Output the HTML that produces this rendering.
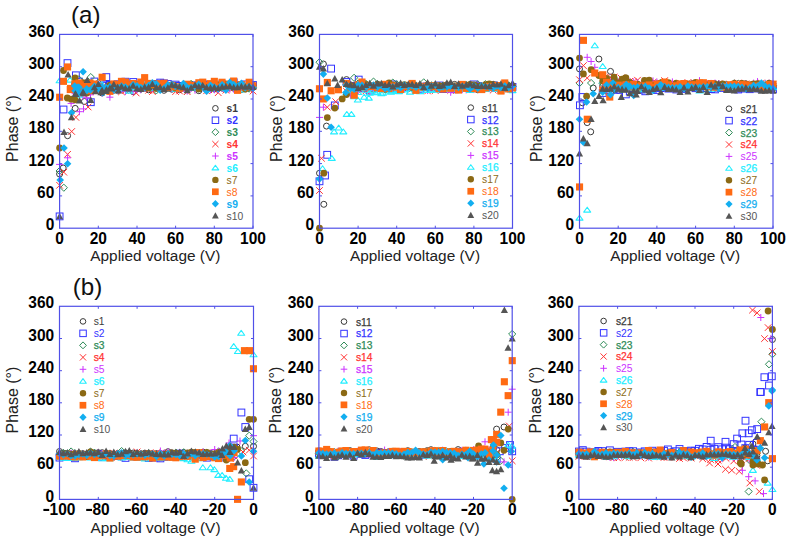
<!DOCTYPE html><html><head><meta charset="utf-8"><style>
html,body{margin:0;padding:0;background:#fff;width:790px;height:544px;overflow:hidden}
svg{display:block}
text{font-family:"Liberation Sans",sans-serif}
.tk{font-size:15.5px;font-weight:bold;fill:#000}
.al{font-size:15.4px;fill:#222}
.lg{font-size:10.3px}
.ph{font-size:16px}
.pl{font-size:22px;fill:#111}
</style></head><body><svg width="790" height="544" viewBox="0 0 790 544">
<text transform="translate(54.3,230.3) scale(1,1.1)" text-anchor="end" class="tk">0</text>
<text transform="translate(54.3,198.0) scale(1,1.1)" text-anchor="end" class="tk">60</text>
<text transform="translate(54.3,165.7) scale(1,1.1)" text-anchor="end" class="tk">120</text>
<text transform="translate(54.3,133.4) scale(1,1.1)" text-anchor="end" class="tk">180</text>
<text transform="translate(54.3,101.1) scale(1,1.1)" text-anchor="end" class="tk">240</text>
<text transform="translate(54.3,68.8) scale(1,1.1)" text-anchor="end" class="tk">300</text>
<text transform="translate(54.3,36.5) scale(1,1.1)" text-anchor="end" class="tk">360</text>
<text transform="translate(59.6,244.0) scale(1,1.1)" text-anchor="middle" class="tk">0</text>
<text transform="translate(98.3,244.0) scale(1,1.1)" text-anchor="middle" class="tk">20</text>
<text transform="translate(137.0,244.0) scale(1,1.1)" text-anchor="middle" class="tk">40</text>
<text transform="translate(175.6,244.0) scale(1,1.1)" text-anchor="middle" class="tk">60</text>
<text transform="translate(214.3,244.0) scale(1,1.1)" text-anchor="middle" class="tk">80</text>
<text transform="translate(253.0,244.0) scale(1,1.1)" text-anchor="middle" class="tk">100</text>
<text x="155.3" y="261.4" text-anchor="middle" class="al">Applied voltage (V)</text>
<text transform="translate(18.3,128.5) rotate(-90)" text-anchor="middle" class="al ph">Phase (°)</text>
<text transform="translate(314.2,230.3) scale(1,1.1)" text-anchor="end" class="tk">0</text>
<text transform="translate(314.2,198.0) scale(1,1.1)" text-anchor="end" class="tk">60</text>
<text transform="translate(314.2,165.7) scale(1,1.1)" text-anchor="end" class="tk">120</text>
<text transform="translate(314.2,133.4) scale(1,1.1)" text-anchor="end" class="tk">180</text>
<text transform="translate(314.2,101.1) scale(1,1.1)" text-anchor="end" class="tk">240</text>
<text transform="translate(314.2,68.8) scale(1,1.1)" text-anchor="end" class="tk">300</text>
<text transform="translate(314.2,36.5) scale(1,1.1)" text-anchor="end" class="tk">360</text>
<text transform="translate(319.5,244.0) scale(1,1.1)" text-anchor="middle" class="tk">0</text>
<text transform="translate(358.1,244.0) scale(1,1.1)" text-anchor="middle" class="tk">20</text>
<text transform="translate(396.7,244.0) scale(1,1.1)" text-anchor="middle" class="tk">40</text>
<text transform="translate(435.3,244.0) scale(1,1.1)" text-anchor="middle" class="tk">60</text>
<text transform="translate(473.9,244.0) scale(1,1.1)" text-anchor="middle" class="tk">80</text>
<text transform="translate(512.5,244.0) scale(1,1.1)" text-anchor="middle" class="tk">100</text>
<text x="415.0" y="261.4" text-anchor="middle" class="al">Applied voltage (V)</text>
<text transform="translate(281.9,128.5) rotate(-90)" text-anchor="middle" class="al ph">Phase (°)</text>
<text transform="translate(574.2,230.3) scale(1,1.1)" text-anchor="end" class="tk">0</text>
<text transform="translate(574.2,198.0) scale(1,1.1)" text-anchor="end" class="tk">60</text>
<text transform="translate(574.2,165.7) scale(1,1.1)" text-anchor="end" class="tk">120</text>
<text transform="translate(574.2,133.4) scale(1,1.1)" text-anchor="end" class="tk">180</text>
<text transform="translate(574.2,101.1) scale(1,1.1)" text-anchor="end" class="tk">240</text>
<text transform="translate(574.2,68.8) scale(1,1.1)" text-anchor="end" class="tk">300</text>
<text transform="translate(574.2,36.5) scale(1,1.1)" text-anchor="end" class="tk">360</text>
<text transform="translate(579.5,244.0) scale(1,1.1)" text-anchor="middle" class="tk">0</text>
<text transform="translate(618.2,244.0) scale(1,1.1)" text-anchor="middle" class="tk">20</text>
<text transform="translate(656.9,244.0) scale(1,1.1)" text-anchor="middle" class="tk">40</text>
<text transform="translate(695.6,244.0) scale(1,1.1)" text-anchor="middle" class="tk">60</text>
<text transform="translate(734.3,244.0) scale(1,1.1)" text-anchor="middle" class="tk">80</text>
<text transform="translate(773.0,244.0) scale(1,1.1)" text-anchor="middle" class="tk">100</text>
<text x="675.2" y="261.4" text-anchor="middle" class="al">Applied voltage (V)</text>
<text transform="translate(541.9,128.5) rotate(-90)" text-anchor="middle" class="al ph">Phase (°)</text>
<text transform="translate(54.2,501.5) scale(1,1.1)" text-anchor="end" class="tk">0</text>
<text transform="translate(54.2,469.3) scale(1,1.1)" text-anchor="end" class="tk">60</text>
<text transform="translate(54.2,437.1) scale(1,1.1)" text-anchor="end" class="tk">120</text>
<text transform="translate(54.2,404.9) scale(1,1.1)" text-anchor="end" class="tk">180</text>
<text transform="translate(54.2,372.8) scale(1,1.1)" text-anchor="end" class="tk">240</text>
<text transform="translate(54.2,340.6) scale(1,1.1)" text-anchor="end" class="tk">300</text>
<text transform="translate(54.2,308.4) scale(1,1.1)" text-anchor="end" class="tk">360</text>
<rect x="43.4" y="508.9" width="5.8" height="2.1" fill="#000"/>
<text transform="translate(49.6,515.2) scale(1,1.1)" class="tk">100</text>
<rect x="86.2" y="508.9" width="5.8" height="2.1" fill="#000"/>
<text transform="translate(92.5,515.2) scale(1,1.1)" class="tk">80</text>
<rect x="125.0" y="508.9" width="5.8" height="2.1" fill="#000"/>
<text transform="translate(131.2,515.2) scale(1,1.1)" class="tk">60</text>
<rect x="163.8" y="508.9" width="5.8" height="2.1" fill="#000"/>
<text transform="translate(170.1,515.2) scale(1,1.1)" class="tk">40</text>
<rect x="202.6" y="508.9" width="5.8" height="2.1" fill="#000"/>
<text transform="translate(208.8,515.2) scale(1,1.1)" class="tk">20</text>
<text transform="translate(253.5,515.2) scale(1,1.1)" text-anchor="middle" class="tk">0</text>
<text x="155.5" y="532.6" text-anchor="middle" class="al">Applied voltage (V)</text>
<text transform="translate(18.3,400.1) rotate(-90)" text-anchor="middle" class="al ph">Phase (°)</text>
<text transform="translate(313.6,501.5) scale(1,1.1)" text-anchor="end" class="tk">0</text>
<text transform="translate(313.6,469.3) scale(1,1.1)" text-anchor="end" class="tk">60</text>
<text transform="translate(313.6,437.1) scale(1,1.1)" text-anchor="end" class="tk">120</text>
<text transform="translate(313.6,404.9) scale(1,1.1)" text-anchor="end" class="tk">180</text>
<text transform="translate(313.6,372.8) scale(1,1.1)" text-anchor="end" class="tk">240</text>
<text transform="translate(313.6,340.6) scale(1,1.1)" text-anchor="end" class="tk">300</text>
<text transform="translate(313.6,308.4) scale(1,1.1)" text-anchor="end" class="tk">360</text>
<rect x="302.8" y="508.9" width="5.8" height="2.1" fill="#000"/>
<text transform="translate(309.0,515.2) scale(1,1.1)" class="tk">100</text>
<rect x="345.5" y="508.9" width="5.8" height="2.1" fill="#000"/>
<text transform="translate(351.7,515.2) scale(1,1.1)" class="tk">80</text>
<rect x="384.2" y="508.9" width="5.8" height="2.1" fill="#000"/>
<text transform="translate(390.4,515.2) scale(1,1.1)" class="tk">60</text>
<rect x="422.8" y="508.9" width="5.8" height="2.1" fill="#000"/>
<text transform="translate(429.0,515.2) scale(1,1.1)" class="tk">40</text>
<rect x="461.5" y="508.9" width="5.8" height="2.1" fill="#000"/>
<text transform="translate(467.7,515.2) scale(1,1.1)" class="tk">20</text>
<text transform="translate(512.2,515.2) scale(1,1.1)" text-anchor="middle" class="tk">0</text>
<text x="414.6" y="532.6" text-anchor="middle" class="al">Applied voltage (V)</text>
<text transform="translate(281.3,400.1) rotate(-90)" text-anchor="middle" class="al ph">Phase (°)</text>
<text transform="translate(573.6,501.5) scale(1,1.1)" text-anchor="end" class="tk">0</text>
<text transform="translate(573.6,469.3) scale(1,1.1)" text-anchor="end" class="tk">60</text>
<text transform="translate(573.6,437.1) scale(1,1.1)" text-anchor="end" class="tk">120</text>
<text transform="translate(573.6,404.9) scale(1,1.1)" text-anchor="end" class="tk">180</text>
<text transform="translate(573.6,372.8) scale(1,1.1)" text-anchor="end" class="tk">240</text>
<text transform="translate(573.6,340.6) scale(1,1.1)" text-anchor="end" class="tk">300</text>
<text transform="translate(573.6,308.4) scale(1,1.1)" text-anchor="end" class="tk">360</text>
<rect x="562.8" y="508.9" width="5.8" height="2.1" fill="#000"/>
<text transform="translate(569.0,515.2) scale(1,1.1)" class="tk">100</text>
<rect x="605.6" y="508.9" width="5.8" height="2.1" fill="#000"/>
<text transform="translate(611.8,515.2) scale(1,1.1)" class="tk">80</text>
<rect x="644.2" y="508.9" width="5.8" height="2.1" fill="#000"/>
<text transform="translate(650.4,515.2) scale(1,1.1)" class="tk">60</text>
<rect x="683.0" y="508.9" width="5.8" height="2.1" fill="#000"/>
<text transform="translate(689.1,515.2) scale(1,1.1)" class="tk">40</text>
<rect x="721.7" y="508.9" width="5.8" height="2.1" fill="#000"/>
<text transform="translate(727.9,515.2) scale(1,1.1)" class="tk">20</text>
<text transform="translate(772.4,515.2) scale(1,1.1)" text-anchor="middle" class="tk">0</text>
<text x="674.6" y="532.6" text-anchor="middle" class="al">Applied voltage (V)</text>
<text transform="translate(541.3,400.1) rotate(-90)" text-anchor="middle" class="al ph">Phase (°)</text>
<circle cx="75.1" cy="89.1" r="3.0" fill="none" stroke="#3a3a3a" stroke-width="1"/>
<circle cx="78.9" cy="90.3" r="3.0" fill="none" stroke="#3a3a3a" stroke-width="1"/>
<circle cx="82.8" cy="90.0" r="3.0" fill="none" stroke="#3a3a3a" stroke-width="1"/>
<circle cx="86.7" cy="82.6" r="3.0" fill="none" stroke="#3a3a3a" stroke-width="1"/>
<circle cx="90.5" cy="85.3" r="3.0" fill="none" stroke="#3a3a3a" stroke-width="1"/>
<circle cx="94.4" cy="88.4" r="3.0" fill="none" stroke="#3a3a3a" stroke-width="1"/>
<circle cx="98.3" cy="87.4" r="3.0" fill="none" stroke="#3a3a3a" stroke-width="1"/>
<circle cx="102.1" cy="93.0" r="3.0" fill="none" stroke="#3a3a3a" stroke-width="1"/>
<circle cx="106.0" cy="88.7" r="3.0" fill="none" stroke="#3a3a3a" stroke-width="1"/>
<circle cx="109.9" cy="90.3" r="3.0" fill="none" stroke="#3a3a3a" stroke-width="1"/>
<circle cx="113.8" cy="87.0" r="3.0" fill="none" stroke="#3a3a3a" stroke-width="1"/>
<circle cx="117.6" cy="88.1" r="3.0" fill="none" stroke="#3a3a3a" stroke-width="1"/>
<circle cx="121.5" cy="88.7" r="3.0" fill="none" stroke="#3a3a3a" stroke-width="1"/>
<circle cx="125.4" cy="87.7" r="3.0" fill="none" stroke="#3a3a3a" stroke-width="1"/>
<circle cx="129.2" cy="86.8" r="3.0" fill="none" stroke="#3a3a3a" stroke-width="1"/>
<circle cx="133.1" cy="91.6" r="3.0" fill="none" stroke="#3a3a3a" stroke-width="1"/>
<circle cx="137.0" cy="88.9" r="3.0" fill="none" stroke="#3a3a3a" stroke-width="1"/>
<circle cx="140.8" cy="87.4" r="3.0" fill="none" stroke="#3a3a3a" stroke-width="1"/>
<circle cx="144.7" cy="88.2" r="3.0" fill="none" stroke="#3a3a3a" stroke-width="1"/>
<circle cx="148.6" cy="89.8" r="3.0" fill="none" stroke="#3a3a3a" stroke-width="1"/>
<circle cx="152.4" cy="87.7" r="3.0" fill="none" stroke="#3a3a3a" stroke-width="1"/>
<circle cx="156.3" cy="88.1" r="3.0" fill="none" stroke="#3a3a3a" stroke-width="1"/>
<circle cx="160.2" cy="88.9" r="3.0" fill="none" stroke="#3a3a3a" stroke-width="1"/>
<circle cx="164.0" cy="90.3" r="3.0" fill="none" stroke="#3a3a3a" stroke-width="1"/>
<circle cx="167.9" cy="88.2" r="3.0" fill="none" stroke="#3a3a3a" stroke-width="1"/>
<circle cx="171.8" cy="89.2" r="3.0" fill="none" stroke="#3a3a3a" stroke-width="1"/>
<circle cx="175.6" cy="88.6" r="3.0" fill="none" stroke="#3a3a3a" stroke-width="1"/>
<circle cx="179.5" cy="89.8" r="3.0" fill="none" stroke="#3a3a3a" stroke-width="1"/>
<circle cx="183.4" cy="87.4" r="3.0" fill="none" stroke="#3a3a3a" stroke-width="1"/>
<circle cx="187.2" cy="87.3" r="3.0" fill="none" stroke="#3a3a3a" stroke-width="1"/>
<circle cx="191.1" cy="86.8" r="3.0" fill="none" stroke="#3a3a3a" stroke-width="1"/>
<circle cx="195.0" cy="86.8" r="3.0" fill="none" stroke="#3a3a3a" stroke-width="1"/>
<circle cx="198.8" cy="90.7" r="3.0" fill="none" stroke="#3a3a3a" stroke-width="1"/>
<circle cx="202.7" cy="87.2" r="3.0" fill="none" stroke="#3a3a3a" stroke-width="1"/>
<circle cx="206.6" cy="86.6" r="3.0" fill="none" stroke="#3a3a3a" stroke-width="1"/>
<circle cx="210.5" cy="88.3" r="3.0" fill="none" stroke="#3a3a3a" stroke-width="1"/>
<circle cx="214.3" cy="89.0" r="3.0" fill="none" stroke="#3a3a3a" stroke-width="1"/>
<circle cx="218.2" cy="86.1" r="3.0" fill="none" stroke="#3a3a3a" stroke-width="1"/>
<circle cx="222.1" cy="88.1" r="3.0" fill="none" stroke="#3a3a3a" stroke-width="1"/>
<circle cx="225.9" cy="87.9" r="3.0" fill="none" stroke="#3a3a3a" stroke-width="1"/>
<circle cx="229.8" cy="86.5" r="3.0" fill="none" stroke="#3a3a3a" stroke-width="1"/>
<circle cx="233.7" cy="88.2" r="3.0" fill="none" stroke="#3a3a3a" stroke-width="1"/>
<circle cx="237.5" cy="89.4" r="3.0" fill="none" stroke="#3a3a3a" stroke-width="1"/>
<circle cx="241.4" cy="89.5" r="3.0" fill="none" stroke="#3a3a3a" stroke-width="1"/>
<circle cx="245.3" cy="87.5" r="3.0" fill="none" stroke="#3a3a3a" stroke-width="1"/>
<circle cx="249.1" cy="87.8" r="3.0" fill="none" stroke="#3a3a3a" stroke-width="1"/>
<circle cx="253.0" cy="85.4" r="3.0" fill="none" stroke="#3a3a3a" stroke-width="1"/>
<circle cx="75.2" cy="108.4" r="3.0" fill="none" stroke="#3a3a3a" stroke-width="1"/>
<circle cx="84.4" cy="101.5" r="3.0" fill="none" stroke="#3a3a3a" stroke-width="1"/>
<circle cx="67.6" cy="135.7" r="3.0" fill="none" stroke="#3a3a3a" stroke-width="1"/>
<circle cx="63.2" cy="168.0" r="3.0" fill="none" stroke="#3a3a3a" stroke-width="1"/>
<circle cx="59.6" cy="174.0" r="3.0" fill="none" stroke="#3a3a3a" stroke-width="1"/>
<rect x="71.7" y="83.2" width="6.8" height="6.8" fill="none" stroke="#3333ff" stroke-width="1"/>
<rect x="75.5" y="78.2" width="6.8" height="6.8" fill="none" stroke="#3333ff" stroke-width="1"/>
<rect x="79.4" y="84.0" width="6.8" height="6.8" fill="none" stroke="#3333ff" stroke-width="1"/>
<rect x="83.3" y="88.0" width="6.8" height="6.8" fill="none" stroke="#3333ff" stroke-width="1"/>
<rect x="87.1" y="82.6" width="6.8" height="6.8" fill="none" stroke="#3333ff" stroke-width="1"/>
<rect x="91.0" y="78.1" width="6.8" height="6.8" fill="none" stroke="#3333ff" stroke-width="1"/>
<rect x="94.9" y="84.9" width="6.8" height="6.8" fill="none" stroke="#3333ff" stroke-width="1"/>
<rect x="98.7" y="82.1" width="6.8" height="6.8" fill="none" stroke="#3333ff" stroke-width="1"/>
<rect x="102.6" y="82.1" width="6.8" height="6.8" fill="none" stroke="#3333ff" stroke-width="1"/>
<rect x="106.5" y="81.5" width="6.8" height="6.8" fill="none" stroke="#3333ff" stroke-width="1"/>
<rect x="110.4" y="82.1" width="6.8" height="6.8" fill="none" stroke="#3333ff" stroke-width="1"/>
<rect x="114.2" y="80.8" width="6.8" height="6.8" fill="none" stroke="#3333ff" stroke-width="1"/>
<rect x="118.1" y="81.9" width="6.8" height="6.8" fill="none" stroke="#3333ff" stroke-width="1"/>
<rect x="122.0" y="78.3" width="6.8" height="6.8" fill="none" stroke="#3333ff" stroke-width="1"/>
<rect x="125.8" y="82.0" width="6.8" height="6.8" fill="none" stroke="#3333ff" stroke-width="1"/>
<rect x="129.7" y="82.0" width="6.8" height="6.8" fill="none" stroke="#3333ff" stroke-width="1"/>
<rect x="133.6" y="81.4" width="6.8" height="6.8" fill="none" stroke="#3333ff" stroke-width="1"/>
<rect x="137.4" y="82.1" width="6.8" height="6.8" fill="none" stroke="#3333ff" stroke-width="1"/>
<rect x="141.3" y="82.8" width="6.8" height="6.8" fill="none" stroke="#3333ff" stroke-width="1"/>
<rect x="145.2" y="82.5" width="6.8" height="6.8" fill="none" stroke="#3333ff" stroke-width="1"/>
<rect x="149.0" y="80.5" width="6.8" height="6.8" fill="none" stroke="#3333ff" stroke-width="1"/>
<rect x="152.9" y="81.0" width="6.8" height="6.8" fill="none" stroke="#3333ff" stroke-width="1"/>
<rect x="156.8" y="79.2" width="6.8" height="6.8" fill="none" stroke="#3333ff" stroke-width="1"/>
<rect x="160.6" y="79.9" width="6.8" height="6.8" fill="none" stroke="#3333ff" stroke-width="1"/>
<rect x="164.5" y="80.6" width="6.8" height="6.8" fill="none" stroke="#3333ff" stroke-width="1"/>
<rect x="168.4" y="83.0" width="6.8" height="6.8" fill="none" stroke="#3333ff" stroke-width="1"/>
<rect x="172.2" y="81.2" width="6.8" height="6.8" fill="none" stroke="#3333ff" stroke-width="1"/>
<rect x="176.1" y="82.5" width="6.8" height="6.8" fill="none" stroke="#3333ff" stroke-width="1"/>
<rect x="180.0" y="83.4" width="6.8" height="6.8" fill="none" stroke="#3333ff" stroke-width="1"/>
<rect x="183.8" y="83.3" width="6.8" height="6.8" fill="none" stroke="#3333ff" stroke-width="1"/>
<rect x="187.7" y="83.1" width="6.8" height="6.8" fill="none" stroke="#3333ff" stroke-width="1"/>
<rect x="191.6" y="81.9" width="6.8" height="6.8" fill="none" stroke="#3333ff" stroke-width="1"/>
<rect x="195.4" y="82.8" width="6.8" height="6.8" fill="none" stroke="#3333ff" stroke-width="1"/>
<rect x="199.3" y="80.6" width="6.8" height="6.8" fill="none" stroke="#3333ff" stroke-width="1"/>
<rect x="203.2" y="81.7" width="6.8" height="6.8" fill="none" stroke="#3333ff" stroke-width="1"/>
<rect x="207.1" y="84.6" width="6.8" height="6.8" fill="none" stroke="#3333ff" stroke-width="1"/>
<rect x="210.9" y="82.8" width="6.8" height="6.8" fill="none" stroke="#3333ff" stroke-width="1"/>
<rect x="214.8" y="82.0" width="6.8" height="6.8" fill="none" stroke="#3333ff" stroke-width="1"/>
<rect x="218.7" y="81.0" width="6.8" height="6.8" fill="none" stroke="#3333ff" stroke-width="1"/>
<rect x="222.5" y="84.0" width="6.8" height="6.8" fill="none" stroke="#3333ff" stroke-width="1"/>
<rect x="226.4" y="82.1" width="6.8" height="6.8" fill="none" stroke="#3333ff" stroke-width="1"/>
<rect x="230.3" y="78.9" width="6.8" height="6.8" fill="none" stroke="#3333ff" stroke-width="1"/>
<rect x="234.1" y="82.1" width="6.8" height="6.8" fill="none" stroke="#3333ff" stroke-width="1"/>
<rect x="238.0" y="83.0" width="6.8" height="6.8" fill="none" stroke="#3333ff" stroke-width="1"/>
<rect x="241.9" y="81.0" width="6.8" height="6.8" fill="none" stroke="#3333ff" stroke-width="1"/>
<rect x="245.7" y="83.1" width="6.8" height="6.8" fill="none" stroke="#3333ff" stroke-width="1"/>
<rect x="249.6" y="81.6" width="6.8" height="6.8" fill="none" stroke="#3333ff" stroke-width="1"/>
<rect x="64.1" y="59.7" width="6.8" height="6.8" fill="none" stroke="#3333ff" stroke-width="1"/>
<rect x="72.5" y="71.9" width="6.8" height="6.8" fill="none" stroke="#3333ff" stroke-width="1"/>
<rect x="102.9" y="73.7" width="6.8" height="6.8" fill="none" stroke="#3333ff" stroke-width="1"/>
<rect x="87.4" y="98.8" width="6.8" height="6.8" fill="none" stroke="#3333ff" stroke-width="1"/>
<rect x="60.1" y="106.1" width="6.8" height="6.8" fill="none" stroke="#3333ff" stroke-width="1"/>
<rect x="56.2" y="213.0" width="6.8" height="6.8" fill="none" stroke="#3333ff" stroke-width="1"/>
<rect x="129.9" y="78.6" width="6.8" height="6.8" fill="none" stroke="#3333ff" stroke-width="1"/>
<path d="M75.1 82.6L78.7 86.2L75.1 89.8L71.5 86.2Z" fill="none" stroke="#2e8b57" stroke-width="1"/>
<path d="M78.9 75.7L82.5 79.3L78.9 82.9L75.3 79.3Z" fill="none" stroke="#2e8b57" stroke-width="1"/>
<path d="M82.8 85.5L86.4 89.1L82.8 92.7L79.2 89.1Z" fill="none" stroke="#2e8b57" stroke-width="1"/>
<path d="M86.7 84.1L90.3 87.7L86.7 91.3L83.1 87.7Z" fill="none" stroke="#2e8b57" stroke-width="1"/>
<path d="M90.5 82.2L94.1 85.8L90.5 89.4L86.9 85.8Z" fill="none" stroke="#2e8b57" stroke-width="1"/>
<path d="M94.4 83.9L98.0 87.5L94.4 91.1L90.8 87.5Z" fill="none" stroke="#2e8b57" stroke-width="1"/>
<path d="M98.3 79.1L101.9 82.7L98.3 86.3L94.7 82.7Z" fill="none" stroke="#2e8b57" stroke-width="1"/>
<path d="M102.1 85.8L105.7 89.4L102.1 93.0L98.5 89.4Z" fill="none" stroke="#2e8b57" stroke-width="1"/>
<path d="M106.0 83.4L109.6 87.0L106.0 90.6L102.4 87.0Z" fill="none" stroke="#2e8b57" stroke-width="1"/>
<path d="M109.9 85.6L113.5 89.2L109.9 92.8L106.3 89.2Z" fill="none" stroke="#2e8b57" stroke-width="1"/>
<path d="M113.8 86.7L117.4 90.3L113.8 93.9L110.2 90.3Z" fill="none" stroke="#2e8b57" stroke-width="1"/>
<path d="M117.6 87.0L121.2 90.6L117.6 94.2L114.0 90.6Z" fill="none" stroke="#2e8b57" stroke-width="1"/>
<path d="M121.5 82.2L125.1 85.8L121.5 89.4L117.9 85.8Z" fill="none" stroke="#2e8b57" stroke-width="1"/>
<path d="M125.4 84.7L129.0 88.3L125.4 91.9L121.8 88.3Z" fill="none" stroke="#2e8b57" stroke-width="1"/>
<path d="M129.2 82.3L132.8 85.9L129.2 89.5L125.6 85.9Z" fill="none" stroke="#2e8b57" stroke-width="1"/>
<path d="M133.1 83.5L136.7 87.1L133.1 90.7L129.5 87.1Z" fill="none" stroke="#2e8b57" stroke-width="1"/>
<path d="M137.0 82.7L140.6 86.3L137.0 89.9L133.4 86.3Z" fill="none" stroke="#2e8b57" stroke-width="1"/>
<path d="M140.8 85.7L144.4 89.3L140.8 92.9L137.2 89.3Z" fill="none" stroke="#2e8b57" stroke-width="1"/>
<path d="M144.7 80.0L148.3 83.6L144.7 87.2L141.1 83.6Z" fill="none" stroke="#2e8b57" stroke-width="1"/>
<path d="M148.6 83.7L152.2 87.3L148.6 90.9L145.0 87.3Z" fill="none" stroke="#2e8b57" stroke-width="1"/>
<path d="M152.4 84.5L156.0 88.1L152.4 91.7L148.8 88.1Z" fill="none" stroke="#2e8b57" stroke-width="1"/>
<path d="M156.3 86.8L159.9 90.4L156.3 94.0L152.7 90.4Z" fill="none" stroke="#2e8b57" stroke-width="1"/>
<path d="M160.2 82.3L163.8 85.9L160.2 89.5L156.6 85.9Z" fill="none" stroke="#2e8b57" stroke-width="1"/>
<path d="M164.0 82.2L167.6 85.8L164.0 89.4L160.4 85.8Z" fill="none" stroke="#2e8b57" stroke-width="1"/>
<path d="M167.9 84.2L171.5 87.8L167.9 91.4L164.3 87.8Z" fill="none" stroke="#2e8b57" stroke-width="1"/>
<path d="M171.8 84.3L175.4 87.9L171.8 91.5L168.2 87.9Z" fill="none" stroke="#2e8b57" stroke-width="1"/>
<path d="M175.6 84.8L179.2 88.4L175.6 92.0L172.0 88.4Z" fill="none" stroke="#2e8b57" stroke-width="1"/>
<path d="M179.5 84.6L183.1 88.2L179.5 91.8L175.9 88.2Z" fill="none" stroke="#2e8b57" stroke-width="1"/>
<path d="M183.4 83.7L187.0 87.3L183.4 90.9L179.8 87.3Z" fill="none" stroke="#2e8b57" stroke-width="1"/>
<path d="M187.2 83.2L190.8 86.8L187.2 90.4L183.6 86.8Z" fill="none" stroke="#2e8b57" stroke-width="1"/>
<path d="M191.1 80.3L194.7 83.9L191.1 87.5L187.5 83.9Z" fill="none" stroke="#2e8b57" stroke-width="1"/>
<path d="M195.0 84.4L198.6 88.0L195.0 91.6L191.4 88.0Z" fill="none" stroke="#2e8b57" stroke-width="1"/>
<path d="M198.8 85.0L202.4 88.6L198.8 92.2L195.2 88.6Z" fill="none" stroke="#2e8b57" stroke-width="1"/>
<path d="M202.7 83.4L206.3 87.0L202.7 90.6L199.1 87.0Z" fill="none" stroke="#2e8b57" stroke-width="1"/>
<path d="M206.6 86.0L210.2 89.6L206.6 93.2L203.0 89.6Z" fill="none" stroke="#2e8b57" stroke-width="1"/>
<path d="M210.5 85.3L214.1 88.9L210.5 92.5L206.9 88.9Z" fill="none" stroke="#2e8b57" stroke-width="1"/>
<path d="M214.3 84.0L217.9 87.6L214.3 91.2L210.7 87.6Z" fill="none" stroke="#2e8b57" stroke-width="1"/>
<path d="M218.2 83.8L221.8 87.4L218.2 91.0L214.6 87.4Z" fill="none" stroke="#2e8b57" stroke-width="1"/>
<path d="M222.1 83.1L225.7 86.7L222.1 90.3L218.5 86.7Z" fill="none" stroke="#2e8b57" stroke-width="1"/>
<path d="M225.9 83.9L229.5 87.5L225.9 91.1L222.3 87.5Z" fill="none" stroke="#2e8b57" stroke-width="1"/>
<path d="M229.8 82.7L233.4 86.3L229.8 89.9L226.2 86.3Z" fill="none" stroke="#2e8b57" stroke-width="1"/>
<path d="M233.7 83.7L237.3 87.3L233.7 90.9L230.1 87.3Z" fill="none" stroke="#2e8b57" stroke-width="1"/>
<path d="M237.5 82.3L241.1 85.9L237.5 89.5L233.9 85.9Z" fill="none" stroke="#2e8b57" stroke-width="1"/>
<path d="M241.4 83.8L245.0 87.4L241.4 91.0L237.8 87.4Z" fill="none" stroke="#2e8b57" stroke-width="1"/>
<path d="M245.3 84.3L248.9 87.9L245.3 91.5L241.7 87.9Z" fill="none" stroke="#2e8b57" stroke-width="1"/>
<path d="M249.1 85.0L252.7 88.6L249.1 92.2L245.5 88.6Z" fill="none" stroke="#2e8b57" stroke-width="1"/>
<path d="M253.0 84.3L256.6 87.9L253.0 91.5L249.4 87.9Z" fill="none" stroke="#2e8b57" stroke-width="1"/>
<path d="M90.8 73.5L94.4 77.1L90.8 80.7L87.2 77.1Z" fill="none" stroke="#2e8b57" stroke-width="1"/>
<path d="M59.6 167.4L63.2 171.0L59.6 174.6L56.0 171.0Z" fill="none" stroke="#2e8b57" stroke-width="1"/>
<path d="M63.8 184.1L67.4 187.7L63.8 191.3L60.2 187.7Z" fill="none" stroke="#2e8b57" stroke-width="1"/>
<path d="M71.8 85.4L78.4 92.0M78.4 85.4L71.8 92.0" stroke="#ff3333" stroke-width="1"/>
<path d="M75.6 85.1L82.2 91.7M82.2 85.1L75.6 91.7" stroke="#ff3333" stroke-width="1"/>
<path d="M79.5 90.0L86.1 96.6M86.1 90.0L79.5 96.6" stroke="#ff3333" stroke-width="1"/>
<path d="M83.4 86.7L90.0 93.3M90.0 86.7L83.4 93.3" stroke="#ff3333" stroke-width="1"/>
<path d="M87.2 88.0L93.8 94.6M93.8 88.0L87.2 94.6" stroke="#ff3333" stroke-width="1"/>
<path d="M91.1 84.3L97.7 90.9M97.7 84.3L91.1 90.9" stroke="#ff3333" stroke-width="1"/>
<path d="M95.0 83.5L101.6 90.1M101.6 83.5L95.0 90.1" stroke="#ff3333" stroke-width="1"/>
<path d="M98.8 83.4L105.4 90.0M105.4 83.4L98.8 90.0" stroke="#ff3333" stroke-width="1"/>
<path d="M102.7 88.1L109.3 94.7M109.3 88.1L102.7 94.7" stroke="#ff3333" stroke-width="1"/>
<path d="M106.6 84.5L113.2 91.1M113.2 84.5L106.6 91.1" stroke="#ff3333" stroke-width="1"/>
<path d="M110.5 86.8L117.1 93.4M117.1 86.8L110.5 93.4" stroke="#ff3333" stroke-width="1"/>
<path d="M114.3 83.4L120.9 90.0M120.9 83.4L114.3 90.0" stroke="#ff3333" stroke-width="1"/>
<path d="M118.2 88.5L124.8 95.1M124.8 88.5L118.2 95.1" stroke="#ff3333" stroke-width="1"/>
<path d="M122.1 87.2L128.7 93.8M128.7 87.2L122.1 93.8" stroke="#ff3333" stroke-width="1"/>
<path d="M125.9 87.3L132.5 93.9M132.5 87.3L125.9 93.9" stroke="#ff3333" stroke-width="1"/>
<path d="M129.8 84.0L136.4 90.6M136.4 84.0L129.8 90.6" stroke="#ff3333" stroke-width="1"/>
<path d="M133.7 80.8L140.3 87.4M140.3 80.8L133.7 87.4" stroke="#ff3333" stroke-width="1"/>
<path d="M137.5 84.6L144.1 91.2M144.1 84.6L137.5 91.2" stroke="#ff3333" stroke-width="1"/>
<path d="M141.4 83.5L148.0 90.1M148.0 83.5L141.4 90.1" stroke="#ff3333" stroke-width="1"/>
<path d="M145.3 87.0L151.9 93.6M151.9 87.0L145.3 93.6" stroke="#ff3333" stroke-width="1"/>
<path d="M149.1 88.3L155.7 94.9M155.7 88.3L149.1 94.9" stroke="#ff3333" stroke-width="1"/>
<path d="M153.0 85.6L159.6 92.2M159.6 85.6L153.0 92.2" stroke="#ff3333" stroke-width="1"/>
<path d="M156.9 83.2L163.5 89.8M163.5 83.2L156.9 89.8" stroke="#ff3333" stroke-width="1"/>
<path d="M160.7 84.1L167.3 90.7M167.3 84.1L160.7 90.7" stroke="#ff3333" stroke-width="1"/>
<path d="M164.6 84.2L171.2 90.8M171.2 84.2L164.6 90.8" stroke="#ff3333" stroke-width="1"/>
<path d="M168.5 84.1L175.1 90.7M175.1 84.1L168.5 90.7" stroke="#ff3333" stroke-width="1"/>
<path d="M172.3 88.3L178.9 94.9M178.9 88.3L172.3 94.9" stroke="#ff3333" stroke-width="1"/>
<path d="M176.2 87.7L182.8 94.3M182.8 87.7L176.2 94.3" stroke="#ff3333" stroke-width="1"/>
<path d="M180.1 84.7L186.7 91.3M186.7 84.7L180.1 91.3" stroke="#ff3333" stroke-width="1"/>
<path d="M183.9 88.4L190.5 95.0M190.5 88.4L183.9 95.0" stroke="#ff3333" stroke-width="1"/>
<path d="M187.8 83.5L194.4 90.1M194.4 83.5L187.8 90.1" stroke="#ff3333" stroke-width="1"/>
<path d="M191.7 84.3L198.3 90.9M198.3 84.3L191.7 90.9" stroke="#ff3333" stroke-width="1"/>
<path d="M195.5 83.2L202.1 89.8M202.1 83.2L195.5 89.8" stroke="#ff3333" stroke-width="1"/>
<path d="M199.4 83.8L206.0 90.4M206.0 83.8L199.4 90.4" stroke="#ff3333" stroke-width="1"/>
<path d="M203.3 87.5L209.9 94.1M209.9 87.5L203.3 94.1" stroke="#ff3333" stroke-width="1"/>
<path d="M207.2 82.9L213.8 89.5M213.8 82.9L207.2 89.5" stroke="#ff3333" stroke-width="1"/>
<path d="M211.0 86.4L217.6 93.0M217.6 86.4L211.0 93.0" stroke="#ff3333" stroke-width="1"/>
<path d="M214.9 89.4L221.5 96.0M221.5 89.4L214.9 96.0" stroke="#ff3333" stroke-width="1"/>
<path d="M218.8 85.6L225.4 92.2M225.4 85.6L218.8 92.2" stroke="#ff3333" stroke-width="1"/>
<path d="M222.6 86.9L229.2 93.5M229.2 86.9L222.6 93.5" stroke="#ff3333" stroke-width="1"/>
<path d="M226.5 84.0L233.1 90.6M233.1 84.0L226.5 90.6" stroke="#ff3333" stroke-width="1"/>
<path d="M230.4 84.7L237.0 91.3M237.0 84.7L230.4 91.3" stroke="#ff3333" stroke-width="1"/>
<path d="M234.2 85.0L240.8 91.6M240.8 85.0L234.2 91.6" stroke="#ff3333" stroke-width="1"/>
<path d="M238.1 85.2L244.7 91.8M244.7 85.2L238.1 91.8" stroke="#ff3333" stroke-width="1"/>
<path d="M242.0 83.0L248.6 89.6M248.6 83.0L242.0 89.6" stroke="#ff3333" stroke-width="1"/>
<path d="M245.8 85.9L252.4 92.5M252.4 85.9L245.8 92.5" stroke="#ff3333" stroke-width="1"/>
<path d="M249.7 87.8L256.3 94.4M256.3 87.8L249.7 94.4" stroke="#ff3333" stroke-width="1"/>
<path d="M72.6 114.1L79.2 120.7M79.2 114.1L72.6 120.7" stroke="#ff3333" stroke-width="1"/>
<path d="M84.8 103.7L91.4 110.3M91.4 103.7L84.8 110.3" stroke="#ff3333" stroke-width="1"/>
<path d="M68.4 128.2L75.0 134.8M75.0 128.2L68.4 134.8" stroke="#ff3333" stroke-width="1"/>
<path d="M64.3 151.0L70.9 157.6M70.9 151.0L64.3 157.6" stroke="#ff3333" stroke-width="1"/>
<path d="M60.5 168.9L67.1 175.5M67.1 168.9L60.5 175.5" stroke="#ff3333" stroke-width="1"/>
<path d="M56.3 182.0L62.9 188.6M62.9 182.0L56.3 188.6" stroke="#ff3333" stroke-width="1"/>
<path d="M132.9 89.7L139.5 96.3M139.5 89.7L132.9 96.3" stroke="#ff3333" stroke-width="1"/>
<path d="M71.6 93.7H78.6M75.1 90.2V97.2" stroke="#cc33ff" stroke-width="1"/>
<path d="M75.4 93.6H82.4M78.9 90.1V97.1" stroke="#cc33ff" stroke-width="1"/>
<path d="M79.3 95.9H86.3M82.8 92.4V99.4" stroke="#cc33ff" stroke-width="1"/>
<path d="M83.2 97.7H90.2M86.7 94.2V101.2" stroke="#cc33ff" stroke-width="1"/>
<path d="M87.0 94.8H94.0M90.5 91.3V98.3" stroke="#cc33ff" stroke-width="1"/>
<path d="M90.9 89.9H97.9M94.4 86.4V93.4" stroke="#cc33ff" stroke-width="1"/>
<path d="M94.8 85.9H101.8M98.3 82.4V89.4" stroke="#cc33ff" stroke-width="1"/>
<path d="M98.6 92.9H105.6M102.1 89.4V96.4" stroke="#cc33ff" stroke-width="1"/>
<path d="M102.5 87.7H109.5M106.0 84.2V91.2" stroke="#cc33ff" stroke-width="1"/>
<path d="M106.4 93.2H113.4M109.9 89.7V96.7" stroke="#cc33ff" stroke-width="1"/>
<path d="M110.3 89.8H117.3M113.8 86.3V93.3" stroke="#cc33ff" stroke-width="1"/>
<path d="M114.1 90.5H121.1M117.6 87.0V94.0" stroke="#cc33ff" stroke-width="1"/>
<path d="M118.0 89.0H125.0M121.5 85.5V92.5" stroke="#cc33ff" stroke-width="1"/>
<path d="M121.9 91.6H128.9M125.4 88.1V95.1" stroke="#cc33ff" stroke-width="1"/>
<path d="M125.7 88.8H132.7M129.2 85.3V92.3" stroke="#cc33ff" stroke-width="1"/>
<path d="M129.6 91.7H136.6M133.1 88.2V95.2" stroke="#cc33ff" stroke-width="1"/>
<path d="M133.5 89.6H140.5M137.0 86.1V93.1" stroke="#cc33ff" stroke-width="1"/>
<path d="M137.3 89.7H144.3M140.8 86.2V93.2" stroke="#cc33ff" stroke-width="1"/>
<path d="M141.2 87.9H148.2M144.7 84.4V91.4" stroke="#cc33ff" stroke-width="1"/>
<path d="M145.1 87.7H152.1M148.6 84.2V91.2" stroke="#cc33ff" stroke-width="1"/>
<path d="M148.9 88.4H155.9M152.4 84.9V91.9" stroke="#cc33ff" stroke-width="1"/>
<path d="M152.8 85.6H159.8M156.3 82.1V89.1" stroke="#cc33ff" stroke-width="1"/>
<path d="M156.7 86.9H163.7M160.2 83.4V90.4" stroke="#cc33ff" stroke-width="1"/>
<path d="M160.5 88.6H167.5M164.0 85.1V92.1" stroke="#cc33ff" stroke-width="1"/>
<path d="M164.4 87.6H171.4M167.9 84.1V91.1" stroke="#cc33ff" stroke-width="1"/>
<path d="M168.3 88.7H175.3M171.8 85.2V92.2" stroke="#cc33ff" stroke-width="1"/>
<path d="M172.1 87.5H179.1M175.6 84.0V91.0" stroke="#cc33ff" stroke-width="1"/>
<path d="M176.0 88.2H183.0M179.5 84.7V91.7" stroke="#cc33ff" stroke-width="1"/>
<path d="M179.9 88.5H186.9M183.4 85.0V92.0" stroke="#cc33ff" stroke-width="1"/>
<path d="M183.7 91.1H190.7M187.2 87.6V94.6" stroke="#cc33ff" stroke-width="1"/>
<path d="M187.6 88.4H194.6M191.1 84.9V91.9" stroke="#cc33ff" stroke-width="1"/>
<path d="M191.5 90.2H198.5M195.0 86.7V93.7" stroke="#cc33ff" stroke-width="1"/>
<path d="M195.3 88.3H202.3M198.8 84.8V91.8" stroke="#cc33ff" stroke-width="1"/>
<path d="M199.2 87.8H206.2M202.7 84.3V91.3" stroke="#cc33ff" stroke-width="1"/>
<path d="M203.1 88.3H210.1M206.6 84.8V91.8" stroke="#cc33ff" stroke-width="1"/>
<path d="M207.0 89.9H214.0M210.5 86.4V93.4" stroke="#cc33ff" stroke-width="1"/>
<path d="M210.8 89.8H217.8M214.3 86.3V93.3" stroke="#cc33ff" stroke-width="1"/>
<path d="M214.7 89.6H221.7M218.2 86.1V93.1" stroke="#cc33ff" stroke-width="1"/>
<path d="M218.6 88.2H225.6M222.1 84.7V91.7" stroke="#cc33ff" stroke-width="1"/>
<path d="M222.4 88.2H229.4M225.9 84.7V91.7" stroke="#cc33ff" stroke-width="1"/>
<path d="M226.3 89.2H233.3M229.8 85.7V92.7" stroke="#cc33ff" stroke-width="1"/>
<path d="M230.2 89.2H237.2M233.7 85.7V92.7" stroke="#cc33ff" stroke-width="1"/>
<path d="M234.0 89.5H241.0M237.5 86.0V93.0" stroke="#cc33ff" stroke-width="1"/>
<path d="M237.9 87.2H244.9M241.4 83.7V90.7" stroke="#cc33ff" stroke-width="1"/>
<path d="M241.8 88.0H248.8M245.3 84.5V91.5" stroke="#cc33ff" stroke-width="1"/>
<path d="M245.6 86.4H252.6M249.1 82.9V89.9" stroke="#cc33ff" stroke-width="1"/>
<path d="M249.5 86.8H256.5M253.0 83.3V90.3" stroke="#cc33ff" stroke-width="1"/>
<path d="M67.6 103.4H74.6M71.1 99.9V106.9" stroke="#cc33ff" stroke-width="1"/>
<path d="M75.9 111.7H82.9M79.4 108.2V115.2" stroke="#cc33ff" stroke-width="1"/>
<path d="M80.0 108.9H87.0M83.5 105.4V112.4" stroke="#cc33ff" stroke-width="1"/>
<path d="M106.4 97.2H113.4M109.9 93.7V100.7" stroke="#cc33ff" stroke-width="1"/>
<path d="M64.1 157.8H71.1M67.6 154.3V161.3" stroke="#cc33ff" stroke-width="1"/>
<path d="M56.1 164.4H63.1M59.6 160.9V167.9" stroke="#cc33ff" stroke-width="1"/>
<path d="M75.1 82.7L78.6 87.6H71.6Z" fill="none" stroke="#22eeff" stroke-width="1.1" stroke-linejoin="round"/>
<path d="M78.9 92.3L82.4 97.2H75.4Z" fill="none" stroke="#22eeff" stroke-width="1.1" stroke-linejoin="round"/>
<path d="M82.8 84.6L86.3 89.5H79.3Z" fill="none" stroke="#22eeff" stroke-width="1.1" stroke-linejoin="round"/>
<path d="M86.7 87.4L90.2 92.3H83.2Z" fill="none" stroke="#22eeff" stroke-width="1.1" stroke-linejoin="round"/>
<path d="M90.5 82.0L94.0 86.9H87.0Z" fill="none" stroke="#22eeff" stroke-width="1.1" stroke-linejoin="round"/>
<path d="M94.4 84.7L97.9 89.6H90.9Z" fill="none" stroke="#22eeff" stroke-width="1.1" stroke-linejoin="round"/>
<path d="M98.3 86.6L101.8 91.5H94.8Z" fill="none" stroke="#22eeff" stroke-width="1.1" stroke-linejoin="round"/>
<path d="M102.1 82.0L105.6 86.9H98.6Z" fill="none" stroke="#22eeff" stroke-width="1.1" stroke-linejoin="round"/>
<path d="M106.0 86.4L109.5 91.3H102.5Z" fill="none" stroke="#22eeff" stroke-width="1.1" stroke-linejoin="round"/>
<path d="M109.9 85.5L113.4 90.4H106.4Z" fill="none" stroke="#22eeff" stroke-width="1.1" stroke-linejoin="round"/>
<path d="M113.8 84.2L117.3 89.1H110.3Z" fill="none" stroke="#22eeff" stroke-width="1.1" stroke-linejoin="round"/>
<path d="M117.6 82.0L121.1 86.9H114.1Z" fill="none" stroke="#22eeff" stroke-width="1.1" stroke-linejoin="round"/>
<path d="M121.5 85.9L125.0 90.8H118.0Z" fill="none" stroke="#22eeff" stroke-width="1.1" stroke-linejoin="round"/>
<path d="M125.4 82.9L128.9 87.8H121.9Z" fill="none" stroke="#22eeff" stroke-width="1.1" stroke-linejoin="round"/>
<path d="M129.2 88.2L132.7 93.1H125.7Z" fill="none" stroke="#22eeff" stroke-width="1.1" stroke-linejoin="round"/>
<path d="M133.1 85.0L136.6 89.9H129.6Z" fill="none" stroke="#22eeff" stroke-width="1.1" stroke-linejoin="round"/>
<path d="M137.0 84.3L140.5 89.2H133.5Z" fill="none" stroke="#22eeff" stroke-width="1.1" stroke-linejoin="round"/>
<path d="M140.8 81.9L144.3 86.8H137.3Z" fill="none" stroke="#22eeff" stroke-width="1.1" stroke-linejoin="round"/>
<path d="M144.7 81.8L148.2 86.7H141.2Z" fill="none" stroke="#22eeff" stroke-width="1.1" stroke-linejoin="round"/>
<path d="M148.6 83.7L152.1 88.6H145.1Z" fill="none" stroke="#22eeff" stroke-width="1.1" stroke-linejoin="round"/>
<path d="M152.4 85.4L155.9 90.3H148.9Z" fill="none" stroke="#22eeff" stroke-width="1.1" stroke-linejoin="round"/>
<path d="M156.3 83.9L159.8 88.8H152.8Z" fill="none" stroke="#22eeff" stroke-width="1.1" stroke-linejoin="round"/>
<path d="M160.2 85.1L163.7 90.0H156.7Z" fill="none" stroke="#22eeff" stroke-width="1.1" stroke-linejoin="round"/>
<path d="M164.0 85.3L167.5 90.2H160.5Z" fill="none" stroke="#22eeff" stroke-width="1.1" stroke-linejoin="round"/>
<path d="M167.9 84.6L171.4 89.5H164.4Z" fill="none" stroke="#22eeff" stroke-width="1.1" stroke-linejoin="round"/>
<path d="M171.8 82.8L175.3 87.7H168.3Z" fill="none" stroke="#22eeff" stroke-width="1.1" stroke-linejoin="round"/>
<path d="M175.6 86.4L179.1 91.3H172.1Z" fill="none" stroke="#22eeff" stroke-width="1.1" stroke-linejoin="round"/>
<path d="M179.5 85.2L183.0 90.1H176.0Z" fill="none" stroke="#22eeff" stroke-width="1.1" stroke-linejoin="round"/>
<path d="M183.4 83.0L186.9 87.9H179.9Z" fill="none" stroke="#22eeff" stroke-width="1.1" stroke-linejoin="round"/>
<path d="M187.2 84.1L190.7 89.0H183.7Z" fill="none" stroke="#22eeff" stroke-width="1.1" stroke-linejoin="round"/>
<path d="M191.1 85.5L194.6 90.4H187.6Z" fill="none" stroke="#22eeff" stroke-width="1.1" stroke-linejoin="round"/>
<path d="M195.0 84.6L198.5 89.5H191.5Z" fill="none" stroke="#22eeff" stroke-width="1.1" stroke-linejoin="round"/>
<path d="M198.8 85.2L202.3 90.1H195.3Z" fill="none" stroke="#22eeff" stroke-width="1.1" stroke-linejoin="round"/>
<path d="M202.7 81.2L206.2 86.1H199.2Z" fill="none" stroke="#22eeff" stroke-width="1.1" stroke-linejoin="round"/>
<path d="M206.6 84.1L210.1 89.0H203.1Z" fill="none" stroke="#22eeff" stroke-width="1.1" stroke-linejoin="round"/>
<path d="M210.5 85.8L214.0 90.7H207.0Z" fill="none" stroke="#22eeff" stroke-width="1.1" stroke-linejoin="round"/>
<path d="M214.3 83.0L217.8 87.9H210.8Z" fill="none" stroke="#22eeff" stroke-width="1.1" stroke-linejoin="round"/>
<path d="M218.2 81.5L221.7 86.4H214.7Z" fill="none" stroke="#22eeff" stroke-width="1.1" stroke-linejoin="round"/>
<path d="M222.1 85.6L225.6 90.5H218.6Z" fill="none" stroke="#22eeff" stroke-width="1.1" stroke-linejoin="round"/>
<path d="M225.9 82.6L229.4 87.5H222.4Z" fill="none" stroke="#22eeff" stroke-width="1.1" stroke-linejoin="round"/>
<path d="M229.8 83.4L233.3 88.3H226.3Z" fill="none" stroke="#22eeff" stroke-width="1.1" stroke-linejoin="round"/>
<path d="M233.7 84.3L237.2 89.2H230.2Z" fill="none" stroke="#22eeff" stroke-width="1.1" stroke-linejoin="round"/>
<path d="M237.5 85.6L241.0 90.5H234.0Z" fill="none" stroke="#22eeff" stroke-width="1.1" stroke-linejoin="round"/>
<path d="M241.4 87.0L244.9 91.9H237.9Z" fill="none" stroke="#22eeff" stroke-width="1.1" stroke-linejoin="round"/>
<path d="M245.3 83.2L248.8 88.1H241.8Z" fill="none" stroke="#22eeff" stroke-width="1.1" stroke-linejoin="round"/>
<path d="M249.1 84.8L252.6 89.7H245.6Z" fill="none" stroke="#22eeff" stroke-width="1.1" stroke-linejoin="round"/>
<path d="M253.0 82.3L256.5 87.2H249.5Z" fill="none" stroke="#22eeff" stroke-width="1.1" stroke-linejoin="round"/>
<path d="M59.6 77.9L63.1 82.8H56.1Z" fill="none" stroke="#22eeff" stroke-width="1.1" stroke-linejoin="round"/>
<path d="M70.0 77.2L73.5 82.1H66.5Z" fill="none" stroke="#22eeff" stroke-width="1.1" stroke-linejoin="round"/>
<circle cx="75.1" cy="77.9" r="3.4" fill="#8b6914"/>
<circle cx="78.9" cy="86.4" r="3.4" fill="#8b6914"/>
<circle cx="82.8" cy="82.7" r="3.4" fill="#8b6914"/>
<circle cx="86.7" cy="93.1" r="3.4" fill="#8b6914"/>
<circle cx="90.5" cy="87.0" r="3.4" fill="#8b6914"/>
<circle cx="94.4" cy="87.0" r="3.4" fill="#8b6914"/>
<circle cx="98.3" cy="88.0" r="3.4" fill="#8b6914"/>
<circle cx="102.1" cy="88.6" r="3.4" fill="#8b6914"/>
<circle cx="106.0" cy="88.7" r="3.4" fill="#8b6914"/>
<circle cx="109.9" cy="85.1" r="3.4" fill="#8b6914"/>
<circle cx="113.8" cy="87.7" r="3.4" fill="#8b6914"/>
<circle cx="117.6" cy="85.5" r="3.4" fill="#8b6914"/>
<circle cx="121.5" cy="86.0" r="3.4" fill="#8b6914"/>
<circle cx="125.4" cy="83.5" r="3.4" fill="#8b6914"/>
<circle cx="129.2" cy="85.0" r="3.4" fill="#8b6914"/>
<circle cx="133.1" cy="85.4" r="3.4" fill="#8b6914"/>
<circle cx="137.0" cy="84.3" r="3.4" fill="#8b6914"/>
<circle cx="140.8" cy="82.4" r="3.4" fill="#8b6914"/>
<circle cx="144.7" cy="86.9" r="3.4" fill="#8b6914"/>
<circle cx="148.6" cy="88.1" r="3.4" fill="#8b6914"/>
<circle cx="152.4" cy="85.3" r="3.4" fill="#8b6914"/>
<circle cx="156.3" cy="88.4" r="3.4" fill="#8b6914"/>
<circle cx="160.2" cy="85.2" r="3.4" fill="#8b6914"/>
<circle cx="164.0" cy="84.8" r="3.4" fill="#8b6914"/>
<circle cx="167.9" cy="85.1" r="3.4" fill="#8b6914"/>
<circle cx="171.8" cy="85.0" r="3.4" fill="#8b6914"/>
<circle cx="175.6" cy="87.9" r="3.4" fill="#8b6914"/>
<circle cx="179.5" cy="87.1" r="3.4" fill="#8b6914"/>
<circle cx="183.4" cy="86.8" r="3.4" fill="#8b6914"/>
<circle cx="187.2" cy="85.6" r="3.4" fill="#8b6914"/>
<circle cx="191.1" cy="85.0" r="3.4" fill="#8b6914"/>
<circle cx="195.0" cy="85.8" r="3.4" fill="#8b6914"/>
<circle cx="198.8" cy="88.9" r="3.4" fill="#8b6914"/>
<circle cx="202.7" cy="85.3" r="3.4" fill="#8b6914"/>
<circle cx="206.6" cy="85.8" r="3.4" fill="#8b6914"/>
<circle cx="210.5" cy="87.9" r="3.4" fill="#8b6914"/>
<circle cx="214.3" cy="85.7" r="3.4" fill="#8b6914"/>
<circle cx="218.2" cy="84.9" r="3.4" fill="#8b6914"/>
<circle cx="222.1" cy="86.7" r="3.4" fill="#8b6914"/>
<circle cx="225.9" cy="84.2" r="3.4" fill="#8b6914"/>
<circle cx="229.8" cy="84.3" r="3.4" fill="#8b6914"/>
<circle cx="233.7" cy="86.1" r="3.4" fill="#8b6914"/>
<circle cx="237.5" cy="86.3" r="3.4" fill="#8b6914"/>
<circle cx="241.4" cy="85.2" r="3.4" fill="#8b6914"/>
<circle cx="245.3" cy="89.0" r="3.4" fill="#8b6914"/>
<circle cx="249.1" cy="87.0" r="3.4" fill="#8b6914"/>
<circle cx="253.0" cy="85.8" r="3.4" fill="#8b6914"/>
<circle cx="63.5" cy="70.5" r="3.4" fill="#8b6914"/>
<circle cx="67.3" cy="98.0" r="3.4" fill="#8b6914"/>
<circle cx="71.2" cy="99.2" r="3.4" fill="#8b6914"/>
<circle cx="75.1" cy="99.8" r="3.4" fill="#8b6914"/>
<circle cx="59.6" cy="148.0" r="3.4" fill="#8b6914"/>
<rect x="71.5" y="80.5" width="7.1" height="7.1" fill="#ff6a13"/>
<rect x="75.4" y="82.9" width="7.1" height="7.1" fill="#ff6a13"/>
<rect x="79.3" y="89.0" width="7.1" height="7.1" fill="#ff6a13"/>
<rect x="83.1" y="84.1" width="7.1" height="7.1" fill="#ff6a13"/>
<rect x="87.0" y="87.1" width="7.1" height="7.1" fill="#ff6a13"/>
<rect x="90.9" y="81.0" width="7.1" height="7.1" fill="#ff6a13"/>
<rect x="94.7" y="83.3" width="7.1" height="7.1" fill="#ff6a13"/>
<rect x="98.6" y="73.7" width="7.1" height="7.1" fill="#ff6a13"/>
<rect x="102.5" y="85.3" width="7.1" height="7.1" fill="#ff6a13"/>
<rect x="106.3" y="87.8" width="7.1" height="7.1" fill="#ff6a13"/>
<rect x="110.2" y="80.4" width="7.1" height="7.1" fill="#ff6a13"/>
<rect x="114.1" y="81.1" width="7.1" height="7.1" fill="#ff6a13"/>
<rect x="117.9" y="77.8" width="7.1" height="7.1" fill="#ff6a13"/>
<rect x="121.8" y="78.5" width="7.1" height="7.1" fill="#ff6a13"/>
<rect x="125.7" y="81.1" width="7.1" height="7.1" fill="#ff6a13"/>
<rect x="129.5" y="80.0" width="7.1" height="7.1" fill="#ff6a13"/>
<rect x="133.4" y="81.7" width="7.1" height="7.1" fill="#ff6a13"/>
<rect x="137.3" y="78.5" width="7.1" height="7.1" fill="#ff6a13"/>
<rect x="141.1" y="74.1" width="7.1" height="7.1" fill="#ff6a13"/>
<rect x="145.0" y="79.9" width="7.1" height="7.1" fill="#ff6a13"/>
<rect x="148.9" y="80.6" width="7.1" height="7.1" fill="#ff6a13"/>
<rect x="152.8" y="80.6" width="7.1" height="7.1" fill="#ff6a13"/>
<rect x="156.6" y="80.2" width="7.1" height="7.1" fill="#ff6a13"/>
<rect x="160.5" y="79.7" width="7.1" height="7.1" fill="#ff6a13"/>
<rect x="164.4" y="83.9" width="7.1" height="7.1" fill="#ff6a13"/>
<rect x="168.2" y="82.3" width="7.1" height="7.1" fill="#ff6a13"/>
<rect x="172.1" y="83.3" width="7.1" height="7.1" fill="#ff6a13"/>
<rect x="176.0" y="84.7" width="7.1" height="7.1" fill="#ff6a13"/>
<rect x="179.8" y="83.3" width="7.1" height="7.1" fill="#ff6a13"/>
<rect x="183.7" y="80.7" width="7.1" height="7.1" fill="#ff6a13"/>
<rect x="187.6" y="81.9" width="7.1" height="7.1" fill="#ff6a13"/>
<rect x="191.4" y="82.2" width="7.1" height="7.1" fill="#ff6a13"/>
<rect x="195.3" y="79.2" width="7.1" height="7.1" fill="#ff6a13"/>
<rect x="199.2" y="78.6" width="7.1" height="7.1" fill="#ff6a13"/>
<rect x="203.0" y="82.0" width="7.1" height="7.1" fill="#ff6a13"/>
<rect x="206.9" y="80.1" width="7.1" height="7.1" fill="#ff6a13"/>
<rect x="210.8" y="77.8" width="7.1" height="7.1" fill="#ff6a13"/>
<rect x="214.6" y="83.2" width="7.1" height="7.1" fill="#ff6a13"/>
<rect x="218.5" y="78.7" width="7.1" height="7.1" fill="#ff6a13"/>
<rect x="222.4" y="84.0" width="7.1" height="7.1" fill="#ff6a13"/>
<rect x="226.2" y="80.5" width="7.1" height="7.1" fill="#ff6a13"/>
<rect x="230.1" y="77.5" width="7.1" height="7.1" fill="#ff6a13"/>
<rect x="234.0" y="86.8" width="7.1" height="7.1" fill="#ff6a13"/>
<rect x="237.8" y="81.0" width="7.1" height="7.1" fill="#ff6a13"/>
<rect x="241.7" y="83.4" width="7.1" height="7.1" fill="#ff6a13"/>
<rect x="245.6" y="78.7" width="7.1" height="7.1" fill="#ff6a13"/>
<rect x="249.4" y="82.3" width="7.1" height="7.1" fill="#ff6a13"/>
<rect x="64.0" y="63.4" width="7.1" height="7.1" fill="#ff6a13"/>
<rect x="59.9" y="77.8" width="7.1" height="7.1" fill="#ff6a13"/>
<rect x="67.0" y="84.9" width="7.1" height="7.1" fill="#ff6a13"/>
<rect x="56.1" y="93.7" width="7.1" height="7.1" fill="#ff6a13"/>
<rect x="66.7" y="86.0" width="7.1" height="7.1" fill="#ff6a13"/>
<rect x="71.5" y="80.5" width="7.1" height="7.1" fill="#ff6a13"/>
<rect x="75.5" y="79.5" width="7.1" height="7.1" fill="#ff6a13"/>
<rect x="79.5" y="81.5" width="7.1" height="7.1" fill="#ff6a13"/>
<rect x="86.5" y="79.5" width="7.1" height="7.1" fill="#ff6a13"/>
<rect x="90.5" y="80.5" width="7.1" height="7.1" fill="#ff6a13"/>
<path d="M75.1 87.0L78.9 90.8L75.1 94.6L71.3 90.8Z" fill="#12aef0"/>
<path d="M78.9 89.7L82.7 93.5L78.9 97.3L75.1 93.5Z" fill="#12aef0"/>
<path d="M82.8 87.7L86.6 91.5L82.8 95.3L79.0 91.5Z" fill="#12aef0"/>
<path d="M86.7 85.1L90.5 88.9L86.7 92.7L82.9 88.9Z" fill="#12aef0"/>
<path d="M90.5 86.1L94.3 89.9L90.5 93.7L86.7 89.9Z" fill="#12aef0"/>
<path d="M94.4 82.4L98.2 86.2L94.4 90.0L90.6 86.2Z" fill="#12aef0"/>
<path d="M98.3 85.2L102.1 89.0L98.3 92.8L94.5 89.0Z" fill="#12aef0"/>
<path d="M102.1 83.2L105.9 87.0L102.1 90.8L98.3 87.0Z" fill="#12aef0"/>
<path d="M106.0 84.1L109.8 87.9L106.0 91.7L102.2 87.9Z" fill="#12aef0"/>
<path d="M109.9 83.0L113.7 86.8L109.9 90.6L106.1 86.8Z" fill="#12aef0"/>
<path d="M113.8 86.0L117.6 89.8L113.8 93.6L110.0 89.8Z" fill="#12aef0"/>
<path d="M117.6 83.8L121.4 87.6L117.6 91.4L113.8 87.6Z" fill="#12aef0"/>
<path d="M121.5 82.3L125.3 86.1L121.5 89.9L117.7 86.1Z" fill="#12aef0"/>
<path d="M125.4 83.2L129.2 87.0L125.4 90.8L121.6 87.0Z" fill="#12aef0"/>
<path d="M129.2 85.0L133.0 88.8L129.2 92.6L125.4 88.8Z" fill="#12aef0"/>
<path d="M133.1 81.0L136.9 84.8L133.1 88.6L129.3 84.8Z" fill="#12aef0"/>
<path d="M137.0 82.1L140.8 85.9L137.0 89.7L133.2 85.9Z" fill="#12aef0"/>
<path d="M140.8 83.7L144.6 87.5L140.8 91.3L137.0 87.5Z" fill="#12aef0"/>
<path d="M144.7 83.6L148.5 87.4L144.7 91.2L140.9 87.4Z" fill="#12aef0"/>
<path d="M148.6 81.8L152.4 85.6L148.6 89.4L144.8 85.6Z" fill="#12aef0"/>
<path d="M152.4 79.0L156.2 82.8L152.4 86.6L148.6 82.8Z" fill="#12aef0"/>
<path d="M156.3 80.2L160.1 84.0L156.3 87.8L152.5 84.0Z" fill="#12aef0"/>
<path d="M160.2 86.4L164.0 90.2L160.2 94.0L156.4 90.2Z" fill="#12aef0"/>
<path d="M164.0 84.4L167.8 88.2L164.0 92.0L160.2 88.2Z" fill="#12aef0"/>
<path d="M167.9 81.1L171.7 84.9L167.9 88.7L164.1 84.9Z" fill="#12aef0"/>
<path d="M171.8 80.8L175.6 84.6L171.8 88.4L168.0 84.6Z" fill="#12aef0"/>
<path d="M175.6 82.7L179.4 86.5L175.6 90.3L171.8 86.5Z" fill="#12aef0"/>
<path d="M179.5 83.2L183.3 87.0L179.5 90.8L175.7 87.0Z" fill="#12aef0"/>
<path d="M183.4 79.8L187.2 83.6L183.4 87.4L179.6 83.6Z" fill="#12aef0"/>
<path d="M187.2 83.6L191.0 87.4L187.2 91.2L183.4 87.4Z" fill="#12aef0"/>
<path d="M191.1 83.5L194.9 87.3L191.1 91.1L187.3 87.3Z" fill="#12aef0"/>
<path d="M195.0 82.5L198.8 86.3L195.0 90.1L191.2 86.3Z" fill="#12aef0"/>
<path d="M198.8 80.5L202.6 84.3L198.8 88.1L195.0 84.3Z" fill="#12aef0"/>
<path d="M202.7 82.8L206.5 86.6L202.7 90.4L198.9 86.6Z" fill="#12aef0"/>
<path d="M206.6 87.4L210.4 91.2L206.6 95.0L202.8 91.2Z" fill="#12aef0"/>
<path d="M210.5 81.5L214.3 85.3L210.5 89.1L206.7 85.3Z" fill="#12aef0"/>
<path d="M214.3 83.2L218.1 87.0L214.3 90.8L210.5 87.0Z" fill="#12aef0"/>
<path d="M218.2 85.1L222.0 88.9L218.2 92.7L214.4 88.9Z" fill="#12aef0"/>
<path d="M222.1 80.9L225.9 84.7L222.1 88.5L218.3 84.7Z" fill="#12aef0"/>
<path d="M225.9 86.3L229.7 90.1L225.9 93.9L222.1 90.1Z" fill="#12aef0"/>
<path d="M229.8 78.6L233.6 82.4L229.8 86.2L226.0 82.4Z" fill="#12aef0"/>
<path d="M233.7 80.8L237.5 84.6L233.7 88.4L229.9 84.6Z" fill="#12aef0"/>
<path d="M237.5 83.0L241.3 86.8L237.5 90.6L233.7 86.8Z" fill="#12aef0"/>
<path d="M241.4 79.5L245.2 83.3L241.4 87.1L237.6 83.3Z" fill="#12aef0"/>
<path d="M245.3 83.8L249.1 87.6L245.3 91.4L241.5 87.6Z" fill="#12aef0"/>
<path d="M249.1 82.7L252.9 86.5L249.1 90.3L245.3 86.5Z" fill="#12aef0"/>
<path d="M253.0 84.3L256.8 88.1L253.0 91.9L249.2 88.1Z" fill="#12aef0"/>
<path d="M83.1 67.9L86.9 71.7L83.1 75.5L79.3 71.7Z" fill="#12aef0"/>
<path d="M74.7 82.2L78.5 86.0L74.7 89.8L70.9 86.0Z" fill="#12aef0"/>
<path d="M78.9 83.4L82.7 87.2L78.9 91.0L75.1 87.2Z" fill="#12aef0"/>
<path d="M86.6 86.4L90.4 90.2L86.6 94.0L82.8 90.2Z" fill="#12aef0"/>
<path d="M98.6 81.6L102.4 85.4L98.6 89.2L94.8 85.4Z" fill="#12aef0"/>
<path d="M71.5 109.0L75.3 112.8L71.5 116.6L67.7 112.8Z" fill="#12aef0"/>
<path d="M64.0 144.2L67.8 148.0L64.0 151.8L60.2 148.0Z" fill="#12aef0"/>
<path d="M67.6 160.0L71.4 163.8L67.6 167.6L63.8 163.8Z" fill="#12aef0"/>
<path d="M60.2 176.2L64.0 180.0L60.2 183.8L56.4 180.0Z" fill="#12aef0"/>
<path d="M78.0 83.5L81.8 87.3L78.0 91.1L74.2 87.3Z" fill="#12aef0"/>
<path d="M87.2 86.3L91.0 90.1L87.2 93.9L83.4 90.1Z" fill="#12aef0"/>
<path d="M98.2 83.0L102.0 86.8L98.2 90.6L94.4 86.8Z" fill="#12aef0"/>
<path d="M102.8 89.0L106.6 92.8L102.8 96.6L99.0 92.8Z" fill="#12aef0"/>
<path d="M94.4 83.7L98.0 90.2H90.8Z" fill="#555555"/>
<path d="M98.3 80.5L101.9 86.9H94.7Z" fill="#555555"/>
<path d="M102.1 86.8L105.7 93.3H98.5Z" fill="#555555"/>
<path d="M106.0 87.5L109.6 94.0H102.4Z" fill="#555555"/>
<path d="M109.9 84.5L113.5 91.0H106.3Z" fill="#555555"/>
<path d="M113.8 80.8L117.4 87.3H110.2Z" fill="#555555"/>
<path d="M117.6 83.6L121.2 90.1H114.0Z" fill="#555555"/>
<path d="M121.5 82.9L125.1 89.4H117.9Z" fill="#555555"/>
<path d="M125.4 84.7L129.0 91.2H121.8Z" fill="#555555"/>
<path d="M129.2 84.9L132.8 91.4H125.6Z" fill="#555555"/>
<path d="M133.1 82.1L136.7 88.5H129.5Z" fill="#555555"/>
<path d="M137.0 85.1L140.6 91.6H133.4Z" fill="#555555"/>
<path d="M140.8 85.5L144.4 92.0H137.2Z" fill="#555555"/>
<path d="M144.7 83.4L148.3 89.8H141.1Z" fill="#555555"/>
<path d="M148.6 83.6L152.2 90.1H145.0Z" fill="#555555"/>
<path d="M152.4 80.6L156.0 87.1H148.8Z" fill="#555555"/>
<path d="M156.3 83.8L159.9 90.3H152.7Z" fill="#555555"/>
<path d="M160.2 83.7L163.8 90.2H156.6Z" fill="#555555"/>
<path d="M164.0 85.4L167.6 91.9H160.4Z" fill="#555555"/>
<path d="M167.9 84.0L171.5 90.5H164.3Z" fill="#555555"/>
<path d="M171.8 81.2L175.4 87.7H168.2Z" fill="#555555"/>
<path d="M175.6 81.8L179.2 88.3H172.0Z" fill="#555555"/>
<path d="M179.5 83.1L183.1 89.6H175.9Z" fill="#555555"/>
<path d="M183.4 83.7L187.0 90.2H179.8Z" fill="#555555"/>
<path d="M187.2 86.8L190.8 93.3H183.6Z" fill="#555555"/>
<path d="M191.1 84.3L194.7 90.8H187.5Z" fill="#555555"/>
<path d="M195.0 81.5L198.6 88.0H191.4Z" fill="#555555"/>
<path d="M198.8 82.9L202.4 89.4H195.2Z" fill="#555555"/>
<path d="M202.7 81.7L206.3 88.2H199.1Z" fill="#555555"/>
<path d="M206.6 83.8L210.2 90.3H203.0Z" fill="#555555"/>
<path d="M210.5 84.3L214.1 90.8H206.9Z" fill="#555555"/>
<path d="M214.3 83.8L217.9 90.3H210.7Z" fill="#555555"/>
<path d="M218.2 84.6L221.8 91.0H214.6Z" fill="#555555"/>
<path d="M222.1 83.2L225.7 89.7H218.5Z" fill="#555555"/>
<path d="M225.9 83.1L229.5 89.6H222.3Z" fill="#555555"/>
<path d="M229.8 82.5L233.4 88.9H226.2Z" fill="#555555"/>
<path d="M233.7 83.8L237.3 90.2H230.1Z" fill="#555555"/>
<path d="M237.5 83.8L241.1 90.3H233.9Z" fill="#555555"/>
<path d="M241.4 82.8L245.0 89.2H237.8Z" fill="#555555"/>
<path d="M245.3 83.2L248.9 89.7H241.7Z" fill="#555555"/>
<path d="M249.1 82.8L252.7 89.3H245.5Z" fill="#555555"/>
<path d="M253.0 83.6L256.6 90.1H249.4Z" fill="#555555"/>
<path d="M68.1 71.1L71.7 77.6H64.5Z" fill="#555555"/>
<path d="M87.2 76.4L90.8 82.9H83.6Z" fill="#555555"/>
<path d="M75.3 90.2L78.9 96.7H71.7Z" fill="#555555"/>
<path d="M79.5 97.0L83.1 103.5H75.9Z" fill="#555555"/>
<path d="M83.0 88.4L86.6 94.9H79.4Z" fill="#555555"/>
<path d="M90.8 96.6L94.4 103.1H87.2Z" fill="#555555"/>
<path d="M71.5 113.8L75.1 120.3H67.9Z" fill="#555555"/>
<path d="M75.7 90.6L79.3 97.1H72.1Z" fill="#555555"/>
<path d="M64.0 128.4L67.6 134.9H60.4Z" fill="#555555"/>
<path d="M59.6 212.8L63.2 219.3H56.0Z" fill="#555555"/>
<path d="M83.5 89.7L87.1 96.2H79.9Z" fill="#555555"/>
<path d="M95.4 87.8L99.0 94.3H91.8Z" fill="#555555"/>
<path d="M101.0 88.8L104.6 95.3H97.4Z" fill="#555555"/>
<path d="M106.5 86.0L110.1 92.5H102.9Z" fill="#555555"/>
<path d="M112.0 85.1L115.6 91.6H108.4Z" fill="#555555"/>
<path d="M118.4 86.9L122.0 93.4H114.8Z" fill="#555555"/>
<circle cx="346.5" cy="79.6" r="3.0" fill="none" stroke="#3a3a3a" stroke-width="1"/>
<circle cx="350.4" cy="84.8" r="3.0" fill="none" stroke="#3a3a3a" stroke-width="1"/>
<circle cx="354.2" cy="85.5" r="3.0" fill="none" stroke="#3a3a3a" stroke-width="1"/>
<circle cx="358.1" cy="86.7" r="3.0" fill="none" stroke="#3a3a3a" stroke-width="1"/>
<circle cx="362.0" cy="87.1" r="3.0" fill="none" stroke="#3a3a3a" stroke-width="1"/>
<circle cx="365.8" cy="87.7" r="3.0" fill="none" stroke="#3a3a3a" stroke-width="1"/>
<circle cx="369.7" cy="86.4" r="3.0" fill="none" stroke="#3a3a3a" stroke-width="1"/>
<circle cx="373.5" cy="89.2" r="3.0" fill="none" stroke="#3a3a3a" stroke-width="1"/>
<circle cx="377.4" cy="84.1" r="3.0" fill="none" stroke="#3a3a3a" stroke-width="1"/>
<circle cx="381.3" cy="85.3" r="3.0" fill="none" stroke="#3a3a3a" stroke-width="1"/>
<circle cx="385.1" cy="85.1" r="3.0" fill="none" stroke="#3a3a3a" stroke-width="1"/>
<circle cx="389.0" cy="85.1" r="3.0" fill="none" stroke="#3a3a3a" stroke-width="1"/>
<circle cx="392.8" cy="87.0" r="3.0" fill="none" stroke="#3a3a3a" stroke-width="1"/>
<circle cx="396.7" cy="86.8" r="3.0" fill="none" stroke="#3a3a3a" stroke-width="1"/>
<circle cx="400.6" cy="87.2" r="3.0" fill="none" stroke="#3a3a3a" stroke-width="1"/>
<circle cx="404.4" cy="86.5" r="3.0" fill="none" stroke="#3a3a3a" stroke-width="1"/>
<circle cx="408.3" cy="86.4" r="3.0" fill="none" stroke="#3a3a3a" stroke-width="1"/>
<circle cx="412.1" cy="85.6" r="3.0" fill="none" stroke="#3a3a3a" stroke-width="1"/>
<circle cx="416.0" cy="88.4" r="3.0" fill="none" stroke="#3a3a3a" stroke-width="1"/>
<circle cx="419.9" cy="85.7" r="3.0" fill="none" stroke="#3a3a3a" stroke-width="1"/>
<circle cx="423.7" cy="86.2" r="3.0" fill="none" stroke="#3a3a3a" stroke-width="1"/>
<circle cx="427.6" cy="87.3" r="3.0" fill="none" stroke="#3a3a3a" stroke-width="1"/>
<circle cx="431.4" cy="86.0" r="3.0" fill="none" stroke="#3a3a3a" stroke-width="1"/>
<circle cx="435.3" cy="88.3" r="3.0" fill="none" stroke="#3a3a3a" stroke-width="1"/>
<circle cx="439.2" cy="87.0" r="3.0" fill="none" stroke="#3a3a3a" stroke-width="1"/>
<circle cx="443.0" cy="86.4" r="3.0" fill="none" stroke="#3a3a3a" stroke-width="1"/>
<circle cx="446.9" cy="86.4" r="3.0" fill="none" stroke="#3a3a3a" stroke-width="1"/>
<circle cx="450.7" cy="88.2" r="3.0" fill="none" stroke="#3a3a3a" stroke-width="1"/>
<circle cx="454.6" cy="84.4" r="3.0" fill="none" stroke="#3a3a3a" stroke-width="1"/>
<circle cx="458.5" cy="86.8" r="3.0" fill="none" stroke="#3a3a3a" stroke-width="1"/>
<circle cx="462.3" cy="88.6" r="3.0" fill="none" stroke="#3a3a3a" stroke-width="1"/>
<circle cx="466.2" cy="85.9" r="3.0" fill="none" stroke="#3a3a3a" stroke-width="1"/>
<circle cx="470.0" cy="85.5" r="3.0" fill="none" stroke="#3a3a3a" stroke-width="1"/>
<circle cx="473.9" cy="86.9" r="3.0" fill="none" stroke="#3a3a3a" stroke-width="1"/>
<circle cx="477.8" cy="89.8" r="3.0" fill="none" stroke="#3a3a3a" stroke-width="1"/>
<circle cx="481.6" cy="87.0" r="3.0" fill="none" stroke="#3a3a3a" stroke-width="1"/>
<circle cx="485.5" cy="87.2" r="3.0" fill="none" stroke="#3a3a3a" stroke-width="1"/>
<circle cx="489.3" cy="85.6" r="3.0" fill="none" stroke="#3a3a3a" stroke-width="1"/>
<circle cx="493.2" cy="87.0" r="3.0" fill="none" stroke="#3a3a3a" stroke-width="1"/>
<circle cx="497.1" cy="86.9" r="3.0" fill="none" stroke="#3a3a3a" stroke-width="1"/>
<circle cx="500.9" cy="88.1" r="3.0" fill="none" stroke="#3a3a3a" stroke-width="1"/>
<circle cx="504.8" cy="87.4" r="3.0" fill="none" stroke="#3a3a3a" stroke-width="1"/>
<circle cx="508.6" cy="87.7" r="3.0" fill="none" stroke="#3a3a3a" stroke-width="1"/>
<circle cx="512.5" cy="86.8" r="3.0" fill="none" stroke="#3a3a3a" stroke-width="1"/>
<circle cx="323.4" cy="64.0" r="3.0" fill="none" stroke="#3a3a3a" stroke-width="1"/>
<circle cx="326.5" cy="126.1" r="3.0" fill="none" stroke="#3a3a3a" stroke-width="1"/>
<circle cx="319.5" cy="173.2" r="3.0" fill="none" stroke="#3a3a3a" stroke-width="1"/>
<circle cx="323.8" cy="204.3" r="3.0" fill="none" stroke="#3a3a3a" stroke-width="1"/>
<rect x="343.1" y="78.6" width="6.8" height="6.8" fill="none" stroke="#3333ff" stroke-width="1"/>
<rect x="347.0" y="82.7" width="6.8" height="6.8" fill="none" stroke="#3333ff" stroke-width="1"/>
<rect x="350.8" y="87.2" width="6.8" height="6.8" fill="none" stroke="#3333ff" stroke-width="1"/>
<rect x="354.7" y="83.1" width="6.8" height="6.8" fill="none" stroke="#3333ff" stroke-width="1"/>
<rect x="358.6" y="84.6" width="6.8" height="6.8" fill="none" stroke="#3333ff" stroke-width="1"/>
<rect x="362.4" y="82.8" width="6.8" height="6.8" fill="none" stroke="#3333ff" stroke-width="1"/>
<rect x="366.3" y="87.2" width="6.8" height="6.8" fill="none" stroke="#3333ff" stroke-width="1"/>
<rect x="370.1" y="83.2" width="6.8" height="6.8" fill="none" stroke="#3333ff" stroke-width="1"/>
<rect x="374.0" y="82.7" width="6.8" height="6.8" fill="none" stroke="#3333ff" stroke-width="1"/>
<rect x="377.9" y="82.5" width="6.8" height="6.8" fill="none" stroke="#3333ff" stroke-width="1"/>
<rect x="381.7" y="83.3" width="6.8" height="6.8" fill="none" stroke="#3333ff" stroke-width="1"/>
<rect x="385.6" y="83.5" width="6.8" height="6.8" fill="none" stroke="#3333ff" stroke-width="1"/>
<rect x="389.4" y="81.0" width="6.8" height="6.8" fill="none" stroke="#3333ff" stroke-width="1"/>
<rect x="393.3" y="84.8" width="6.8" height="6.8" fill="none" stroke="#3333ff" stroke-width="1"/>
<rect x="397.2" y="82.9" width="6.8" height="6.8" fill="none" stroke="#3333ff" stroke-width="1"/>
<rect x="401.0" y="83.9" width="6.8" height="6.8" fill="none" stroke="#3333ff" stroke-width="1"/>
<rect x="404.9" y="83.0" width="6.8" height="6.8" fill="none" stroke="#3333ff" stroke-width="1"/>
<rect x="408.7" y="83.2" width="6.8" height="6.8" fill="none" stroke="#3333ff" stroke-width="1"/>
<rect x="412.6" y="83.6" width="6.8" height="6.8" fill="none" stroke="#3333ff" stroke-width="1"/>
<rect x="416.5" y="85.4" width="6.8" height="6.8" fill="none" stroke="#3333ff" stroke-width="1"/>
<rect x="420.3" y="83.3" width="6.8" height="6.8" fill="none" stroke="#3333ff" stroke-width="1"/>
<rect x="424.2" y="83.1" width="6.8" height="6.8" fill="none" stroke="#3333ff" stroke-width="1"/>
<rect x="428.0" y="83.6" width="6.8" height="6.8" fill="none" stroke="#3333ff" stroke-width="1"/>
<rect x="431.9" y="83.5" width="6.8" height="6.8" fill="none" stroke="#3333ff" stroke-width="1"/>
<rect x="435.8" y="82.1" width="6.8" height="6.8" fill="none" stroke="#3333ff" stroke-width="1"/>
<rect x="439.6" y="85.6" width="6.8" height="6.8" fill="none" stroke="#3333ff" stroke-width="1"/>
<rect x="443.5" y="84.8" width="6.8" height="6.8" fill="none" stroke="#3333ff" stroke-width="1"/>
<rect x="447.3" y="84.9" width="6.8" height="6.8" fill="none" stroke="#3333ff" stroke-width="1"/>
<rect x="451.2" y="85.9" width="6.8" height="6.8" fill="none" stroke="#3333ff" stroke-width="1"/>
<rect x="455.1" y="84.3" width="6.8" height="6.8" fill="none" stroke="#3333ff" stroke-width="1"/>
<rect x="458.9" y="81.9" width="6.8" height="6.8" fill="none" stroke="#3333ff" stroke-width="1"/>
<rect x="462.8" y="83.7" width="6.8" height="6.8" fill="none" stroke="#3333ff" stroke-width="1"/>
<rect x="466.6" y="83.1" width="6.8" height="6.8" fill="none" stroke="#3333ff" stroke-width="1"/>
<rect x="470.5" y="81.0" width="6.8" height="6.8" fill="none" stroke="#3333ff" stroke-width="1"/>
<rect x="474.4" y="82.7" width="6.8" height="6.8" fill="none" stroke="#3333ff" stroke-width="1"/>
<rect x="478.2" y="83.6" width="6.8" height="6.8" fill="none" stroke="#3333ff" stroke-width="1"/>
<rect x="482.1" y="83.2" width="6.8" height="6.8" fill="none" stroke="#3333ff" stroke-width="1"/>
<rect x="485.9" y="83.4" width="6.8" height="6.8" fill="none" stroke="#3333ff" stroke-width="1"/>
<rect x="489.8" y="82.0" width="6.8" height="6.8" fill="none" stroke="#3333ff" stroke-width="1"/>
<rect x="493.7" y="83.1" width="6.8" height="6.8" fill="none" stroke="#3333ff" stroke-width="1"/>
<rect x="497.5" y="85.1" width="6.8" height="6.8" fill="none" stroke="#3333ff" stroke-width="1"/>
<rect x="501.4" y="83.1" width="6.8" height="6.8" fill="none" stroke="#3333ff" stroke-width="1"/>
<rect x="505.2" y="84.2" width="6.8" height="6.8" fill="none" stroke="#3333ff" stroke-width="1"/>
<rect x="509.1" y="83.5" width="6.8" height="6.8" fill="none" stroke="#3333ff" stroke-width="1"/>
<rect x="327.7" y="65.2" width="6.8" height="6.8" fill="none" stroke="#3333ff" stroke-width="1"/>
<rect x="355.3" y="76.2" width="6.8" height="6.8" fill="none" stroke="#3333ff" stroke-width="1"/>
<rect x="331.4" y="102.0" width="6.8" height="6.8" fill="none" stroke="#3333ff" stroke-width="1"/>
<rect x="323.8" y="151.4" width="6.8" height="6.8" fill="none" stroke="#3333ff" stroke-width="1"/>
<rect x="321.6" y="172.1" width="6.8" height="6.8" fill="none" stroke="#3333ff" stroke-width="1"/>
<rect x="316.1" y="177.9" width="6.8" height="6.8" fill="none" stroke="#3333ff" stroke-width="1"/>
<path d="M346.5 80.8L350.1 84.4L346.5 88.0L342.9 84.4Z" fill="none" stroke="#2e8b57" stroke-width="1"/>
<path d="M350.4 87.2L354.0 90.8L350.4 94.4L346.8 90.8Z" fill="none" stroke="#2e8b57" stroke-width="1"/>
<path d="M354.2 83.9L357.8 87.5L354.2 91.1L350.6 87.5Z" fill="none" stroke="#2e8b57" stroke-width="1"/>
<path d="M358.1 79.9L361.7 83.5L358.1 87.1L354.5 83.5Z" fill="none" stroke="#2e8b57" stroke-width="1"/>
<path d="M362.0 84.0L365.6 87.6L362.0 91.2L358.4 87.6Z" fill="none" stroke="#2e8b57" stroke-width="1"/>
<path d="M365.8 80.1L369.4 83.7L365.8 87.3L362.2 83.7Z" fill="none" stroke="#2e8b57" stroke-width="1"/>
<path d="M369.7 81.3L373.3 84.9L369.7 88.5L366.1 84.9Z" fill="none" stroke="#2e8b57" stroke-width="1"/>
<path d="M373.5 78.0L377.1 81.6L373.5 85.2L369.9 81.6Z" fill="none" stroke="#2e8b57" stroke-width="1"/>
<path d="M377.4 80.7L381.0 84.3L377.4 87.9L373.8 84.3Z" fill="none" stroke="#2e8b57" stroke-width="1"/>
<path d="M381.3 84.6L384.9 88.2L381.3 91.8L377.7 88.2Z" fill="none" stroke="#2e8b57" stroke-width="1"/>
<path d="M385.1 83.2L388.7 86.8L385.1 90.4L381.5 86.8Z" fill="none" stroke="#2e8b57" stroke-width="1"/>
<path d="M389.0 81.7L392.6 85.3L389.0 88.9L385.4 85.3Z" fill="none" stroke="#2e8b57" stroke-width="1"/>
<path d="M392.8 79.0L396.4 82.6L392.8 86.2L389.2 82.6Z" fill="none" stroke="#2e8b57" stroke-width="1"/>
<path d="M396.7 80.6L400.3 84.2L396.7 87.8L393.1 84.2Z" fill="none" stroke="#2e8b57" stroke-width="1"/>
<path d="M400.6 81.9L404.2 85.5L400.6 89.1L397.0 85.5Z" fill="none" stroke="#2e8b57" stroke-width="1"/>
<path d="M404.4 84.3L408.0 87.9L404.4 91.5L400.8 87.9Z" fill="none" stroke="#2e8b57" stroke-width="1"/>
<path d="M408.3 82.6L411.9 86.2L408.3 89.8L404.7 86.2Z" fill="none" stroke="#2e8b57" stroke-width="1"/>
<path d="M412.1 81.6L415.7 85.2L412.1 88.8L408.5 85.2Z" fill="none" stroke="#2e8b57" stroke-width="1"/>
<path d="M416.0 81.8L419.6 85.4L416.0 89.0L412.4 85.4Z" fill="none" stroke="#2e8b57" stroke-width="1"/>
<path d="M419.9 82.0L423.5 85.6L419.9 89.2L416.3 85.6Z" fill="none" stroke="#2e8b57" stroke-width="1"/>
<path d="M423.7 78.8L427.3 82.4L423.7 86.0L420.1 82.4Z" fill="none" stroke="#2e8b57" stroke-width="1"/>
<path d="M427.6 82.5L431.2 86.1L427.6 89.7L424.0 86.1Z" fill="none" stroke="#2e8b57" stroke-width="1"/>
<path d="M431.4 81.8L435.0 85.4L431.4 89.0L427.8 85.4Z" fill="none" stroke="#2e8b57" stroke-width="1"/>
<path d="M435.3 83.4L438.9 87.0L435.3 90.6L431.7 87.0Z" fill="none" stroke="#2e8b57" stroke-width="1"/>
<path d="M439.2 82.5L442.8 86.1L439.2 89.7L435.6 86.1Z" fill="none" stroke="#2e8b57" stroke-width="1"/>
<path d="M443.0 82.1L446.6 85.7L443.0 89.3L439.4 85.7Z" fill="none" stroke="#2e8b57" stroke-width="1"/>
<path d="M446.9 83.5L450.5 87.1L446.9 90.7L443.3 87.1Z" fill="none" stroke="#2e8b57" stroke-width="1"/>
<path d="M450.7 81.3L454.3 84.9L450.7 88.5L447.1 84.9Z" fill="none" stroke="#2e8b57" stroke-width="1"/>
<path d="M454.6 83.8L458.2 87.4L454.6 91.0L451.0 87.4Z" fill="none" stroke="#2e8b57" stroke-width="1"/>
<path d="M458.5 82.1L462.1 85.7L458.5 89.3L454.9 85.7Z" fill="none" stroke="#2e8b57" stroke-width="1"/>
<path d="M462.3 82.9L465.9 86.5L462.3 90.1L458.7 86.5Z" fill="none" stroke="#2e8b57" stroke-width="1"/>
<path d="M466.2 81.6L469.8 85.2L466.2 88.8L462.6 85.2Z" fill="none" stroke="#2e8b57" stroke-width="1"/>
<path d="M470.0 82.4L473.6 86.0L470.0 89.6L466.4 86.0Z" fill="none" stroke="#2e8b57" stroke-width="1"/>
<path d="M473.9 84.1L477.5 87.7L473.9 91.3L470.3 87.7Z" fill="none" stroke="#2e8b57" stroke-width="1"/>
<path d="M477.8 80.7L481.4 84.3L477.8 87.9L474.2 84.3Z" fill="none" stroke="#2e8b57" stroke-width="1"/>
<path d="M481.6 82.4L485.2 86.0L481.6 89.6L478.0 86.0Z" fill="none" stroke="#2e8b57" stroke-width="1"/>
<path d="M485.5 80.6L489.1 84.2L485.5 87.8L481.9 84.2Z" fill="none" stroke="#2e8b57" stroke-width="1"/>
<path d="M489.3 83.6L492.9 87.2L489.3 90.8L485.7 87.2Z" fill="none" stroke="#2e8b57" stroke-width="1"/>
<path d="M493.2 82.1L496.8 85.7L493.2 89.3L489.6 85.7Z" fill="none" stroke="#2e8b57" stroke-width="1"/>
<path d="M497.1 84.6L500.7 88.2L497.1 91.8L493.5 88.2Z" fill="none" stroke="#2e8b57" stroke-width="1"/>
<path d="M500.9 81.8L504.5 85.4L500.9 89.0L497.3 85.4Z" fill="none" stroke="#2e8b57" stroke-width="1"/>
<path d="M504.8 82.6L508.4 86.2L504.8 89.8L501.2 86.2Z" fill="none" stroke="#2e8b57" stroke-width="1"/>
<path d="M508.6 81.7L512.2 85.3L508.6 88.9L505.0 85.3Z" fill="none" stroke="#2e8b57" stroke-width="1"/>
<path d="M512.5 82.7L516.1 86.3L512.5 89.9L508.9 86.3Z" fill="none" stroke="#2e8b57" stroke-width="1"/>
<path d="M319.5 58.6L323.1 62.2L319.5 65.8L315.9 62.2Z" fill="none" stroke="#2e8b57" stroke-width="1"/>
<path d="M354.1 74.2L357.7 77.8L354.1 81.4L350.5 77.8Z" fill="none" stroke="#2e8b57" stroke-width="1"/>
<path d="M343.2 88.1L349.8 94.7M349.8 88.1L343.2 94.7" stroke="#ff3333" stroke-width="1"/>
<path d="M347.1 82.6L353.7 89.2M353.7 82.6L347.1 89.2" stroke="#ff3333" stroke-width="1"/>
<path d="M350.9 84.6L357.5 91.2M357.5 84.6L350.9 91.2" stroke="#ff3333" stroke-width="1"/>
<path d="M354.8 85.8L361.4 92.4M361.4 85.8L354.8 92.4" stroke="#ff3333" stroke-width="1"/>
<path d="M358.7 86.5L365.3 93.1M365.3 86.5L358.7 93.1" stroke="#ff3333" stroke-width="1"/>
<path d="M362.5 87.7L369.1 94.3M369.1 87.7L362.5 94.3" stroke="#ff3333" stroke-width="1"/>
<path d="M366.4 85.7L373.0 92.3M373.0 85.7L366.4 92.3" stroke="#ff3333" stroke-width="1"/>
<path d="M370.2 82.9L376.8 89.5M376.8 82.9L370.2 89.5" stroke="#ff3333" stroke-width="1"/>
<path d="M374.1 84.2L380.7 90.8M380.7 84.2L374.1 90.8" stroke="#ff3333" stroke-width="1"/>
<path d="M378.0 82.8L384.6 89.4M384.6 82.8L378.0 89.4" stroke="#ff3333" stroke-width="1"/>
<path d="M381.8 85.4L388.4 92.0M388.4 85.4L381.8 92.0" stroke="#ff3333" stroke-width="1"/>
<path d="M385.7 86.3L392.3 92.9M392.3 86.3L385.7 92.9" stroke="#ff3333" stroke-width="1"/>
<path d="M389.5 84.8L396.1 91.4M396.1 84.8L389.5 91.4" stroke="#ff3333" stroke-width="1"/>
<path d="M393.4 83.5L400.0 90.1M400.0 83.5L393.4 90.1" stroke="#ff3333" stroke-width="1"/>
<path d="M397.3 84.8L403.9 91.4M403.9 84.8L397.3 91.4" stroke="#ff3333" stroke-width="1"/>
<path d="M401.1 84.1L407.7 90.7M407.7 84.1L401.1 90.7" stroke="#ff3333" stroke-width="1"/>
<path d="M405.0 84.6L411.6 91.2M411.6 84.6L405.0 91.2" stroke="#ff3333" stroke-width="1"/>
<path d="M408.8 85.6L415.4 92.2M415.4 85.6L408.8 92.2" stroke="#ff3333" stroke-width="1"/>
<path d="M412.7 86.0L419.3 92.6M419.3 86.0L412.7 92.6" stroke="#ff3333" stroke-width="1"/>
<path d="M416.6 84.8L423.2 91.4M423.2 84.8L416.6 91.4" stroke="#ff3333" stroke-width="1"/>
<path d="M420.4 82.9L427.0 89.5M427.0 82.9L420.4 89.5" stroke="#ff3333" stroke-width="1"/>
<path d="M424.3 87.7L430.9 94.3M430.9 87.7L424.3 94.3" stroke="#ff3333" stroke-width="1"/>
<path d="M428.1 85.9L434.7 92.5M434.7 85.9L428.1 92.5" stroke="#ff3333" stroke-width="1"/>
<path d="M432.0 87.3L438.6 93.9M438.6 87.3L432.0 93.9" stroke="#ff3333" stroke-width="1"/>
<path d="M435.9 84.7L442.5 91.3M442.5 84.7L435.9 91.3" stroke="#ff3333" stroke-width="1"/>
<path d="M439.7 84.7L446.3 91.3M446.3 84.7L439.7 91.3" stroke="#ff3333" stroke-width="1"/>
<path d="M443.6 81.7L450.2 88.3M450.2 81.7L443.6 88.3" stroke="#ff3333" stroke-width="1"/>
<path d="M447.4 87.1L454.0 93.7M454.0 87.1L447.4 93.7" stroke="#ff3333" stroke-width="1"/>
<path d="M451.3 84.8L457.9 91.4M457.9 84.8L451.3 91.4" stroke="#ff3333" stroke-width="1"/>
<path d="M455.2 83.1L461.8 89.7M461.8 83.1L455.2 89.7" stroke="#ff3333" stroke-width="1"/>
<path d="M459.0 84.9L465.6 91.5M465.6 84.9L459.0 91.5" stroke="#ff3333" stroke-width="1"/>
<path d="M462.9 82.8L469.5 89.4M469.5 82.8L462.9 89.4" stroke="#ff3333" stroke-width="1"/>
<path d="M466.7 84.6L473.3 91.2M473.3 84.6L466.7 91.2" stroke="#ff3333" stroke-width="1"/>
<path d="M470.6 83.2L477.2 89.8M477.2 83.2L470.6 89.8" stroke="#ff3333" stroke-width="1"/>
<path d="M474.5 82.8L481.1 89.4M481.1 82.8L474.5 89.4" stroke="#ff3333" stroke-width="1"/>
<path d="M478.3 85.6L484.9 92.2M484.9 85.6L478.3 92.2" stroke="#ff3333" stroke-width="1"/>
<path d="M482.2 84.0L488.8 90.6M488.8 84.0L482.2 90.6" stroke="#ff3333" stroke-width="1"/>
<path d="M486.0 85.4L492.6 92.0M492.6 85.4L486.0 92.0" stroke="#ff3333" stroke-width="1"/>
<path d="M489.9 86.8L496.5 93.4M496.5 86.8L489.9 93.4" stroke="#ff3333" stroke-width="1"/>
<path d="M493.8 84.5L500.4 91.1M500.4 84.5L493.8 91.1" stroke="#ff3333" stroke-width="1"/>
<path d="M497.6 86.7L504.2 93.3M504.2 86.7L497.6 93.3" stroke="#ff3333" stroke-width="1"/>
<path d="M501.5 86.1L508.1 92.7M508.1 86.1L501.5 92.7" stroke="#ff3333" stroke-width="1"/>
<path d="M505.3 84.7L511.9 91.3M511.9 84.7L505.3 91.3" stroke="#ff3333" stroke-width="1"/>
<path d="M509.2 85.6L515.8 92.2M515.8 85.6L509.2 92.2" stroke="#ff3333" stroke-width="1"/>
<path d="M324.0 103.9L330.6 110.5M330.6 103.9L324.0 110.5" stroke="#ff3333" stroke-width="1"/>
<path d="M332.4 98.4L339.0 105.0M339.0 98.4L332.4 105.0" stroke="#ff3333" stroke-width="1"/>
<path d="M318.2 155.0L324.8 161.6M324.8 155.0L318.2 161.6" stroke="#ff3333" stroke-width="1"/>
<path d="M316.2 187.2L322.8 193.8M322.8 187.2L316.2 193.8" stroke="#ff3333" stroke-width="1"/>
<path d="M343.0 83.7H350.0M346.5 80.2V87.2" stroke="#cc33ff" stroke-width="1"/>
<path d="M346.9 86.6H353.9M350.4 83.1V90.1" stroke="#cc33ff" stroke-width="1"/>
<path d="M350.7 88.4H357.7M354.2 84.9V91.9" stroke="#cc33ff" stroke-width="1"/>
<path d="M354.6 91.3H361.6M358.1 87.8V94.8" stroke="#cc33ff" stroke-width="1"/>
<path d="M358.5 85.7H365.5M362.0 82.2V89.2" stroke="#cc33ff" stroke-width="1"/>
<path d="M362.3 87.8H369.3M365.8 84.3V91.3" stroke="#cc33ff" stroke-width="1"/>
<path d="M366.2 90.3H373.2M369.7 86.8V93.8" stroke="#cc33ff" stroke-width="1"/>
<path d="M370.0 88.7H377.0M373.5 85.2V92.2" stroke="#cc33ff" stroke-width="1"/>
<path d="M373.9 89.3H380.9M377.4 85.8V92.8" stroke="#cc33ff" stroke-width="1"/>
<path d="M377.8 88.7H384.8M381.3 85.2V92.2" stroke="#cc33ff" stroke-width="1"/>
<path d="M381.6 88.3H388.6M385.1 84.8V91.8" stroke="#cc33ff" stroke-width="1"/>
<path d="M385.5 87.4H392.5M389.0 83.9V90.9" stroke="#cc33ff" stroke-width="1"/>
<path d="M389.3 87.9H396.3M392.8 84.4V91.4" stroke="#cc33ff" stroke-width="1"/>
<path d="M393.2 87.1H400.2M396.7 83.6V90.6" stroke="#cc33ff" stroke-width="1"/>
<path d="M397.1 89.7H404.1M400.6 86.2V93.2" stroke="#cc33ff" stroke-width="1"/>
<path d="M400.9 88.9H407.9M404.4 85.4V92.4" stroke="#cc33ff" stroke-width="1"/>
<path d="M404.8 86.5H411.8M408.3 83.0V90.0" stroke="#cc33ff" stroke-width="1"/>
<path d="M408.6 88.8H415.6M412.1 85.3V92.3" stroke="#cc33ff" stroke-width="1"/>
<path d="M412.5 86.6H419.5M416.0 83.1V90.1" stroke="#cc33ff" stroke-width="1"/>
<path d="M416.4 88.6H423.4M419.9 85.1V92.1" stroke="#cc33ff" stroke-width="1"/>
<path d="M420.2 89.1H427.2M423.7 85.6V92.6" stroke="#cc33ff" stroke-width="1"/>
<path d="M424.1 90.5H431.1M427.6 87.0V94.0" stroke="#cc33ff" stroke-width="1"/>
<path d="M427.9 88.5H434.9M431.4 85.0V92.0" stroke="#cc33ff" stroke-width="1"/>
<path d="M431.8 88.5H438.8M435.3 85.0V92.0" stroke="#cc33ff" stroke-width="1"/>
<path d="M435.7 87.7H442.7M439.2 84.2V91.2" stroke="#cc33ff" stroke-width="1"/>
<path d="M439.5 87.6H446.5M443.0 84.1V91.1" stroke="#cc33ff" stroke-width="1"/>
<path d="M443.4 88.7H450.4M446.9 85.2V92.2" stroke="#cc33ff" stroke-width="1"/>
<path d="M447.2 92.3H454.2M450.7 88.8V95.8" stroke="#cc33ff" stroke-width="1"/>
<path d="M451.1 87.4H458.1M454.6 83.9V90.9" stroke="#cc33ff" stroke-width="1"/>
<path d="M455.0 88.0H462.0M458.5 84.5V91.5" stroke="#cc33ff" stroke-width="1"/>
<path d="M458.8 89.7H465.8M462.3 86.2V93.2" stroke="#cc33ff" stroke-width="1"/>
<path d="M462.7 89.9H469.7M466.2 86.4V93.4" stroke="#cc33ff" stroke-width="1"/>
<path d="M466.5 88.4H473.5M470.0 84.9V91.9" stroke="#cc33ff" stroke-width="1"/>
<path d="M470.4 89.6H477.4M473.9 86.1V93.1" stroke="#cc33ff" stroke-width="1"/>
<path d="M474.3 85.2H481.3M477.8 81.7V88.7" stroke="#cc33ff" stroke-width="1"/>
<path d="M478.1 87.7H485.1M481.6 84.2V91.2" stroke="#cc33ff" stroke-width="1"/>
<path d="M482.0 86.3H489.0M485.5 82.8V89.8" stroke="#cc33ff" stroke-width="1"/>
<path d="M485.8 88.7H492.8M489.3 85.2V92.2" stroke="#cc33ff" stroke-width="1"/>
<path d="M489.7 87.8H496.7M493.2 84.3V91.3" stroke="#cc33ff" stroke-width="1"/>
<path d="M493.6 87.1H500.6M497.1 83.6V90.6" stroke="#cc33ff" stroke-width="1"/>
<path d="M497.4 88.2H504.4M500.9 84.7V91.7" stroke="#cc33ff" stroke-width="1"/>
<path d="M501.3 87.9H508.3M504.8 84.4V91.4" stroke="#cc33ff" stroke-width="1"/>
<path d="M505.1 88.6H512.1M508.6 85.1V92.1" stroke="#cc33ff" stroke-width="1"/>
<path d="M509.0 89.0H516.0M512.5 85.5V92.5" stroke="#cc33ff" stroke-width="1"/>
<path d="M319.9 107.2H326.9M323.4 103.7V110.7" stroke="#cc33ff" stroke-width="1"/>
<path d="M316.0 117.4H323.0M319.5 113.9V120.9" stroke="#cc33ff" stroke-width="1"/>
<path d="M346.9 95.3H353.9M350.4 91.8V98.8" stroke="#cc33ff" stroke-width="1"/>
<path d="M346.5 89.5L350.0 94.4H343.0Z" fill="none" stroke="#22eeff" stroke-width="1.1" stroke-linejoin="round"/>
<path d="M350.4 87.6L353.9 92.5H346.9Z" fill="none" stroke="#22eeff" stroke-width="1.1" stroke-linejoin="round"/>
<path d="M354.2 93.9L357.7 98.8H350.7Z" fill="none" stroke="#22eeff" stroke-width="1.1" stroke-linejoin="round"/>
<path d="M358.1 89.6L361.6 94.5H354.6Z" fill="none" stroke="#22eeff" stroke-width="1.1" stroke-linejoin="round"/>
<path d="M362.0 85.2L365.5 90.1H358.5Z" fill="none" stroke="#22eeff" stroke-width="1.1" stroke-linejoin="round"/>
<path d="M365.8 87.3L369.3 92.2H362.3Z" fill="none" stroke="#22eeff" stroke-width="1.1" stroke-linejoin="round"/>
<path d="M369.7 90.3L373.2 95.2H366.2Z" fill="none" stroke="#22eeff" stroke-width="1.1" stroke-linejoin="round"/>
<path d="M373.5 87.4L377.0 92.3H370.0Z" fill="none" stroke="#22eeff" stroke-width="1.1" stroke-linejoin="round"/>
<path d="M377.4 89.8L380.9 94.7H373.9Z" fill="none" stroke="#22eeff" stroke-width="1.1" stroke-linejoin="round"/>
<path d="M381.3 90.8L384.8 95.7H377.8Z" fill="none" stroke="#22eeff" stroke-width="1.1" stroke-linejoin="round"/>
<path d="M385.1 86.6L388.6 91.5H381.6Z" fill="none" stroke="#22eeff" stroke-width="1.1" stroke-linejoin="round"/>
<path d="M389.0 88.0L392.5 92.9H385.5Z" fill="none" stroke="#22eeff" stroke-width="1.1" stroke-linejoin="round"/>
<path d="M392.8 88.0L396.3 92.9H389.3Z" fill="none" stroke="#22eeff" stroke-width="1.1" stroke-linejoin="round"/>
<path d="M396.7 88.0L400.2 92.9H393.2Z" fill="none" stroke="#22eeff" stroke-width="1.1" stroke-linejoin="round"/>
<path d="M400.6 87.6L404.1 92.5H397.1Z" fill="none" stroke="#22eeff" stroke-width="1.1" stroke-linejoin="round"/>
<path d="M404.4 87.0L407.9 91.9H400.9Z" fill="none" stroke="#22eeff" stroke-width="1.1" stroke-linejoin="round"/>
<path d="M408.3 84.6L411.8 89.5H404.8Z" fill="none" stroke="#22eeff" stroke-width="1.1" stroke-linejoin="round"/>
<path d="M412.1 86.1L415.6 91.0H408.6Z" fill="none" stroke="#22eeff" stroke-width="1.1" stroke-linejoin="round"/>
<path d="M416.0 86.8L419.5 91.7H412.5Z" fill="none" stroke="#22eeff" stroke-width="1.1" stroke-linejoin="round"/>
<path d="M419.9 85.3L423.4 90.2H416.4Z" fill="none" stroke="#22eeff" stroke-width="1.1" stroke-linejoin="round"/>
<path d="M423.7 85.8L427.2 90.7H420.2Z" fill="none" stroke="#22eeff" stroke-width="1.1" stroke-linejoin="round"/>
<path d="M427.6 87.6L431.1 92.5H424.1Z" fill="none" stroke="#22eeff" stroke-width="1.1" stroke-linejoin="round"/>
<path d="M431.4 87.2L434.9 92.1H427.9Z" fill="none" stroke="#22eeff" stroke-width="1.1" stroke-linejoin="round"/>
<path d="M435.3 87.4L438.8 92.3H431.8Z" fill="none" stroke="#22eeff" stroke-width="1.1" stroke-linejoin="round"/>
<path d="M439.2 84.8L442.7 89.7H435.7Z" fill="none" stroke="#22eeff" stroke-width="1.1" stroke-linejoin="round"/>
<path d="M443.0 84.7L446.5 89.6H439.5Z" fill="none" stroke="#22eeff" stroke-width="1.1" stroke-linejoin="round"/>
<path d="M446.9 86.6L450.4 91.5H443.4Z" fill="none" stroke="#22eeff" stroke-width="1.1" stroke-linejoin="round"/>
<path d="M450.7 85.9L454.2 90.8H447.2Z" fill="none" stroke="#22eeff" stroke-width="1.1" stroke-linejoin="round"/>
<path d="M454.6 85.8L458.1 90.7H451.1Z" fill="none" stroke="#22eeff" stroke-width="1.1" stroke-linejoin="round"/>
<path d="M458.5 86.4L462.0 91.3H455.0Z" fill="none" stroke="#22eeff" stroke-width="1.1" stroke-linejoin="round"/>
<path d="M462.3 84.9L465.8 89.8H458.8Z" fill="none" stroke="#22eeff" stroke-width="1.1" stroke-linejoin="round"/>
<path d="M466.2 86.5L469.7 91.4H462.7Z" fill="none" stroke="#22eeff" stroke-width="1.1" stroke-linejoin="round"/>
<path d="M470.0 87.5L473.5 92.4H466.5Z" fill="none" stroke="#22eeff" stroke-width="1.1" stroke-linejoin="round"/>
<path d="M473.9 86.0L477.4 90.9H470.4Z" fill="none" stroke="#22eeff" stroke-width="1.1" stroke-linejoin="round"/>
<path d="M477.8 86.4L481.3 91.3H474.3Z" fill="none" stroke="#22eeff" stroke-width="1.1" stroke-linejoin="round"/>
<path d="M481.6 86.1L485.1 91.0H478.1Z" fill="none" stroke="#22eeff" stroke-width="1.1" stroke-linejoin="round"/>
<path d="M485.5 86.6L489.0 91.5H482.0Z" fill="none" stroke="#22eeff" stroke-width="1.1" stroke-linejoin="round"/>
<path d="M489.3 85.9L492.8 90.8H485.8Z" fill="none" stroke="#22eeff" stroke-width="1.1" stroke-linejoin="round"/>
<path d="M493.2 84.1L496.7 89.0H489.7Z" fill="none" stroke="#22eeff" stroke-width="1.1" stroke-linejoin="round"/>
<path d="M497.1 86.2L500.6 91.1H493.6Z" fill="none" stroke="#22eeff" stroke-width="1.1" stroke-linejoin="round"/>
<path d="M500.9 85.6L504.4 90.5H497.4Z" fill="none" stroke="#22eeff" stroke-width="1.1" stroke-linejoin="round"/>
<path d="M504.8 86.1L508.3 91.0H501.3Z" fill="none" stroke="#22eeff" stroke-width="1.1" stroke-linejoin="round"/>
<path d="M508.6 86.7L512.1 91.6H505.1Z" fill="none" stroke="#22eeff" stroke-width="1.1" stroke-linejoin="round"/>
<path d="M512.5 87.7L516.0 92.6H509.0Z" fill="none" stroke="#22eeff" stroke-width="1.1" stroke-linejoin="round"/>
<path d="M346.8 111.5L350.3 116.4H343.3Z" fill="none" stroke="#22eeff" stroke-width="1.1" stroke-linejoin="round"/>
<path d="M351.4 111.5L354.9 116.4H347.9Z" fill="none" stroke="#22eeff" stroke-width="1.1" stroke-linejoin="round"/>
<path d="M357.8 97.1L361.3 102.0H354.3Z" fill="none" stroke="#22eeff" stroke-width="1.1" stroke-linejoin="round"/>
<path d="M364.2 94.3L367.7 99.2H360.7Z" fill="none" stroke="#22eeff" stroke-width="1.1" stroke-linejoin="round"/>
<path d="M368.8 95.2L372.3 100.1H365.3Z" fill="none" stroke="#22eeff" stroke-width="1.1" stroke-linejoin="round"/>
<path d="M334.1 129.0L337.6 133.9H330.6Z" fill="none" stroke="#22eeff" stroke-width="1.1" stroke-linejoin="round"/>
<path d="M338.7 125.1L342.2 130.0H335.2Z" fill="none" stroke="#22eeff" stroke-width="1.1" stroke-linejoin="round"/>
<path d="M343.3 129.0L346.8 133.9H339.8Z" fill="none" stroke="#22eeff" stroke-width="1.1" stroke-linejoin="round"/>
<path d="M331.8 155.5L335.3 160.4H328.3Z" fill="none" stroke="#22eeff" stroke-width="1.1" stroke-linejoin="round"/>
<path d="M322.6 165.8L326.1 170.7H319.1Z" fill="none" stroke="#22eeff" stroke-width="1.1" stroke-linejoin="round"/>
<path d="M375.0 89.2L378.5 94.1H371.5Z" fill="none" stroke="#22eeff" stroke-width="1.1" stroke-linejoin="round"/>
<path d="M383.0 90.2L386.5 95.1H379.5Z" fill="none" stroke="#22eeff" stroke-width="1.1" stroke-linejoin="round"/>
<path d="M391.0 89.2L394.5 94.1H387.5Z" fill="none" stroke="#22eeff" stroke-width="1.1" stroke-linejoin="round"/>
<path d="M399.0 88.7L402.5 93.6H395.5Z" fill="none" stroke="#22eeff" stroke-width="1.1" stroke-linejoin="round"/>
<path d="M410.0 89.2L413.5 94.1H406.5Z" fill="none" stroke="#22eeff" stroke-width="1.1" stroke-linejoin="round"/>
<path d="M420.0 88.7L423.5 93.6H416.5Z" fill="none" stroke="#22eeff" stroke-width="1.1" stroke-linejoin="round"/>
<circle cx="346.5" cy="94.6" r="3.4" fill="#8b6914"/>
<circle cx="350.4" cy="85.4" r="3.4" fill="#8b6914"/>
<circle cx="354.2" cy="86.9" r="3.4" fill="#8b6914"/>
<circle cx="358.1" cy="87.0" r="3.4" fill="#8b6914"/>
<circle cx="362.0" cy="86.3" r="3.4" fill="#8b6914"/>
<circle cx="365.8" cy="84.5" r="3.4" fill="#8b6914"/>
<circle cx="369.7" cy="86.1" r="3.4" fill="#8b6914"/>
<circle cx="373.5" cy="86.2" r="3.4" fill="#8b6914"/>
<circle cx="377.4" cy="84.6" r="3.4" fill="#8b6914"/>
<circle cx="381.3" cy="86.2" r="3.4" fill="#8b6914"/>
<circle cx="385.1" cy="89.3" r="3.4" fill="#8b6914"/>
<circle cx="389.0" cy="83.0" r="3.4" fill="#8b6914"/>
<circle cx="392.8" cy="84.8" r="3.4" fill="#8b6914"/>
<circle cx="396.7" cy="86.3" r="3.4" fill="#8b6914"/>
<circle cx="400.6" cy="87.1" r="3.4" fill="#8b6914"/>
<circle cx="404.4" cy="84.6" r="3.4" fill="#8b6914"/>
<circle cx="408.3" cy="86.7" r="3.4" fill="#8b6914"/>
<circle cx="412.1" cy="87.4" r="3.4" fill="#8b6914"/>
<circle cx="416.0" cy="86.6" r="3.4" fill="#8b6914"/>
<circle cx="419.9" cy="86.6" r="3.4" fill="#8b6914"/>
<circle cx="423.7" cy="87.6" r="3.4" fill="#8b6914"/>
<circle cx="427.6" cy="84.8" r="3.4" fill="#8b6914"/>
<circle cx="431.4" cy="87.1" r="3.4" fill="#8b6914"/>
<circle cx="435.3" cy="85.7" r="3.4" fill="#8b6914"/>
<circle cx="439.2" cy="85.7" r="3.4" fill="#8b6914"/>
<circle cx="443.0" cy="87.0" r="3.4" fill="#8b6914"/>
<circle cx="446.9" cy="84.9" r="3.4" fill="#8b6914"/>
<circle cx="450.7" cy="87.0" r="3.4" fill="#8b6914"/>
<circle cx="454.6" cy="86.0" r="3.4" fill="#8b6914"/>
<circle cx="458.5" cy="87.4" r="3.4" fill="#8b6914"/>
<circle cx="462.3" cy="86.0" r="3.4" fill="#8b6914"/>
<circle cx="466.2" cy="85.6" r="3.4" fill="#8b6914"/>
<circle cx="470.0" cy="84.4" r="3.4" fill="#8b6914"/>
<circle cx="473.9" cy="84.8" r="3.4" fill="#8b6914"/>
<circle cx="477.8" cy="86.2" r="3.4" fill="#8b6914"/>
<circle cx="481.6" cy="86.5" r="3.4" fill="#8b6914"/>
<circle cx="485.5" cy="84.6" r="3.4" fill="#8b6914"/>
<circle cx="489.3" cy="83.9" r="3.4" fill="#8b6914"/>
<circle cx="493.2" cy="84.3" r="3.4" fill="#8b6914"/>
<circle cx="497.1" cy="86.3" r="3.4" fill="#8b6914"/>
<circle cx="500.9" cy="87.7" r="3.4" fill="#8b6914"/>
<circle cx="504.8" cy="84.5" r="3.4" fill="#8b6914"/>
<circle cx="508.6" cy="86.1" r="3.4" fill="#8b6914"/>
<circle cx="512.5" cy="85.9" r="3.4" fill="#8b6914"/>
<circle cx="342.2" cy="98.9" r="3.4" fill="#8b6914"/>
<circle cx="334.8" cy="108.1" r="3.4" fill="#8b6914"/>
<circle cx="327.3" cy="117.6" r="3.4" fill="#8b6914"/>
<circle cx="323.8" cy="173.2" r="3.4" fill="#8b6914"/>
<circle cx="319.5" cy="228.2" r="3.4" fill="#8b6914"/>
<rect x="343.0" y="80.0" width="7.1" height="7.1" fill="#ff6a13"/>
<rect x="346.8" y="84.5" width="7.1" height="7.1" fill="#ff6a13"/>
<rect x="350.7" y="91.7" width="7.1" height="7.1" fill="#ff6a13"/>
<rect x="354.6" y="81.3" width="7.1" height="7.1" fill="#ff6a13"/>
<rect x="358.4" y="78.5" width="7.1" height="7.1" fill="#ff6a13"/>
<rect x="362.3" y="83.3" width="7.1" height="7.1" fill="#ff6a13"/>
<rect x="366.1" y="82.8" width="7.1" height="7.1" fill="#ff6a13"/>
<rect x="370.0" y="82.6" width="7.1" height="7.1" fill="#ff6a13"/>
<rect x="373.8" y="84.1" width="7.1" height="7.1" fill="#ff6a13"/>
<rect x="377.7" y="85.0" width="7.1" height="7.1" fill="#ff6a13"/>
<rect x="381.6" y="80.8" width="7.1" height="7.1" fill="#ff6a13"/>
<rect x="385.4" y="85.0" width="7.1" height="7.1" fill="#ff6a13"/>
<rect x="389.3" y="82.5" width="7.1" height="7.1" fill="#ff6a13"/>
<rect x="393.1" y="83.5" width="7.1" height="7.1" fill="#ff6a13"/>
<rect x="397.0" y="86.0" width="7.1" height="7.1" fill="#ff6a13"/>
<rect x="400.9" y="82.8" width="7.1" height="7.1" fill="#ff6a13"/>
<rect x="404.7" y="82.8" width="7.1" height="7.1" fill="#ff6a13"/>
<rect x="408.6" y="79.9" width="7.1" height="7.1" fill="#ff6a13"/>
<rect x="412.4" y="86.8" width="7.1" height="7.1" fill="#ff6a13"/>
<rect x="416.3" y="82.8" width="7.1" height="7.1" fill="#ff6a13"/>
<rect x="420.2" y="83.6" width="7.1" height="7.1" fill="#ff6a13"/>
<rect x="424.0" y="82.7" width="7.1" height="7.1" fill="#ff6a13"/>
<rect x="427.9" y="82.2" width="7.1" height="7.1" fill="#ff6a13"/>
<rect x="431.8" y="82.7" width="7.1" height="7.1" fill="#ff6a13"/>
<rect x="435.6" y="85.0" width="7.1" height="7.1" fill="#ff6a13"/>
<rect x="439.5" y="85.4" width="7.1" height="7.1" fill="#ff6a13"/>
<rect x="443.3" y="83.8" width="7.1" height="7.1" fill="#ff6a13"/>
<rect x="447.2" y="84.7" width="7.1" height="7.1" fill="#ff6a13"/>
<rect x="451.1" y="83.3" width="7.1" height="7.1" fill="#ff6a13"/>
<rect x="454.9" y="86.5" width="7.1" height="7.1" fill="#ff6a13"/>
<rect x="458.8" y="80.9" width="7.1" height="7.1" fill="#ff6a13"/>
<rect x="462.6" y="84.8" width="7.1" height="7.1" fill="#ff6a13"/>
<rect x="466.5" y="84.3" width="7.1" height="7.1" fill="#ff6a13"/>
<rect x="470.3" y="85.0" width="7.1" height="7.1" fill="#ff6a13"/>
<rect x="474.2" y="85.2" width="7.1" height="7.1" fill="#ff6a13"/>
<rect x="478.1" y="86.0" width="7.1" height="7.1" fill="#ff6a13"/>
<rect x="481.9" y="84.3" width="7.1" height="7.1" fill="#ff6a13"/>
<rect x="485.8" y="83.1" width="7.1" height="7.1" fill="#ff6a13"/>
<rect x="489.7" y="83.9" width="7.1" height="7.1" fill="#ff6a13"/>
<rect x="493.5" y="82.0" width="7.1" height="7.1" fill="#ff6a13"/>
<rect x="497.4" y="87.5" width="7.1" height="7.1" fill="#ff6a13"/>
<rect x="501.2" y="79.4" width="7.1" height="7.1" fill="#ff6a13"/>
<rect x="505.1" y="85.3" width="7.1" height="7.1" fill="#ff6a13"/>
<rect x="508.9" y="84.3" width="7.1" height="7.1" fill="#ff6a13"/>
<rect x="315.9" y="85.2" width="7.1" height="7.1" fill="#ff6a13"/>
<rect x="323.8" y="78.9" width="7.1" height="7.1" fill="#ff6a13"/>
<rect x="327.6" y="87.2" width="7.1" height="7.1" fill="#ff6a13"/>
<rect x="334.9" y="86.2" width="7.1" height="7.1" fill="#ff6a13"/>
<rect x="319.8" y="95.4" width="7.1" height="7.1" fill="#ff6a13"/>
<path d="M346.5 81.3L350.3 85.1L346.5 88.9L342.7 85.1Z" fill="#12aef0"/>
<path d="M350.4 84.8L354.2 88.6L350.4 92.4L346.6 88.6Z" fill="#12aef0"/>
<path d="M354.2 85.4L358.0 89.2L354.2 93.0L350.4 89.2Z" fill="#12aef0"/>
<path d="M358.1 81.1L361.9 84.9L358.1 88.7L354.3 84.9Z" fill="#12aef0"/>
<path d="M362.0 81.6L365.8 85.4L362.0 89.2L358.2 85.4Z" fill="#12aef0"/>
<path d="M365.8 83.7L369.6 87.5L365.8 91.3L362.0 87.5Z" fill="#12aef0"/>
<path d="M369.7 81.0L373.5 84.8L369.7 88.6L365.9 84.8Z" fill="#12aef0"/>
<path d="M373.5 81.3L377.3 85.1L373.5 88.9L369.7 85.1Z" fill="#12aef0"/>
<path d="M377.4 83.3L381.2 87.1L377.4 90.9L373.6 87.1Z" fill="#12aef0"/>
<path d="M381.3 81.6L385.1 85.4L381.3 89.2L377.5 85.4Z" fill="#12aef0"/>
<path d="M385.1 84.7L388.9 88.5L385.1 92.3L381.3 88.5Z" fill="#12aef0"/>
<path d="M389.0 84.8L392.8 88.6L389.0 92.4L385.2 88.6Z" fill="#12aef0"/>
<path d="M392.8 82.9L396.6 86.7L392.8 90.5L389.0 86.7Z" fill="#12aef0"/>
<path d="M396.7 82.4L400.5 86.2L396.7 90.0L392.9 86.2Z" fill="#12aef0"/>
<path d="M400.6 84.0L404.4 87.8L400.6 91.6L396.8 87.8Z" fill="#12aef0"/>
<path d="M404.4 81.3L408.2 85.1L404.4 88.9L400.6 85.1Z" fill="#12aef0"/>
<path d="M408.3 83.0L412.1 86.8L408.3 90.6L404.5 86.8Z" fill="#12aef0"/>
<path d="M412.1 82.0L415.9 85.8L412.1 89.6L408.3 85.8Z" fill="#12aef0"/>
<path d="M416.0 83.5L419.8 87.3L416.0 91.1L412.2 87.3Z" fill="#12aef0"/>
<path d="M419.9 82.0L423.7 85.8L419.9 89.6L416.1 85.8Z" fill="#12aef0"/>
<path d="M423.7 84.0L427.5 87.8L423.7 91.6L419.9 87.8Z" fill="#12aef0"/>
<path d="M427.6 84.6L431.4 88.4L427.6 92.2L423.8 88.4Z" fill="#12aef0"/>
<path d="M431.4 82.2L435.2 86.0L431.4 89.8L427.6 86.0Z" fill="#12aef0"/>
<path d="M435.3 81.2L439.1 85.0L435.3 88.8L431.5 85.0Z" fill="#12aef0"/>
<path d="M439.2 84.3L443.0 88.1L439.2 91.9L435.4 88.1Z" fill="#12aef0"/>
<path d="M443.0 83.2L446.8 87.0L443.0 90.8L439.2 87.0Z" fill="#12aef0"/>
<path d="M446.9 83.2L450.7 87.0L446.9 90.8L443.1 87.0Z" fill="#12aef0"/>
<path d="M450.7 82.4L454.5 86.2L450.7 90.0L446.9 86.2Z" fill="#12aef0"/>
<path d="M454.6 82.7L458.4 86.5L454.6 90.3L450.8 86.5Z" fill="#12aef0"/>
<path d="M458.5 83.7L462.3 87.5L458.5 91.3L454.7 87.5Z" fill="#12aef0"/>
<path d="M462.3 82.5L466.1 86.3L462.3 90.1L458.5 86.3Z" fill="#12aef0"/>
<path d="M466.2 82.2L470.0 86.0L466.2 89.8L462.4 86.0Z" fill="#12aef0"/>
<path d="M470.0 85.1L473.8 88.9L470.0 92.7L466.2 88.9Z" fill="#12aef0"/>
<path d="M473.9 82.0L477.7 85.8L473.9 89.6L470.1 85.8Z" fill="#12aef0"/>
<path d="M477.8 84.4L481.6 88.2L477.8 92.0L474.0 88.2Z" fill="#12aef0"/>
<path d="M481.6 82.2L485.4 86.0L481.6 89.8L477.8 86.0Z" fill="#12aef0"/>
<path d="M485.5 82.7L489.3 86.5L485.5 90.3L481.7 86.5Z" fill="#12aef0"/>
<path d="M489.3 83.1L493.1 86.9L489.3 90.7L485.5 86.9Z" fill="#12aef0"/>
<path d="M493.2 84.3L497.0 88.1L493.2 91.9L489.4 88.1Z" fill="#12aef0"/>
<path d="M497.1 82.2L500.9 86.0L497.1 89.8L493.3 86.0Z" fill="#12aef0"/>
<path d="M500.9 83.8L504.7 87.6L500.9 91.4L497.1 87.6Z" fill="#12aef0"/>
<path d="M504.8 82.3L508.6 86.1L504.8 89.9L501.0 86.1Z" fill="#12aef0"/>
<path d="M508.6 84.0L512.4 87.8L508.6 91.6L504.8 87.8Z" fill="#12aef0"/>
<path d="M512.5 82.2L516.3 86.0L512.5 89.8L508.7 86.0Z" fill="#12aef0"/>
<path d="M323.4 70.3L327.2 74.1L323.4 77.9L319.6 74.1Z" fill="#12aef0"/>
<path d="M327.3 94.2L331.1 98.0L327.3 101.8L323.5 98.0Z" fill="#12aef0"/>
<path d="M345.8 88.7L349.6 92.5L345.8 96.3L342.0 92.5Z" fill="#12aef0"/>
<path d="M331.1 123.4L334.9 127.2L331.1 131.0L327.3 127.2Z" fill="#12aef0"/>
<path d="M319.5 175.2L323.3 179.0L319.5 182.8L315.7 179.0Z" fill="#12aef0"/>
<path d="M346.5 80.4L350.1 86.9H342.9Z" fill="#555555"/>
<path d="M350.4 81.3L354.0 87.8H346.8Z" fill="#555555"/>
<path d="M354.2 81.8L357.8 88.2H350.6Z" fill="#555555"/>
<path d="M358.1 84.7L361.7 91.2H354.5Z" fill="#555555"/>
<path d="M362.0 83.5L365.6 90.0H358.4Z" fill="#555555"/>
<path d="M365.8 81.5L369.4 88.0H362.2Z" fill="#555555"/>
<path d="M369.7 79.8L373.3 86.3H366.1Z" fill="#555555"/>
<path d="M373.5 82.2L377.1 88.7H369.9Z" fill="#555555"/>
<path d="M377.4 79.9L381.0 86.4H373.8Z" fill="#555555"/>
<path d="M381.3 79.8L384.9 86.2H377.7Z" fill="#555555"/>
<path d="M385.1 81.4L388.7 87.9H381.5Z" fill="#555555"/>
<path d="M389.0 80.7L392.6 87.2H385.4Z" fill="#555555"/>
<path d="M392.8 82.9L396.4 89.4H389.2Z" fill="#555555"/>
<path d="M396.7 80.9L400.3 87.4H393.1Z" fill="#555555"/>
<path d="M400.6 79.4L404.2 85.9H397.0Z" fill="#555555"/>
<path d="M404.4 81.5L408.0 88.0H400.8Z" fill="#555555"/>
<path d="M408.3 80.5L411.9 87.0H404.7Z" fill="#555555"/>
<path d="M412.1 80.8L415.7 87.3H408.5Z" fill="#555555"/>
<path d="M416.0 81.4L419.6 87.9H412.4Z" fill="#555555"/>
<path d="M419.9 80.0L423.5 86.4H416.3Z" fill="#555555"/>
<path d="M423.7 83.4L427.3 89.9H420.1Z" fill="#555555"/>
<path d="M427.6 78.9L431.2 85.4H424.0Z" fill="#555555"/>
<path d="M431.4 82.3L435.0 88.8H427.8Z" fill="#555555"/>
<path d="M435.3 80.1L438.9 86.6H431.7Z" fill="#555555"/>
<path d="M439.2 82.6L442.8 89.1H435.6Z" fill="#555555"/>
<path d="M443.0 82.1L446.6 88.6H439.4Z" fill="#555555"/>
<path d="M446.9 79.2L450.5 85.7H443.3Z" fill="#555555"/>
<path d="M450.7 78.6L454.3 85.1H447.1Z" fill="#555555"/>
<path d="M454.6 82.5L458.2 88.9H451.0Z" fill="#555555"/>
<path d="M458.5 80.3L462.1 86.8H454.9Z" fill="#555555"/>
<path d="M462.3 82.2L465.9 88.7H458.7Z" fill="#555555"/>
<path d="M466.2 81.3L469.8 87.8H462.6Z" fill="#555555"/>
<path d="M470.0 80.3L473.6 86.8H466.4Z" fill="#555555"/>
<path d="M473.9 81.8L477.5 88.3H470.3Z" fill="#555555"/>
<path d="M477.8 82.4L481.4 88.9H474.2Z" fill="#555555"/>
<path d="M481.6 82.7L485.2 89.1H478.0Z" fill="#555555"/>
<path d="M485.5 82.6L489.1 89.0H481.9Z" fill="#555555"/>
<path d="M489.3 82.8L492.9 89.3H485.7Z" fill="#555555"/>
<path d="M493.2 80.4L496.8 86.9H489.6Z" fill="#555555"/>
<path d="M497.1 81.1L500.7 87.6H493.5Z" fill="#555555"/>
<path d="M500.9 80.3L504.5 86.8H497.3Z" fill="#555555"/>
<path d="M504.8 84.5L508.4 91.0H501.2Z" fill="#555555"/>
<path d="M508.6 81.7L512.2 88.2H505.0Z" fill="#555555"/>
<path d="M512.5 79.5L516.1 86.0H508.9Z" fill="#555555"/>
<path d="M319.5 63.2L323.1 69.7H315.9Z" fill="#555555"/>
<path d="M323.4 65.0L327.0 71.5H319.8Z" fill="#555555"/>
<path d="M334.8 75.1L338.4 81.6H331.2Z" fill="#555555"/>
<path d="M342.2 76.0L345.8 82.5H338.6Z" fill="#555555"/>
<path d="M327.3 79.7L330.9 86.2H323.7Z" fill="#555555"/>
<path d="M337.6 81.5L341.2 88.0H334.0Z" fill="#555555"/>
<circle cx="602.7" cy="86.1" r="3.0" fill="none" stroke="#3a3a3a" stroke-width="1"/>
<circle cx="606.6" cy="91.1" r="3.0" fill="none" stroke="#3a3a3a" stroke-width="1"/>
<circle cx="610.5" cy="84.1" r="3.0" fill="none" stroke="#3a3a3a" stroke-width="1"/>
<circle cx="614.3" cy="86.2" r="3.0" fill="none" stroke="#3a3a3a" stroke-width="1"/>
<circle cx="618.2" cy="90.3" r="3.0" fill="none" stroke="#3a3a3a" stroke-width="1"/>
<circle cx="622.1" cy="88.3" r="3.0" fill="none" stroke="#3a3a3a" stroke-width="1"/>
<circle cx="625.9" cy="85.9" r="3.0" fill="none" stroke="#3a3a3a" stroke-width="1"/>
<circle cx="629.8" cy="87.8" r="3.0" fill="none" stroke="#3a3a3a" stroke-width="1"/>
<circle cx="633.7" cy="84.1" r="3.0" fill="none" stroke="#3a3a3a" stroke-width="1"/>
<circle cx="637.5" cy="86.2" r="3.0" fill="none" stroke="#3a3a3a" stroke-width="1"/>
<circle cx="641.4" cy="85.7" r="3.0" fill="none" stroke="#3a3a3a" stroke-width="1"/>
<circle cx="645.3" cy="89.8" r="3.0" fill="none" stroke="#3a3a3a" stroke-width="1"/>
<circle cx="649.2" cy="84.9" r="3.0" fill="none" stroke="#3a3a3a" stroke-width="1"/>
<circle cx="653.0" cy="83.3" r="3.0" fill="none" stroke="#3a3a3a" stroke-width="1"/>
<circle cx="656.9" cy="85.7" r="3.0" fill="none" stroke="#3a3a3a" stroke-width="1"/>
<circle cx="660.8" cy="84.9" r="3.0" fill="none" stroke="#3a3a3a" stroke-width="1"/>
<circle cx="664.6" cy="85.7" r="3.0" fill="none" stroke="#3a3a3a" stroke-width="1"/>
<circle cx="668.5" cy="88.3" r="3.0" fill="none" stroke="#3a3a3a" stroke-width="1"/>
<circle cx="672.4" cy="86.1" r="3.0" fill="none" stroke="#3a3a3a" stroke-width="1"/>
<circle cx="676.2" cy="85.9" r="3.0" fill="none" stroke="#3a3a3a" stroke-width="1"/>
<circle cx="680.1" cy="87.1" r="3.0" fill="none" stroke="#3a3a3a" stroke-width="1"/>
<circle cx="684.0" cy="89.1" r="3.0" fill="none" stroke="#3a3a3a" stroke-width="1"/>
<circle cx="687.9" cy="86.2" r="3.0" fill="none" stroke="#3a3a3a" stroke-width="1"/>
<circle cx="691.7" cy="84.8" r="3.0" fill="none" stroke="#3a3a3a" stroke-width="1"/>
<circle cx="695.6" cy="87.7" r="3.0" fill="none" stroke="#3a3a3a" stroke-width="1"/>
<circle cx="699.5" cy="86.8" r="3.0" fill="none" stroke="#3a3a3a" stroke-width="1"/>
<circle cx="703.3" cy="85.7" r="3.0" fill="none" stroke="#3a3a3a" stroke-width="1"/>
<circle cx="707.2" cy="86.3" r="3.0" fill="none" stroke="#3a3a3a" stroke-width="1"/>
<circle cx="711.1" cy="84.9" r="3.0" fill="none" stroke="#3a3a3a" stroke-width="1"/>
<circle cx="715.0" cy="83.7" r="3.0" fill="none" stroke="#3a3a3a" stroke-width="1"/>
<circle cx="718.8" cy="88.4" r="3.0" fill="none" stroke="#3a3a3a" stroke-width="1"/>
<circle cx="722.7" cy="85.8" r="3.0" fill="none" stroke="#3a3a3a" stroke-width="1"/>
<circle cx="726.6" cy="86.5" r="3.0" fill="none" stroke="#3a3a3a" stroke-width="1"/>
<circle cx="730.4" cy="89.0" r="3.0" fill="none" stroke="#3a3a3a" stroke-width="1"/>
<circle cx="734.3" cy="86.9" r="3.0" fill="none" stroke="#3a3a3a" stroke-width="1"/>
<circle cx="738.2" cy="87.2" r="3.0" fill="none" stroke="#3a3a3a" stroke-width="1"/>
<circle cx="742.0" cy="84.1" r="3.0" fill="none" stroke="#3a3a3a" stroke-width="1"/>
<circle cx="745.9" cy="87.6" r="3.0" fill="none" stroke="#3a3a3a" stroke-width="1"/>
<circle cx="749.8" cy="85.9" r="3.0" fill="none" stroke="#3a3a3a" stroke-width="1"/>
<circle cx="753.6" cy="86.1" r="3.0" fill="none" stroke="#3a3a3a" stroke-width="1"/>
<circle cx="757.5" cy="85.5" r="3.0" fill="none" stroke="#3a3a3a" stroke-width="1"/>
<circle cx="761.4" cy="87.0" r="3.0" fill="none" stroke="#3a3a3a" stroke-width="1"/>
<circle cx="765.3" cy="85.6" r="3.0" fill="none" stroke="#3a3a3a" stroke-width="1"/>
<circle cx="769.1" cy="87.8" r="3.0" fill="none" stroke="#3a3a3a" stroke-width="1"/>
<circle cx="773.0" cy="88.4" r="3.0" fill="none" stroke="#3a3a3a" stroke-width="1"/>
<circle cx="598.9" cy="59.0" r="3.0" fill="none" stroke="#3a3a3a" stroke-width="1"/>
<circle cx="579.5" cy="68.9" r="3.0" fill="none" stroke="#3a3a3a" stroke-width="1"/>
<circle cx="610.5" cy="71.4" r="3.0" fill="none" stroke="#3a3a3a" stroke-width="1"/>
<circle cx="582.4" cy="102.8" r="3.0" fill="none" stroke="#3a3a3a" stroke-width="1"/>
<circle cx="593.2" cy="88.0" r="3.0" fill="none" stroke="#3a3a3a" stroke-width="1"/>
<circle cx="587.2" cy="122.6" r="3.0" fill="none" stroke="#3a3a3a" stroke-width="1"/>
<circle cx="590.7" cy="131.8" r="3.0" fill="none" stroke="#3a3a3a" stroke-width="1"/>
<rect x="599.3" y="89.6" width="6.8" height="6.8" fill="none" stroke="#3333ff" stroke-width="1"/>
<rect x="603.2" y="84.1" width="6.8" height="6.8" fill="none" stroke="#3333ff" stroke-width="1"/>
<rect x="607.1" y="86.9" width="6.8" height="6.8" fill="none" stroke="#3333ff" stroke-width="1"/>
<rect x="610.9" y="85.2" width="6.8" height="6.8" fill="none" stroke="#3333ff" stroke-width="1"/>
<rect x="614.8" y="86.5" width="6.8" height="6.8" fill="none" stroke="#3333ff" stroke-width="1"/>
<rect x="618.7" y="84.4" width="6.8" height="6.8" fill="none" stroke="#3333ff" stroke-width="1"/>
<rect x="622.5" y="91.0" width="6.8" height="6.8" fill="none" stroke="#3333ff" stroke-width="1"/>
<rect x="626.4" y="88.0" width="6.8" height="6.8" fill="none" stroke="#3333ff" stroke-width="1"/>
<rect x="630.3" y="84.7" width="6.8" height="6.8" fill="none" stroke="#3333ff" stroke-width="1"/>
<rect x="634.1" y="85.4" width="6.8" height="6.8" fill="none" stroke="#3333ff" stroke-width="1"/>
<rect x="638.0" y="86.2" width="6.8" height="6.8" fill="none" stroke="#3333ff" stroke-width="1"/>
<rect x="641.9" y="87.9" width="6.8" height="6.8" fill="none" stroke="#3333ff" stroke-width="1"/>
<rect x="645.8" y="83.4" width="6.8" height="6.8" fill="none" stroke="#3333ff" stroke-width="1"/>
<rect x="649.6" y="85.3" width="6.8" height="6.8" fill="none" stroke="#3333ff" stroke-width="1"/>
<rect x="653.5" y="86.6" width="6.8" height="6.8" fill="none" stroke="#3333ff" stroke-width="1"/>
<rect x="657.4" y="84.7" width="6.8" height="6.8" fill="none" stroke="#3333ff" stroke-width="1"/>
<rect x="661.2" y="83.7" width="6.8" height="6.8" fill="none" stroke="#3333ff" stroke-width="1"/>
<rect x="665.1" y="85.2" width="6.8" height="6.8" fill="none" stroke="#3333ff" stroke-width="1"/>
<rect x="669.0" y="83.7" width="6.8" height="6.8" fill="none" stroke="#3333ff" stroke-width="1"/>
<rect x="672.9" y="86.1" width="6.8" height="6.8" fill="none" stroke="#3333ff" stroke-width="1"/>
<rect x="676.7" y="83.9" width="6.8" height="6.8" fill="none" stroke="#3333ff" stroke-width="1"/>
<rect x="680.6" y="85.5" width="6.8" height="6.8" fill="none" stroke="#3333ff" stroke-width="1"/>
<rect x="684.5" y="83.7" width="6.8" height="6.8" fill="none" stroke="#3333ff" stroke-width="1"/>
<rect x="688.3" y="83.2" width="6.8" height="6.8" fill="none" stroke="#3333ff" stroke-width="1"/>
<rect x="692.2" y="84.8" width="6.8" height="6.8" fill="none" stroke="#3333ff" stroke-width="1"/>
<rect x="696.1" y="84.5" width="6.8" height="6.8" fill="none" stroke="#3333ff" stroke-width="1"/>
<rect x="699.9" y="84.8" width="6.8" height="6.8" fill="none" stroke="#3333ff" stroke-width="1"/>
<rect x="703.8" y="84.9" width="6.8" height="6.8" fill="none" stroke="#3333ff" stroke-width="1"/>
<rect x="707.7" y="85.7" width="6.8" height="6.8" fill="none" stroke="#3333ff" stroke-width="1"/>
<rect x="711.6" y="86.0" width="6.8" height="6.8" fill="none" stroke="#3333ff" stroke-width="1"/>
<rect x="715.4" y="84.2" width="6.8" height="6.8" fill="none" stroke="#3333ff" stroke-width="1"/>
<rect x="719.3" y="84.4" width="6.8" height="6.8" fill="none" stroke="#3333ff" stroke-width="1"/>
<rect x="723.2" y="84.7" width="6.8" height="6.8" fill="none" stroke="#3333ff" stroke-width="1"/>
<rect x="727.0" y="84.8" width="6.8" height="6.8" fill="none" stroke="#3333ff" stroke-width="1"/>
<rect x="730.9" y="85.1" width="6.8" height="6.8" fill="none" stroke="#3333ff" stroke-width="1"/>
<rect x="734.8" y="86.1" width="6.8" height="6.8" fill="none" stroke="#3333ff" stroke-width="1"/>
<rect x="738.6" y="85.2" width="6.8" height="6.8" fill="none" stroke="#3333ff" stroke-width="1"/>
<rect x="742.5" y="83.9" width="6.8" height="6.8" fill="none" stroke="#3333ff" stroke-width="1"/>
<rect x="746.4" y="85.8" width="6.8" height="6.8" fill="none" stroke="#3333ff" stroke-width="1"/>
<rect x="750.2" y="82.9" width="6.8" height="6.8" fill="none" stroke="#3333ff" stroke-width="1"/>
<rect x="754.1" y="85.0" width="6.8" height="6.8" fill="none" stroke="#3333ff" stroke-width="1"/>
<rect x="758.0" y="85.3" width="6.8" height="6.8" fill="none" stroke="#3333ff" stroke-width="1"/>
<rect x="761.9" y="85.1" width="6.8" height="6.8" fill="none" stroke="#3333ff" stroke-width="1"/>
<rect x="765.7" y="84.7" width="6.8" height="6.8" fill="none" stroke="#3333ff" stroke-width="1"/>
<rect x="769.6" y="85.8" width="6.8" height="6.8" fill="none" stroke="#3333ff" stroke-width="1"/>
<rect x="576.5" y="101.9" width="6.8" height="6.8" fill="none" stroke="#3333ff" stroke-width="1"/>
<rect x="579.0" y="93.6" width="6.8" height="6.8" fill="none" stroke="#3333ff" stroke-width="1"/>
<path d="M602.7 79.9L606.3 83.5L602.7 87.1L599.1 83.5Z" fill="none" stroke="#2e8b57" stroke-width="1"/>
<path d="M606.6 82.5L610.2 86.1L606.6 89.7L603.0 86.1Z" fill="none" stroke="#2e8b57" stroke-width="1"/>
<path d="M610.5 85.7L614.1 89.3L610.5 92.9L606.9 89.3Z" fill="none" stroke="#2e8b57" stroke-width="1"/>
<path d="M614.3 86.1L617.9 89.7L614.3 93.3L610.7 89.7Z" fill="none" stroke="#2e8b57" stroke-width="1"/>
<path d="M618.2 83.1L621.8 86.7L618.2 90.3L614.6 86.7Z" fill="none" stroke="#2e8b57" stroke-width="1"/>
<path d="M622.1 85.8L625.7 89.4L622.1 93.0L618.5 89.4Z" fill="none" stroke="#2e8b57" stroke-width="1"/>
<path d="M625.9 82.3L629.5 85.9L625.9 89.5L622.3 85.9Z" fill="none" stroke="#2e8b57" stroke-width="1"/>
<path d="M629.8 83.1L633.4 86.7L629.8 90.3L626.2 86.7Z" fill="none" stroke="#2e8b57" stroke-width="1"/>
<path d="M633.7 80.8L637.3 84.4L633.7 88.0L630.1 84.4Z" fill="none" stroke="#2e8b57" stroke-width="1"/>
<path d="M637.5 87.2L641.1 90.8L637.5 94.4L633.9 90.8Z" fill="none" stroke="#2e8b57" stroke-width="1"/>
<path d="M641.4 83.2L645.0 86.8L641.4 90.4L637.8 86.8Z" fill="none" stroke="#2e8b57" stroke-width="1"/>
<path d="M645.3 84.4L648.9 88.0L645.3 91.6L641.7 88.0Z" fill="none" stroke="#2e8b57" stroke-width="1"/>
<path d="M649.2 80.8L652.8 84.4L649.2 88.0L645.6 84.4Z" fill="none" stroke="#2e8b57" stroke-width="1"/>
<path d="M653.0 84.2L656.6 87.8L653.0 91.4L649.4 87.8Z" fill="none" stroke="#2e8b57" stroke-width="1"/>
<path d="M656.9 80.2L660.5 83.8L656.9 87.4L653.3 83.8Z" fill="none" stroke="#2e8b57" stroke-width="1"/>
<path d="M660.8 79.4L664.4 83.0L660.8 86.6L657.2 83.0Z" fill="none" stroke="#2e8b57" stroke-width="1"/>
<path d="M664.6 82.7L668.2 86.3L664.6 89.9L661.0 86.3Z" fill="none" stroke="#2e8b57" stroke-width="1"/>
<path d="M668.5 81.1L672.1 84.7L668.5 88.3L664.9 84.7Z" fill="none" stroke="#2e8b57" stroke-width="1"/>
<path d="M672.4 83.0L676.0 86.6L672.4 90.2L668.8 86.6Z" fill="none" stroke="#2e8b57" stroke-width="1"/>
<path d="M676.2 83.1L679.9 86.7L676.2 90.3L672.6 86.7Z" fill="none" stroke="#2e8b57" stroke-width="1"/>
<path d="M680.1 84.3L683.7 87.9L680.1 91.5L676.5 87.9Z" fill="none" stroke="#2e8b57" stroke-width="1"/>
<path d="M684.0 81.9L687.6 85.5L684.0 89.1L680.4 85.5Z" fill="none" stroke="#2e8b57" stroke-width="1"/>
<path d="M687.9 81.6L691.5 85.2L687.9 88.8L684.3 85.2Z" fill="none" stroke="#2e8b57" stroke-width="1"/>
<path d="M691.7 80.3L695.3 83.9L691.7 87.5L688.1 83.9Z" fill="none" stroke="#2e8b57" stroke-width="1"/>
<path d="M695.6 83.0L699.2 86.6L695.6 90.2L692.0 86.6Z" fill="none" stroke="#2e8b57" stroke-width="1"/>
<path d="M699.5 82.9L703.1 86.5L699.5 90.1L695.9 86.5Z" fill="none" stroke="#2e8b57" stroke-width="1"/>
<path d="M703.3 85.7L706.9 89.3L703.3 92.9L699.7 89.3Z" fill="none" stroke="#2e8b57" stroke-width="1"/>
<path d="M707.2 81.4L710.8 85.0L707.2 88.6L703.6 85.0Z" fill="none" stroke="#2e8b57" stroke-width="1"/>
<path d="M711.1 83.5L714.7 87.1L711.1 90.7L707.5 87.1Z" fill="none" stroke="#2e8b57" stroke-width="1"/>
<path d="M715.0 84.1L718.6 87.7L715.0 91.3L711.4 87.7Z" fill="none" stroke="#2e8b57" stroke-width="1"/>
<path d="M718.8 82.4L722.4 86.0L718.8 89.6L715.2 86.0Z" fill="none" stroke="#2e8b57" stroke-width="1"/>
<path d="M722.7 82.3L726.3 85.9L722.7 89.5L719.1 85.9Z" fill="none" stroke="#2e8b57" stroke-width="1"/>
<path d="M726.6 81.1L730.2 84.7L726.6 88.3L723.0 84.7Z" fill="none" stroke="#2e8b57" stroke-width="1"/>
<path d="M730.4 84.1L734.0 87.7L730.4 91.3L726.8 87.7Z" fill="none" stroke="#2e8b57" stroke-width="1"/>
<path d="M734.3 79.7L737.9 83.3L734.3 86.9L730.7 83.3Z" fill="none" stroke="#2e8b57" stroke-width="1"/>
<path d="M738.2 80.0L741.8 83.6L738.2 87.2L734.6 83.6Z" fill="none" stroke="#2e8b57" stroke-width="1"/>
<path d="M742.0 82.3L745.6 85.9L742.0 89.5L738.4 85.9Z" fill="none" stroke="#2e8b57" stroke-width="1"/>
<path d="M745.9 80.4L749.5 84.0L745.9 87.6L742.3 84.0Z" fill="none" stroke="#2e8b57" stroke-width="1"/>
<path d="M749.8 81.9L753.4 85.5L749.8 89.1L746.2 85.5Z" fill="none" stroke="#2e8b57" stroke-width="1"/>
<path d="M753.6 82.1L757.2 85.7L753.6 89.3L750.0 85.7Z" fill="none" stroke="#2e8b57" stroke-width="1"/>
<path d="M757.5 81.8L761.1 85.4L757.5 89.0L753.9 85.4Z" fill="none" stroke="#2e8b57" stroke-width="1"/>
<path d="M761.4 82.1L765.0 85.7L761.4 89.3L757.8 85.7Z" fill="none" stroke="#2e8b57" stroke-width="1"/>
<path d="M765.3 84.0L768.9 87.6L765.3 91.2L761.7 87.6Z" fill="none" stroke="#2e8b57" stroke-width="1"/>
<path d="M769.1 84.6L772.7 88.2L769.1 91.8L765.5 88.2Z" fill="none" stroke="#2e8b57" stroke-width="1"/>
<path d="M773.0 82.2L776.6 85.8L773.0 89.4L769.4 85.8Z" fill="none" stroke="#2e8b57" stroke-width="1"/>
<path d="M579.5 79.4L583.1 83.0L579.5 86.6L575.9 83.0Z" fill="none" stroke="#2e8b57" stroke-width="1"/>
<path d="M591.1 79.4L594.7 83.0L591.1 86.6L587.5 83.0Z" fill="none" stroke="#2e8b57" stroke-width="1"/>
<path d="M599.4 77.0L606.0 83.6M606.0 77.0L599.4 83.6" stroke="#ff3333" stroke-width="1"/>
<path d="M603.3 77.4L609.9 84.0M609.9 77.4L603.3 84.0" stroke="#ff3333" stroke-width="1"/>
<path d="M607.2 73.9L613.8 80.5M613.8 73.9L607.2 80.5" stroke="#ff3333" stroke-width="1"/>
<path d="M611.0 79.7L617.6 86.3M617.6 79.7L611.0 86.3" stroke="#ff3333" stroke-width="1"/>
<path d="M614.9 79.7L621.5 86.3M621.5 79.7L614.9 86.3" stroke="#ff3333" stroke-width="1"/>
<path d="M618.8 79.7L625.4 86.3M625.4 79.7L618.8 86.3" stroke="#ff3333" stroke-width="1"/>
<path d="M622.6 79.8L629.2 86.4M629.2 79.8L622.6 86.4" stroke="#ff3333" stroke-width="1"/>
<path d="M626.5 78.0L633.1 84.6M633.1 78.0L626.5 84.6" stroke="#ff3333" stroke-width="1"/>
<path d="M630.4 78.5L637.0 85.1M637.0 78.5L630.4 85.1" stroke="#ff3333" stroke-width="1"/>
<path d="M634.2 76.9L640.8 83.5M640.8 76.9L634.2 83.5" stroke="#ff3333" stroke-width="1"/>
<path d="M638.1 82.3L644.7 88.9M644.7 82.3L638.1 88.9" stroke="#ff3333" stroke-width="1"/>
<path d="M642.0 78.3L648.6 84.9M648.6 78.3L642.0 84.9" stroke="#ff3333" stroke-width="1"/>
<path d="M645.9 79.3L652.5 85.9M652.5 79.3L645.9 85.9" stroke="#ff3333" stroke-width="1"/>
<path d="M649.7 79.1L656.3 85.7M656.3 79.1L649.7 85.7" stroke="#ff3333" stroke-width="1"/>
<path d="M653.6 81.3L660.2 87.9M660.2 81.3L653.6 87.9" stroke="#ff3333" stroke-width="1"/>
<path d="M657.5 80.0L664.1 86.6M664.1 80.0L657.5 86.6" stroke="#ff3333" stroke-width="1"/>
<path d="M661.3 77.3L667.9 83.9M667.9 77.3L661.3 83.9" stroke="#ff3333" stroke-width="1"/>
<path d="M665.2 80.7L671.8 87.3M671.8 80.7L665.2 87.3" stroke="#ff3333" stroke-width="1"/>
<path d="M669.1 80.8L675.7 87.4M675.7 80.8L669.1 87.4" stroke="#ff3333" stroke-width="1"/>
<path d="M673.0 81.0L679.5 87.6M679.5 81.0L673.0 87.6" stroke="#ff3333" stroke-width="1"/>
<path d="M676.8 80.1L683.4 86.7M683.4 80.1L676.8 86.7" stroke="#ff3333" stroke-width="1"/>
<path d="M680.7 81.7L687.3 88.3M687.3 81.7L680.7 88.3" stroke="#ff3333" stroke-width="1"/>
<path d="M684.6 79.2L691.2 85.8M691.2 79.2L684.6 85.8" stroke="#ff3333" stroke-width="1"/>
<path d="M688.4 81.6L695.0 88.2M695.0 81.6L688.4 88.2" stroke="#ff3333" stroke-width="1"/>
<path d="M692.3 80.0L698.9 86.6M698.9 80.0L692.3 86.6" stroke="#ff3333" stroke-width="1"/>
<path d="M696.2 80.9L702.8 87.5M702.8 80.9L696.2 87.5" stroke="#ff3333" stroke-width="1"/>
<path d="M700.0 81.2L706.6 87.8M706.6 81.2L700.0 87.8" stroke="#ff3333" stroke-width="1"/>
<path d="M703.9 81.9L710.5 88.5M710.5 81.9L703.9 88.5" stroke="#ff3333" stroke-width="1"/>
<path d="M707.8 81.2L714.4 87.8M714.4 81.2L707.8 87.8" stroke="#ff3333" stroke-width="1"/>
<path d="M711.7 82.3L718.2 88.9M718.2 82.3L711.7 88.9" stroke="#ff3333" stroke-width="1"/>
<path d="M715.5 80.5L722.1 87.1M722.1 80.5L715.5 87.1" stroke="#ff3333" stroke-width="1"/>
<path d="M719.4 80.7L726.0 87.3M726.0 80.7L719.4 87.3" stroke="#ff3333" stroke-width="1"/>
<path d="M723.3 82.1L729.9 88.7M729.9 82.1L723.3 88.7" stroke="#ff3333" stroke-width="1"/>
<path d="M727.1 84.4L733.7 91.0M733.7 84.4L727.1 91.0" stroke="#ff3333" stroke-width="1"/>
<path d="M731.0 81.1L737.6 87.7M737.6 81.1L731.0 87.7" stroke="#ff3333" stroke-width="1"/>
<path d="M734.9 79.7L741.5 86.3M741.5 79.7L734.9 86.3" stroke="#ff3333" stroke-width="1"/>
<path d="M738.7 80.2L745.3 86.8M745.3 80.2L738.7 86.8" stroke="#ff3333" stroke-width="1"/>
<path d="M742.6 80.5L749.2 87.1M749.2 80.5L742.6 87.1" stroke="#ff3333" stroke-width="1"/>
<path d="M746.5 81.9L753.1 88.5M753.1 81.9L746.5 88.5" stroke="#ff3333" stroke-width="1"/>
<path d="M750.4 81.0L756.9 87.6M756.9 81.0L750.4 87.6" stroke="#ff3333" stroke-width="1"/>
<path d="M754.2 81.5L760.8 88.1M760.8 81.5L754.2 88.1" stroke="#ff3333" stroke-width="1"/>
<path d="M758.1 79.7L764.7 86.3M764.7 79.7L758.1 86.3" stroke="#ff3333" stroke-width="1"/>
<path d="M762.0 81.3L768.6 87.9M768.6 81.3L762.0 87.9" stroke="#ff3333" stroke-width="1"/>
<path d="M765.8 81.3L772.4 87.9M772.4 81.3L765.8 87.9" stroke="#ff3333" stroke-width="1"/>
<path d="M769.7 80.9L776.3 87.5M776.3 80.9L769.7 87.5" stroke="#ff3333" stroke-width="1"/>
<path d="M580.1 62.3L586.7 68.9M586.7 62.3L580.1 68.9" stroke="#ff3333" stroke-width="1"/>
<path d="M576.2 76.4L582.8 83.0M582.8 76.4L576.2 83.0" stroke="#ff3333" stroke-width="1"/>
<path d="M583.9 74.7L590.5 81.3M590.5 74.7L583.9 81.3" stroke="#ff3333" stroke-width="1"/>
<path d="M610.7 73.7L617.3 80.3M617.3 73.7L610.7 80.3" stroke="#ff3333" stroke-width="1"/>
<path d="M617.7 74.7L624.3 81.3M624.3 74.7L617.7 81.3" stroke="#ff3333" stroke-width="1"/>
<path d="M599.2 87.1H606.2M602.7 83.6V90.6" stroke="#cc33ff" stroke-width="1"/>
<path d="M603.1 83.7H610.1M606.6 80.2V87.2" stroke="#cc33ff" stroke-width="1"/>
<path d="M607.0 81.9H614.0M610.5 78.4V85.4" stroke="#cc33ff" stroke-width="1"/>
<path d="M610.8 80.9H617.8M614.3 77.4V84.4" stroke="#cc33ff" stroke-width="1"/>
<path d="M614.7 82.5H621.7M618.2 79.0V86.0" stroke="#cc33ff" stroke-width="1"/>
<path d="M618.6 85.4H625.6M622.1 81.9V88.9" stroke="#cc33ff" stroke-width="1"/>
<path d="M622.4 83.1H629.4M625.9 79.6V86.6" stroke="#cc33ff" stroke-width="1"/>
<path d="M626.3 81.8H633.3M629.8 78.3V85.3" stroke="#cc33ff" stroke-width="1"/>
<path d="M630.2 81.9H637.2M633.7 78.4V85.4" stroke="#cc33ff" stroke-width="1"/>
<path d="M634.0 82.7H641.0M637.5 79.2V86.2" stroke="#cc33ff" stroke-width="1"/>
<path d="M637.9 83.2H644.9M641.4 79.7V86.7" stroke="#cc33ff" stroke-width="1"/>
<path d="M641.8 82.5H648.8M645.3 79.0V86.0" stroke="#cc33ff" stroke-width="1"/>
<path d="M645.7 84.0H652.7M649.2 80.5V87.5" stroke="#cc33ff" stroke-width="1"/>
<path d="M649.5 80.9H656.5M653.0 77.4V84.4" stroke="#cc33ff" stroke-width="1"/>
<path d="M653.4 82.0H660.4M656.9 78.5V85.5" stroke="#cc33ff" stroke-width="1"/>
<path d="M657.3 84.9H664.3M660.8 81.4V88.4" stroke="#cc33ff" stroke-width="1"/>
<path d="M661.1 84.8H668.1M664.6 81.3V88.3" stroke="#cc33ff" stroke-width="1"/>
<path d="M665.0 84.7H672.0M668.5 81.2V88.2" stroke="#cc33ff" stroke-width="1"/>
<path d="M668.9 81.9H675.9M672.4 78.4V85.4" stroke="#cc33ff" stroke-width="1"/>
<path d="M672.8 84.8H679.8M676.2 81.3V88.3" stroke="#cc33ff" stroke-width="1"/>
<path d="M676.6 85.2H683.6M680.1 81.7V88.7" stroke="#cc33ff" stroke-width="1"/>
<path d="M680.5 85.5H687.5M684.0 82.0V89.0" stroke="#cc33ff" stroke-width="1"/>
<path d="M684.4 84.8H691.4M687.9 81.3V88.3" stroke="#cc33ff" stroke-width="1"/>
<path d="M688.2 83.6H695.2M691.7 80.1V87.1" stroke="#cc33ff" stroke-width="1"/>
<path d="M692.1 83.1H699.1M695.6 79.6V86.6" stroke="#cc33ff" stroke-width="1"/>
<path d="M696.0 80.7H703.0M699.5 77.2V84.2" stroke="#cc33ff" stroke-width="1"/>
<path d="M699.8 83.4H706.8M703.3 79.9V86.9" stroke="#cc33ff" stroke-width="1"/>
<path d="M703.7 83.5H710.7M707.2 80.0V87.0" stroke="#cc33ff" stroke-width="1"/>
<path d="M707.6 83.4H714.6M711.1 79.9V86.9" stroke="#cc33ff" stroke-width="1"/>
<path d="M711.5 83.1H718.5M715.0 79.6V86.6" stroke="#cc33ff" stroke-width="1"/>
<path d="M715.3 83.5H722.3M718.8 80.0V87.0" stroke="#cc33ff" stroke-width="1"/>
<path d="M719.2 86.8H726.2M722.7 83.3V90.3" stroke="#cc33ff" stroke-width="1"/>
<path d="M723.1 85.4H730.1M726.6 81.9V88.9" stroke="#cc33ff" stroke-width="1"/>
<path d="M726.9 85.0H733.9M730.4 81.5V88.5" stroke="#cc33ff" stroke-width="1"/>
<path d="M730.8 84.4H737.8M734.3 80.9V87.9" stroke="#cc33ff" stroke-width="1"/>
<path d="M734.7 86.3H741.7M738.2 82.8V89.8" stroke="#cc33ff" stroke-width="1"/>
<path d="M738.5 86.1H745.5M742.0 82.6V89.6" stroke="#cc33ff" stroke-width="1"/>
<path d="M742.4 83.8H749.4M745.9 80.3V87.3" stroke="#cc33ff" stroke-width="1"/>
<path d="M746.3 86.4H753.3M749.8 82.9V89.9" stroke="#cc33ff" stroke-width="1"/>
<path d="M750.1 83.1H757.1M753.6 79.6V86.6" stroke="#cc33ff" stroke-width="1"/>
<path d="M754.0 81.6H761.0M757.5 78.1V85.1" stroke="#cc33ff" stroke-width="1"/>
<path d="M757.9 84.0H764.9M761.4 80.5V87.5" stroke="#cc33ff" stroke-width="1"/>
<path d="M761.8 83.4H768.8M765.3 79.9V86.9" stroke="#cc33ff" stroke-width="1"/>
<path d="M765.6 83.1H772.6M769.1 79.6V86.6" stroke="#cc33ff" stroke-width="1"/>
<path d="M769.5 83.5H776.5M773.0 80.0V87.0" stroke="#cc33ff" stroke-width="1"/>
<path d="M583.7 57.3H590.7M587.2 53.8V60.8" stroke="#cc33ff" stroke-width="1"/>
<path d="M587.6 61.5H594.6M591.1 58.0V65.0" stroke="#cc33ff" stroke-width="1"/>
<path d="M591.3 67.3H598.3M594.8 63.8V70.8" stroke="#cc33ff" stroke-width="1"/>
<path d="M602.5 80.0H609.5M606.0 76.5V83.5" stroke="#cc33ff" stroke-width="1"/>
<path d="M612.5 79.0H619.5M616.0 75.5V82.5" stroke="#cc33ff" stroke-width="1"/>
<path d="M602.7 78.1L606.2 83.0H599.2Z" fill="none" stroke="#22eeff" stroke-width="1.1" stroke-linejoin="round"/>
<path d="M606.6 78.9L610.1 83.8H603.1Z" fill="none" stroke="#22eeff" stroke-width="1.1" stroke-linejoin="round"/>
<path d="M610.5 82.1L614.0 87.0H607.0Z" fill="none" stroke="#22eeff" stroke-width="1.1" stroke-linejoin="round"/>
<path d="M614.3 79.8L617.8 84.7H610.8Z" fill="none" stroke="#22eeff" stroke-width="1.1" stroke-linejoin="round"/>
<path d="M618.2 83.3L621.7 88.2H614.7Z" fill="none" stroke="#22eeff" stroke-width="1.1" stroke-linejoin="round"/>
<path d="M622.1 84.2L625.6 89.1H618.6Z" fill="none" stroke="#22eeff" stroke-width="1.1" stroke-linejoin="round"/>
<path d="M625.9 84.8L629.4 89.7H622.4Z" fill="none" stroke="#22eeff" stroke-width="1.1" stroke-linejoin="round"/>
<path d="M629.8 82.5L633.3 87.4H626.3Z" fill="none" stroke="#22eeff" stroke-width="1.1" stroke-linejoin="round"/>
<path d="M633.7 85.4L637.2 90.3H630.2Z" fill="none" stroke="#22eeff" stroke-width="1.1" stroke-linejoin="round"/>
<path d="M637.5 85.6L641.0 90.5H634.0Z" fill="none" stroke="#22eeff" stroke-width="1.1" stroke-linejoin="round"/>
<path d="M641.4 86.9L644.9 91.8H637.9Z" fill="none" stroke="#22eeff" stroke-width="1.1" stroke-linejoin="round"/>
<path d="M645.3 83.5L648.8 88.4H641.8Z" fill="none" stroke="#22eeff" stroke-width="1.1" stroke-linejoin="round"/>
<path d="M649.2 84.2L652.7 89.1H645.7Z" fill="none" stroke="#22eeff" stroke-width="1.1" stroke-linejoin="round"/>
<path d="M653.0 83.3L656.5 88.2H649.5Z" fill="none" stroke="#22eeff" stroke-width="1.1" stroke-linejoin="round"/>
<path d="M656.9 85.4L660.4 90.3H653.4Z" fill="none" stroke="#22eeff" stroke-width="1.1" stroke-linejoin="round"/>
<path d="M660.8 85.2L664.3 90.1H657.3Z" fill="none" stroke="#22eeff" stroke-width="1.1" stroke-linejoin="round"/>
<path d="M664.6 83.7L668.1 88.6H661.1Z" fill="none" stroke="#22eeff" stroke-width="1.1" stroke-linejoin="round"/>
<path d="M668.5 82.5L672.0 87.4H665.0Z" fill="none" stroke="#22eeff" stroke-width="1.1" stroke-linejoin="round"/>
<path d="M672.4 85.4L675.9 90.3H668.9Z" fill="none" stroke="#22eeff" stroke-width="1.1" stroke-linejoin="round"/>
<path d="M676.2 84.7L679.8 89.6H672.8Z" fill="none" stroke="#22eeff" stroke-width="1.1" stroke-linejoin="round"/>
<path d="M680.1 82.0L683.6 86.9H676.6Z" fill="none" stroke="#22eeff" stroke-width="1.1" stroke-linejoin="round"/>
<path d="M684.0 84.6L687.5 89.5H680.5Z" fill="none" stroke="#22eeff" stroke-width="1.1" stroke-linejoin="round"/>
<path d="M687.9 82.2L691.4 87.1H684.4Z" fill="none" stroke="#22eeff" stroke-width="1.1" stroke-linejoin="round"/>
<path d="M691.7 82.8L695.2 87.7H688.2Z" fill="none" stroke="#22eeff" stroke-width="1.1" stroke-linejoin="round"/>
<path d="M695.6 83.6L699.1 88.5H692.1Z" fill="none" stroke="#22eeff" stroke-width="1.1" stroke-linejoin="round"/>
<path d="M699.5 88.1L703.0 93.0H696.0Z" fill="none" stroke="#22eeff" stroke-width="1.1" stroke-linejoin="round"/>
<path d="M703.3 84.0L706.8 88.9H699.8Z" fill="none" stroke="#22eeff" stroke-width="1.1" stroke-linejoin="round"/>
<path d="M707.2 83.7L710.7 88.6H703.7Z" fill="none" stroke="#22eeff" stroke-width="1.1" stroke-linejoin="round"/>
<path d="M711.1 86.4L714.6 91.3H707.6Z" fill="none" stroke="#22eeff" stroke-width="1.1" stroke-linejoin="round"/>
<path d="M715.0 84.3L718.5 89.2H711.5Z" fill="none" stroke="#22eeff" stroke-width="1.1" stroke-linejoin="round"/>
<path d="M718.8 85.5L722.3 90.4H715.3Z" fill="none" stroke="#22eeff" stroke-width="1.1" stroke-linejoin="round"/>
<path d="M722.7 84.1L726.2 89.0H719.2Z" fill="none" stroke="#22eeff" stroke-width="1.1" stroke-linejoin="round"/>
<path d="M726.6 83.1L730.1 88.0H723.1Z" fill="none" stroke="#22eeff" stroke-width="1.1" stroke-linejoin="round"/>
<path d="M730.4 84.7L733.9 89.6H726.9Z" fill="none" stroke="#22eeff" stroke-width="1.1" stroke-linejoin="round"/>
<path d="M734.3 81.5L737.8 86.4H730.8Z" fill="none" stroke="#22eeff" stroke-width="1.1" stroke-linejoin="round"/>
<path d="M738.2 84.5L741.7 89.4H734.7Z" fill="none" stroke="#22eeff" stroke-width="1.1" stroke-linejoin="round"/>
<path d="M742.0 83.7L745.5 88.6H738.5Z" fill="none" stroke="#22eeff" stroke-width="1.1" stroke-linejoin="round"/>
<path d="M745.9 85.2L749.4 90.1H742.4Z" fill="none" stroke="#22eeff" stroke-width="1.1" stroke-linejoin="round"/>
<path d="M749.8 86.6L753.3 91.5H746.3Z" fill="none" stroke="#22eeff" stroke-width="1.1" stroke-linejoin="round"/>
<path d="M753.6 82.6L757.1 87.5H750.1Z" fill="none" stroke="#22eeff" stroke-width="1.1" stroke-linejoin="round"/>
<path d="M757.5 84.2L761.0 89.1H754.0Z" fill="none" stroke="#22eeff" stroke-width="1.1" stroke-linejoin="round"/>
<path d="M761.4 83.1L764.9 88.0H757.9Z" fill="none" stroke="#22eeff" stroke-width="1.1" stroke-linejoin="round"/>
<path d="M765.3 81.2L768.8 86.1H761.8Z" fill="none" stroke="#22eeff" stroke-width="1.1" stroke-linejoin="round"/>
<path d="M769.1 83.4L772.6 88.3H765.6Z" fill="none" stroke="#22eeff" stroke-width="1.1" stroke-linejoin="round"/>
<path d="M773.0 84.7L776.5 89.6H769.5Z" fill="none" stroke="#22eeff" stroke-width="1.1" stroke-linejoin="round"/>
<path d="M594.8 42.9L598.3 47.8H591.3Z" fill="none" stroke="#22eeff" stroke-width="1.1" stroke-linejoin="round"/>
<path d="M602.7 63.6L606.2 68.5H599.2Z" fill="none" stroke="#22eeff" stroke-width="1.1" stroke-linejoin="round"/>
<path d="M587.2 207.2L590.7 212.1H583.7Z" fill="none" stroke="#22eeff" stroke-width="1.1" stroke-linejoin="round"/>
<path d="M579.5 215.2L583.0 220.1H576.0Z" fill="none" stroke="#22eeff" stroke-width="1.1" stroke-linejoin="round"/>
<circle cx="602.7" cy="80.9" r="3.4" fill="#8b6914"/>
<circle cx="606.6" cy="78.5" r="3.4" fill="#8b6914"/>
<circle cx="610.5" cy="88.2" r="3.4" fill="#8b6914"/>
<circle cx="614.3" cy="79.4" r="3.4" fill="#8b6914"/>
<circle cx="618.2" cy="83.0" r="3.4" fill="#8b6914"/>
<circle cx="622.1" cy="79.2" r="3.4" fill="#8b6914"/>
<circle cx="625.9" cy="78.0" r="3.4" fill="#8b6914"/>
<circle cx="629.8" cy="82.4" r="3.4" fill="#8b6914"/>
<circle cx="633.7" cy="85.5" r="3.4" fill="#8b6914"/>
<circle cx="637.5" cy="84.2" r="3.4" fill="#8b6914"/>
<circle cx="641.4" cy="85.2" r="3.4" fill="#8b6914"/>
<circle cx="645.3" cy="83.6" r="3.4" fill="#8b6914"/>
<circle cx="649.2" cy="80.1" r="3.4" fill="#8b6914"/>
<circle cx="653.0" cy="85.2" r="3.4" fill="#8b6914"/>
<circle cx="656.9" cy="85.9" r="3.4" fill="#8b6914"/>
<circle cx="660.8" cy="82.8" r="3.4" fill="#8b6914"/>
<circle cx="664.6" cy="86.8" r="3.4" fill="#8b6914"/>
<circle cx="668.5" cy="82.7" r="3.4" fill="#8b6914"/>
<circle cx="672.4" cy="86.4" r="3.4" fill="#8b6914"/>
<circle cx="676.2" cy="83.1" r="3.4" fill="#8b6914"/>
<circle cx="680.1" cy="86.5" r="3.4" fill="#8b6914"/>
<circle cx="684.0" cy="83.7" r="3.4" fill="#8b6914"/>
<circle cx="687.9" cy="83.9" r="3.4" fill="#8b6914"/>
<circle cx="691.7" cy="83.8" r="3.4" fill="#8b6914"/>
<circle cx="695.6" cy="82.5" r="3.4" fill="#8b6914"/>
<circle cx="699.5" cy="86.1" r="3.4" fill="#8b6914"/>
<circle cx="703.3" cy="84.0" r="3.4" fill="#8b6914"/>
<circle cx="707.2" cy="84.9" r="3.4" fill="#8b6914"/>
<circle cx="711.1" cy="85.3" r="3.4" fill="#8b6914"/>
<circle cx="715.0" cy="84.2" r="3.4" fill="#8b6914"/>
<circle cx="718.8" cy="85.8" r="3.4" fill="#8b6914"/>
<circle cx="722.7" cy="84.0" r="3.4" fill="#8b6914"/>
<circle cx="726.6" cy="87.4" r="3.4" fill="#8b6914"/>
<circle cx="730.4" cy="85.8" r="3.4" fill="#8b6914"/>
<circle cx="734.3" cy="83.3" r="3.4" fill="#8b6914"/>
<circle cx="738.2" cy="86.4" r="3.4" fill="#8b6914"/>
<circle cx="742.0" cy="83.4" r="3.4" fill="#8b6914"/>
<circle cx="745.9" cy="83.8" r="3.4" fill="#8b6914"/>
<circle cx="749.8" cy="84.8" r="3.4" fill="#8b6914"/>
<circle cx="753.6" cy="83.8" r="3.4" fill="#8b6914"/>
<circle cx="757.5" cy="83.6" r="3.4" fill="#8b6914"/>
<circle cx="761.4" cy="84.6" r="3.4" fill="#8b6914"/>
<circle cx="765.3" cy="85.1" r="3.4" fill="#8b6914"/>
<circle cx="769.1" cy="83.1" r="3.4" fill="#8b6914"/>
<circle cx="773.0" cy="84.6" r="3.4" fill="#8b6914"/>
<circle cx="579.5" cy="58.1" r="3.4" fill="#8b6914"/>
<circle cx="583.4" cy="73.9" r="3.4" fill="#8b6914"/>
<circle cx="591.1" cy="69.7" r="3.4" fill="#8b6914"/>
<circle cx="598.9" cy="75.5" r="3.4" fill="#8b6914"/>
<circle cx="614.0" cy="77.2" r="3.4" fill="#8b6914"/>
<circle cx="625.5" cy="78.0" r="3.4" fill="#8b6914"/>
<circle cx="644.5" cy="80.5" r="3.4" fill="#8b6914"/>
<circle cx="586.6" cy="96.2" r="3.4" fill="#8b6914"/>
<rect x="599.2" y="86.5" width="7.1" height="7.1" fill="#ff6a13"/>
<rect x="603.0" y="78.8" width="7.1" height="7.1" fill="#ff6a13"/>
<rect x="606.9" y="80.1" width="7.1" height="7.1" fill="#ff6a13"/>
<rect x="610.8" y="82.4" width="7.1" height="7.1" fill="#ff6a13"/>
<rect x="614.7" y="81.6" width="7.1" height="7.1" fill="#ff6a13"/>
<rect x="618.5" y="84.2" width="7.1" height="7.1" fill="#ff6a13"/>
<rect x="622.4" y="81.2" width="7.1" height="7.1" fill="#ff6a13"/>
<rect x="626.3" y="83.3" width="7.1" height="7.1" fill="#ff6a13"/>
<rect x="630.1" y="80.9" width="7.1" height="7.1" fill="#ff6a13"/>
<rect x="634.0" y="83.4" width="7.1" height="7.1" fill="#ff6a13"/>
<rect x="637.9" y="82.3" width="7.1" height="7.1" fill="#ff6a13"/>
<rect x="641.7" y="82.8" width="7.1" height="7.1" fill="#ff6a13"/>
<rect x="645.6" y="81.4" width="7.1" height="7.1" fill="#ff6a13"/>
<rect x="649.5" y="84.0" width="7.1" height="7.1" fill="#ff6a13"/>
<rect x="653.4" y="80.5" width="7.1" height="7.1" fill="#ff6a13"/>
<rect x="657.2" y="80.8" width="7.1" height="7.1" fill="#ff6a13"/>
<rect x="661.1" y="78.5" width="7.1" height="7.1" fill="#ff6a13"/>
<rect x="665.0" y="81.3" width="7.1" height="7.1" fill="#ff6a13"/>
<rect x="668.8" y="83.8" width="7.1" height="7.1" fill="#ff6a13"/>
<rect x="672.7" y="82.2" width="7.1" height="7.1" fill="#ff6a13"/>
<rect x="676.6" y="80.4" width="7.1" height="7.1" fill="#ff6a13"/>
<rect x="680.4" y="80.0" width="7.1" height="7.1" fill="#ff6a13"/>
<rect x="684.3" y="83.4" width="7.1" height="7.1" fill="#ff6a13"/>
<rect x="688.2" y="81.2" width="7.1" height="7.1" fill="#ff6a13"/>
<rect x="692.1" y="81.4" width="7.1" height="7.1" fill="#ff6a13"/>
<rect x="695.9" y="79.5" width="7.1" height="7.1" fill="#ff6a13"/>
<rect x="699.8" y="79.2" width="7.1" height="7.1" fill="#ff6a13"/>
<rect x="703.7" y="83.3" width="7.1" height="7.1" fill="#ff6a13"/>
<rect x="707.5" y="80.0" width="7.1" height="7.1" fill="#ff6a13"/>
<rect x="711.4" y="83.6" width="7.1" height="7.1" fill="#ff6a13"/>
<rect x="715.3" y="83.7" width="7.1" height="7.1" fill="#ff6a13"/>
<rect x="719.1" y="83.0" width="7.1" height="7.1" fill="#ff6a13"/>
<rect x="723.0" y="84.0" width="7.1" height="7.1" fill="#ff6a13"/>
<rect x="726.9" y="81.2" width="7.1" height="7.1" fill="#ff6a13"/>
<rect x="730.8" y="80.9" width="7.1" height="7.1" fill="#ff6a13"/>
<rect x="734.6" y="82.8" width="7.1" height="7.1" fill="#ff6a13"/>
<rect x="738.5" y="81.1" width="7.1" height="7.1" fill="#ff6a13"/>
<rect x="742.4" y="81.3" width="7.1" height="7.1" fill="#ff6a13"/>
<rect x="746.2" y="82.3" width="7.1" height="7.1" fill="#ff6a13"/>
<rect x="750.1" y="83.1" width="7.1" height="7.1" fill="#ff6a13"/>
<rect x="754.0" y="82.4" width="7.1" height="7.1" fill="#ff6a13"/>
<rect x="757.8" y="81.8" width="7.1" height="7.1" fill="#ff6a13"/>
<rect x="761.7" y="85.1" width="7.1" height="7.1" fill="#ff6a13"/>
<rect x="765.6" y="81.0" width="7.1" height="7.1" fill="#ff6a13"/>
<rect x="769.5" y="80.6" width="7.1" height="7.1" fill="#ff6a13"/>
<rect x="579.9" y="36.8" width="7.1" height="7.1" fill="#ff6a13"/>
<rect x="591.2" y="69.5" width="7.1" height="7.1" fill="#ff6a13"/>
<rect x="599.2" y="71.2" width="7.1" height="7.1" fill="#ff6a13"/>
<rect x="606.2" y="93.5" width="7.1" height="7.1" fill="#ff6a13"/>
<rect x="602.5" y="82.0" width="7.1" height="7.1" fill="#ff6a13"/>
<rect x="610.5" y="83.0" width="7.1" height="7.1" fill="#ff6a13"/>
<rect x="617.5" y="83.5" width="7.1" height="7.1" fill="#ff6a13"/>
<rect x="624.5" y="82.5" width="7.1" height="7.1" fill="#ff6a13"/>
<rect x="583.7" y="115.7" width="7.1" height="7.1" fill="#ff6a13"/>
<rect x="576.0" y="183.4" width="7.1" height="7.1" fill="#ff6a13"/>
<path d="M602.7 88.4L606.5 92.2L602.7 96.0L598.9 92.2Z" fill="#12aef0"/>
<path d="M606.6 81.3L610.4 85.1L606.6 88.9L602.8 85.1Z" fill="#12aef0"/>
<path d="M610.5 90.9L614.3 94.7L610.5 98.5L606.7 94.7Z" fill="#12aef0"/>
<path d="M614.3 84.9L618.1 88.7L614.3 92.5L610.5 88.7Z" fill="#12aef0"/>
<path d="M618.2 83.7L622.0 87.5L618.2 91.3L614.4 87.5Z" fill="#12aef0"/>
<path d="M622.1 84.5L625.9 88.3L622.1 92.1L618.3 88.3Z" fill="#12aef0"/>
<path d="M625.9 85.2L629.7 89.0L625.9 92.8L622.1 89.0Z" fill="#12aef0"/>
<path d="M629.8 82.6L633.6 86.4L629.8 90.2L626.0 86.4Z" fill="#12aef0"/>
<path d="M633.7 84.0L637.5 87.8L633.7 91.6L629.9 87.8Z" fill="#12aef0"/>
<path d="M637.5 83.2L641.3 87.0L637.5 90.8L633.8 87.0Z" fill="#12aef0"/>
<path d="M641.4 83.2L645.2 87.0L641.4 90.8L637.6 87.0Z" fill="#12aef0"/>
<path d="M645.3 82.6L649.1 86.4L645.3 90.2L641.5 86.4Z" fill="#12aef0"/>
<path d="M649.2 84.2L653.0 88.0L649.2 91.8L645.4 88.0Z" fill="#12aef0"/>
<path d="M653.0 86.7L656.8 90.5L653.0 94.3L649.2 90.5Z" fill="#12aef0"/>
<path d="M656.9 83.8L660.7 87.6L656.9 91.4L653.1 87.6Z" fill="#12aef0"/>
<path d="M660.8 81.0L664.6 84.8L660.8 88.6L657.0 84.8Z" fill="#12aef0"/>
<path d="M664.6 82.7L668.4 86.5L664.6 90.3L660.8 86.5Z" fill="#12aef0"/>
<path d="M668.5 83.5L672.3 87.3L668.5 91.1L664.7 87.3Z" fill="#12aef0"/>
<path d="M672.4 83.9L676.2 87.7L672.4 91.5L668.6 87.7Z" fill="#12aef0"/>
<path d="M676.2 83.9L680.0 87.7L676.2 91.5L672.5 87.7Z" fill="#12aef0"/>
<path d="M680.1 82.9L683.9 86.7L680.1 90.5L676.3 86.7Z" fill="#12aef0"/>
<path d="M684.0 84.9L687.8 88.7L684.0 92.5L680.2 88.7Z" fill="#12aef0"/>
<path d="M687.9 82.2L691.7 86.0L687.9 89.8L684.1 86.0Z" fill="#12aef0"/>
<path d="M691.7 83.3L695.5 87.1L691.7 90.9L687.9 87.1Z" fill="#12aef0"/>
<path d="M695.6 83.6L699.4 87.4L695.6 91.2L691.8 87.4Z" fill="#12aef0"/>
<path d="M699.5 83.6L703.3 87.4L699.5 91.2L695.7 87.4Z" fill="#12aef0"/>
<path d="M703.3 83.1L707.1 86.9L703.3 90.7L699.5 86.9Z" fill="#12aef0"/>
<path d="M707.2 83.0L711.0 86.8L707.2 90.6L703.4 86.8Z" fill="#12aef0"/>
<path d="M711.1 83.2L714.9 87.0L711.1 90.8L707.3 87.0Z" fill="#12aef0"/>
<path d="M715.0 82.4L718.8 86.2L715.0 90.0L711.2 86.2Z" fill="#12aef0"/>
<path d="M718.8 84.6L722.6 88.4L718.8 92.2L715.0 88.4Z" fill="#12aef0"/>
<path d="M722.7 82.3L726.5 86.1L722.7 89.9L718.9 86.1Z" fill="#12aef0"/>
<path d="M726.6 82.7L730.4 86.5L726.6 90.3L722.8 86.5Z" fill="#12aef0"/>
<path d="M730.4 82.6L734.2 86.4L730.4 90.2L726.6 86.4Z" fill="#12aef0"/>
<path d="M734.3 82.5L738.1 86.3L734.3 90.1L730.5 86.3Z" fill="#12aef0"/>
<path d="M738.2 82.7L742.0 86.5L738.2 90.3L734.4 86.5Z" fill="#12aef0"/>
<path d="M742.0 83.6L745.8 87.4L742.0 91.2L738.2 87.4Z" fill="#12aef0"/>
<path d="M745.9 85.1L749.7 88.9L745.9 92.7L742.1 88.9Z" fill="#12aef0"/>
<path d="M749.8 83.9L753.6 87.7L749.8 91.5L746.0 87.7Z" fill="#12aef0"/>
<path d="M753.6 81.8L757.4 85.6L753.6 89.4L749.9 85.6Z" fill="#12aef0"/>
<path d="M757.5 82.4L761.3 86.2L757.5 90.0L753.7 86.2Z" fill="#12aef0"/>
<path d="M761.4 79.2L765.2 83.0L761.4 86.8L757.6 83.0Z" fill="#12aef0"/>
<path d="M765.3 82.5L769.1 86.3L765.3 90.1L761.5 86.3Z" fill="#12aef0"/>
<path d="M769.1 83.6L772.9 87.4L769.1 91.2L765.3 87.4Z" fill="#12aef0"/>
<path d="M773.0 84.6L776.8 88.4L773.0 92.2L769.2 88.4Z" fill="#12aef0"/>
<path d="M593.2 89.9L597.0 93.7L593.2 97.5L589.4 93.7Z" fill="#12aef0"/>
<path d="M586.6 98.2L590.4 102.0L586.6 105.8L582.8 102.0Z" fill="#12aef0"/>
<path d="M613.0 79.2L616.8 83.0L613.0 86.8L609.2 83.0Z" fill="#12aef0"/>
<path d="M626.3 80.8L630.1 84.6L626.3 88.4L622.5 84.6Z" fill="#12aef0"/>
<path d="M633.7 91.6L637.5 95.4L633.7 99.2L629.9 95.4Z" fill="#12aef0"/>
<path d="M579.5 115.4L583.3 119.2L579.5 123.0L575.7 119.2Z" fill="#12aef0"/>
<path d="M583.4 138.4L587.2 142.2L583.4 146.0L579.6 142.2Z" fill="#12aef0"/>
<path d="M602.7 85.3L606.3 91.7H599.1Z" fill="#555555"/>
<path d="M606.6 85.5L610.2 92.0H603.0Z" fill="#555555"/>
<path d="M610.5 85.2L614.1 91.6H606.9Z" fill="#555555"/>
<path d="M614.3 83.0L617.9 89.5H610.7Z" fill="#555555"/>
<path d="M618.2 85.2L621.8 91.7H614.6Z" fill="#555555"/>
<path d="M622.1 85.8L625.7 92.2H618.5Z" fill="#555555"/>
<path d="M625.9 86.4L629.5 92.8H622.3Z" fill="#555555"/>
<path d="M629.8 89.9L633.4 96.3H626.2Z" fill="#555555"/>
<path d="M633.7 87.3L637.3 93.8H630.1Z" fill="#555555"/>
<path d="M637.5 87.5L641.1 93.9H633.9Z" fill="#555555"/>
<path d="M641.4 82.9L645.0 89.3H637.8Z" fill="#555555"/>
<path d="M645.3 86.0L648.9 92.5H641.7Z" fill="#555555"/>
<path d="M649.2 88.6L652.8 95.1H645.6Z" fill="#555555"/>
<path d="M653.0 85.6L656.6 92.1H649.4Z" fill="#555555"/>
<path d="M656.9 84.4L660.5 90.9H653.3Z" fill="#555555"/>
<path d="M660.8 88.8L664.4 95.3H657.2Z" fill="#555555"/>
<path d="M664.6 83.4L668.2 89.9H661.0Z" fill="#555555"/>
<path d="M668.5 85.4L672.1 91.9H664.9Z" fill="#555555"/>
<path d="M672.4 85.2L676.0 91.7H668.8Z" fill="#555555"/>
<path d="M676.2 86.1L679.9 92.6H672.6Z" fill="#555555"/>
<path d="M680.1 88.5L683.7 94.9H676.5Z" fill="#555555"/>
<path d="M684.0 84.1L687.6 90.6H680.4Z" fill="#555555"/>
<path d="M687.9 87.9L691.5 94.4H684.3Z" fill="#555555"/>
<path d="M691.7 84.8L695.3 91.3H688.1Z" fill="#555555"/>
<path d="M695.6 83.6L699.2 90.0H692.0Z" fill="#555555"/>
<path d="M699.5 86.6L703.1 93.1H695.9Z" fill="#555555"/>
<path d="M703.3 83.6L706.9 90.1H699.7Z" fill="#555555"/>
<path d="M707.2 88.4L710.8 94.9H703.6Z" fill="#555555"/>
<path d="M711.1 81.2L714.7 87.7H707.5Z" fill="#555555"/>
<path d="M715.0 83.0L718.6 89.5H711.4Z" fill="#555555"/>
<path d="M718.8 80.0L722.4 86.5H715.2Z" fill="#555555"/>
<path d="M722.7 82.6L726.3 89.1H719.1Z" fill="#555555"/>
<path d="M726.6 86.4L730.2 92.9H723.0Z" fill="#555555"/>
<path d="M730.4 86.3L734.0 92.8H726.8Z" fill="#555555"/>
<path d="M734.3 87.0L737.9 93.5H730.7Z" fill="#555555"/>
<path d="M738.2 85.3L741.8 91.8H734.6Z" fill="#555555"/>
<path d="M742.0 85.3L745.6 91.7H738.4Z" fill="#555555"/>
<path d="M745.9 83.9L749.5 90.4H742.3Z" fill="#555555"/>
<path d="M749.8 85.7L753.4 92.2H746.2Z" fill="#555555"/>
<path d="M753.6 85.3L757.2 91.8H750.0Z" fill="#555555"/>
<path d="M757.5 85.7L761.1 92.2H753.9Z" fill="#555555"/>
<path d="M761.4 87.3L765.0 93.7H757.8Z" fill="#555555"/>
<path d="M765.3 87.3L768.9 93.8H761.7Z" fill="#555555"/>
<path d="M769.1 86.7L772.7 93.2H765.5Z" fill="#555555"/>
<path d="M773.0 87.2L776.6 93.7H769.4Z" fill="#555555"/>
<path d="M594.8 97.6L598.4 104.1H591.2Z" fill="#555555"/>
<path d="M603.1 96.8L606.7 103.3H599.5Z" fill="#555555"/>
<path d="M599.0 92.6L602.6 99.1H595.4Z" fill="#555555"/>
<path d="M621.3 93.4L624.9 99.9H617.7Z" fill="#555555"/>
<path d="M636.2 91.0L639.8 97.5H632.6Z" fill="#555555"/>
<path d="M591.1 115.6L594.7 122.1H587.5Z" fill="#555555"/>
<path d="M583.4 135.1L587.0 141.6H579.8Z" fill="#555555"/>
<path d="M587.2 139.7L590.8 146.2H583.6Z" fill="#555555"/>
<path d="M579.5 150.1L583.1 156.6H575.9Z" fill="#555555"/>
<circle cx="59.5" cy="451.5" r="3.0" fill="none" stroke="#3a3a3a" stroke-width="1"/>
<circle cx="63.4" cy="453.1" r="3.0" fill="none" stroke="#3a3a3a" stroke-width="1"/>
<circle cx="67.3" cy="453.3" r="3.0" fill="none" stroke="#3a3a3a" stroke-width="1"/>
<circle cx="71.1" cy="453.8" r="3.0" fill="none" stroke="#3a3a3a" stroke-width="1"/>
<circle cx="75.0" cy="454.0" r="3.0" fill="none" stroke="#3a3a3a" stroke-width="1"/>
<circle cx="78.9" cy="454.4" r="3.0" fill="none" stroke="#3a3a3a" stroke-width="1"/>
<circle cx="82.8" cy="453.7" r="3.0" fill="none" stroke="#3a3a3a" stroke-width="1"/>
<circle cx="86.7" cy="455.4" r="3.0" fill="none" stroke="#3a3a3a" stroke-width="1"/>
<circle cx="90.5" cy="452.1" r="3.0" fill="none" stroke="#3a3a3a" stroke-width="1"/>
<circle cx="94.4" cy="452.9" r="3.0" fill="none" stroke="#3a3a3a" stroke-width="1"/>
<circle cx="98.3" cy="452.7" r="3.0" fill="none" stroke="#3a3a3a" stroke-width="1"/>
<circle cx="102.2" cy="452.7" r="3.0" fill="none" stroke="#3a3a3a" stroke-width="1"/>
<circle cx="106.1" cy="454.1" r="3.0" fill="none" stroke="#3a3a3a" stroke-width="1"/>
<circle cx="109.9" cy="453.9" r="3.0" fill="none" stroke="#3a3a3a" stroke-width="1"/>
<circle cx="113.8" cy="454.3" r="3.0" fill="none" stroke="#3a3a3a" stroke-width="1"/>
<circle cx="117.7" cy="453.7" r="3.0" fill="none" stroke="#3a3a3a" stroke-width="1"/>
<circle cx="121.6" cy="453.6" r="3.0" fill="none" stroke="#3a3a3a" stroke-width="1"/>
<circle cx="125.5" cy="452.9" r="3.0" fill="none" stroke="#3a3a3a" stroke-width="1"/>
<circle cx="129.3" cy="455.4" r="3.0" fill="none" stroke="#3a3a3a" stroke-width="1"/>
<circle cx="133.2" cy="453.0" r="3.0" fill="none" stroke="#3a3a3a" stroke-width="1"/>
<circle cx="137.1" cy="453.4" r="3.0" fill="none" stroke="#3a3a3a" stroke-width="1"/>
<circle cx="141.0" cy="454.4" r="3.0" fill="none" stroke="#3a3a3a" stroke-width="1"/>
<circle cx="144.9" cy="453.2" r="3.0" fill="none" stroke="#3a3a3a" stroke-width="1"/>
<circle cx="148.7" cy="455.3" r="3.0" fill="none" stroke="#3a3a3a" stroke-width="1"/>
<circle cx="152.6" cy="454.1" r="3.0" fill="none" stroke="#3a3a3a" stroke-width="1"/>
<circle cx="156.5" cy="453.6" r="3.0" fill="none" stroke="#3a3a3a" stroke-width="1"/>
<circle cx="160.4" cy="453.6" r="3.0" fill="none" stroke="#3a3a3a" stroke-width="1"/>
<circle cx="164.3" cy="455.2" r="3.0" fill="none" stroke="#3a3a3a" stroke-width="1"/>
<circle cx="168.1" cy="451.7" r="3.0" fill="none" stroke="#3a3a3a" stroke-width="1"/>
<circle cx="172.0" cy="453.9" r="3.0" fill="none" stroke="#3a3a3a" stroke-width="1"/>
<circle cx="175.9" cy="455.6" r="3.0" fill="none" stroke="#3a3a3a" stroke-width="1"/>
<circle cx="179.8" cy="453.0" r="3.0" fill="none" stroke="#3a3a3a" stroke-width="1"/>
<circle cx="183.7" cy="452.6" r="3.0" fill="none" stroke="#3a3a3a" stroke-width="1"/>
<circle cx="187.5" cy="453.9" r="3.0" fill="none" stroke="#3a3a3a" stroke-width="1"/>
<circle cx="191.4" cy="456.9" r="3.0" fill="none" stroke="#3a3a3a" stroke-width="1"/>
<circle cx="195.3" cy="454.0" r="3.0" fill="none" stroke="#3a3a3a" stroke-width="1"/>
<circle cx="199.2" cy="454.2" r="3.0" fill="none" stroke="#3a3a3a" stroke-width="1"/>
<circle cx="203.1" cy="452.1" r="3.0" fill="none" stroke="#3a3a3a" stroke-width="1"/>
<circle cx="206.9" cy="453.7" r="3.0" fill="none" stroke="#3a3a3a" stroke-width="1"/>
<circle cx="210.8" cy="453.5" r="3.0" fill="none" stroke="#3a3a3a" stroke-width="1"/>
<circle cx="214.7" cy="455.3" r="3.0" fill="none" stroke="#3a3a3a" stroke-width="1"/>
<circle cx="218.6" cy="454.0" r="3.0" fill="none" stroke="#3a3a3a" stroke-width="1"/>
<circle cx="222.5" cy="454.4" r="3.0" fill="none" stroke="#3a3a3a" stroke-width="1"/>
<circle cx="226.3" cy="452.2" r="3.0" fill="none" stroke="#3a3a3a" stroke-width="1"/>
<circle cx="230.2" cy="446.9" r="3.0" fill="none" stroke="#3a3a3a" stroke-width="1"/>
<circle cx="234.1" cy="449.9" r="3.0" fill="none" stroke="#3a3a3a" stroke-width="1"/>
<circle cx="245.3" cy="446.3" r="3.0" fill="none" stroke="#3a3a3a" stroke-width="1"/>
<circle cx="253.5" cy="446.3" r="3.0" fill="none" stroke="#3a3a3a" stroke-width="1"/>
<circle cx="237.0" cy="447.0" r="3.0" fill="none" stroke="#3a3a3a" stroke-width="1"/>
<rect x="56.1" y="454.2" width="6.8" height="6.8" fill="none" stroke="#3333ff" stroke-width="1"/>
<rect x="60.0" y="452.5" width="6.8" height="6.8" fill="none" stroke="#3333ff" stroke-width="1"/>
<rect x="63.9" y="453.2" width="6.8" height="6.8" fill="none" stroke="#3333ff" stroke-width="1"/>
<rect x="67.7" y="452.3" width="6.8" height="6.8" fill="none" stroke="#3333ff" stroke-width="1"/>
<rect x="71.6" y="454.9" width="6.8" height="6.8" fill="none" stroke="#3333ff" stroke-width="1"/>
<rect x="75.5" y="452.5" width="6.8" height="6.8" fill="none" stroke="#3333ff" stroke-width="1"/>
<rect x="79.4" y="452.2" width="6.8" height="6.8" fill="none" stroke="#3333ff" stroke-width="1"/>
<rect x="83.3" y="452.0" width="6.8" height="6.8" fill="none" stroke="#3333ff" stroke-width="1"/>
<rect x="87.1" y="452.6" width="6.8" height="6.8" fill="none" stroke="#3333ff" stroke-width="1"/>
<rect x="91.0" y="452.7" width="6.8" height="6.8" fill="none" stroke="#3333ff" stroke-width="1"/>
<rect x="94.9" y="450.8" width="6.8" height="6.8" fill="none" stroke="#3333ff" stroke-width="1"/>
<rect x="98.8" y="453.8" width="6.8" height="6.8" fill="none" stroke="#3333ff" stroke-width="1"/>
<rect x="102.7" y="452.3" width="6.8" height="6.8" fill="none" stroke="#3333ff" stroke-width="1"/>
<rect x="106.5" y="453.2" width="6.8" height="6.8" fill="none" stroke="#3333ff" stroke-width="1"/>
<rect x="110.4" y="452.4" width="6.8" height="6.8" fill="none" stroke="#3333ff" stroke-width="1"/>
<rect x="114.3" y="452.5" width="6.8" height="6.8" fill="none" stroke="#3333ff" stroke-width="1"/>
<rect x="118.2" y="452.9" width="6.8" height="6.8" fill="none" stroke="#3333ff" stroke-width="1"/>
<rect x="122.1" y="454.5" width="6.8" height="6.8" fill="none" stroke="#3333ff" stroke-width="1"/>
<rect x="125.9" y="452.6" width="6.8" height="6.8" fill="none" stroke="#3333ff" stroke-width="1"/>
<rect x="129.8" y="452.5" width="6.8" height="6.8" fill="none" stroke="#3333ff" stroke-width="1"/>
<rect x="133.7" y="452.9" width="6.8" height="6.8" fill="none" stroke="#3333ff" stroke-width="1"/>
<rect x="137.6" y="452.8" width="6.8" height="6.8" fill="none" stroke="#3333ff" stroke-width="1"/>
<rect x="141.5" y="451.5" width="6.8" height="6.8" fill="none" stroke="#3333ff" stroke-width="1"/>
<rect x="145.3" y="454.6" width="6.8" height="6.8" fill="none" stroke="#3333ff" stroke-width="1"/>
<rect x="149.2" y="454.0" width="6.8" height="6.8" fill="none" stroke="#3333ff" stroke-width="1"/>
<rect x="153.1" y="454.0" width="6.8" height="6.8" fill="none" stroke="#3333ff" stroke-width="1"/>
<rect x="157.0" y="455.0" width="6.8" height="6.8" fill="none" stroke="#3333ff" stroke-width="1"/>
<rect x="160.9" y="453.5" width="6.8" height="6.8" fill="none" stroke="#3333ff" stroke-width="1"/>
<rect x="164.7" y="451.3" width="6.8" height="6.8" fill="none" stroke="#3333ff" stroke-width="1"/>
<rect x="168.6" y="452.9" width="6.8" height="6.8" fill="none" stroke="#3333ff" stroke-width="1"/>
<rect x="172.5" y="452.4" width="6.8" height="6.8" fill="none" stroke="#3333ff" stroke-width="1"/>
<rect x="176.4" y="450.2" width="6.8" height="6.8" fill="none" stroke="#3333ff" stroke-width="1"/>
<rect x="180.3" y="451.9" width="6.8" height="6.8" fill="none" stroke="#3333ff" stroke-width="1"/>
<rect x="184.1" y="452.7" width="6.8" height="6.8" fill="none" stroke="#3333ff" stroke-width="1"/>
<rect x="188.0" y="452.2" width="6.8" height="6.8" fill="none" stroke="#3333ff" stroke-width="1"/>
<rect x="191.9" y="452.4" width="6.8" height="6.8" fill="none" stroke="#3333ff" stroke-width="1"/>
<rect x="195.8" y="450.7" width="6.8" height="6.8" fill="none" stroke="#3333ff" stroke-width="1"/>
<rect x="199.7" y="451.8" width="6.8" height="6.8" fill="none" stroke="#3333ff" stroke-width="1"/>
<rect x="203.5" y="454.3" width="6.8" height="6.8" fill="none" stroke="#3333ff" stroke-width="1"/>
<rect x="207.4" y="451.4" width="6.8" height="6.8" fill="none" stroke="#3333ff" stroke-width="1"/>
<rect x="211.3" y="452.9" width="6.8" height="6.8" fill="none" stroke="#3333ff" stroke-width="1"/>
<rect x="215.2" y="451.4" width="6.8" height="6.8" fill="none" stroke="#3333ff" stroke-width="1"/>
<rect x="219.1" y="449.4" width="6.8" height="6.8" fill="none" stroke="#3333ff" stroke-width="1"/>
<rect x="222.9" y="454.3" width="6.8" height="6.8" fill="none" stroke="#3333ff" stroke-width="1"/>
<rect x="226.8" y="450.9" width="6.8" height="6.8" fill="none" stroke="#3333ff" stroke-width="1"/>
<rect x="230.7" y="444.2" width="6.8" height="6.8" fill="none" stroke="#3333ff" stroke-width="1"/>
<rect x="238.0" y="409.1" width="6.8" height="6.8" fill="none" stroke="#3333ff" stroke-width="1"/>
<rect x="241.9" y="423.6" width="6.8" height="6.8" fill="none" stroke="#3333ff" stroke-width="1"/>
<rect x="230.3" y="435.2" width="6.8" height="6.8" fill="none" stroke="#3333ff" stroke-width="1"/>
<rect x="245.8" y="475.8" width="6.8" height="6.8" fill="none" stroke="#3333ff" stroke-width="1"/>
<rect x="250.1" y="484.4" width="6.8" height="6.8" fill="none" stroke="#3333ff" stroke-width="1"/>
<path d="M59.5 451.5L63.1 455.1L59.5 458.7L55.9 455.1Z" fill="none" stroke="#2e8b57" stroke-width="1"/>
<path d="M63.4 449.4L67.0 453.0L63.4 456.6L59.8 453.0Z" fill="none" stroke="#2e8b57" stroke-width="1"/>
<path d="M67.3 450.0L70.9 453.6L67.3 457.2L63.7 453.6Z" fill="none" stroke="#2e8b57" stroke-width="1"/>
<path d="M71.1 447.9L74.7 451.5L71.1 455.1L67.5 451.5Z" fill="none" stroke="#2e8b57" stroke-width="1"/>
<path d="M75.0 449.6L78.6 453.2L75.0 456.8L71.4 453.2Z" fill="none" stroke="#2e8b57" stroke-width="1"/>
<path d="M78.9 452.2L82.5 455.8L78.9 459.4L75.3 455.8Z" fill="none" stroke="#2e8b57" stroke-width="1"/>
<path d="M82.8 451.3L86.4 454.9L82.8 458.5L79.2 454.9Z" fill="none" stroke="#2e8b57" stroke-width="1"/>
<path d="M86.7 450.2L90.3 453.8L86.7 457.4L83.1 453.8Z" fill="none" stroke="#2e8b57" stroke-width="1"/>
<path d="M90.5 448.0L94.1 451.6L90.5 455.2L86.9 451.6Z" fill="none" stroke="#2e8b57" stroke-width="1"/>
<path d="M94.4 449.2L98.0 452.8L94.4 456.4L90.8 452.8Z" fill="none" stroke="#2e8b57" stroke-width="1"/>
<path d="M98.3 450.3L101.9 453.9L98.3 457.5L94.7 453.9Z" fill="none" stroke="#2e8b57" stroke-width="1"/>
<path d="M102.2 452.2L105.8 455.8L102.2 459.4L98.6 455.8Z" fill="none" stroke="#2e8b57" stroke-width="1"/>
<path d="M106.1 450.9L109.7 454.5L106.1 458.1L102.5 454.5Z" fill="none" stroke="#2e8b57" stroke-width="1"/>
<path d="M109.9 450.0L113.5 453.6L109.9 457.2L106.3 453.6Z" fill="none" stroke="#2e8b57" stroke-width="1"/>
<path d="M113.8 450.1L117.4 453.7L113.8 457.3L110.2 453.7Z" fill="none" stroke="#2e8b57" stroke-width="1"/>
<path d="M117.7 450.3L121.3 453.9L117.7 457.5L114.1 453.9Z" fill="none" stroke="#2e8b57" stroke-width="1"/>
<path d="M121.6 447.5L125.2 451.1L121.6 454.7L118.0 451.1Z" fill="none" stroke="#2e8b57" stroke-width="1"/>
<path d="M125.5 450.8L129.1 454.4L125.5 458.0L121.9 454.4Z" fill="none" stroke="#2e8b57" stroke-width="1"/>
<path d="M129.3 450.1L132.9 453.7L129.3 457.3L125.7 453.7Z" fill="none" stroke="#2e8b57" stroke-width="1"/>
<path d="M133.2 451.5L136.8 455.1L133.2 458.7L129.6 455.1Z" fill="none" stroke="#2e8b57" stroke-width="1"/>
<path d="M137.1 450.7L140.7 454.3L137.1 457.9L133.5 454.3Z" fill="none" stroke="#2e8b57" stroke-width="1"/>
<path d="M141.0 450.4L144.6 454.0L141.0 457.6L137.4 454.0Z" fill="none" stroke="#2e8b57" stroke-width="1"/>
<path d="M144.9 451.7L148.5 455.3L144.9 458.9L141.3 455.3Z" fill="none" stroke="#2e8b57" stroke-width="1"/>
<path d="M148.7 449.7L152.3 453.3L148.7 456.9L145.1 453.3Z" fill="none" stroke="#2e8b57" stroke-width="1"/>
<path d="M152.6 452.0L156.2 455.6L152.6 459.2L149.0 455.6Z" fill="none" stroke="#2e8b57" stroke-width="1"/>
<path d="M156.5 450.4L160.1 454.0L156.5 457.6L152.9 454.0Z" fill="none" stroke="#2e8b57" stroke-width="1"/>
<path d="M160.4 451.1L164.0 454.7L160.4 458.3L156.8 454.7Z" fill="none" stroke="#2e8b57" stroke-width="1"/>
<path d="M164.3 449.9L167.9 453.5L164.3 457.1L160.7 453.5Z" fill="none" stroke="#2e8b57" stroke-width="1"/>
<path d="M168.1 450.6L171.7 454.2L168.1 457.8L164.5 454.2Z" fill="none" stroke="#2e8b57" stroke-width="1"/>
<path d="M172.0 452.2L175.6 455.8L172.0 459.4L168.4 455.8Z" fill="none" stroke="#2e8b57" stroke-width="1"/>
<path d="M175.9 449.0L179.5 452.6L175.9 456.2L172.3 452.6Z" fill="none" stroke="#2e8b57" stroke-width="1"/>
<path d="M179.8 450.6L183.4 454.2L179.8 457.8L176.2 454.2Z" fill="none" stroke="#2e8b57" stroke-width="1"/>
<path d="M183.7 448.7L187.3 452.3L183.7 455.9L180.1 452.3Z" fill="none" stroke="#2e8b57" stroke-width="1"/>
<path d="M187.5 451.7L191.1 455.3L187.5 458.9L183.9 455.3Z" fill="none" stroke="#2e8b57" stroke-width="1"/>
<path d="M191.4 450.2L195.0 453.8L191.4 457.4L187.8 453.8Z" fill="none" stroke="#2e8b57" stroke-width="1"/>
<path d="M195.3 452.8L198.9 456.4L195.3 460.0L191.7 456.4Z" fill="none" stroke="#2e8b57" stroke-width="1"/>
<path d="M199.2 449.7L202.8 453.3L199.2 456.9L195.6 453.3Z" fill="none" stroke="#2e8b57" stroke-width="1"/>
<path d="M203.1 450.5L206.7 454.1L203.1 457.7L199.5 454.1Z" fill="none" stroke="#2e8b57" stroke-width="1"/>
<path d="M206.9 449.1L210.5 452.7L206.9 456.3L203.3 452.7Z" fill="none" stroke="#2e8b57" stroke-width="1"/>
<path d="M210.8 450.3L214.4 453.9L210.8 457.5L207.2 453.9Z" fill="none" stroke="#2e8b57" stroke-width="1"/>
<path d="M214.7 451.6L218.3 455.2L214.7 458.8L211.1 455.2Z" fill="none" stroke="#2e8b57" stroke-width="1"/>
<path d="M218.6 447.9L222.2 451.5L218.6 455.1L215.0 451.5Z" fill="none" stroke="#2e8b57" stroke-width="1"/>
<path d="M222.5 448.9L226.1 452.5L222.5 456.1L218.9 452.5Z" fill="none" stroke="#2e8b57" stroke-width="1"/>
<path d="M226.3 449.8L229.9 453.4L226.3 457.0L222.7 453.4Z" fill="none" stroke="#2e8b57" stroke-width="1"/>
<path d="M230.2 450.5L233.8 454.1L230.2 457.7L226.6 454.1Z" fill="none" stroke="#2e8b57" stroke-width="1"/>
<path d="M234.1 452.9L237.7 456.5L234.1 460.1L230.5 456.5Z" fill="none" stroke="#2e8b57" stroke-width="1"/>
<path d="M249.2 432.1L252.8 435.7L249.2 439.3L245.6 435.7Z" fill="none" stroke="#2e8b57" stroke-width="1"/>
<path d="M253.5 437.9L257.1 441.5L253.5 445.1L249.9 441.5Z" fill="none" stroke="#2e8b57" stroke-width="1"/>
<path d="M246.3 469.8L249.9 473.4L246.3 477.0L242.7 473.4Z" fill="none" stroke="#2e8b57" stroke-width="1"/>
<path d="M241.0 447.4L244.6 451.0L241.0 454.6L237.4 451.0Z" fill="none" stroke="#2e8b57" stroke-width="1"/>
<path d="M56.2 452.0L62.8 458.6M62.8 452.0L56.2 458.6" stroke="#ff3333" stroke-width="1"/>
<path d="M60.1 450.3L66.7 456.9M66.7 450.3L60.1 456.9" stroke="#ff3333" stroke-width="1"/>
<path d="M64.0 451.1L70.6 457.7M70.6 451.1L64.0 457.7" stroke="#ff3333" stroke-width="1"/>
<path d="M67.8 450.1L74.4 456.7M74.4 450.1L67.8 456.7" stroke="#ff3333" stroke-width="1"/>
<path d="M71.7 451.9L78.3 458.5M78.3 451.9L71.7 458.5" stroke="#ff3333" stroke-width="1"/>
<path d="M75.6 452.6L82.2 459.2M82.2 452.6L75.6 459.2" stroke="#ff3333" stroke-width="1"/>
<path d="M79.5 451.4L86.1 458.0M86.1 451.4L79.5 458.0" stroke="#ff3333" stroke-width="1"/>
<path d="M83.4 450.4L90.0 457.0M90.0 450.4L83.4 457.0" stroke="#ff3333" stroke-width="1"/>
<path d="M87.2 451.5L93.8 458.1M93.8 451.5L87.2 458.1" stroke="#ff3333" stroke-width="1"/>
<path d="M91.1 450.9L97.7 457.5M97.7 450.9L91.1 457.5" stroke="#ff3333" stroke-width="1"/>
<path d="M95.0 451.3L101.6 457.9M101.6 451.3L95.0 457.9" stroke="#ff3333" stroke-width="1"/>
<path d="M98.9 452.2L105.5 458.8M105.5 452.2L98.9 458.8" stroke="#ff3333" stroke-width="1"/>
<path d="M102.8 452.5L109.4 459.1M109.4 452.5L102.8 459.1" stroke="#ff3333" stroke-width="1"/>
<path d="M106.6 451.4L113.2 458.0M113.2 451.4L106.6 458.0" stroke="#ff3333" stroke-width="1"/>
<path d="M110.5 449.8L117.1 456.4M117.1 449.8L110.5 456.4" stroke="#ff3333" stroke-width="1"/>
<path d="M114.4 454.0L121.0 460.6M121.0 454.0L114.4 460.6" stroke="#ff3333" stroke-width="1"/>
<path d="M118.3 452.5L124.9 459.1M124.9 452.5L118.3 459.1" stroke="#ff3333" stroke-width="1"/>
<path d="M122.2 453.7L128.8 460.3M128.8 453.7L122.2 460.3" stroke="#ff3333" stroke-width="1"/>
<path d="M126.0 451.3L132.6 457.9M132.6 451.3L126.0 457.9" stroke="#ff3333" stroke-width="1"/>
<path d="M129.9 451.4L136.5 458.0M136.5 451.4L129.9 458.0" stroke="#ff3333" stroke-width="1"/>
<path d="M133.8 448.6L140.4 455.2M140.4 448.6L133.8 455.2" stroke="#ff3333" stroke-width="1"/>
<path d="M137.7 453.5L144.3 460.1M144.3 453.5L137.7 460.1" stroke="#ff3333" stroke-width="1"/>
<path d="M141.6 451.4L148.2 458.0M148.2 451.4L141.6 458.0" stroke="#ff3333" stroke-width="1"/>
<path d="M145.4 449.9L152.0 456.5M152.0 449.9L145.4 456.5" stroke="#ff3333" stroke-width="1"/>
<path d="M149.3 451.5L155.9 458.1M155.9 451.5L149.3 458.1" stroke="#ff3333" stroke-width="1"/>
<path d="M153.2 449.6L159.8 456.2M159.8 449.6L153.2 456.2" stroke="#ff3333" stroke-width="1"/>
<path d="M157.1 451.2L163.7 457.8M163.7 451.2L157.1 457.8" stroke="#ff3333" stroke-width="1"/>
<path d="M161.0 450.0L167.6 456.6M167.6 450.0L161.0 456.6" stroke="#ff3333" stroke-width="1"/>
<path d="M164.8 449.5L171.4 456.1M171.4 449.5L164.8 456.1" stroke="#ff3333" stroke-width="1"/>
<path d="M168.7 452.2L175.3 458.8M175.3 452.2L168.7 458.8" stroke="#ff3333" stroke-width="1"/>
<path d="M172.6 450.7L179.2 457.3M179.2 450.7L172.6 457.3" stroke="#ff3333" stroke-width="1"/>
<path d="M176.5 452.0L183.1 458.6M183.1 452.0L176.5 458.6" stroke="#ff3333" stroke-width="1"/>
<path d="M180.4 453.5L187.0 460.1M187.0 453.5L180.4 460.1" stroke="#ff3333" stroke-width="1"/>
<path d="M184.2 451.2L190.8 457.8M190.8 451.2L184.2 457.8" stroke="#ff3333" stroke-width="1"/>
<path d="M188.1 453.4L194.7 460.0M194.7 453.4L188.1 460.0" stroke="#ff3333" stroke-width="1"/>
<path d="M192.0 452.9L198.6 459.5M198.6 452.9L192.0 459.5" stroke="#ff3333" stroke-width="1"/>
<path d="M195.9 451.3L202.5 457.9M202.5 451.3L195.9 457.9" stroke="#ff3333" stroke-width="1"/>
<path d="M199.8 452.4L206.4 459.0M206.4 452.4L199.8 459.0" stroke="#ff3333" stroke-width="1"/>
<path d="M203.6 449.5L210.2 456.1M210.2 449.5L203.6 456.1" stroke="#ff3333" stroke-width="1"/>
<path d="M207.5 450.6L214.1 457.2M214.1 450.6L207.5 457.2" stroke="#ff3333" stroke-width="1"/>
<path d="M211.4 451.7L218.0 458.3M218.0 451.7L211.4 458.3" stroke="#ff3333" stroke-width="1"/>
<path d="M215.3 454.2L221.9 460.8M221.9 454.2L215.3 460.8" stroke="#ff3333" stroke-width="1"/>
<path d="M219.2 448.8L225.8 455.4M225.8 448.8L219.2 455.4" stroke="#ff3333" stroke-width="1"/>
<path d="M223.0 450.9L229.6 457.5M229.6 450.9L223.0 457.5" stroke="#ff3333" stroke-width="1"/>
<path d="M226.9 455.2L233.5 461.8M233.5 455.2L226.9 461.8" stroke="#ff3333" stroke-width="1"/>
<path d="M230.8 452.7L237.4 459.3M237.4 452.7L230.8 459.3" stroke="#ff3333" stroke-width="1"/>
<path d="M245.9 446.9L252.5 453.5M252.5 446.9L245.9 453.5" stroke="#ff3333" stroke-width="1"/>
<path d="M250.2 452.7L256.8 459.3M256.8 452.7L250.2 459.3" stroke="#ff3333" stroke-width="1"/>
<path d="M239.7 448.7L246.3 455.3M246.3 448.7L239.7 455.3" stroke="#ff3333" stroke-width="1"/>
<path d="M56.0 454.5H63.0M59.5 451.0V458.0" stroke="#cc33ff" stroke-width="1"/>
<path d="M59.9 454.1H66.9M63.4 450.6V457.6" stroke="#cc33ff" stroke-width="1"/>
<path d="M63.8 453.9H70.8M67.3 450.4V457.4" stroke="#cc33ff" stroke-width="1"/>
<path d="M67.6 453.2H74.6M71.1 449.7V456.7" stroke="#cc33ff" stroke-width="1"/>
<path d="M71.5 453.5H78.5M75.0 450.0V457.0" stroke="#cc33ff" stroke-width="1"/>
<path d="M75.4 452.9H82.4M78.9 449.4V456.4" stroke="#cc33ff" stroke-width="1"/>
<path d="M79.3 455.0H86.3M82.8 451.5V458.5" stroke="#cc33ff" stroke-width="1"/>
<path d="M83.2 454.3H90.2M86.7 450.8V457.8" stroke="#cc33ff" stroke-width="1"/>
<path d="M87.0 452.4H94.0M90.5 448.9V455.9" stroke="#cc33ff" stroke-width="1"/>
<path d="M90.9 454.3H97.9M94.4 450.8V457.8" stroke="#cc33ff" stroke-width="1"/>
<path d="M94.8 452.4H101.8M98.3 448.9V455.9" stroke="#cc33ff" stroke-width="1"/>
<path d="M98.7 454.1H105.7M102.2 450.6V457.6" stroke="#cc33ff" stroke-width="1"/>
<path d="M102.6 454.5H109.6M106.1 451.0V458.0" stroke="#cc33ff" stroke-width="1"/>
<path d="M106.4 455.8H113.4M109.9 452.3V459.3" stroke="#cc33ff" stroke-width="1"/>
<path d="M110.3 454.0H117.3M113.8 450.5V457.5" stroke="#cc33ff" stroke-width="1"/>
<path d="M114.2 454.0H121.2M117.7 450.5V457.5" stroke="#cc33ff" stroke-width="1"/>
<path d="M118.1 453.3H125.1M121.6 449.8V456.8" stroke="#cc33ff" stroke-width="1"/>
<path d="M122.0 453.2H129.0M125.5 449.7V456.7" stroke="#cc33ff" stroke-width="1"/>
<path d="M125.8 454.2H132.8M129.3 450.7V457.7" stroke="#cc33ff" stroke-width="1"/>
<path d="M129.7 457.5H136.7M133.2 454.0V461.0" stroke="#cc33ff" stroke-width="1"/>
<path d="M133.6 453.0H140.6M137.1 449.5V456.5" stroke="#cc33ff" stroke-width="1"/>
<path d="M137.5 453.6H144.5M141.0 450.1V457.1" stroke="#cc33ff" stroke-width="1"/>
<path d="M141.4 455.1H148.4M144.9 451.6V458.6" stroke="#cc33ff" stroke-width="1"/>
<path d="M145.2 455.3H152.2M148.7 451.8V458.8" stroke="#cc33ff" stroke-width="1"/>
<path d="M149.1 453.9H156.1M152.6 450.4V457.4" stroke="#cc33ff" stroke-width="1"/>
<path d="M153.0 455.0H160.0M156.5 451.5V458.5" stroke="#cc33ff" stroke-width="1"/>
<path d="M156.9 451.0H163.9M160.4 447.5V454.5" stroke="#cc33ff" stroke-width="1"/>
<path d="M160.8 453.2H167.8M164.3 449.7V456.7" stroke="#cc33ff" stroke-width="1"/>
<path d="M164.6 452.0H171.6M168.1 448.5V455.5" stroke="#cc33ff" stroke-width="1"/>
<path d="M168.5 454.1H175.5M172.0 450.6V457.6" stroke="#cc33ff" stroke-width="1"/>
<path d="M172.4 453.3H179.4M175.9 449.8V456.8" stroke="#cc33ff" stroke-width="1"/>
<path d="M176.3 452.6H183.3M179.8 449.1V456.1" stroke="#cc33ff" stroke-width="1"/>
<path d="M180.2 453.6H187.2M183.7 450.1V457.1" stroke="#cc33ff" stroke-width="1"/>
<path d="M184.0 453.3H191.0M187.5 449.8V456.8" stroke="#cc33ff" stroke-width="1"/>
<path d="M187.9 453.9H194.9M191.4 450.4V457.4" stroke="#cc33ff" stroke-width="1"/>
<path d="M191.8 454.3H198.8M195.3 450.8V457.8" stroke="#cc33ff" stroke-width="1"/>
<path d="M195.7 453.0H202.7M199.2 449.5V456.5" stroke="#cc33ff" stroke-width="1"/>
<path d="M199.6 452.1H206.6M203.1 448.6V455.6" stroke="#cc33ff" stroke-width="1"/>
<path d="M203.4 455.7H210.4M206.9 452.2V459.2" stroke="#cc33ff" stroke-width="1"/>
<path d="M207.3 453.3H214.3M210.8 449.8V456.8" stroke="#cc33ff" stroke-width="1"/>
<path d="M211.2 449.5H218.2M214.7 446.0V453.0" stroke="#cc33ff" stroke-width="1"/>
<path d="M215.1 451.1H222.1M218.6 447.6V454.6" stroke="#cc33ff" stroke-width="1"/>
<path d="M219.0 454.6H226.0M222.5 451.1V458.1" stroke="#cc33ff" stroke-width="1"/>
<path d="M222.8 450.3H229.8M226.3 446.8V453.8" stroke="#cc33ff" stroke-width="1"/>
<path d="M226.7 454.5H233.7M230.2 451.0V458.0" stroke="#cc33ff" stroke-width="1"/>
<path d="M230.6 457.5H237.6M234.1 454.0V461.0" stroke="#cc33ff" stroke-width="1"/>
<path d="M250.0 435.7H257.0M253.5 432.2V439.2" stroke="#cc33ff" stroke-width="1"/>
<path d="M225.5 443.0H232.5M229.0 439.5V446.5" stroke="#cc33ff" stroke-width="1"/>
<path d="M236.5 441.0H243.5M240.0 437.5V444.5" stroke="#cc33ff" stroke-width="1"/>
<path d="M59.5 454.2L63.0 459.1H56.0Z" fill="none" stroke="#22eeff" stroke-width="1.1" stroke-linejoin="round"/>
<path d="M63.4 455.4L66.9 460.3H59.9Z" fill="none" stroke="#22eeff" stroke-width="1.1" stroke-linejoin="round"/>
<path d="M67.3 455.5L70.8 460.4H63.8Z" fill="none" stroke="#22eeff" stroke-width="1.1" stroke-linejoin="round"/>
<path d="M71.1 455.6L74.6 460.5H67.6Z" fill="none" stroke="#22eeff" stroke-width="1.1" stroke-linejoin="round"/>
<path d="M75.0 455.4L78.5 460.3H71.5Z" fill="none" stroke="#22eeff" stroke-width="1.1" stroke-linejoin="round"/>
<path d="M78.9 454.9L82.4 459.8H75.4Z" fill="none" stroke="#22eeff" stroke-width="1.1" stroke-linejoin="round"/>
<path d="M82.8 453.0L86.3 457.9H79.3Z" fill="none" stroke="#22eeff" stroke-width="1.1" stroke-linejoin="round"/>
<path d="M86.7 454.3L90.2 459.2H83.2Z" fill="none" stroke="#22eeff" stroke-width="1.1" stroke-linejoin="round"/>
<path d="M90.5 455.0L94.0 459.9H87.0Z" fill="none" stroke="#22eeff" stroke-width="1.1" stroke-linejoin="round"/>
<path d="M94.4 453.7L97.9 458.6H90.9Z" fill="none" stroke="#22eeff" stroke-width="1.1" stroke-linejoin="round"/>
<path d="M98.3 454.2L101.8 459.1H94.8Z" fill="none" stroke="#22eeff" stroke-width="1.1" stroke-linejoin="round"/>
<path d="M102.2 455.8L105.7 460.7H98.7Z" fill="none" stroke="#22eeff" stroke-width="1.1" stroke-linejoin="round"/>
<path d="M106.1 455.5L109.6 460.4H102.6Z" fill="none" stroke="#22eeff" stroke-width="1.1" stroke-linejoin="round"/>
<path d="M109.9 455.7L113.4 460.6H106.4Z" fill="none" stroke="#22eeff" stroke-width="1.1" stroke-linejoin="round"/>
<path d="M113.8 453.4L117.3 458.3H110.3Z" fill="none" stroke="#22eeff" stroke-width="1.1" stroke-linejoin="round"/>
<path d="M117.7 453.4L121.2 458.3H114.2Z" fill="none" stroke="#22eeff" stroke-width="1.1" stroke-linejoin="round"/>
<path d="M121.6 455.1L125.1 460.0H118.1Z" fill="none" stroke="#22eeff" stroke-width="1.1" stroke-linejoin="round"/>
<path d="M125.5 454.5L129.0 459.4H122.0Z" fill="none" stroke="#22eeff" stroke-width="1.1" stroke-linejoin="round"/>
<path d="M129.3 454.4L132.8 459.3H125.8Z" fill="none" stroke="#22eeff" stroke-width="1.1" stroke-linejoin="round"/>
<path d="M133.2 455.0L136.7 459.9H129.7Z" fill="none" stroke="#22eeff" stroke-width="1.1" stroke-linejoin="round"/>
<path d="M137.1 453.7L140.6 458.6H133.6Z" fill="none" stroke="#22eeff" stroke-width="1.1" stroke-linejoin="round"/>
<path d="M141.0 455.2L144.5 460.1H137.5Z" fill="none" stroke="#22eeff" stroke-width="1.1" stroke-linejoin="round"/>
<path d="M144.9 456.1L148.4 461.0H141.4Z" fill="none" stroke="#22eeff" stroke-width="1.1" stroke-linejoin="round"/>
<path d="M148.7 454.8L152.2 459.7H145.2Z" fill="none" stroke="#22eeff" stroke-width="1.1" stroke-linejoin="round"/>
<path d="M152.6 455.1L156.1 460.0H149.1Z" fill="none" stroke="#22eeff" stroke-width="1.1" stroke-linejoin="round"/>
<path d="M156.5 454.9L160.0 459.8H153.0Z" fill="none" stroke="#22eeff" stroke-width="1.1" stroke-linejoin="round"/>
<path d="M160.4 455.3L163.9 460.2H156.9Z" fill="none" stroke="#22eeff" stroke-width="1.1" stroke-linejoin="round"/>
<path d="M164.3 454.7L167.8 459.6H160.8Z" fill="none" stroke="#22eeff" stroke-width="1.1" stroke-linejoin="round"/>
<path d="M168.1 453.1L171.6 458.0H164.6Z" fill="none" stroke="#22eeff" stroke-width="1.1" stroke-linejoin="round"/>
<path d="M172.0 455.0L175.5 459.9H168.5Z" fill="none" stroke="#22eeff" stroke-width="1.1" stroke-linejoin="round"/>
<path d="M175.9 454.5L179.4 459.4H172.4Z" fill="none" stroke="#22eeff" stroke-width="1.1" stroke-linejoin="round"/>
<path d="M179.8 455.0L183.3 459.9H176.3Z" fill="none" stroke="#22eeff" stroke-width="1.1" stroke-linejoin="round"/>
<path d="M183.7 455.7L187.2 460.6H180.2Z" fill="none" stroke="#22eeff" stroke-width="1.1" stroke-linejoin="round"/>
<path d="M187.5 456.8L191.0 461.7H184.0Z" fill="none" stroke="#22eeff" stroke-width="1.1" stroke-linejoin="round"/>
<path d="M191.4 458.3L194.9 463.2H187.9Z" fill="none" stroke="#22eeff" stroke-width="1.1" stroke-linejoin="round"/>
<path d="M195.3 454.9L198.8 459.8H191.8Z" fill="none" stroke="#22eeff" stroke-width="1.1" stroke-linejoin="round"/>
<path d="M199.2 455.7L202.7 460.6H195.7Z" fill="none" stroke="#22eeff" stroke-width="1.1" stroke-linejoin="round"/>
<path d="M241.2 330.4L244.7 335.3H237.7Z" fill="none" stroke="#22eeff" stroke-width="1.1" stroke-linejoin="round"/>
<path d="M233.7 343.6L237.2 348.5H230.2Z" fill="none" stroke="#22eeff" stroke-width="1.1" stroke-linejoin="round"/>
<path d="M237.9 348.6L241.4 353.5H234.4Z" fill="none" stroke="#22eeff" stroke-width="1.1" stroke-linejoin="round"/>
<path d="M253.5 351.9L257.0 356.8H250.0Z" fill="none" stroke="#22eeff" stroke-width="1.1" stroke-linejoin="round"/>
<path d="M202.8 464.8L206.3 469.7H199.3Z" fill="none" stroke="#22eeff" stroke-width="1.1" stroke-linejoin="round"/>
<path d="M210.5 464.8L214.0 469.7H207.0Z" fill="none" stroke="#22eeff" stroke-width="1.1" stroke-linejoin="round"/>
<path d="M214.4 466.7L217.9 471.6H210.9Z" fill="none" stroke="#22eeff" stroke-width="1.1" stroke-linejoin="round"/>
<path d="M218.3 472.5L221.8 477.4H214.8Z" fill="none" stroke="#22eeff" stroke-width="1.1" stroke-linejoin="round"/>
<path d="M222.1 472.5L225.6 477.4H218.6Z" fill="none" stroke="#22eeff" stroke-width="1.1" stroke-linejoin="round"/>
<path d="M226.0 475.4L229.5 480.3H222.5Z" fill="none" stroke="#22eeff" stroke-width="1.1" stroke-linejoin="round"/>
<path d="M229.8 476.4L233.3 481.3H226.3Z" fill="none" stroke="#22eeff" stroke-width="1.1" stroke-linejoin="round"/>
<circle cx="59.5" cy="454.8" r="3.4" fill="#8b6914"/>
<circle cx="63.4" cy="454.5" r="3.4" fill="#8b6914"/>
<circle cx="67.3" cy="453.5" r="3.4" fill="#8b6914"/>
<circle cx="71.1" cy="454.4" r="3.4" fill="#8b6914"/>
<circle cx="75.0" cy="454.4" r="3.4" fill="#8b6914"/>
<circle cx="78.9" cy="453.4" r="3.4" fill="#8b6914"/>
<circle cx="82.8" cy="454.5" r="3.4" fill="#8b6914"/>
<circle cx="86.7" cy="456.7" r="3.4" fill="#8b6914"/>
<circle cx="90.5" cy="452.0" r="3.4" fill="#8b6914"/>
<circle cx="94.4" cy="453.4" r="3.4" fill="#8b6914"/>
<circle cx="98.3" cy="454.5" r="3.4" fill="#8b6914"/>
<circle cx="102.2" cy="455.2" r="3.4" fill="#8b6914"/>
<circle cx="106.1" cy="453.1" r="3.4" fill="#8b6914"/>
<circle cx="109.9" cy="454.9" r="3.4" fill="#8b6914"/>
<circle cx="113.8" cy="455.4" r="3.4" fill="#8b6914"/>
<circle cx="117.7" cy="454.8" r="3.4" fill="#8b6914"/>
<circle cx="121.6" cy="454.8" r="3.4" fill="#8b6914"/>
<circle cx="125.5" cy="455.7" r="3.4" fill="#8b6914"/>
<circle cx="129.3" cy="453.3" r="3.4" fill="#8b6914"/>
<circle cx="133.2" cy="455.3" r="3.4" fill="#8b6914"/>
<circle cx="137.1" cy="454.0" r="3.4" fill="#8b6914"/>
<circle cx="141.0" cy="454.0" r="3.4" fill="#8b6914"/>
<circle cx="144.9" cy="455.1" r="3.4" fill="#8b6914"/>
<circle cx="148.7" cy="453.3" r="3.4" fill="#8b6914"/>
<circle cx="152.6" cy="455.2" r="3.4" fill="#8b6914"/>
<circle cx="156.5" cy="454.3" r="3.4" fill="#8b6914"/>
<circle cx="160.4" cy="455.6" r="3.4" fill="#8b6914"/>
<circle cx="164.3" cy="454.3" r="3.4" fill="#8b6914"/>
<circle cx="168.1" cy="453.9" r="3.4" fill="#8b6914"/>
<circle cx="172.0" cy="452.8" r="3.4" fill="#8b6914"/>
<circle cx="175.9" cy="453.1" r="3.4" fill="#8b6914"/>
<circle cx="179.8" cy="454.5" r="3.4" fill="#8b6914"/>
<circle cx="183.7" cy="454.7" r="3.4" fill="#8b6914"/>
<circle cx="187.5" cy="452.9" r="3.4" fill="#8b6914"/>
<circle cx="191.4" cy="452.1" r="3.4" fill="#8b6914"/>
<circle cx="195.3" cy="452.4" r="3.4" fill="#8b6914"/>
<circle cx="199.2" cy="454.6" r="3.4" fill="#8b6914"/>
<circle cx="203.1" cy="456.3" r="3.4" fill="#8b6914"/>
<circle cx="206.9" cy="452.3" r="3.4" fill="#8b6914"/>
<circle cx="210.8" cy="454.3" r="3.4" fill="#8b6914"/>
<circle cx="214.7" cy="454.0" r="3.4" fill="#8b6914"/>
<circle cx="218.6" cy="452.5" r="3.4" fill="#8b6914"/>
<circle cx="222.5" cy="454.6" r="3.4" fill="#8b6914"/>
<circle cx="226.3" cy="460.0" r="3.4" fill="#8b6914"/>
<circle cx="230.2" cy="451.6" r="3.4" fill="#8b6914"/>
<circle cx="234.1" cy="447.2" r="3.4" fill="#8b6914"/>
<circle cx="249.2" cy="419.3" r="3.4" fill="#8b6914"/>
<circle cx="253.5" cy="419.3" r="3.4" fill="#8b6914"/>
<circle cx="237.6" cy="449.2" r="3.4" fill="#8b6914"/>
<circle cx="245.3" cy="462.7" r="3.4" fill="#8b6914"/>
<rect x="56.0" y="452.6" width="7.1" height="7.1" fill="#ff6a13"/>
<rect x="59.8" y="452.4" width="7.1" height="7.1" fill="#ff6a13"/>
<rect x="63.7" y="452.2" width="7.1" height="7.1" fill="#ff6a13"/>
<rect x="67.6" y="452.9" width="7.1" height="7.1" fill="#ff6a13"/>
<rect x="71.5" y="453.4" width="7.1" height="7.1" fill="#ff6a13"/>
<rect x="75.4" y="451.2" width="7.1" height="7.1" fill="#ff6a13"/>
<rect x="79.2" y="453.4" width="7.1" height="7.1" fill="#ff6a13"/>
<rect x="83.1" y="452.0" width="7.1" height="7.1" fill="#ff6a13"/>
<rect x="87.0" y="452.6" width="7.1" height="7.1" fill="#ff6a13"/>
<rect x="90.9" y="454.0" width="7.1" height="7.1" fill="#ff6a13"/>
<rect x="94.8" y="452.1" width="7.1" height="7.1" fill="#ff6a13"/>
<rect x="98.6" y="452.1" width="7.1" height="7.1" fill="#ff6a13"/>
<rect x="102.5" y="450.4" width="7.1" height="7.1" fill="#ff6a13"/>
<rect x="106.4" y="454.5" width="7.1" height="7.1" fill="#ff6a13"/>
<rect x="110.3" y="452.1" width="7.1" height="7.1" fill="#ff6a13"/>
<rect x="114.1" y="452.6" width="7.1" height="7.1" fill="#ff6a13"/>
<rect x="118.0" y="452.0" width="7.1" height="7.1" fill="#ff6a13"/>
<rect x="121.9" y="451.7" width="7.1" height="7.1" fill="#ff6a13"/>
<rect x="125.8" y="452.0" width="7.1" height="7.1" fill="#ff6a13"/>
<rect x="129.7" y="453.5" width="7.1" height="7.1" fill="#ff6a13"/>
<rect x="133.6" y="453.7" width="7.1" height="7.1" fill="#ff6a13"/>
<rect x="137.4" y="452.7" width="7.1" height="7.1" fill="#ff6a13"/>
<rect x="141.3" y="453.3" width="7.1" height="7.1" fill="#ff6a13"/>
<rect x="145.2" y="452.4" width="7.1" height="7.1" fill="#ff6a13"/>
<rect x="149.1" y="454.5" width="7.1" height="7.1" fill="#ff6a13"/>
<rect x="152.9" y="450.8" width="7.1" height="7.1" fill="#ff6a13"/>
<rect x="156.8" y="453.4" width="7.1" height="7.1" fill="#ff6a13"/>
<rect x="160.7" y="453.0" width="7.1" height="7.1" fill="#ff6a13"/>
<rect x="164.6" y="453.5" width="7.1" height="7.1" fill="#ff6a13"/>
<rect x="168.5" y="453.7" width="7.1" height="7.1" fill="#ff6a13"/>
<rect x="172.3" y="454.2" width="7.1" height="7.1" fill="#ff6a13"/>
<rect x="176.2" y="453.0" width="7.1" height="7.1" fill="#ff6a13"/>
<rect x="180.1" y="452.2" width="7.1" height="7.1" fill="#ff6a13"/>
<rect x="184.0" y="452.7" width="7.1" height="7.1" fill="#ff6a13"/>
<rect x="187.9" y="451.3" width="7.1" height="7.1" fill="#ff6a13"/>
<rect x="191.7" y="455.6" width="7.1" height="7.1" fill="#ff6a13"/>
<rect x="195.6" y="449.1" width="7.1" height="7.1" fill="#ff6a13"/>
<rect x="199.5" y="454.0" width="7.1" height="7.1" fill="#ff6a13"/>
<rect x="203.4" y="453.1" width="7.1" height="7.1" fill="#ff6a13"/>
<rect x="207.3" y="452.2" width="7.1" height="7.1" fill="#ff6a13"/>
<rect x="211.2" y="454.2" width="7.1" height="7.1" fill="#ff6a13"/>
<rect x="215.0" y="455.0" width="7.1" height="7.1" fill="#ff6a13"/>
<rect x="218.9" y="451.2" width="7.1" height="7.1" fill="#ff6a13"/>
<rect x="222.8" y="451.5" width="7.1" height="7.1" fill="#ff6a13"/>
<rect x="226.7" y="454.4" width="7.1" height="7.1" fill="#ff6a13"/>
<rect x="230.5" y="449.2" width="7.1" height="7.1" fill="#ff6a13"/>
<rect x="240.9" y="347.1" width="7.1" height="7.1" fill="#ff6a13"/>
<rect x="245.9" y="347.1" width="7.1" height="7.1" fill="#ff6a13"/>
<rect x="249.9" y="365.2" width="7.1" height="7.1" fill="#ff6a13"/>
<rect x="226.2" y="464.9" width="7.1" height="7.1" fill="#ff6a13"/>
<rect x="230.1" y="463.1" width="7.1" height="7.1" fill="#ff6a13"/>
<rect x="237.8" y="478.4" width="7.1" height="7.1" fill="#ff6a13"/>
<rect x="234.0" y="495.8" width="7.1" height="7.1" fill="#ff6a13"/>
<path d="M59.5 449.6L63.3 453.4L59.5 457.2L55.7 453.4Z" fill="#12aef0"/>
<path d="M63.4 450.9L67.2 454.7L63.4 458.5L59.6 454.7Z" fill="#12aef0"/>
<path d="M67.3 449.7L71.1 453.5L67.3 457.3L63.5 453.5Z" fill="#12aef0"/>
<path d="M71.1 451.9L74.9 455.7L71.1 459.5L67.3 455.7Z" fill="#12aef0"/>
<path d="M75.0 452.1L78.8 455.9L75.0 459.7L71.2 455.9Z" fill="#12aef0"/>
<path d="M78.9 450.6L82.7 454.4L78.9 458.2L75.1 454.4Z" fill="#12aef0"/>
<path d="M82.8 450.2L86.6 454.0L82.8 457.8L79.0 454.0Z" fill="#12aef0"/>
<path d="M86.7 451.5L90.5 455.3L86.7 459.1L82.9 455.3Z" fill="#12aef0"/>
<path d="M90.5 449.3L94.3 453.1L90.5 456.9L86.7 453.1Z" fill="#12aef0"/>
<path d="M94.4 450.7L98.2 454.5L94.4 458.3L90.6 454.5Z" fill="#12aef0"/>
<path d="M98.3 449.9L102.1 453.7L98.3 457.5L94.5 453.7Z" fill="#12aef0"/>
<path d="M102.2 451.2L106.0 455.0L102.2 458.8L98.4 455.0Z" fill="#12aef0"/>
<path d="M106.1 449.8L109.9 453.6L106.1 457.4L102.3 453.6Z" fill="#12aef0"/>
<path d="M109.9 451.6L113.7 455.4L109.9 459.2L106.1 455.4Z" fill="#12aef0"/>
<path d="M113.8 452.1L117.6 455.9L113.8 459.7L110.0 455.9Z" fill="#12aef0"/>
<path d="M117.7 450.0L121.5 453.8L117.7 457.6L113.9 453.8Z" fill="#12aef0"/>
<path d="M121.6 449.1L125.4 452.9L121.6 456.7L117.8 452.9Z" fill="#12aef0"/>
<path d="M125.5 451.9L129.3 455.7L125.5 459.5L121.7 455.7Z" fill="#12aef0"/>
<path d="M129.3 450.9L133.1 454.7L129.3 458.5L125.5 454.7Z" fill="#12aef0"/>
<path d="M133.2 450.9L137.0 454.7L133.2 458.5L129.4 454.7Z" fill="#12aef0"/>
<path d="M137.1 450.2L140.9 454.0L137.1 457.8L133.3 454.0Z" fill="#12aef0"/>
<path d="M141.0 450.4L144.8 454.2L141.0 458.0L137.2 454.2Z" fill="#12aef0"/>
<path d="M144.9 451.4L148.7 455.2L144.9 459.0L141.1 455.2Z" fill="#12aef0"/>
<path d="M148.7 450.2L152.5 454.0L148.7 457.8L144.9 454.0Z" fill="#12aef0"/>
<path d="M152.6 450.0L156.4 453.8L152.6 457.6L148.8 453.8Z" fill="#12aef0"/>
<path d="M156.5 452.6L160.3 456.4L156.5 460.2L152.7 456.4Z" fill="#12aef0"/>
<path d="M160.4 449.8L164.2 453.6L160.4 457.4L156.6 453.6Z" fill="#12aef0"/>
<path d="M164.3 452.1L168.1 455.9L164.3 459.7L160.5 455.9Z" fill="#12aef0"/>
<path d="M168.1 450.0L171.9 453.8L168.1 457.6L164.3 453.8Z" fill="#12aef0"/>
<path d="M172.0 450.4L175.8 454.2L172.0 458.0L168.2 454.2Z" fill="#12aef0"/>
<path d="M175.9 450.8L179.7 454.6L175.9 458.4L172.1 454.6Z" fill="#12aef0"/>
<path d="M179.8 451.9L183.6 455.7L179.8 459.5L176.0 455.7Z" fill="#12aef0"/>
<path d="M183.7 449.9L187.5 453.7L183.7 457.5L179.9 453.7Z" fill="#12aef0"/>
<path d="M187.5 451.5L191.3 455.3L187.5 459.1L183.7 455.3Z" fill="#12aef0"/>
<path d="M191.4 450.0L195.2 453.8L191.4 457.6L187.6 453.8Z" fill="#12aef0"/>
<path d="M195.3 451.8L199.1 455.6L195.3 459.4L191.5 455.6Z" fill="#12aef0"/>
<path d="M199.2 449.8L203.0 453.6L199.2 457.4L195.4 453.6Z" fill="#12aef0"/>
<path d="M203.1 450.1L206.9 453.9L203.1 457.7L199.3 453.9Z" fill="#12aef0"/>
<path d="M206.9 450.5L210.7 454.3L206.9 458.1L203.1 454.3Z" fill="#12aef0"/>
<path d="M210.8 450.8L214.6 454.6L210.8 458.4L207.0 454.6Z" fill="#12aef0"/>
<path d="M214.7 453.1L218.5 456.9L214.7 460.7L210.9 456.9Z" fill="#12aef0"/>
<path d="M218.6 452.6L222.4 456.4L218.6 460.2L214.8 456.4Z" fill="#12aef0"/>
<path d="M222.5 450.7L226.3 454.5L222.5 458.3L218.7 454.5Z" fill="#12aef0"/>
<path d="M226.3 448.2L230.1 452.0L226.3 455.8L222.5 452.0Z" fill="#12aef0"/>
<path d="M230.2 452.0L234.0 455.8L230.2 459.6L226.4 455.8Z" fill="#12aef0"/>
<path d="M234.1 447.0L237.9 450.8L234.1 454.6L230.3 450.8Z" fill="#12aef0"/>
<path d="M245.3 436.7L249.1 440.5L245.3 444.3L241.5 440.5Z" fill="#12aef0"/>
<path d="M253.5 447.4L257.3 451.2L253.5 455.0L249.7 451.2Z" fill="#12aef0"/>
<path d="M229.8 441.6L233.6 445.4L229.8 449.2L226.0 445.4Z" fill="#12aef0"/>
<path d="M241.4 452.2L245.2 456.0L241.4 459.8L237.6 456.0Z" fill="#12aef0"/>
<path d="M249.2 478.2L253.0 482.0L249.2 485.8L245.4 482.0Z" fill="#12aef0"/>
<path d="M222.0 448.2L225.8 452.0L222.0 455.8L218.2 452.0Z" fill="#12aef0"/>
<path d="M59.5 448.5L63.1 455.0H55.9Z" fill="#555555"/>
<path d="M63.4 449.7L67.0 456.2H59.8Z" fill="#555555"/>
<path d="M67.3 449.2L70.9 455.6H63.7Z" fill="#555555"/>
<path d="M71.1 450.9L74.7 457.3H67.5Z" fill="#555555"/>
<path d="M75.0 449.3L78.6 455.7H71.4Z" fill="#555555"/>
<path d="M78.9 448.0L82.5 454.5H75.3Z" fill="#555555"/>
<path d="M82.8 449.7L86.4 456.2H79.2Z" fill="#555555"/>
<path d="M86.7 448.9L90.3 455.4H83.1Z" fill="#555555"/>
<path d="M90.5 449.1L94.1 455.6H86.9Z" fill="#555555"/>
<path d="M94.4 449.7L98.0 456.2H90.8Z" fill="#555555"/>
<path d="M98.3 448.4L101.9 454.9H94.7Z" fill="#555555"/>
<path d="M102.2 451.4L105.8 457.9H98.6Z" fill="#555555"/>
<path d="M106.1 447.5L109.7 454.0H102.5Z" fill="#555555"/>
<path d="M109.9 450.4L113.5 456.9H106.3Z" fill="#555555"/>
<path d="M113.8 448.5L117.4 455.0H110.2Z" fill="#555555"/>
<path d="M117.7 450.8L121.3 457.2H114.1Z" fill="#555555"/>
<path d="M121.6 450.3L125.2 456.8H118.0Z" fill="#555555"/>
<path d="M125.5 447.7L129.1 454.2H121.9Z" fill="#555555"/>
<path d="M129.3 447.1L132.9 453.6H125.7Z" fill="#555555"/>
<path d="M133.2 450.6L136.8 457.1H129.6Z" fill="#555555"/>
<path d="M137.1 448.7L140.7 455.1H133.5Z" fill="#555555"/>
<path d="M141.0 450.4L144.6 456.8H137.4Z" fill="#555555"/>
<path d="M144.9 449.6L148.5 456.1H141.3Z" fill="#555555"/>
<path d="M148.7 448.7L152.3 455.2H145.1Z" fill="#555555"/>
<path d="M152.6 450.0L156.2 456.5H149.0Z" fill="#555555"/>
<path d="M156.5 450.6L160.1 457.1H152.9Z" fill="#555555"/>
<path d="M160.4 450.8L164.0 457.3H156.8Z" fill="#555555"/>
<path d="M164.3 450.7L167.9 457.2H160.7Z" fill="#555555"/>
<path d="M168.1 451.0L171.7 457.5H164.5Z" fill="#555555"/>
<path d="M172.0 448.7L175.6 455.2H168.4Z" fill="#555555"/>
<path d="M175.9 449.3L179.5 455.8H172.3Z" fill="#555555"/>
<path d="M179.8 448.6L183.4 455.0H176.2Z" fill="#555555"/>
<path d="M183.7 452.7L187.3 459.1H180.1Z" fill="#555555"/>
<path d="M187.5 449.9L191.1 456.4H183.9Z" fill="#555555"/>
<path d="M191.4 447.5L195.0 454.0H187.8Z" fill="#555555"/>
<path d="M195.3 448.2L198.9 454.6H191.7Z" fill="#555555"/>
<path d="M199.2 449.0L202.8 455.5H195.6Z" fill="#555555"/>
<path d="M203.1 450.6L206.7 457.1H199.5Z" fill="#555555"/>
<path d="M206.9 450.2L210.5 456.7H203.3Z" fill="#555555"/>
<path d="M210.8 450.0L214.4 456.5H207.2Z" fill="#555555"/>
<path d="M214.7 450.0L218.3 456.5H211.1Z" fill="#555555"/>
<path d="M218.6 449.0L222.2 455.5H215.0Z" fill="#555555"/>
<path d="M222.5 445.1L226.1 451.5H218.9Z" fill="#555555"/>
<path d="M226.3 442.3L229.9 448.8H222.7Z" fill="#555555"/>
<path d="M230.2 442.8L233.8 449.3H226.6Z" fill="#555555"/>
<path d="M234.1 443.4L237.7 449.9H230.5Z" fill="#555555"/>
<path d="M245.3 425.4L248.9 431.9H241.7Z" fill="#555555"/>
<path d="M249.2 423.4L252.8 429.9H245.6Z" fill="#555555"/>
<path d="M237.6 459.1L241.2 465.6H234.0Z" fill="#555555"/>
<path d="M241.4 466.9L245.0 473.4H237.8Z" fill="#555555"/>
<path d="M253.5 484.2L257.1 490.7H249.9Z" fill="#555555"/>
<path d="M230.0 448.4L233.6 454.9H226.4Z" fill="#555555"/>
<path d="M222.0 451.4L225.6 457.9H218.4Z" fill="#555555"/>
<circle cx="318.9" cy="452.0" r="3.0" fill="none" stroke="#3a3a3a" stroke-width="1"/>
<circle cx="322.8" cy="453.7" r="3.0" fill="none" stroke="#3a3a3a" stroke-width="1"/>
<circle cx="326.6" cy="451.3" r="3.0" fill="none" stroke="#3a3a3a" stroke-width="1"/>
<circle cx="330.5" cy="452.0" r="3.0" fill="none" stroke="#3a3a3a" stroke-width="1"/>
<circle cx="334.4" cy="453.9" r="3.0" fill="none" stroke="#3a3a3a" stroke-width="1"/>
<circle cx="338.2" cy="453.0" r="3.0" fill="none" stroke="#3a3a3a" stroke-width="1"/>
<circle cx="342.1" cy="451.8" r="3.0" fill="none" stroke="#3a3a3a" stroke-width="1"/>
<circle cx="346.0" cy="452.9" r="3.0" fill="none" stroke="#3a3a3a" stroke-width="1"/>
<circle cx="349.8" cy="450.6" r="3.0" fill="none" stroke="#3a3a3a" stroke-width="1"/>
<circle cx="353.7" cy="451.9" r="3.0" fill="none" stroke="#3a3a3a" stroke-width="1"/>
<circle cx="357.6" cy="451.6" r="3.0" fill="none" stroke="#3a3a3a" stroke-width="1"/>
<circle cx="361.4" cy="454.4" r="3.0" fill="none" stroke="#3a3a3a" stroke-width="1"/>
<circle cx="365.3" cy="451.0" r="3.0" fill="none" stroke="#3a3a3a" stroke-width="1"/>
<circle cx="369.2" cy="449.8" r="3.0" fill="none" stroke="#3a3a3a" stroke-width="1"/>
<circle cx="373.0" cy="451.5" r="3.0" fill="none" stroke="#3a3a3a" stroke-width="1"/>
<circle cx="376.9" cy="450.9" r="3.0" fill="none" stroke="#3a3a3a" stroke-width="1"/>
<circle cx="380.8" cy="451.5" r="3.0" fill="none" stroke="#3a3a3a" stroke-width="1"/>
<circle cx="384.6" cy="453.5" r="3.0" fill="none" stroke="#3a3a3a" stroke-width="1"/>
<circle cx="388.5" cy="451.8" r="3.0" fill="none" stroke="#3a3a3a" stroke-width="1"/>
<circle cx="392.4" cy="451.6" r="3.0" fill="none" stroke="#3a3a3a" stroke-width="1"/>
<circle cx="396.2" cy="452.6" r="3.0" fill="none" stroke="#3a3a3a" stroke-width="1"/>
<circle cx="400.1" cy="454.2" r="3.0" fill="none" stroke="#3a3a3a" stroke-width="1"/>
<circle cx="404.0" cy="451.9" r="3.0" fill="none" stroke="#3a3a3a" stroke-width="1"/>
<circle cx="407.8" cy="450.7" r="3.0" fill="none" stroke="#3a3a3a" stroke-width="1"/>
<circle cx="411.7" cy="453.1" r="3.0" fill="none" stroke="#3a3a3a" stroke-width="1"/>
<circle cx="415.6" cy="452.3" r="3.0" fill="none" stroke="#3a3a3a" stroke-width="1"/>
<circle cx="419.4" cy="451.5" r="3.0" fill="none" stroke="#3a3a3a" stroke-width="1"/>
<circle cx="423.3" cy="451.9" r="3.0" fill="none" stroke="#3a3a3a" stroke-width="1"/>
<circle cx="427.1" cy="450.7" r="3.0" fill="none" stroke="#3a3a3a" stroke-width="1"/>
<circle cx="431.0" cy="449.7" r="3.0" fill="none" stroke="#3a3a3a" stroke-width="1"/>
<circle cx="434.9" cy="453.7" r="3.0" fill="none" stroke="#3a3a3a" stroke-width="1"/>
<circle cx="438.7" cy="451.5" r="3.0" fill="none" stroke="#3a3a3a" stroke-width="1"/>
<circle cx="442.6" cy="452.1" r="3.0" fill="none" stroke="#3a3a3a" stroke-width="1"/>
<circle cx="446.5" cy="454.3" r="3.0" fill="none" stroke="#3a3a3a" stroke-width="1"/>
<circle cx="450.3" cy="452.4" r="3.0" fill="none" stroke="#3a3a3a" stroke-width="1"/>
<circle cx="454.2" cy="452.8" r="3.0" fill="none" stroke="#3a3a3a" stroke-width="1"/>
<circle cx="458.1" cy="449.6" r="3.0" fill="none" stroke="#3a3a3a" stroke-width="1"/>
<circle cx="461.9" cy="453.2" r="3.0" fill="none" stroke="#3a3a3a" stroke-width="1"/>
<circle cx="465.8" cy="451.4" r="3.0" fill="none" stroke="#3a3a3a" stroke-width="1"/>
<circle cx="469.7" cy="451.5" r="3.0" fill="none" stroke="#3a3a3a" stroke-width="1"/>
<circle cx="473.5" cy="450.8" r="3.0" fill="none" stroke="#3a3a3a" stroke-width="1"/>
<circle cx="477.4" cy="452.8" r="3.0" fill="none" stroke="#3a3a3a" stroke-width="1"/>
<circle cx="481.3" cy="450.5" r="3.0" fill="none" stroke="#3a3a3a" stroke-width="1"/>
<circle cx="485.1" cy="454.3" r="3.0" fill="none" stroke="#3a3a3a" stroke-width="1"/>
<circle cx="489.0" cy="455.9" r="3.0" fill="none" stroke="#3a3a3a" stroke-width="1"/>
<circle cx="492.9" cy="455.0" r="3.0" fill="none" stroke="#3a3a3a" stroke-width="1"/>
<circle cx="496.7" cy="449.7" r="3.0" fill="none" stroke="#3a3a3a" stroke-width="1"/>
<circle cx="496.6" cy="429.1" r="3.0" fill="none" stroke="#3a3a3a" stroke-width="1"/>
<circle cx="504.0" cy="427.0" r="3.0" fill="none" stroke="#3a3a3a" stroke-width="1"/>
<rect x="315.5" y="450.7" width="6.8" height="6.8" fill="none" stroke="#3333ff" stroke-width="1"/>
<rect x="319.4" y="450.1" width="6.8" height="6.8" fill="none" stroke="#3333ff" stroke-width="1"/>
<rect x="323.2" y="450.7" width="6.8" height="6.8" fill="none" stroke="#3333ff" stroke-width="1"/>
<rect x="327.1" y="449.8" width="6.8" height="6.8" fill="none" stroke="#3333ff" stroke-width="1"/>
<rect x="331.0" y="453.4" width="6.8" height="6.8" fill="none" stroke="#3333ff" stroke-width="1"/>
<rect x="334.8" y="451.9" width="6.8" height="6.8" fill="none" stroke="#3333ff" stroke-width="1"/>
<rect x="338.7" y="450.0" width="6.8" height="6.8" fill="none" stroke="#3333ff" stroke-width="1"/>
<rect x="342.6" y="450.5" width="6.8" height="6.8" fill="none" stroke="#3333ff" stroke-width="1"/>
<rect x="346.4" y="451.0" width="6.8" height="6.8" fill="none" stroke="#3333ff" stroke-width="1"/>
<rect x="350.3" y="452.3" width="6.8" height="6.8" fill="none" stroke="#3333ff" stroke-width="1"/>
<rect x="354.2" y="449.2" width="6.8" height="6.8" fill="none" stroke="#3333ff" stroke-width="1"/>
<rect x="358.0" y="450.6" width="6.8" height="6.8" fill="none" stroke="#3333ff" stroke-width="1"/>
<rect x="361.9" y="451.6" width="6.8" height="6.8" fill="none" stroke="#3333ff" stroke-width="1"/>
<rect x="365.8" y="450.2" width="6.8" height="6.8" fill="none" stroke="#3333ff" stroke-width="1"/>
<rect x="369.6" y="449.4" width="6.8" height="6.8" fill="none" stroke="#3333ff" stroke-width="1"/>
<rect x="373.5" y="450.6" width="6.8" height="6.8" fill="none" stroke="#3333ff" stroke-width="1"/>
<rect x="377.4" y="449.4" width="6.8" height="6.8" fill="none" stroke="#3333ff" stroke-width="1"/>
<rect x="381.2" y="451.3" width="6.8" height="6.8" fill="none" stroke="#3333ff" stroke-width="1"/>
<rect x="385.1" y="449.6" width="6.8" height="6.8" fill="none" stroke="#3333ff" stroke-width="1"/>
<rect x="389.0" y="450.9" width="6.8" height="6.8" fill="none" stroke="#3333ff" stroke-width="1"/>
<rect x="392.8" y="449.4" width="6.8" height="6.8" fill="none" stroke="#3333ff" stroke-width="1"/>
<rect x="396.7" y="449.0" width="6.8" height="6.8" fill="none" stroke="#3333ff" stroke-width="1"/>
<rect x="400.6" y="450.3" width="6.8" height="6.8" fill="none" stroke="#3333ff" stroke-width="1"/>
<rect x="404.4" y="450.1" width="6.8" height="6.8" fill="none" stroke="#3333ff" stroke-width="1"/>
<rect x="408.3" y="450.3" width="6.8" height="6.8" fill="none" stroke="#3333ff" stroke-width="1"/>
<rect x="412.2" y="450.4" width="6.8" height="6.8" fill="none" stroke="#3333ff" stroke-width="1"/>
<rect x="416.0" y="451.1" width="6.8" height="6.8" fill="none" stroke="#3333ff" stroke-width="1"/>
<rect x="419.9" y="451.3" width="6.8" height="6.8" fill="none" stroke="#3333ff" stroke-width="1"/>
<rect x="423.7" y="449.9" width="6.8" height="6.8" fill="none" stroke="#3333ff" stroke-width="1"/>
<rect x="427.6" y="450.1" width="6.8" height="6.8" fill="none" stroke="#3333ff" stroke-width="1"/>
<rect x="431.5" y="450.3" width="6.8" height="6.8" fill="none" stroke="#3333ff" stroke-width="1"/>
<rect x="435.3" y="450.4" width="6.8" height="6.8" fill="none" stroke="#3333ff" stroke-width="1"/>
<rect x="439.2" y="450.7" width="6.8" height="6.8" fill="none" stroke="#3333ff" stroke-width="1"/>
<rect x="443.1" y="451.5" width="6.8" height="6.8" fill="none" stroke="#3333ff" stroke-width="1"/>
<rect x="446.9" y="450.7" width="6.8" height="6.8" fill="none" stroke="#3333ff" stroke-width="1"/>
<rect x="450.8" y="449.5" width="6.8" height="6.8" fill="none" stroke="#3333ff" stroke-width="1"/>
<rect x="454.7" y="451.4" width="6.8" height="6.8" fill="none" stroke="#3333ff" stroke-width="1"/>
<rect x="458.5" y="448.4" width="6.8" height="6.8" fill="none" stroke="#3333ff" stroke-width="1"/>
<rect x="462.4" y="450.6" width="6.8" height="6.8" fill="none" stroke="#3333ff" stroke-width="1"/>
<rect x="466.3" y="451.0" width="6.8" height="6.8" fill="none" stroke="#3333ff" stroke-width="1"/>
<rect x="470.1" y="450.7" width="6.8" height="6.8" fill="none" stroke="#3333ff" stroke-width="1"/>
<rect x="474.0" y="450.2" width="6.8" height="6.8" fill="none" stroke="#3333ff" stroke-width="1"/>
<rect x="477.9" y="452.0" width="6.8" height="6.8" fill="none" stroke="#3333ff" stroke-width="1"/>
<rect x="481.7" y="448.7" width="6.8" height="6.8" fill="none" stroke="#3333ff" stroke-width="1"/>
<rect x="485.6" y="450.4" width="6.8" height="6.8" fill="none" stroke="#3333ff" stroke-width="1"/>
<rect x="489.5" y="454.0" width="6.8" height="6.8" fill="none" stroke="#3333ff" stroke-width="1"/>
<rect x="493.3" y="455.7" width="6.8" height="6.8" fill="none" stroke="#3333ff" stroke-width="1"/>
<rect x="508.8" y="447.9" width="6.8" height="6.8" fill="none" stroke="#3333ff" stroke-width="1"/>
<rect x="496.4" y="447.9" width="6.8" height="6.8" fill="none" stroke="#3333ff" stroke-width="1"/>
<rect x="501.6" y="444.6" width="6.8" height="6.8" fill="none" stroke="#3333ff" stroke-width="1"/>
<rect x="506.6" y="441.6" width="6.8" height="6.8" fill="none" stroke="#3333ff" stroke-width="1"/>
<path d="M318.9 449.9L322.5 453.5L318.9 457.1L315.3 453.5Z" fill="none" stroke="#2e8b57" stroke-width="1"/>
<path d="M322.8 451.3L326.4 454.9L322.8 458.5L319.2 454.9Z" fill="none" stroke="#2e8b57" stroke-width="1"/>
<path d="M326.6 449.6L330.2 453.2L326.6 456.8L323.0 453.2Z" fill="none" stroke="#2e8b57" stroke-width="1"/>
<path d="M330.5 450.0L334.1 453.6L330.5 457.2L326.9 453.6Z" fill="none" stroke="#2e8b57" stroke-width="1"/>
<path d="M334.4 448.6L338.0 452.2L334.4 455.8L330.8 452.2Z" fill="none" stroke="#2e8b57" stroke-width="1"/>
<path d="M338.2 452.7L341.8 456.3L338.2 459.9L334.6 456.3Z" fill="none" stroke="#2e8b57" stroke-width="1"/>
<path d="M342.1 450.1L345.7 453.7L342.1 457.3L338.5 453.7Z" fill="none" stroke="#2e8b57" stroke-width="1"/>
<path d="M346.0 451.0L349.6 454.6L346.0 458.2L342.4 454.6Z" fill="none" stroke="#2e8b57" stroke-width="1"/>
<path d="M349.8 448.5L353.4 452.1L349.8 455.7L346.2 452.1Z" fill="none" stroke="#2e8b57" stroke-width="1"/>
<path d="M353.7 450.9L357.3 454.5L353.7 458.1L350.1 454.5Z" fill="none" stroke="#2e8b57" stroke-width="1"/>
<path d="M357.6 448.0L361.2 451.6L357.6 455.2L354.0 451.6Z" fill="none" stroke="#2e8b57" stroke-width="1"/>
<path d="M361.4 447.3L365.0 450.9L361.4 454.5L357.8 450.9Z" fill="none" stroke="#2e8b57" stroke-width="1"/>
<path d="M365.3 449.9L368.9 453.5L365.3 457.1L361.7 453.5Z" fill="none" stroke="#2e8b57" stroke-width="1"/>
<path d="M369.2 448.6L372.8 452.2L369.2 455.8L365.6 452.2Z" fill="none" stroke="#2e8b57" stroke-width="1"/>
<path d="M373.0 450.1L376.6 453.7L373.0 457.3L369.4 453.7Z" fill="none" stroke="#2e8b57" stroke-width="1"/>
<path d="M376.9 450.1L380.5 453.7L376.9 457.3L373.3 453.7Z" fill="none" stroke="#2e8b57" stroke-width="1"/>
<path d="M380.8 451.2L384.4 454.8L380.8 458.4L377.2 454.8Z" fill="none" stroke="#2e8b57" stroke-width="1"/>
<path d="M384.6 449.2L388.2 452.8L384.6 456.4L381.0 452.8Z" fill="none" stroke="#2e8b57" stroke-width="1"/>
<path d="M388.5 448.9L392.1 452.5L388.5 456.1L384.9 452.5Z" fill="none" stroke="#2e8b57" stroke-width="1"/>
<path d="M392.4 447.9L396.0 451.5L392.4 455.1L388.8 451.5Z" fill="none" stroke="#2e8b57" stroke-width="1"/>
<path d="M396.2 450.1L399.8 453.7L396.2 457.3L392.6 453.7Z" fill="none" stroke="#2e8b57" stroke-width="1"/>
<path d="M400.1 450.0L403.7 453.6L400.1 457.2L396.5 453.6Z" fill="none" stroke="#2e8b57" stroke-width="1"/>
<path d="M404.0 452.3L407.6 455.9L404.0 459.5L400.4 455.9Z" fill="none" stroke="#2e8b57" stroke-width="1"/>
<path d="M407.8 448.8L411.4 452.4L407.8 456.0L404.2 452.4Z" fill="none" stroke="#2e8b57" stroke-width="1"/>
<path d="M411.7 450.6L415.3 454.2L411.7 457.8L408.1 454.2Z" fill="none" stroke="#2e8b57" stroke-width="1"/>
<path d="M415.6 451.0L419.2 454.6L415.6 458.2L411.9 454.6Z" fill="none" stroke="#2e8b57" stroke-width="1"/>
<path d="M419.4 449.6L423.0 453.2L419.4 456.8L415.8 453.2Z" fill="none" stroke="#2e8b57" stroke-width="1"/>
<path d="M423.3 449.6L426.9 453.2L423.3 456.8L419.7 453.2Z" fill="none" stroke="#2e8b57" stroke-width="1"/>
<path d="M427.1 448.5L430.7 452.1L427.1 455.7L423.5 452.1Z" fill="none" stroke="#2e8b57" stroke-width="1"/>
<path d="M431.0 451.1L434.6 454.7L431.0 458.3L427.4 454.7Z" fill="none" stroke="#2e8b57" stroke-width="1"/>
<path d="M434.9 447.3L438.5 450.9L434.9 454.5L431.3 450.9Z" fill="none" stroke="#2e8b57" stroke-width="1"/>
<path d="M438.7 447.5L442.3 451.1L438.7 454.7L435.1 451.1Z" fill="none" stroke="#2e8b57" stroke-width="1"/>
<path d="M442.6 449.5L446.2 453.1L442.6 456.7L439.0 453.1Z" fill="none" stroke="#2e8b57" stroke-width="1"/>
<path d="M446.5 447.8L450.1 451.4L446.5 455.0L442.9 451.4Z" fill="none" stroke="#2e8b57" stroke-width="1"/>
<path d="M450.3 449.2L453.9 452.8L450.3 456.4L446.7 452.8Z" fill="none" stroke="#2e8b57" stroke-width="1"/>
<path d="M454.2 449.3L457.8 452.9L454.2 456.5L450.6 452.9Z" fill="none" stroke="#2e8b57" stroke-width="1"/>
<path d="M458.1 449.0L461.7 452.6L458.1 456.2L454.5 452.6Z" fill="none" stroke="#2e8b57" stroke-width="1"/>
<path d="M461.9 449.3L465.5 452.9L461.9 456.5L458.3 452.9Z" fill="none" stroke="#2e8b57" stroke-width="1"/>
<path d="M465.8 451.4L469.4 455.0L465.8 458.6L462.2 455.0Z" fill="none" stroke="#2e8b57" stroke-width="1"/>
<path d="M469.7 452.2L473.3 455.8L469.7 459.4L466.1 455.8Z" fill="none" stroke="#2e8b57" stroke-width="1"/>
<path d="M473.5 449.3L477.1 452.9L473.5 456.5L469.9 452.9Z" fill="none" stroke="#2e8b57" stroke-width="1"/>
<path d="M477.4 449.7L481.0 453.3L477.4 456.9L473.8 453.3Z" fill="none" stroke="#2e8b57" stroke-width="1"/>
<path d="M481.3 449.7L484.9 453.3L481.3 456.9L477.7 453.3Z" fill="none" stroke="#2e8b57" stroke-width="1"/>
<path d="M485.1 446.6L488.7 450.2L485.1 453.8L481.5 450.2Z" fill="none" stroke="#2e8b57" stroke-width="1"/>
<path d="M489.0 451.5L492.6 455.1L489.0 458.7L485.4 455.1Z" fill="none" stroke="#2e8b57" stroke-width="1"/>
<path d="M492.9 451.7L496.5 455.3L492.9 458.9L489.3 455.3Z" fill="none" stroke="#2e8b57" stroke-width="1"/>
<path d="M496.7 451.6L500.3 455.2L496.7 458.8L493.1 455.2Z" fill="none" stroke="#2e8b57" stroke-width="1"/>
<path d="M512.2 330.4L515.8 334.0L512.2 337.6L508.6 334.0Z" fill="none" stroke="#2e8b57" stroke-width="1"/>
<path d="M500.8 457.2L504.4 460.8L500.8 464.4L497.2 460.8Z" fill="none" stroke="#2e8b57" stroke-width="1"/>
<path d="M315.6 451.1L322.2 457.7M322.2 451.1L315.6 457.7" stroke="#ff3333" stroke-width="1"/>
<path d="M319.5 449.9L326.1 456.5M326.1 449.9L319.5 456.5" stroke="#ff3333" stroke-width="1"/>
<path d="M323.3 450.1L329.9 456.7M329.9 450.1L323.3 456.7" stroke="#ff3333" stroke-width="1"/>
<path d="M327.2 448.9L333.8 455.5M333.8 448.9L327.2 455.5" stroke="#ff3333" stroke-width="1"/>
<path d="M331.1 452.3L337.7 458.9M337.7 452.3L331.1 458.9" stroke="#ff3333" stroke-width="1"/>
<path d="M334.9 449.5L341.5 456.1M341.5 449.5L334.9 456.1" stroke="#ff3333" stroke-width="1"/>
<path d="M338.8 450.1L345.4 456.7M345.4 450.1L338.8 456.7" stroke="#ff3333" stroke-width="1"/>
<path d="M342.7 449.9L349.3 456.5M349.3 449.9L342.7 456.5" stroke="#ff3333" stroke-width="1"/>
<path d="M346.5 451.4L353.1 458.0M353.1 451.4L346.5 458.0" stroke="#ff3333" stroke-width="1"/>
<path d="M350.4 450.4L357.0 457.0M357.0 450.4L350.4 457.0" stroke="#ff3333" stroke-width="1"/>
<path d="M354.3 448.2L360.9 454.8M360.9 448.2L354.3 454.8" stroke="#ff3333" stroke-width="1"/>
<path d="M358.1 450.7L364.7 457.3M364.7 450.7L358.1 457.3" stroke="#ff3333" stroke-width="1"/>
<path d="M362.0 450.8L368.6 457.4M368.6 450.8L362.0 457.4" stroke="#ff3333" stroke-width="1"/>
<path d="M365.9 450.9L372.5 457.5M372.5 450.9L365.9 457.5" stroke="#ff3333" stroke-width="1"/>
<path d="M369.7 450.1L376.3 456.7M376.3 450.1L369.7 456.7" stroke="#ff3333" stroke-width="1"/>
<path d="M373.6 451.4L380.2 458.0M380.2 451.4L373.6 458.0" stroke="#ff3333" stroke-width="1"/>
<path d="M377.5 449.3L384.1 455.9M384.1 449.3L377.5 455.9" stroke="#ff3333" stroke-width="1"/>
<path d="M381.3 451.2L387.9 457.8M387.9 451.2L381.3 457.8" stroke="#ff3333" stroke-width="1"/>
<path d="M385.2 449.8L391.8 456.4M391.8 449.8L385.2 456.4" stroke="#ff3333" stroke-width="1"/>
<path d="M389.1 450.6L395.7 457.2M395.7 450.6L389.1 457.2" stroke="#ff3333" stroke-width="1"/>
<path d="M392.9 450.8L399.5 457.4M399.5 450.8L392.9 457.4" stroke="#ff3333" stroke-width="1"/>
<path d="M396.8 451.3L403.4 457.9M403.4 451.3L396.8 457.9" stroke="#ff3333" stroke-width="1"/>
<path d="M400.7 450.8L407.3 457.4M407.3 450.8L400.7 457.4" stroke="#ff3333" stroke-width="1"/>
<path d="M404.5 451.7L411.1 458.3M411.1 451.7L404.5 458.3" stroke="#ff3333" stroke-width="1"/>
<path d="M408.4 450.2L415.0 456.8M415.0 450.2L408.4 456.8" stroke="#ff3333" stroke-width="1"/>
<path d="M412.2 450.3L418.9 456.9M418.9 450.3L412.2 456.9" stroke="#ff3333" stroke-width="1"/>
<path d="M416.1 451.5L422.7 458.1M422.7 451.5L416.1 458.1" stroke="#ff3333" stroke-width="1"/>
<path d="M420.0 453.3L426.6 459.9M426.6 453.3L420.0 459.9" stroke="#ff3333" stroke-width="1"/>
<path d="M423.8 450.5L430.4 457.1M430.4 450.5L423.8 457.1" stroke="#ff3333" stroke-width="1"/>
<path d="M427.7 449.4L434.3 456.0M434.3 449.4L427.7 456.0" stroke="#ff3333" stroke-width="1"/>
<path d="M431.6 449.7L438.2 456.3M438.2 449.7L431.6 456.3" stroke="#ff3333" stroke-width="1"/>
<path d="M435.4 450.0L442.0 456.6M442.0 450.0L435.4 456.6" stroke="#ff3333" stroke-width="1"/>
<path d="M439.3 451.2L445.9 457.8M445.9 451.2L439.3 457.8" stroke="#ff3333" stroke-width="1"/>
<path d="M443.2 450.5L449.8 457.1M449.8 450.5L443.2 457.1" stroke="#ff3333" stroke-width="1"/>
<path d="M447.0 450.9L453.6 457.5M453.6 450.9L447.0 457.5" stroke="#ff3333" stroke-width="1"/>
<path d="M450.9 449.1L457.5 455.7M457.5 449.1L450.9 455.7" stroke="#ff3333" stroke-width="1"/>
<path d="M454.8 450.7L461.4 457.3M461.4 450.7L454.8 457.3" stroke="#ff3333" stroke-width="1"/>
<path d="M458.6 450.7L465.2 457.3M465.2 450.7L458.6 457.3" stroke="#ff3333" stroke-width="1"/>
<path d="M462.5 450.3L469.1 456.9M469.1 450.3L462.5 456.9" stroke="#ff3333" stroke-width="1"/>
<path d="M466.4 453.4L473.0 460.0M473.0 453.4L466.4 460.0" stroke="#ff3333" stroke-width="1"/>
<path d="M470.2 452.1L476.8 458.7M476.8 452.1L470.2 458.7" stroke="#ff3333" stroke-width="1"/>
<path d="M474.1 451.1L480.7 457.7M480.7 451.1L474.1 457.7" stroke="#ff3333" stroke-width="1"/>
<path d="M478.0 450.2L484.6 456.8M484.6 450.2L478.0 456.8" stroke="#ff3333" stroke-width="1"/>
<path d="M481.8 451.5L488.4 458.1M488.4 451.5L481.8 458.1" stroke="#ff3333" stroke-width="1"/>
<path d="M485.7 455.0L492.3 461.6M492.3 455.0L485.7 461.6" stroke="#ff3333" stroke-width="1"/>
<path d="M489.6 452.1L496.2 458.7M496.2 452.1L489.6 458.7" stroke="#ff3333" stroke-width="1"/>
<path d="M493.4 449.4L500.0 456.0M500.0 449.4L493.4 456.0" stroke="#ff3333" stroke-width="1"/>
<path d="M506.0 422.7L512.6 429.3M512.6 422.7L506.0 429.3" stroke="#ff3333" stroke-width="1"/>
<path d="M508.9 457.5L515.5 464.1M515.5 457.5L508.9 464.1" stroke="#ff3333" stroke-width="1"/>
<path d="M315.4 452.3H322.4M318.9 448.8V455.8" stroke="#cc33ff" stroke-width="1"/>
<path d="M319.3 452.7H326.3M322.8 449.2V456.2" stroke="#cc33ff" stroke-width="1"/>
<path d="M323.1 453.0H330.1M326.6 449.5V456.5" stroke="#cc33ff" stroke-width="1"/>
<path d="M327.0 452.4H334.0M330.5 448.9V455.9" stroke="#cc33ff" stroke-width="1"/>
<path d="M330.9 453.4H337.9M334.4 449.9V456.9" stroke="#cc33ff" stroke-width="1"/>
<path d="M334.7 451.0H341.7M338.2 447.5V454.5" stroke="#cc33ff" stroke-width="1"/>
<path d="M338.6 451.7H345.6M342.1 448.2V455.2" stroke="#cc33ff" stroke-width="1"/>
<path d="M342.5 453.8H349.5M346.0 450.3V457.3" stroke="#cc33ff" stroke-width="1"/>
<path d="M346.3 453.7H353.3M349.8 450.2V457.2" stroke="#cc33ff" stroke-width="1"/>
<path d="M350.2 453.5H357.2M353.7 450.0V457.0" stroke="#cc33ff" stroke-width="1"/>
<path d="M354.1 451.3H361.1M357.6 447.8V454.8" stroke="#cc33ff" stroke-width="1"/>
<path d="M357.9 453.5H364.9M361.4 450.0V457.0" stroke="#cc33ff" stroke-width="1"/>
<path d="M361.8 453.8H368.8M365.3 450.3V457.3" stroke="#cc33ff" stroke-width="1"/>
<path d="M365.7 454.0H372.7M369.2 450.5V457.5" stroke="#cc33ff" stroke-width="1"/>
<path d="M369.5 453.4H376.5M373.0 449.9V456.9" stroke="#cc33ff" stroke-width="1"/>
<path d="M373.4 452.4H380.4M376.9 448.9V455.9" stroke="#cc33ff" stroke-width="1"/>
<path d="M377.3 452.0H384.3M380.8 448.5V455.5" stroke="#cc33ff" stroke-width="1"/>
<path d="M381.1 450.0H388.1M384.6 446.5V453.5" stroke="#cc33ff" stroke-width="1"/>
<path d="M385.0 452.1H392.0M388.5 448.6V455.6" stroke="#cc33ff" stroke-width="1"/>
<path d="M388.9 452.1H395.9M392.4 448.6V455.6" stroke="#cc33ff" stroke-width="1"/>
<path d="M392.7 452.1H399.7M396.2 448.6V455.6" stroke="#cc33ff" stroke-width="1"/>
<path d="M396.6 451.8H403.6M400.1 448.3V455.3" stroke="#cc33ff" stroke-width="1"/>
<path d="M400.5 452.1H407.5M404.0 448.6V455.6" stroke="#cc33ff" stroke-width="1"/>
<path d="M404.3 454.8H411.3M407.8 451.3V458.3" stroke="#cc33ff" stroke-width="1"/>
<path d="M408.2 453.6H415.2M411.7 450.1V457.1" stroke="#cc33ff" stroke-width="1"/>
<path d="M412.1 453.3H419.1M415.6 449.8V456.8" stroke="#cc33ff" stroke-width="1"/>
<path d="M415.9 452.8H422.9M419.4 449.3V456.3" stroke="#cc33ff" stroke-width="1"/>
<path d="M419.8 454.4H426.8M423.3 450.9V457.9" stroke="#cc33ff" stroke-width="1"/>
<path d="M423.6 454.2H430.6M427.1 450.7V457.7" stroke="#cc33ff" stroke-width="1"/>
<path d="M427.5 452.3H434.5M431.0 448.8V455.8" stroke="#cc33ff" stroke-width="1"/>
<path d="M431.4 454.5H438.4M434.9 451.0V458.0" stroke="#cc33ff" stroke-width="1"/>
<path d="M435.2 451.6H442.2M438.7 448.1V455.1" stroke="#cc33ff" stroke-width="1"/>
<path d="M439.1 450.2H446.1M442.6 446.7V453.7" stroke="#cc33ff" stroke-width="1"/>
<path d="M443.0 452.4H450.0M446.5 448.9V455.9" stroke="#cc33ff" stroke-width="1"/>
<path d="M446.8 451.8H453.8M450.3 448.3V455.3" stroke="#cc33ff" stroke-width="1"/>
<path d="M450.7 451.5H457.7M454.2 448.0V455.0" stroke="#cc33ff" stroke-width="1"/>
<path d="M454.6 451.8H461.6M458.1 448.3V455.3" stroke="#cc33ff" stroke-width="1"/>
<path d="M458.4 450.4H465.4M461.9 446.9V453.9" stroke="#cc33ff" stroke-width="1"/>
<path d="M462.3 450.3H469.3M465.8 446.8V453.8" stroke="#cc33ff" stroke-width="1"/>
<path d="M466.2 451.5H473.2M469.7 448.0V455.0" stroke="#cc33ff" stroke-width="1"/>
<path d="M470.0 449.7H477.0M473.5 446.2V453.2" stroke="#cc33ff" stroke-width="1"/>
<path d="M473.9 451.9H480.9M477.4 448.4V455.4" stroke="#cc33ff" stroke-width="1"/>
<path d="M477.8 452.6H484.8M481.3 449.1V456.1" stroke="#cc33ff" stroke-width="1"/>
<path d="M481.6 453.3H488.6M485.1 449.8V456.8" stroke="#cc33ff" stroke-width="1"/>
<path d="M485.5 450.0H492.5M489.0 446.5V453.5" stroke="#cc33ff" stroke-width="1"/>
<path d="M489.4 454.7H496.4M492.9 451.2V458.2" stroke="#cc33ff" stroke-width="1"/>
<path d="M493.2 455.5H500.2M496.7 452.0V459.0" stroke="#cc33ff" stroke-width="1"/>
<path d="M508.7 389.2H515.7M512.2 385.7V392.7" stroke="#cc33ff" stroke-width="1"/>
<path d="M504.7 412.2H511.7M508.2 408.7V415.7" stroke="#cc33ff" stroke-width="1"/>
<path d="M481.5 441.8H488.5M485.0 438.3V445.3" stroke="#cc33ff" stroke-width="1"/>
<path d="M500.5 461.9H507.5M504.0 458.4V465.4" stroke="#cc33ff" stroke-width="1"/>
<path d="M318.9 453.2L322.4 458.1H315.4Z" fill="none" stroke="#22eeff" stroke-width="1.1" stroke-linejoin="round"/>
<path d="M322.8 450.9L326.3 455.8H319.3Z" fill="none" stroke="#22eeff" stroke-width="1.1" stroke-linejoin="round"/>
<path d="M326.6 451.5L330.1 456.4H323.1Z" fill="none" stroke="#22eeff" stroke-width="1.1" stroke-linejoin="round"/>
<path d="M330.5 450.8L334.0 455.7H327.0Z" fill="none" stroke="#22eeff" stroke-width="1.1" stroke-linejoin="round"/>
<path d="M334.4 452.3L337.9 457.2H330.9Z" fill="none" stroke="#22eeff" stroke-width="1.1" stroke-linejoin="round"/>
<path d="M338.2 452.2L341.7 457.1H334.7Z" fill="none" stroke="#22eeff" stroke-width="1.1" stroke-linejoin="round"/>
<path d="M342.1 451.0L345.6 455.9H338.6Z" fill="none" stroke="#22eeff" stroke-width="1.1" stroke-linejoin="round"/>
<path d="M346.0 450.1L349.5 455.0H342.5Z" fill="none" stroke="#22eeff" stroke-width="1.1" stroke-linejoin="round"/>
<path d="M349.8 452.4L353.3 457.3H346.3Z" fill="none" stroke="#22eeff" stroke-width="1.1" stroke-linejoin="round"/>
<path d="M353.7 451.8L357.2 456.7H350.2Z" fill="none" stroke="#22eeff" stroke-width="1.1" stroke-linejoin="round"/>
<path d="M357.6 449.6L361.1 454.5H354.1Z" fill="none" stroke="#22eeff" stroke-width="1.1" stroke-linejoin="round"/>
<path d="M361.4 451.8L364.9 456.7H357.9Z" fill="none" stroke="#22eeff" stroke-width="1.1" stroke-linejoin="round"/>
<path d="M365.3 449.8L368.8 454.7H361.8Z" fill="none" stroke="#22eeff" stroke-width="1.1" stroke-linejoin="round"/>
<path d="M369.2 450.3L372.7 455.2H365.7Z" fill="none" stroke="#22eeff" stroke-width="1.1" stroke-linejoin="round"/>
<path d="M373.0 450.9L376.5 455.8H369.5Z" fill="none" stroke="#22eeff" stroke-width="1.1" stroke-linejoin="round"/>
<path d="M376.9 454.6L380.4 459.5H373.4Z" fill="none" stroke="#22eeff" stroke-width="1.1" stroke-linejoin="round"/>
<path d="M380.8 451.2L384.3 456.1H377.3Z" fill="none" stroke="#22eeff" stroke-width="1.1" stroke-linejoin="round"/>
<path d="M384.6 451.0L388.1 455.9H381.1Z" fill="none" stroke="#22eeff" stroke-width="1.1" stroke-linejoin="round"/>
<path d="M388.5 453.2L392.0 458.1H385.0Z" fill="none" stroke="#22eeff" stroke-width="1.1" stroke-linejoin="round"/>
<path d="M392.4 451.5L395.9 456.4H388.9Z" fill="none" stroke="#22eeff" stroke-width="1.1" stroke-linejoin="round"/>
<path d="M396.2 452.5L399.7 457.4H392.7Z" fill="none" stroke="#22eeff" stroke-width="1.1" stroke-linejoin="round"/>
<path d="M400.1 451.4L403.6 456.3H396.6Z" fill="none" stroke="#22eeff" stroke-width="1.1" stroke-linejoin="round"/>
<path d="M404.0 450.5L407.5 455.4H400.5Z" fill="none" stroke="#22eeff" stroke-width="1.1" stroke-linejoin="round"/>
<path d="M407.8 451.8L411.3 456.7H404.3Z" fill="none" stroke="#22eeff" stroke-width="1.1" stroke-linejoin="round"/>
<path d="M411.7 449.2L415.2 454.1H408.2Z" fill="none" stroke="#22eeff" stroke-width="1.1" stroke-linejoin="round"/>
<path d="M415.6 451.7L419.1 456.6H412.1Z" fill="none" stroke="#22eeff" stroke-width="1.1" stroke-linejoin="round"/>
<path d="M419.4 451.0L422.9 455.9H415.9Z" fill="none" stroke="#22eeff" stroke-width="1.1" stroke-linejoin="round"/>
<path d="M423.3 452.2L426.8 457.1H419.8Z" fill="none" stroke="#22eeff" stroke-width="1.1" stroke-linejoin="round"/>
<path d="M427.1 453.4L430.6 458.3H423.6Z" fill="none" stroke="#22eeff" stroke-width="1.1" stroke-linejoin="round"/>
<path d="M431.0 450.0L434.5 454.9H427.5Z" fill="none" stroke="#22eeff" stroke-width="1.1" stroke-linejoin="round"/>
<path d="M434.9 451.4L438.4 456.3H431.4Z" fill="none" stroke="#22eeff" stroke-width="1.1" stroke-linejoin="round"/>
<path d="M438.7 450.5L442.2 455.4H435.2Z" fill="none" stroke="#22eeff" stroke-width="1.1" stroke-linejoin="round"/>
<path d="M442.6 448.7L446.1 453.6H439.1Z" fill="none" stroke="#22eeff" stroke-width="1.1" stroke-linejoin="round"/>
<path d="M446.5 450.6L450.0 455.5H443.0Z" fill="none" stroke="#22eeff" stroke-width="1.1" stroke-linejoin="round"/>
<path d="M450.3 451.8L453.8 456.7H446.8Z" fill="none" stroke="#22eeff" stroke-width="1.1" stroke-linejoin="round"/>
<path d="M454.2 451.3L457.7 456.2H450.7Z" fill="none" stroke="#22eeff" stroke-width="1.1" stroke-linejoin="round"/>
<path d="M458.1 450.5L461.6 455.4H454.6Z" fill="none" stroke="#22eeff" stroke-width="1.1" stroke-linejoin="round"/>
<path d="M461.9 453.5L465.4 458.4H458.4Z" fill="none" stroke="#22eeff" stroke-width="1.1" stroke-linejoin="round"/>
<path d="M465.8 450.2L469.3 455.1H462.3Z" fill="none" stroke="#22eeff" stroke-width="1.1" stroke-linejoin="round"/>
<path d="M469.7 451.6L473.2 456.5H466.2Z" fill="none" stroke="#22eeff" stroke-width="1.1" stroke-linejoin="round"/>
<path d="M473.5 449.4L477.0 454.3H470.0Z" fill="none" stroke="#22eeff" stroke-width="1.1" stroke-linejoin="round"/>
<path d="M477.4 448.1L480.9 453.0H473.9Z" fill="none" stroke="#22eeff" stroke-width="1.1" stroke-linejoin="round"/>
<path d="M481.3 450.8L484.8 455.7H477.8Z" fill="none" stroke="#22eeff" stroke-width="1.1" stroke-linejoin="round"/>
<path d="M485.1 453.4L488.6 458.3H481.6Z" fill="none" stroke="#22eeff" stroke-width="1.1" stroke-linejoin="round"/>
<path d="M489.0 452.1L492.5 457.0H485.5Z" fill="none" stroke="#22eeff" stroke-width="1.1" stroke-linejoin="round"/>
<path d="M492.9 453.5L496.4 458.4H489.4Z" fill="none" stroke="#22eeff" stroke-width="1.1" stroke-linejoin="round"/>
<path d="M496.7 451.0L500.2 455.9H493.2Z" fill="none" stroke="#22eeff" stroke-width="1.1" stroke-linejoin="round"/>
<path d="M508.2 442.2L511.7 447.1H504.7Z" fill="none" stroke="#22eeff" stroke-width="1.1" stroke-linejoin="round"/>
<path d="M512.0 443.2L515.5 448.1H508.5Z" fill="none" stroke="#22eeff" stroke-width="1.1" stroke-linejoin="round"/>
<circle cx="318.9" cy="450.8" r="3.4" fill="#8b6914"/>
<circle cx="322.8" cy="453.3" r="3.4" fill="#8b6914"/>
<circle cx="326.6" cy="453.6" r="3.4" fill="#8b6914"/>
<circle cx="330.5" cy="451.9" r="3.4" fill="#8b6914"/>
<circle cx="334.4" cy="454.1" r="3.4" fill="#8b6914"/>
<circle cx="338.2" cy="451.8" r="3.4" fill="#8b6914"/>
<circle cx="342.1" cy="453.8" r="3.4" fill="#8b6914"/>
<circle cx="346.0" cy="451.9" r="3.4" fill="#8b6914"/>
<circle cx="349.8" cy="453.8" r="3.4" fill="#8b6914"/>
<circle cx="353.7" cy="452.2" r="3.4" fill="#8b6914"/>
<circle cx="357.6" cy="452.3" r="3.4" fill="#8b6914"/>
<circle cx="361.4" cy="452.2" r="3.4" fill="#8b6914"/>
<circle cx="365.3" cy="451.4" r="3.4" fill="#8b6914"/>
<circle cx="369.2" cy="453.5" r="3.4" fill="#8b6914"/>
<circle cx="373.0" cy="452.3" r="3.4" fill="#8b6914"/>
<circle cx="376.9" cy="452.8" r="3.4" fill="#8b6914"/>
<circle cx="380.8" cy="453.0" r="3.4" fill="#8b6914"/>
<circle cx="384.6" cy="452.3" r="3.4" fill="#8b6914"/>
<circle cx="388.5" cy="453.3" r="3.4" fill="#8b6914"/>
<circle cx="392.4" cy="452.2" r="3.4" fill="#8b6914"/>
<circle cx="396.2" cy="454.2" r="3.4" fill="#8b6914"/>
<circle cx="400.1" cy="453.3" r="3.4" fill="#8b6914"/>
<circle cx="404.0" cy="451.8" r="3.4" fill="#8b6914"/>
<circle cx="407.8" cy="453.6" r="3.4" fill="#8b6914"/>
<circle cx="411.7" cy="451.8" r="3.4" fill="#8b6914"/>
<circle cx="415.6" cy="452.0" r="3.4" fill="#8b6914"/>
<circle cx="419.4" cy="452.6" r="3.4" fill="#8b6914"/>
<circle cx="423.3" cy="452.0" r="3.4" fill="#8b6914"/>
<circle cx="427.1" cy="451.9" r="3.4" fill="#8b6914"/>
<circle cx="431.0" cy="452.5" r="3.4" fill="#8b6914"/>
<circle cx="434.9" cy="452.8" r="3.4" fill="#8b6914"/>
<circle cx="438.7" cy="451.5" r="3.4" fill="#8b6914"/>
<circle cx="442.6" cy="452.4" r="3.4" fill="#8b6914"/>
<circle cx="446.5" cy="454.1" r="3.4" fill="#8b6914"/>
<circle cx="450.3" cy="451.4" r="3.4" fill="#8b6914"/>
<circle cx="454.2" cy="451.7" r="3.4" fill="#8b6914"/>
<circle cx="458.1" cy="452.7" r="3.4" fill="#8b6914"/>
<circle cx="461.9" cy="452.2" r="3.4" fill="#8b6914"/>
<circle cx="465.8" cy="453.8" r="3.4" fill="#8b6914"/>
<circle cx="469.7" cy="451.6" r="3.4" fill="#8b6914"/>
<circle cx="473.5" cy="453.2" r="3.4" fill="#8b6914"/>
<circle cx="477.4" cy="450.6" r="3.4" fill="#8b6914"/>
<circle cx="481.3" cy="453.3" r="3.4" fill="#8b6914"/>
<circle cx="485.1" cy="451.6" r="3.4" fill="#8b6914"/>
<circle cx="489.0" cy="452.2" r="3.4" fill="#8b6914"/>
<circle cx="492.9" cy="449.1" r="3.4" fill="#8b6914"/>
<circle cx="496.7" cy="454.7" r="3.4" fill="#8b6914"/>
<circle cx="508.2" cy="429.1" r="3.4" fill="#8b6914"/>
<circle cx="500.8" cy="442.9" r="3.4" fill="#8b6914"/>
<circle cx="493.4" cy="446.0" r="3.4" fill="#8b6914"/>
<circle cx="504.0" cy="450.3" r="3.4" fill="#8b6914"/>
<circle cx="512.2" cy="499.4" r="3.4" fill="#8b6914"/>
<circle cx="478.6" cy="446.0" r="3.4" fill="#8b6914"/>
<rect x="315.3" y="447.5" width="7.1" height="7.1" fill="#ff6a13"/>
<rect x="319.2" y="447.8" width="7.1" height="7.1" fill="#ff6a13"/>
<rect x="323.1" y="445.9" width="7.1" height="7.1" fill="#ff6a13"/>
<rect x="326.9" y="448.1" width="7.1" height="7.1" fill="#ff6a13"/>
<rect x="330.8" y="450.1" width="7.1" height="7.1" fill="#ff6a13"/>
<rect x="334.7" y="448.8" width="7.1" height="7.1" fill="#ff6a13"/>
<rect x="338.5" y="447.4" width="7.1" height="7.1" fill="#ff6a13"/>
<rect x="342.4" y="447.0" width="7.1" height="7.1" fill="#ff6a13"/>
<rect x="346.3" y="449.8" width="7.1" height="7.1" fill="#ff6a13"/>
<rect x="350.1" y="448.0" width="7.1" height="7.1" fill="#ff6a13"/>
<rect x="354.0" y="448.2" width="7.1" height="7.1" fill="#ff6a13"/>
<rect x="357.9" y="446.6" width="7.1" height="7.1" fill="#ff6a13"/>
<rect x="361.7" y="446.4" width="7.1" height="7.1" fill="#ff6a13"/>
<rect x="365.6" y="449.7" width="7.1" height="7.1" fill="#ff6a13"/>
<rect x="369.5" y="447.0" width="7.1" height="7.1" fill="#ff6a13"/>
<rect x="373.3" y="450.0" width="7.1" height="7.1" fill="#ff6a13"/>
<rect x="377.2" y="450.0" width="7.1" height="7.1" fill="#ff6a13"/>
<rect x="381.1" y="449.5" width="7.1" height="7.1" fill="#ff6a13"/>
<rect x="384.9" y="450.3" width="7.1" height="7.1" fill="#ff6a13"/>
<rect x="388.8" y="447.9" width="7.1" height="7.1" fill="#ff6a13"/>
<rect x="392.7" y="447.7" width="7.1" height="7.1" fill="#ff6a13"/>
<rect x="396.5" y="449.2" width="7.1" height="7.1" fill="#ff6a13"/>
<rect x="400.4" y="447.8" width="7.1" height="7.1" fill="#ff6a13"/>
<rect x="404.3" y="448.0" width="7.1" height="7.1" fill="#ff6a13"/>
<rect x="408.1" y="448.8" width="7.1" height="7.1" fill="#ff6a13"/>
<rect x="412.0" y="449.5" width="7.1" height="7.1" fill="#ff6a13"/>
<rect x="415.9" y="448.8" width="7.1" height="7.1" fill="#ff6a13"/>
<rect x="419.7" y="448.3" width="7.1" height="7.1" fill="#ff6a13"/>
<rect x="423.6" y="451.0" width="7.1" height="7.1" fill="#ff6a13"/>
<rect x="427.5" y="447.5" width="7.1" height="7.1" fill="#ff6a13"/>
<rect x="431.3" y="447.1" width="7.1" height="7.1" fill="#ff6a13"/>
<rect x="435.2" y="449.4" width="7.1" height="7.1" fill="#ff6a13"/>
<rect x="439.1" y="447.0" width="7.1" height="7.1" fill="#ff6a13"/>
<rect x="442.9" y="450.8" width="7.1" height="7.1" fill="#ff6a13"/>
<rect x="446.8" y="448.4" width="7.1" height="7.1" fill="#ff6a13"/>
<rect x="450.7" y="447.8" width="7.1" height="7.1" fill="#ff6a13"/>
<rect x="454.5" y="448.2" width="7.1" height="7.1" fill="#ff6a13"/>
<rect x="458.4" y="448.7" width="7.1" height="7.1" fill="#ff6a13"/>
<rect x="462.3" y="446.7" width="7.1" height="7.1" fill="#ff6a13"/>
<rect x="466.1" y="447.8" width="7.1" height="7.1" fill="#ff6a13"/>
<rect x="470.0" y="446.9" width="7.1" height="7.1" fill="#ff6a13"/>
<rect x="473.9" y="446.6" width="7.1" height="7.1" fill="#ff6a13"/>
<rect x="477.7" y="445.6" width="7.1" height="7.1" fill="#ff6a13"/>
<rect x="481.6" y="447.6" width="7.1" height="7.1" fill="#ff6a13"/>
<rect x="485.5" y="452.1" width="7.1" height="7.1" fill="#ff6a13"/>
<rect x="489.3" y="446.4" width="7.1" height="7.1" fill="#ff6a13"/>
<rect x="493.2" y="438.7" width="7.1" height="7.1" fill="#ff6a13"/>
<rect x="508.7" y="357.1" width="7.1" height="7.1" fill="#ff6a13"/>
<rect x="500.8" y="378.2" width="7.1" height="7.1" fill="#ff6a13"/>
<rect x="504.6" y="392.1" width="7.1" height="7.1" fill="#ff6a13"/>
<rect x="497.2" y="408.6" width="7.1" height="7.1" fill="#ff6a13"/>
<rect x="489.8" y="436.1" width="7.1" height="7.1" fill="#ff6a13"/>
<rect x="493.1" y="430.8" width="7.1" height="7.1" fill="#ff6a13"/>
<rect x="481.4" y="445.6" width="7.1" height="7.1" fill="#ff6a13"/>
<rect x="487.8" y="436.1" width="7.1" height="7.1" fill="#ff6a13"/>
<path d="M318.9 449.2L322.7 453.0L318.9 456.8L315.1 453.0Z" fill="#12aef0"/>
<path d="M322.8 449.8L326.6 453.6L322.8 457.4L319.0 453.6Z" fill="#12aef0"/>
<path d="M326.6 450.2L330.4 454.0L326.6 457.8L322.8 454.0Z" fill="#12aef0"/>
<path d="M330.5 450.3L334.3 454.1L330.5 457.9L326.7 454.1Z" fill="#12aef0"/>
<path d="M334.4 449.5L338.2 453.3L334.4 457.1L330.6 453.3Z" fill="#12aef0"/>
<path d="M338.2 451.0L342.0 454.8L338.2 458.6L334.4 454.8Z" fill="#12aef0"/>
<path d="M342.1 448.9L345.9 452.7L342.1 456.5L338.3 452.7Z" fill="#12aef0"/>
<path d="M346.0 449.8L349.8 453.6L346.0 457.4L342.2 453.6Z" fill="#12aef0"/>
<path d="M349.8 450.0L353.6 453.8L349.8 457.6L346.0 453.8Z" fill="#12aef0"/>
<path d="M353.7 450.0L357.5 453.8L353.7 457.6L349.9 453.8Z" fill="#12aef0"/>
<path d="M357.6 449.7L361.4 453.5L357.6 457.3L353.8 453.5Z" fill="#12aef0"/>
<path d="M361.4 449.6L365.2 453.4L361.4 457.2L357.6 453.4Z" fill="#12aef0"/>
<path d="M365.3 449.8L369.1 453.6L365.3 457.4L361.5 453.6Z" fill="#12aef0"/>
<path d="M369.2 449.1L373.0 452.9L369.2 456.7L365.4 452.9Z" fill="#12aef0"/>
<path d="M373.0 450.9L376.8 454.7L373.0 458.5L369.2 454.7Z" fill="#12aef0"/>
<path d="M376.9 449.0L380.7 452.8L376.9 456.6L373.1 452.8Z" fill="#12aef0"/>
<path d="M380.8 449.4L384.6 453.2L380.8 457.0L377.0 453.2Z" fill="#12aef0"/>
<path d="M384.6 449.3L388.4 453.1L384.6 456.9L380.8 453.1Z" fill="#12aef0"/>
<path d="M388.5 449.2L392.3 453.0L388.5 456.8L384.7 453.0Z" fill="#12aef0"/>
<path d="M392.4 449.4L396.2 453.2L392.4 457.0L388.6 453.2Z" fill="#12aef0"/>
<path d="M396.2 450.1L400.0 453.9L396.2 457.7L392.4 453.9Z" fill="#12aef0"/>
<path d="M400.1 451.4L403.9 455.2L400.1 459.0L396.3 455.2Z" fill="#12aef0"/>
<path d="M404.0 450.4L407.8 454.2L404.0 458.0L400.2 454.2Z" fill="#12aef0"/>
<path d="M407.8 448.7L411.6 452.5L407.8 456.3L404.0 452.5Z" fill="#12aef0"/>
<path d="M411.7 449.1L415.5 452.9L411.7 456.7L407.9 452.9Z" fill="#12aef0"/>
<path d="M415.6 446.5L419.4 450.3L415.6 454.1L411.8 450.3Z" fill="#12aef0"/>
<path d="M419.4 449.3L423.2 453.1L419.4 456.9L415.6 453.1Z" fill="#12aef0"/>
<path d="M423.3 450.3L427.1 454.1L423.3 457.9L419.5 454.1Z" fill="#12aef0"/>
<path d="M427.1 451.1L430.9 454.9L427.1 458.7L423.3 454.9Z" fill="#12aef0"/>
<path d="M431.0 448.5L434.8 452.3L431.0 456.1L427.2 452.3Z" fill="#12aef0"/>
<path d="M434.9 448.6L438.7 452.4L434.9 456.2L431.1 452.4Z" fill="#12aef0"/>
<path d="M438.7 448.6L442.5 452.4L438.7 456.2L434.9 452.4Z" fill="#12aef0"/>
<path d="M442.6 447.8L446.4 451.6L442.6 455.4L438.8 451.6Z" fill="#12aef0"/>
<path d="M446.5 448.7L450.3 452.5L446.5 456.3L442.7 452.5Z" fill="#12aef0"/>
<path d="M450.3 449.1L454.1 452.9L450.3 456.7L446.5 452.9Z" fill="#12aef0"/>
<path d="M454.2 449.5L458.0 453.3L454.2 457.1L450.4 453.3Z" fill="#12aef0"/>
<path d="M458.1 451.7L461.9 455.5L458.1 459.3L454.3 455.5Z" fill="#12aef0"/>
<path d="M461.9 450.5L465.7 454.3L461.9 458.1L458.1 454.3Z" fill="#12aef0"/>
<path d="M465.8 450.8L469.6 454.6L465.8 458.4L462.0 454.6Z" fill="#12aef0"/>
<path d="M469.7 447.5L473.5 451.3L469.7 455.1L465.9 451.3Z" fill="#12aef0"/>
<path d="M473.5 450.2L477.3 454.0L473.5 457.8L469.7 454.0Z" fill="#12aef0"/>
<path d="M477.4 453.1L481.2 456.9L477.4 460.7L473.6 456.9Z" fill="#12aef0"/>
<path d="M481.3 450.3L485.1 454.1L481.3 457.9L477.5 454.1Z" fill="#12aef0"/>
<path d="M485.1 449.0L488.9 452.8L485.1 456.6L481.3 452.8Z" fill="#12aef0"/>
<path d="M489.0 456.1L492.8 459.9L489.0 463.7L485.2 459.9Z" fill="#12aef0"/>
<path d="M492.9 447.2L496.7 451.0L492.9 454.8L489.1 451.0Z" fill="#12aef0"/>
<path d="M496.7 451.3L500.5 455.1L496.7 458.9L492.9 455.1Z" fill="#12aef0"/>
<path d="M500.8 431.7L504.6 435.5L500.8 439.3L497.0 435.5Z" fill="#12aef0"/>
<path d="M493.4 441.2L497.2 445.0L493.4 448.8L489.6 445.0Z" fill="#12aef0"/>
<path d="M511.4 447.5L515.2 451.3L511.4 455.1L507.6 451.3Z" fill="#12aef0"/>
<path d="M496.6 458.1L500.4 461.9L496.6 465.7L492.8 461.9Z" fill="#12aef0"/>
<path d="M508.2 461.2L512.0 465.0L508.2 468.8L504.4 465.0Z" fill="#12aef0"/>
<path d="M504.0 484.5L507.8 488.3L504.0 492.1L500.2 488.3Z" fill="#12aef0"/>
<path d="M442.7 456.0L446.5 459.8L442.7 463.6L438.9 459.8Z" fill="#12aef0"/>
<path d="M468.0 453.9L471.8 457.7L468.0 461.5L464.2 457.7Z" fill="#12aef0"/>
<path d="M483.9 460.2L487.7 464.0L483.9 467.8L480.1 464.0Z" fill="#12aef0"/>
<path d="M318.9 452.2L322.5 458.7H315.3Z" fill="#555555"/>
<path d="M322.8 452.8L326.4 459.3H319.2Z" fill="#555555"/>
<path d="M326.6 454.4L330.2 460.9H323.0Z" fill="#555555"/>
<path d="M330.5 451.5L334.1 458.0H326.9Z" fill="#555555"/>
<path d="M334.4 454.1L338.0 460.6H330.8Z" fill="#555555"/>
<path d="M338.2 452.0L341.8 458.5H334.6Z" fill="#555555"/>
<path d="M342.1 451.2L345.7 457.7H338.5Z" fill="#555555"/>
<path d="M346.0 453.3L349.6 459.7H342.4Z" fill="#555555"/>
<path d="M349.8 451.2L353.4 457.7H346.2Z" fill="#555555"/>
<path d="M353.7 454.5L357.3 461.0H350.1Z" fill="#555555"/>
<path d="M357.6 449.6L361.2 456.1H354.0Z" fill="#555555"/>
<path d="M361.4 450.8L365.0 457.3H357.8Z" fill="#555555"/>
<path d="M365.3 448.8L368.9 455.2H361.7Z" fill="#555555"/>
<path d="M369.2 450.6L372.8 457.1H365.6Z" fill="#555555"/>
<path d="M373.0 453.2L376.6 459.7H369.4Z" fill="#555555"/>
<path d="M376.9 453.2L380.5 459.6H373.3Z" fill="#555555"/>
<path d="M380.8 453.7L384.4 460.1H377.2Z" fill="#555555"/>
<path d="M384.6 452.5L388.2 459.0H381.0Z" fill="#555555"/>
<path d="M388.5 452.5L392.1 459.0H384.9Z" fill="#555555"/>
<path d="M392.4 451.5L396.0 458.0H388.8Z" fill="#555555"/>
<path d="M396.2 452.8L399.8 459.3H392.6Z" fill="#555555"/>
<path d="M400.1 452.6L403.7 459.1H396.5Z" fill="#555555"/>
<path d="M404.0 452.9L407.6 459.3H400.4Z" fill="#555555"/>
<path d="M407.8 454.0L411.4 460.4H404.2Z" fill="#555555"/>
<path d="M411.7 454.0L415.3 460.5H408.1Z" fill="#555555"/>
<path d="M415.6 453.6L419.2 460.1H411.9Z" fill="#555555"/>
<path d="M419.4 454.0L423.0 460.5H415.8Z" fill="#555555"/>
<path d="M423.3 451.0L426.9 457.4H419.7Z" fill="#555555"/>
<path d="M427.1 451.5L430.7 458.0H423.5Z" fill="#555555"/>
<path d="M431.0 450.2L434.6 456.7H427.4Z" fill="#555555"/>
<path d="M434.9 452.8L438.5 459.3H431.3Z" fill="#555555"/>
<path d="M438.7 453.1L442.3 459.6H435.1Z" fill="#555555"/>
<path d="M442.6 451.5L446.2 458.0H439.0Z" fill="#555555"/>
<path d="M446.5 453.9L450.1 460.4H442.9Z" fill="#555555"/>
<path d="M450.3 451.8L453.9 458.3H446.7Z" fill="#555555"/>
<path d="M454.2 454.4L457.8 460.9H450.6Z" fill="#555555"/>
<path d="M458.1 455.1L461.7 461.6H454.5Z" fill="#555555"/>
<path d="M461.9 451.2L465.5 457.7H458.3Z" fill="#555555"/>
<path d="M465.8 453.1L469.4 459.6H462.2Z" fill="#555555"/>
<path d="M469.7 452.4L473.3 458.9H466.1Z" fill="#555555"/>
<path d="M473.5 454.8L477.1 461.2H469.9Z" fill="#555555"/>
<path d="M477.4 451.5L481.0 458.0H473.8Z" fill="#555555"/>
<path d="M481.3 455.2L484.9 461.7H477.7Z" fill="#555555"/>
<path d="M485.1 454.9L488.7 461.4H481.5Z" fill="#555555"/>
<path d="M489.0 458.4L492.6 464.9H485.4Z" fill="#555555"/>
<path d="M492.9 456.1L496.5 462.6H489.3Z" fill="#555555"/>
<path d="M496.7 458.5L500.3 465.0H493.1Z" fill="#555555"/>
<path d="M504.4 306.5L508.0 313.0H500.8Z" fill="#555555"/>
<path d="M512.2 335.0L515.8 341.5H508.6Z" fill="#555555"/>
<path d="M508.1 344.2L511.7 350.7H504.5Z" fill="#555555"/>
<path d="M492.4 466.7L496.0 473.2H488.8Z" fill="#555555"/>
<path d="M496.6 467.8L500.2 474.3H493.0Z" fill="#555555"/>
<path d="M500.8 465.7L504.4 472.2H497.2Z" fill="#555555"/>
<path d="M434.2 457.2L437.8 463.7H430.6Z" fill="#555555"/>
<path d="M451.1 456.2L454.7 462.7H447.5Z" fill="#555555"/>
<path d="M472.3 455.1L475.9 461.6H468.7Z" fill="#555555"/>
<path d="M477.6 459.3L481.2 465.8H474.0Z" fill="#555555"/>
<circle cx="578.9" cy="453.0" r="3.0" fill="none" stroke="#3a3a3a" stroke-width="1"/>
<circle cx="582.8" cy="455.7" r="3.0" fill="none" stroke="#3a3a3a" stroke-width="1"/>
<circle cx="586.6" cy="455.4" r="3.0" fill="none" stroke="#3a3a3a" stroke-width="1"/>
<circle cx="590.5" cy="452.9" r="3.0" fill="none" stroke="#3a3a3a" stroke-width="1"/>
<circle cx="594.4" cy="453.6" r="3.0" fill="none" stroke="#3a3a3a" stroke-width="1"/>
<circle cx="598.2" cy="453.6" r="3.0" fill="none" stroke="#3a3a3a" stroke-width="1"/>
<circle cx="602.1" cy="452.2" r="3.0" fill="none" stroke="#3a3a3a" stroke-width="1"/>
<circle cx="606.0" cy="454.5" r="3.0" fill="none" stroke="#3a3a3a" stroke-width="1"/>
<circle cx="609.9" cy="453.8" r="3.0" fill="none" stroke="#3a3a3a" stroke-width="1"/>
<circle cx="613.7" cy="452.2" r="3.0" fill="none" stroke="#3a3a3a" stroke-width="1"/>
<circle cx="617.6" cy="454.6" r="3.0" fill="none" stroke="#3a3a3a" stroke-width="1"/>
<circle cx="621.5" cy="453.6" r="3.0" fill="none" stroke="#3a3a3a" stroke-width="1"/>
<circle cx="625.3" cy="454.8" r="3.0" fill="none" stroke="#3a3a3a" stroke-width="1"/>
<circle cx="629.2" cy="455.0" r="3.0" fill="none" stroke="#3a3a3a" stroke-width="1"/>
<circle cx="633.1" cy="453.1" r="3.0" fill="none" stroke="#3a3a3a" stroke-width="1"/>
<circle cx="636.9" cy="453.3" r="3.0" fill="none" stroke="#3a3a3a" stroke-width="1"/>
<circle cx="640.8" cy="453.5" r="3.0" fill="none" stroke="#3a3a3a" stroke-width="1"/>
<circle cx="644.7" cy="453.4" r="3.0" fill="none" stroke="#3a3a3a" stroke-width="1"/>
<circle cx="648.6" cy="454.0" r="3.0" fill="none" stroke="#3a3a3a" stroke-width="1"/>
<circle cx="652.4" cy="452.8" r="3.0" fill="none" stroke="#3a3a3a" stroke-width="1"/>
<circle cx="656.3" cy="452.0" r="3.0" fill="none" stroke="#3a3a3a" stroke-width="1"/>
<circle cx="660.2" cy="455.3" r="3.0" fill="none" stroke="#3a3a3a" stroke-width="1"/>
<circle cx="664.0" cy="453.4" r="3.0" fill="none" stroke="#3a3a3a" stroke-width="1"/>
<circle cx="667.9" cy="453.5" r="3.0" fill="none" stroke="#3a3a3a" stroke-width="1"/>
<circle cx="671.8" cy="451.6" r="3.0" fill="none" stroke="#3a3a3a" stroke-width="1"/>
<circle cx="675.6" cy="454.1" r="3.0" fill="none" stroke="#3a3a3a" stroke-width="1"/>
<circle cx="679.5" cy="454.6" r="3.0" fill="none" stroke="#3a3a3a" stroke-width="1"/>
<circle cx="683.4" cy="452.8" r="3.0" fill="none" stroke="#3a3a3a" stroke-width="1"/>
<circle cx="687.3" cy="454.1" r="3.0" fill="none" stroke="#3a3a3a" stroke-width="1"/>
<circle cx="691.1" cy="454.3" r="3.0" fill="none" stroke="#3a3a3a" stroke-width="1"/>
<circle cx="695.0" cy="454.7" r="3.0" fill="none" stroke="#3a3a3a" stroke-width="1"/>
<circle cx="698.9" cy="454.8" r="3.0" fill="none" stroke="#3a3a3a" stroke-width="1"/>
<circle cx="702.7" cy="453.7" r="3.0" fill="none" stroke="#3a3a3a" stroke-width="1"/>
<circle cx="706.6" cy="455.3" r="3.0" fill="none" stroke="#3a3a3a" stroke-width="1"/>
<circle cx="710.5" cy="455.2" r="3.0" fill="none" stroke="#3a3a3a" stroke-width="1"/>
<circle cx="714.3" cy="454.4" r="3.0" fill="none" stroke="#3a3a3a" stroke-width="1"/>
<circle cx="718.2" cy="454.4" r="3.0" fill="none" stroke="#3a3a3a" stroke-width="1"/>
<circle cx="722.1" cy="452.6" r="3.0" fill="none" stroke="#3a3a3a" stroke-width="1"/>
<circle cx="726.0" cy="453.6" r="3.0" fill="none" stroke="#3a3a3a" stroke-width="1"/>
<circle cx="729.8" cy="454.4" r="3.0" fill="none" stroke="#3a3a3a" stroke-width="1"/>
<circle cx="733.7" cy="454.6" r="3.0" fill="none" stroke="#3a3a3a" stroke-width="1"/>
<circle cx="737.6" cy="455.5" r="3.0" fill="none" stroke="#3a3a3a" stroke-width="1"/>
<circle cx="741.4" cy="451.9" r="3.0" fill="none" stroke="#3a3a3a" stroke-width="1"/>
<circle cx="745.3" cy="453.3" r="3.0" fill="none" stroke="#3a3a3a" stroke-width="1"/>
<circle cx="749.2" cy="450.3" r="3.0" fill="none" stroke="#3a3a3a" stroke-width="1"/>
<circle cx="753.0" cy="456.3" r="3.0" fill="none" stroke="#3a3a3a" stroke-width="1"/>
<circle cx="756.9" cy="455.6" r="3.0" fill="none" stroke="#3a3a3a" stroke-width="1"/>
<circle cx="772.4" cy="339.5" r="3.0" fill="none" stroke="#3a3a3a" stroke-width="1"/>
<circle cx="752.9" cy="443.9" r="3.0" fill="none" stroke="#3a3a3a" stroke-width="1"/>
<circle cx="765.6" cy="451.3" r="3.0" fill="none" stroke="#3a3a3a" stroke-width="1"/>
<circle cx="767.7" cy="460.8" r="3.0" fill="none" stroke="#3a3a3a" stroke-width="1"/>
<circle cx="745.0" cy="448.0" r="3.0" fill="none" stroke="#3a3a3a" stroke-width="1"/>
<rect x="575.5" y="448.1" width="6.8" height="6.8" fill="none" stroke="#3333ff" stroke-width="1"/>
<rect x="579.4" y="446.7" width="6.8" height="6.8" fill="none" stroke="#3333ff" stroke-width="1"/>
<rect x="583.2" y="448.2" width="6.8" height="6.8" fill="none" stroke="#3333ff" stroke-width="1"/>
<rect x="587.1" y="449.8" width="6.8" height="6.8" fill="none" stroke="#3333ff" stroke-width="1"/>
<rect x="591.0" y="448.8" width="6.8" height="6.8" fill="none" stroke="#3333ff" stroke-width="1"/>
<rect x="594.9" y="447.5" width="6.8" height="6.8" fill="none" stroke="#3333ff" stroke-width="1"/>
<rect x="598.7" y="447.7" width="6.8" height="6.8" fill="none" stroke="#3333ff" stroke-width="1"/>
<rect x="602.6" y="449.6" width="6.8" height="6.8" fill="none" stroke="#3333ff" stroke-width="1"/>
<rect x="606.5" y="446.9" width="6.8" height="6.8" fill="none" stroke="#3333ff" stroke-width="1"/>
<rect x="610.3" y="449.4" width="6.8" height="6.8" fill="none" stroke="#3333ff" stroke-width="1"/>
<rect x="614.2" y="448.4" width="6.8" height="6.8" fill="none" stroke="#3333ff" stroke-width="1"/>
<rect x="618.1" y="448.9" width="6.8" height="6.8" fill="none" stroke="#3333ff" stroke-width="1"/>
<rect x="621.9" y="448.2" width="6.8" height="6.8" fill="none" stroke="#3333ff" stroke-width="1"/>
<rect x="625.8" y="447.8" width="6.8" height="6.8" fill="none" stroke="#3333ff" stroke-width="1"/>
<rect x="629.7" y="447.8" width="6.8" height="6.8" fill="none" stroke="#3333ff" stroke-width="1"/>
<rect x="633.5" y="450.0" width="6.8" height="6.8" fill="none" stroke="#3333ff" stroke-width="1"/>
<rect x="637.4" y="449.0" width="6.8" height="6.8" fill="none" stroke="#3333ff" stroke-width="1"/>
<rect x="641.3" y="447.9" width="6.8" height="6.8" fill="none" stroke="#3333ff" stroke-width="1"/>
<rect x="645.2" y="449.2" width="6.8" height="6.8" fill="none" stroke="#3333ff" stroke-width="1"/>
<rect x="649.0" y="447.3" width="6.8" height="6.8" fill="none" stroke="#3333ff" stroke-width="1"/>
<rect x="652.9" y="449.0" width="6.8" height="6.8" fill="none" stroke="#3333ff" stroke-width="1"/>
<rect x="656.8" y="448.8" width="6.8" height="6.8" fill="none" stroke="#3333ff" stroke-width="1"/>
<rect x="660.6" y="447.4" width="6.8" height="6.8" fill="none" stroke="#3333ff" stroke-width="1"/>
<rect x="664.5" y="446.0" width="6.8" height="6.8" fill="none" stroke="#3333ff" stroke-width="1"/>
<rect x="668.4" y="449.1" width="6.8" height="6.8" fill="none" stroke="#3333ff" stroke-width="1"/>
<rect x="672.2" y="447.8" width="6.8" height="6.8" fill="none" stroke="#3333ff" stroke-width="1"/>
<rect x="676.1" y="445.6" width="6.8" height="6.8" fill="none" stroke="#3333ff" stroke-width="1"/>
<rect x="680.0" y="447.6" width="6.8" height="6.8" fill="none" stroke="#3333ff" stroke-width="1"/>
<rect x="683.9" y="448.1" width="6.8" height="6.8" fill="none" stroke="#3333ff" stroke-width="1"/>
<rect x="687.7" y="447.2" width="6.8" height="6.8" fill="none" stroke="#3333ff" stroke-width="1"/>
<rect x="691.6" y="447.4" width="6.8" height="6.8" fill="none" stroke="#3333ff" stroke-width="1"/>
<rect x="695.5" y="445.4" width="6.8" height="6.8" fill="none" stroke="#3333ff" stroke-width="1"/>
<rect x="699.3" y="446.0" width="6.8" height="6.8" fill="none" stroke="#3333ff" stroke-width="1"/>
<rect x="703.2" y="443.5" width="6.8" height="6.8" fill="none" stroke="#3333ff" stroke-width="1"/>
<rect x="707.1" y="446.3" width="6.8" height="6.8" fill="none" stroke="#3333ff" stroke-width="1"/>
<rect x="710.9" y="445.4" width="6.8" height="6.8" fill="none" stroke="#3333ff" stroke-width="1"/>
<rect x="714.8" y="443.7" width="6.8" height="6.8" fill="none" stroke="#3333ff" stroke-width="1"/>
<rect x="718.7" y="445.9" width="6.8" height="6.8" fill="none" stroke="#3333ff" stroke-width="1"/>
<rect x="722.6" y="444.2" width="6.8" height="6.8" fill="none" stroke="#3333ff" stroke-width="1"/>
<rect x="726.4" y="445.8" width="6.8" height="6.8" fill="none" stroke="#3333ff" stroke-width="1"/>
<rect x="730.3" y="440.7" width="6.8" height="6.8" fill="none" stroke="#3333ff" stroke-width="1"/>
<rect x="734.2" y="448.3" width="6.8" height="6.8" fill="none" stroke="#3333ff" stroke-width="1"/>
<rect x="738.0" y="441.1" width="6.8" height="6.8" fill="none" stroke="#3333ff" stroke-width="1"/>
<rect x="741.9" y="444.7" width="6.8" height="6.8" fill="none" stroke="#3333ff" stroke-width="1"/>
<rect x="745.8" y="441.4" width="6.8" height="6.8" fill="none" stroke="#3333ff" stroke-width="1"/>
<rect x="749.6" y="446.2" width="6.8" height="6.8" fill="none" stroke="#3333ff" stroke-width="1"/>
<rect x="753.5" y="439.5" width="6.8" height="6.8" fill="none" stroke="#3333ff" stroke-width="1"/>
<rect x="761.0" y="373.8" width="6.8" height="6.8" fill="none" stroke="#3333ff" stroke-width="1"/>
<rect x="768.4" y="372.9" width="6.8" height="6.8" fill="none" stroke="#3333ff" stroke-width="1"/>
<rect x="765.6" y="382.1" width="6.8" height="6.8" fill="none" stroke="#3333ff" stroke-width="1"/>
<rect x="757.4" y="388.5" width="6.8" height="6.8" fill="none" stroke="#3333ff" stroke-width="1"/>
<rect x="756.9" y="388.7" width="6.8" height="6.8" fill="none" stroke="#3333ff" stroke-width="1"/>
<rect x="742.1" y="417.3" width="6.8" height="6.8" fill="none" stroke="#3333ff" stroke-width="1"/>
<rect x="753.8" y="425.7" width="6.8" height="6.8" fill="none" stroke="#3333ff" stroke-width="1"/>
<rect x="748.5" y="426.8" width="6.8" height="6.8" fill="none" stroke="#3333ff" stroke-width="1"/>
<rect x="745.3" y="429.9" width="6.8" height="6.8" fill="none" stroke="#3333ff" stroke-width="1"/>
<rect x="739.0" y="429.9" width="6.8" height="6.8" fill="none" stroke="#3333ff" stroke-width="1"/>
<rect x="733.7" y="435.2" width="6.8" height="6.8" fill="none" stroke="#3333ff" stroke-width="1"/>
<rect x="722.1" y="438.4" width="6.8" height="6.8" fill="none" stroke="#3333ff" stroke-width="1"/>
<rect x="707.3" y="437.3" width="6.8" height="6.8" fill="none" stroke="#3333ff" stroke-width="1"/>
<path d="M578.9 450.3L582.5 453.9L578.9 457.5L575.3 453.9Z" fill="none" stroke="#2e8b57" stroke-width="1"/>
<path d="M582.8 451.6L586.4 455.2L582.8 458.8L579.2 455.2Z" fill="none" stroke="#2e8b57" stroke-width="1"/>
<path d="M586.6 450.9L590.2 454.5L586.6 458.1L583.0 454.5Z" fill="none" stroke="#2e8b57" stroke-width="1"/>
<path d="M590.5 450.9L594.1 454.5L590.5 458.1L586.9 454.5Z" fill="none" stroke="#2e8b57" stroke-width="1"/>
<path d="M594.4 448.9L598.0 452.5L594.4 456.1L590.8 452.5Z" fill="none" stroke="#2e8b57" stroke-width="1"/>
<path d="M598.2 451.2L601.9 454.8L598.2 458.4L594.6 454.8Z" fill="none" stroke="#2e8b57" stroke-width="1"/>
<path d="M602.1 450.2L605.7 453.8L602.1 457.4L598.5 453.8Z" fill="none" stroke="#2e8b57" stroke-width="1"/>
<path d="M606.0 448.6L609.6 452.2L606.0 455.8L602.4 452.2Z" fill="none" stroke="#2e8b57" stroke-width="1"/>
<path d="M609.9 449.1L613.5 452.7L609.9 456.3L606.3 452.7Z" fill="none" stroke="#2e8b57" stroke-width="1"/>
<path d="M613.7 450.7L617.3 454.3L613.7 457.9L610.1 454.3Z" fill="none" stroke="#2e8b57" stroke-width="1"/>
<path d="M617.6 451.5L621.2 455.1L617.6 458.7L614.0 455.1Z" fill="none" stroke="#2e8b57" stroke-width="1"/>
<path d="M621.5 451.4L625.1 455.0L621.5 458.6L617.9 455.0Z" fill="none" stroke="#2e8b57" stroke-width="1"/>
<path d="M625.3 448.7L628.9 452.3L625.3 455.9L621.7 452.3Z" fill="none" stroke="#2e8b57" stroke-width="1"/>
<path d="M629.2 451.3L632.8 454.9L629.2 458.5L625.6 454.9Z" fill="none" stroke="#2e8b57" stroke-width="1"/>
<path d="M633.1 448.3L636.7 451.9L633.1 455.5L629.5 451.9Z" fill="none" stroke="#2e8b57" stroke-width="1"/>
<path d="M636.9 452.0L640.5 455.6L636.9 459.2L633.3 455.6Z" fill="none" stroke="#2e8b57" stroke-width="1"/>
<path d="M640.8 449.3L644.4 452.9L640.8 456.5L637.2 452.9Z" fill="none" stroke="#2e8b57" stroke-width="1"/>
<path d="M644.7 451.4L648.3 455.0L644.7 458.6L641.1 455.0Z" fill="none" stroke="#2e8b57" stroke-width="1"/>
<path d="M648.6 450.3L652.2 453.9L648.6 457.5L645.0 453.9Z" fill="none" stroke="#2e8b57" stroke-width="1"/>
<path d="M652.4 449.4L656.0 453.0L652.4 456.6L648.8 453.0Z" fill="none" stroke="#2e8b57" stroke-width="1"/>
<path d="M656.3 451.3L659.9 454.9L656.3 458.5L652.7 454.9Z" fill="none" stroke="#2e8b57" stroke-width="1"/>
<path d="M660.2 449.7L663.8 453.3L660.2 456.9L656.6 453.3Z" fill="none" stroke="#2e8b57" stroke-width="1"/>
<path d="M664.0 451.5L667.6 455.1L664.0 458.7L660.4 455.1Z" fill="none" stroke="#2e8b57" stroke-width="1"/>
<path d="M667.9 449.5L671.5 453.1L667.9 456.7L664.3 453.1Z" fill="none" stroke="#2e8b57" stroke-width="1"/>
<path d="M671.8 449.1L675.4 452.7L671.8 456.3L668.2 452.7Z" fill="none" stroke="#2e8b57" stroke-width="1"/>
<path d="M675.6 449.9L679.2 453.5L675.6 457.1L672.0 453.5Z" fill="none" stroke="#2e8b57" stroke-width="1"/>
<path d="M679.5 448.6L683.1 452.2L679.5 455.8L675.9 452.2Z" fill="none" stroke="#2e8b57" stroke-width="1"/>
<path d="M683.4 448.7L687.0 452.3L683.4 455.9L679.8 452.3Z" fill="none" stroke="#2e8b57" stroke-width="1"/>
<path d="M687.3 452.1L690.9 455.7L687.3 459.3L683.7 455.7Z" fill="none" stroke="#2e8b57" stroke-width="1"/>
<path d="M691.1 450.2L694.7 453.8L691.1 457.4L687.5 453.8Z" fill="none" stroke="#2e8b57" stroke-width="1"/>
<path d="M695.0 449.7L698.6 453.3L695.0 456.9L691.4 453.3Z" fill="none" stroke="#2e8b57" stroke-width="1"/>
<path d="M698.9 448.8L702.5 452.4L698.9 456.0L695.3 452.4Z" fill="none" stroke="#2e8b57" stroke-width="1"/>
<path d="M702.7 451.4L706.3 455.0L702.7 458.6L699.1 455.0Z" fill="none" stroke="#2e8b57" stroke-width="1"/>
<path d="M706.6 449.9L710.2 453.5L706.6 457.1L703.0 453.5Z" fill="none" stroke="#2e8b57" stroke-width="1"/>
<path d="M710.5 449.3L714.1 452.9L710.5 456.5L706.9 452.9Z" fill="none" stroke="#2e8b57" stroke-width="1"/>
<path d="M714.3 449.5L717.9 453.1L714.3 456.7L710.7 453.1Z" fill="none" stroke="#2e8b57" stroke-width="1"/>
<path d="M718.2 452.5L721.8 456.1L718.2 459.7L714.6 456.1Z" fill="none" stroke="#2e8b57" stroke-width="1"/>
<path d="M722.1 449.0L725.7 452.6L722.1 456.2L718.5 452.6Z" fill="none" stroke="#2e8b57" stroke-width="1"/>
<path d="M726.0 449.4L729.6 453.0L726.0 456.6L722.4 453.0Z" fill="none" stroke="#2e8b57" stroke-width="1"/>
<path d="M729.8 449.4L733.4 453.0L729.8 456.6L726.2 453.0Z" fill="none" stroke="#2e8b57" stroke-width="1"/>
<path d="M733.7 452.5L737.3 456.1L733.7 459.7L730.1 456.1Z" fill="none" stroke="#2e8b57" stroke-width="1"/>
<path d="M737.6 449.5L741.2 453.1L737.6 456.7L734.0 453.1Z" fill="none" stroke="#2e8b57" stroke-width="1"/>
<path d="M741.4 447.3L745.0 450.9L741.4 454.5L737.8 450.9Z" fill="none" stroke="#2e8b57" stroke-width="1"/>
<path d="M745.3 449.3L748.9 452.9L745.3 456.5L741.7 452.9Z" fill="none" stroke="#2e8b57" stroke-width="1"/>
<path d="M749.2 456.3L752.8 459.9L749.2 463.5L745.6 459.9Z" fill="none" stroke="#2e8b57" stroke-width="1"/>
<path d="M753.0 451.0L756.6 454.6L753.0 458.2L749.4 454.6Z" fill="none" stroke="#2e8b57" stroke-width="1"/>
<path d="M756.9 449.3L760.5 452.9L756.9 456.5L753.3 452.9Z" fill="none" stroke="#2e8b57" stroke-width="1"/>
<path d="M772.4 350.6L776.0 354.2L772.4 357.8L768.8 354.2Z" fill="none" stroke="#2e8b57" stroke-width="1"/>
<path d="M769.0 360.7L772.6 364.3L769.0 367.9L765.4 364.3Z" fill="none" stroke="#2e8b57" stroke-width="1"/>
<path d="M761.4 418.1L765.0 421.7L761.4 425.3L757.8 421.7Z" fill="none" stroke="#2e8b57" stroke-width="1"/>
<path d="M748.7 487.9L752.3 491.5L748.7 495.1L745.1 491.5Z" fill="none" stroke="#2e8b57" stroke-width="1"/>
<path d="M735.0 443.4L738.6 447.0L735.0 450.6L731.4 447.0Z" fill="none" stroke="#2e8b57" stroke-width="1"/>
<path d="M575.6 453.1L582.2 459.7M582.2 453.1L575.6 459.7" stroke="#ff3333" stroke-width="1"/>
<path d="M579.5 452.8L586.1 459.4M586.1 452.8L579.5 459.4" stroke="#ff3333" stroke-width="1"/>
<path d="M583.3 453.0L589.9 459.6M589.9 453.0L583.3 459.6" stroke="#ff3333" stroke-width="1"/>
<path d="M587.2 453.2L593.8 459.8M593.8 453.2L587.2 459.8" stroke="#ff3333" stroke-width="1"/>
<path d="M591.1 452.1L597.7 458.7M597.7 452.1L591.1 458.7" stroke="#ff3333" stroke-width="1"/>
<path d="M595.0 453.1L601.5 459.7M601.5 453.1L595.0 459.7" stroke="#ff3333" stroke-width="1"/>
<path d="M598.8 452.4L605.4 459.0M605.4 452.4L598.8 459.0" stroke="#ff3333" stroke-width="1"/>
<path d="M602.7 453.2L609.3 459.8M609.3 453.2L602.7 459.8" stroke="#ff3333" stroke-width="1"/>
<path d="M606.6 453.6L613.2 460.2M613.2 453.6L606.6 460.2" stroke="#ff3333" stroke-width="1"/>
<path d="M610.4 454.4L617.0 461.0M617.0 454.4L610.4 461.0" stroke="#ff3333" stroke-width="1"/>
<path d="M614.3 454.6L620.9 461.2M620.9 454.6L614.3 461.2" stroke="#ff3333" stroke-width="1"/>
<path d="M618.2 451.7L624.8 458.3M624.8 451.7L618.2 458.3" stroke="#ff3333" stroke-width="1"/>
<path d="M622.0 454.2L628.6 460.8M628.6 454.2L622.0 460.8" stroke="#ff3333" stroke-width="1"/>
<path d="M625.9 454.0L632.5 460.6M632.5 454.0L625.9 460.6" stroke="#ff3333" stroke-width="1"/>
<path d="M629.8 454.3L636.4 460.9M636.4 454.3L629.8 460.9" stroke="#ff3333" stroke-width="1"/>
<path d="M633.6 451.7L640.2 458.3M640.2 451.7L633.6 458.3" stroke="#ff3333" stroke-width="1"/>
<path d="M637.5 454.5L644.1 461.1M644.1 454.5L637.5 461.1" stroke="#ff3333" stroke-width="1"/>
<path d="M641.4 452.7L648.0 459.3M648.0 452.7L641.4 459.3" stroke="#ff3333" stroke-width="1"/>
<path d="M645.3 454.8L651.9 461.4M651.9 454.8L645.3 461.4" stroke="#ff3333" stroke-width="1"/>
<path d="M649.1 453.3L655.7 459.9M655.7 453.3L649.1 459.9" stroke="#ff3333" stroke-width="1"/>
<path d="M653.0 453.1L659.6 459.7M659.6 453.1L653.0 459.7" stroke="#ff3333" stroke-width="1"/>
<path d="M656.9 453.6L663.5 460.2M663.5 453.6L656.9 460.2" stroke="#ff3333" stroke-width="1"/>
<path d="M660.7 454.2L667.3 460.8M667.3 454.2L660.7 460.8" stroke="#ff3333" stroke-width="1"/>
<path d="M664.6 454.0L671.2 460.6M671.2 454.0L664.6 460.6" stroke="#ff3333" stroke-width="1"/>
<path d="M668.5 451.5L675.1 458.1M675.1 451.5L668.5 458.1" stroke="#ff3333" stroke-width="1"/>
<path d="M672.4 453.8L678.9 460.4M678.9 453.8L672.4 460.4" stroke="#ff3333" stroke-width="1"/>
<path d="M676.2 455.2L682.8 461.8M682.8 455.2L676.2 461.8" stroke="#ff3333" stroke-width="1"/>
<path d="M680.1 454.5L686.7 461.1M686.7 454.5L680.1 461.1" stroke="#ff3333" stroke-width="1"/>
<path d="M684.0 452.9L690.6 459.5M690.6 452.9L684.0 459.5" stroke="#ff3333" stroke-width="1"/>
<path d="M687.8 454.8L694.4 461.4M694.4 454.8L687.8 461.4" stroke="#ff3333" stroke-width="1"/>
<path d="M691.7 452.4L698.3 459.0M698.3 452.4L691.7 459.0" stroke="#ff3333" stroke-width="1"/>
<path d="M695.6 451.5L702.2 458.1M702.2 451.5L695.6 458.1" stroke="#ff3333" stroke-width="1"/>
<path d="M699.4 455.5L706.0 462.1M706.0 455.5L699.4 462.1" stroke="#ff3333" stroke-width="1"/>
<path d="M703.3 453.2L709.9 459.8M709.9 453.2L703.3 459.8" stroke="#ff3333" stroke-width="1"/>
<path d="M707.2 456.2L713.8 462.8M713.8 456.2L707.2 462.8" stroke="#ff3333" stroke-width="1"/>
<path d="M711.0 454.9L717.6 461.5M717.6 454.9L711.0 461.5" stroke="#ff3333" stroke-width="1"/>
<path d="M714.9 457.0L721.5 463.6M721.5 457.0L714.9 463.6" stroke="#ff3333" stroke-width="1"/>
<path d="M718.8 453.4L725.4 460.0M725.4 453.4L718.8 460.0" stroke="#ff3333" stroke-width="1"/>
<path d="M722.7 455.0L729.3 461.6M729.3 455.0L722.7 461.6" stroke="#ff3333" stroke-width="1"/>
<path d="M726.5 452.3L733.1 458.9M733.1 452.3L726.5 458.9" stroke="#ff3333" stroke-width="1"/>
<path d="M730.4 457.7L737.0 464.3M737.0 457.7L730.4 464.3" stroke="#ff3333" stroke-width="1"/>
<path d="M734.3 454.1L740.9 460.7M740.9 454.1L734.3 460.7" stroke="#ff3333" stroke-width="1"/>
<path d="M738.1 456.2L744.7 462.8M744.7 456.2L738.1 462.8" stroke="#ff3333" stroke-width="1"/>
<path d="M742.0 454.7L748.6 461.3M748.6 454.7L742.0 461.3" stroke="#ff3333" stroke-width="1"/>
<path d="M745.9 455.2L752.5 461.8M752.5 455.2L745.9 461.8" stroke="#ff3333" stroke-width="1"/>
<path d="M749.8 456.2L756.3 462.8M756.3 456.2L749.8 462.8" stroke="#ff3333" stroke-width="1"/>
<path d="M753.6 462.2L760.2 468.8M760.2 462.2L753.6 468.8" stroke="#ff3333" stroke-width="1"/>
<path d="M749.2 306.8L755.8 313.4M755.8 306.8L749.2 313.4" stroke="#ff3333" stroke-width="1"/>
<path d="M753.8 309.6L760.4 316.2M760.4 309.6L753.8 316.2" stroke="#ff3333" stroke-width="1"/>
<path d="M764.8 324.3L771.4 330.9M771.4 324.3L764.8 330.9" stroke="#ff3333" stroke-width="1"/>
<path d="M761.2 335.3L767.8 341.9M767.8 335.3L761.2 341.9" stroke="#ff3333" stroke-width="1"/>
<path d="M769.1 348.2L775.7 354.8M775.7 348.2L769.1 354.8" stroke="#ff3333" stroke-width="1"/>
<path d="M746.5 479.7L753.1 486.3M753.1 479.7L746.5 486.3" stroke="#ff3333" stroke-width="1"/>
<path d="M756.0 488.2L762.6 494.8M762.6 488.2L756.0 494.8" stroke="#ff3333" stroke-width="1"/>
<path d="M722.2 466.0L728.8 472.6M728.8 466.0L722.2 472.6" stroke="#ff3333" stroke-width="1"/>
<path d="M728.5 467.0L735.1 473.6M735.1 467.0L728.5 473.6" stroke="#ff3333" stroke-width="1"/>
<path d="M735.9 468.1L742.5 474.7M742.5 468.1L735.9 474.7" stroke="#ff3333" stroke-width="1"/>
<path d="M706.3 459.7L712.9 466.3M712.9 459.7L706.3 466.3" stroke="#ff3333" stroke-width="1"/>
<path d="M714.7 460.7L721.3 467.3M721.3 460.7L714.7 467.3" stroke="#ff3333" stroke-width="1"/>
<path d="M575.4 454.9H582.4M578.9 451.4V458.4" stroke="#cc33ff" stroke-width="1"/>
<path d="M579.3 453.0H586.3M582.8 449.5V456.5" stroke="#cc33ff" stroke-width="1"/>
<path d="M583.1 453.8H590.1M586.6 450.3V457.3" stroke="#cc33ff" stroke-width="1"/>
<path d="M587.0 454.9H594.0M590.5 451.4V458.4" stroke="#cc33ff" stroke-width="1"/>
<path d="M590.9 454.1H597.9M594.4 450.6V457.6" stroke="#cc33ff" stroke-width="1"/>
<path d="M594.8 454.5H601.8M598.2 451.0V458.0" stroke="#cc33ff" stroke-width="1"/>
<path d="M598.6 454.7H605.6M602.1 451.2V458.2" stroke="#cc33ff" stroke-width="1"/>
<path d="M602.5 454.9H609.5M606.0 451.4V458.4" stroke="#cc33ff" stroke-width="1"/>
<path d="M606.4 457.2H613.4M609.9 453.7V460.7" stroke="#cc33ff" stroke-width="1"/>
<path d="M610.2 457.5H617.2M613.7 454.0V461.0" stroke="#cc33ff" stroke-width="1"/>
<path d="M614.1 456.4H621.1M617.6 452.9V459.9" stroke="#cc33ff" stroke-width="1"/>
<path d="M618.0 456.0H625.0M621.5 452.5V459.5" stroke="#cc33ff" stroke-width="1"/>
<path d="M621.8 454.3H628.8M625.3 450.8V457.8" stroke="#cc33ff" stroke-width="1"/>
<path d="M625.7 454.7H632.7M629.2 451.2V458.2" stroke="#cc33ff" stroke-width="1"/>
<path d="M629.6 454.0H636.6M633.1 450.5V457.5" stroke="#cc33ff" stroke-width="1"/>
<path d="M633.4 455.4H640.4M636.9 451.9V458.9" stroke="#cc33ff" stroke-width="1"/>
<path d="M637.3 455.7H644.3M640.8 452.2V459.2" stroke="#cc33ff" stroke-width="1"/>
<path d="M641.2 455.6H648.2M644.7 452.1V459.1" stroke="#cc33ff" stroke-width="1"/>
<path d="M645.1 457.1H652.1M648.6 453.6V460.6" stroke="#cc33ff" stroke-width="1"/>
<path d="M648.9 456.1H655.9M652.4 452.6V459.6" stroke="#cc33ff" stroke-width="1"/>
<path d="M652.8 455.9H659.8M656.3 452.4V459.4" stroke="#cc33ff" stroke-width="1"/>
<path d="M656.7 454.9H663.7M660.2 451.4V458.4" stroke="#cc33ff" stroke-width="1"/>
<path d="M660.5 454.1H667.5M664.0 450.6V457.6" stroke="#cc33ff" stroke-width="1"/>
<path d="M664.4 455.7H671.4M667.9 452.2V459.2" stroke="#cc33ff" stroke-width="1"/>
<path d="M668.3 455.8H675.3M671.8 452.3V459.3" stroke="#cc33ff" stroke-width="1"/>
<path d="M672.1 455.3H679.1M675.6 451.8V458.8" stroke="#cc33ff" stroke-width="1"/>
<path d="M676.0 453.7H683.0M679.5 450.2V457.2" stroke="#cc33ff" stroke-width="1"/>
<path d="M679.9 454.2H686.9M683.4 450.7V457.7" stroke="#cc33ff" stroke-width="1"/>
<path d="M683.8 454.3H690.8M687.3 450.8V457.8" stroke="#cc33ff" stroke-width="1"/>
<path d="M687.6 456.5H694.6M691.1 453.0V460.0" stroke="#cc33ff" stroke-width="1"/>
<path d="M691.5 454.0H698.5M695.0 450.5V457.5" stroke="#cc33ff" stroke-width="1"/>
<path d="M695.4 455.2H702.4M698.9 451.7V458.7" stroke="#cc33ff" stroke-width="1"/>
<path d="M699.2 455.0H706.2M702.7 451.5V458.5" stroke="#cc33ff" stroke-width="1"/>
<path d="M703.1 456.6H710.1M706.6 453.1V460.1" stroke="#cc33ff" stroke-width="1"/>
<path d="M707.0 454.2H714.0M710.5 450.7V457.7" stroke="#cc33ff" stroke-width="1"/>
<path d="M710.8 454.9H717.8M714.3 451.4V458.4" stroke="#cc33ff" stroke-width="1"/>
<path d="M714.7 456.1H721.7M718.2 452.6V459.6" stroke="#cc33ff" stroke-width="1"/>
<path d="M718.6 458.5H725.6M722.1 455.0V462.0" stroke="#cc33ff" stroke-width="1"/>
<path d="M722.5 455.7H729.5M726.0 452.2V459.2" stroke="#cc33ff" stroke-width="1"/>
<path d="M726.3 456.8H733.3M729.8 453.3V460.3" stroke="#cc33ff" stroke-width="1"/>
<path d="M730.2 457.7H737.2M733.7 454.2V461.2" stroke="#cc33ff" stroke-width="1"/>
<path d="M734.1 457.6H741.1M737.6 454.1V461.1" stroke="#cc33ff" stroke-width="1"/>
<path d="M737.9 456.5H744.9M741.4 453.0V460.0" stroke="#cc33ff" stroke-width="1"/>
<path d="M741.8 455.0H748.8M745.3 451.5V458.5" stroke="#cc33ff" stroke-width="1"/>
<path d="M745.7 459.2H752.7M749.2 455.7V462.7" stroke="#cc33ff" stroke-width="1"/>
<path d="M749.5 454.5H756.5M753.0 451.0V458.0" stroke="#cc33ff" stroke-width="1"/>
<path d="M753.4 457.9H760.4M756.9 454.4V461.4" stroke="#cc33ff" stroke-width="1"/>
<path d="M757.3 317.5H764.3M760.8 314.0V321.0" stroke="#cc33ff" stroke-width="1"/>
<path d="M767.4 338.6H774.4M770.9 335.1V342.1" stroke="#cc33ff" stroke-width="1"/>
<path d="M745.2 476.7H752.2M748.7 473.2V480.2" stroke="#cc33ff" stroke-width="1"/>
<path d="M751.6 480.9H758.6M755.1 477.4V484.4" stroke="#cc33ff" stroke-width="1"/>
<path d="M760.0 493.6H767.0M763.5 490.1V497.1" stroke="#cc33ff" stroke-width="1"/>
<path d="M738.9 470.3H745.9M742.4 466.8V473.8" stroke="#cc33ff" stroke-width="1"/>
<path d="M578.9 452.0L582.4 456.9H575.4Z" fill="none" stroke="#22eeff" stroke-width="1.1" stroke-linejoin="round"/>
<path d="M582.8 451.9L586.3 456.8H579.3Z" fill="none" stroke="#22eeff" stroke-width="1.1" stroke-linejoin="round"/>
<path d="M586.6 450.2L590.1 455.1H583.1Z" fill="none" stroke="#22eeff" stroke-width="1.1" stroke-linejoin="round"/>
<path d="M590.5 450.6L594.0 455.5H587.0Z" fill="none" stroke="#22eeff" stroke-width="1.1" stroke-linejoin="round"/>
<path d="M594.4 451.8L597.9 456.7H590.9Z" fill="none" stroke="#22eeff" stroke-width="1.1" stroke-linejoin="round"/>
<path d="M598.2 453.4L601.8 458.3H594.8Z" fill="none" stroke="#22eeff" stroke-width="1.1" stroke-linejoin="round"/>
<path d="M602.1 452.7L605.6 457.6H598.6Z" fill="none" stroke="#22eeff" stroke-width="1.1" stroke-linejoin="round"/>
<path d="M606.0 454.2L609.5 459.1H602.5Z" fill="none" stroke="#22eeff" stroke-width="1.1" stroke-linejoin="round"/>
<path d="M609.9 452.9L613.4 457.8H606.4Z" fill="none" stroke="#22eeff" stroke-width="1.1" stroke-linejoin="round"/>
<path d="M613.7 453.8L617.2 458.7H610.2Z" fill="none" stroke="#22eeff" stroke-width="1.1" stroke-linejoin="round"/>
<path d="M617.6 451.9L621.1 456.8H614.1Z" fill="none" stroke="#22eeff" stroke-width="1.1" stroke-linejoin="round"/>
<path d="M621.5 450.0L625.0 454.9H618.0Z" fill="none" stroke="#22eeff" stroke-width="1.1" stroke-linejoin="round"/>
<path d="M625.3 453.0L628.8 457.9H621.8Z" fill="none" stroke="#22eeff" stroke-width="1.1" stroke-linejoin="round"/>
<path d="M629.2 453.9L632.7 458.8H625.7Z" fill="none" stroke="#22eeff" stroke-width="1.1" stroke-linejoin="round"/>
<path d="M633.1 451.4L636.6 456.3H629.6Z" fill="none" stroke="#22eeff" stroke-width="1.1" stroke-linejoin="round"/>
<path d="M636.9 451.6L640.4 456.5H633.4Z" fill="none" stroke="#22eeff" stroke-width="1.1" stroke-linejoin="round"/>
<path d="M640.8 452.0L644.3 456.9H637.3Z" fill="none" stroke="#22eeff" stroke-width="1.1" stroke-linejoin="round"/>
<path d="M644.7 453.1L648.2 458.0H641.2Z" fill="none" stroke="#22eeff" stroke-width="1.1" stroke-linejoin="round"/>
<path d="M648.6 452.0L652.1 456.9H645.1Z" fill="none" stroke="#22eeff" stroke-width="1.1" stroke-linejoin="round"/>
<path d="M652.4 454.3L655.9 459.2H648.9Z" fill="none" stroke="#22eeff" stroke-width="1.1" stroke-linejoin="round"/>
<path d="M656.3 454.3L659.8 459.2H652.8Z" fill="none" stroke="#22eeff" stroke-width="1.1" stroke-linejoin="round"/>
<path d="M660.2 452.5L663.7 457.4H656.7Z" fill="none" stroke="#22eeff" stroke-width="1.1" stroke-linejoin="round"/>
<path d="M664.0 452.1L667.5 457.0H660.5Z" fill="none" stroke="#22eeff" stroke-width="1.1" stroke-linejoin="round"/>
<path d="M667.9 452.4L671.4 457.3H664.4Z" fill="none" stroke="#22eeff" stroke-width="1.1" stroke-linejoin="round"/>
<path d="M671.8 453.3L675.3 458.2H668.3Z" fill="none" stroke="#22eeff" stroke-width="1.1" stroke-linejoin="round"/>
<path d="M675.6 451.2L679.1 456.1H672.1Z" fill="none" stroke="#22eeff" stroke-width="1.1" stroke-linejoin="round"/>
<path d="M679.5 453.4L683.0 458.3H676.0Z" fill="none" stroke="#22eeff" stroke-width="1.1" stroke-linejoin="round"/>
<path d="M683.4 453.0L686.9 457.9H679.9Z" fill="none" stroke="#22eeff" stroke-width="1.1" stroke-linejoin="round"/>
<path d="M687.3 452.9L690.8 457.8H683.8Z" fill="none" stroke="#22eeff" stroke-width="1.1" stroke-linejoin="round"/>
<path d="M691.1 453.8L694.6 458.7H687.6Z" fill="none" stroke="#22eeff" stroke-width="1.1" stroke-linejoin="round"/>
<path d="M695.0 452.0L698.5 456.9H691.5Z" fill="none" stroke="#22eeff" stroke-width="1.1" stroke-linejoin="round"/>
<path d="M698.9 452.5L702.4 457.4H695.4Z" fill="none" stroke="#22eeff" stroke-width="1.1" stroke-linejoin="round"/>
<path d="M702.7 451.8L706.2 456.7H699.2Z" fill="none" stroke="#22eeff" stroke-width="1.1" stroke-linejoin="round"/>
<path d="M706.6 453.5L710.1 458.4H703.1Z" fill="none" stroke="#22eeff" stroke-width="1.1" stroke-linejoin="round"/>
<path d="M710.5 453.1L714.0 458.0H707.0Z" fill="none" stroke="#22eeff" stroke-width="1.1" stroke-linejoin="round"/>
<path d="M714.3 455.6L717.8 460.5H710.8Z" fill="none" stroke="#22eeff" stroke-width="1.1" stroke-linejoin="round"/>
<path d="M718.2 453.6L721.7 458.5H714.7Z" fill="none" stroke="#22eeff" stroke-width="1.1" stroke-linejoin="round"/>
<path d="M722.1 451.8L725.6 456.7H718.6Z" fill="none" stroke="#22eeff" stroke-width="1.1" stroke-linejoin="round"/>
<path d="M726.0 451.0L729.5 455.9H722.5Z" fill="none" stroke="#22eeff" stroke-width="1.1" stroke-linejoin="round"/>
<path d="M729.8 453.3L733.3 458.2H726.3Z" fill="none" stroke="#22eeff" stroke-width="1.1" stroke-linejoin="round"/>
<path d="M733.7 454.3L737.2 459.2H730.2Z" fill="none" stroke="#22eeff" stroke-width="1.1" stroke-linejoin="round"/>
<path d="M737.6 452.0L741.1 456.9H734.1Z" fill="none" stroke="#22eeff" stroke-width="1.1" stroke-linejoin="round"/>
<path d="M741.4 446.8L744.9 451.7H737.9Z" fill="none" stroke="#22eeff" stroke-width="1.1" stroke-linejoin="round"/>
<path d="M745.3 449.8L748.8 454.7H741.8Z" fill="none" stroke="#22eeff" stroke-width="1.1" stroke-linejoin="round"/>
<path d="M749.2 454.6L752.7 459.5H745.7Z" fill="none" stroke="#22eeff" stroke-width="1.1" stroke-linejoin="round"/>
<path d="M753.0 454.4L756.5 459.3H749.5Z" fill="none" stroke="#22eeff" stroke-width="1.1" stroke-linejoin="round"/>
<path d="M756.9 455.7L760.4 460.6H753.4Z" fill="none" stroke="#22eeff" stroke-width="1.1" stroke-linejoin="round"/>
<path d="M752.9 467.5L756.4 472.4H749.4Z" fill="none" stroke="#22eeff" stroke-width="1.1" stroke-linejoin="round"/>
<path d="M767.7 480.2L771.2 485.1H764.2Z" fill="none" stroke="#22eeff" stroke-width="1.1" stroke-linejoin="round"/>
<path d="M772.4 486.6L775.9 491.5H768.9Z" fill="none" stroke="#22eeff" stroke-width="1.1" stroke-linejoin="round"/>
<circle cx="578.9" cy="451.9" r="3.4" fill="#8b6914"/>
<circle cx="582.8" cy="453.2" r="3.4" fill="#8b6914"/>
<circle cx="586.6" cy="453.7" r="3.4" fill="#8b6914"/>
<circle cx="590.5" cy="453.7" r="3.4" fill="#8b6914"/>
<circle cx="594.4" cy="452.4" r="3.4" fill="#8b6914"/>
<circle cx="598.2" cy="454.8" r="3.4" fill="#8b6914"/>
<circle cx="602.1" cy="453.4" r="3.4" fill="#8b6914"/>
<circle cx="606.0" cy="454.0" r="3.4" fill="#8b6914"/>
<circle cx="609.9" cy="452.0" r="3.4" fill="#8b6914"/>
<circle cx="613.7" cy="452.3" r="3.4" fill="#8b6914"/>
<circle cx="617.6" cy="454.0" r="3.4" fill="#8b6914"/>
<circle cx="621.5" cy="454.5" r="3.4" fill="#8b6914"/>
<circle cx="625.3" cy="454.9" r="3.4" fill="#8b6914"/>
<circle cx="629.2" cy="453.9" r="3.4" fill="#8b6914"/>
<circle cx="633.1" cy="455.3" r="3.4" fill="#8b6914"/>
<circle cx="636.9" cy="453.0" r="3.4" fill="#8b6914"/>
<circle cx="640.8" cy="454.0" r="3.4" fill="#8b6914"/>
<circle cx="644.7" cy="453.0" r="3.4" fill="#8b6914"/>
<circle cx="648.6" cy="454.0" r="3.4" fill="#8b6914"/>
<circle cx="652.4" cy="454.9" r="3.4" fill="#8b6914"/>
<circle cx="656.3" cy="453.5" r="3.4" fill="#8b6914"/>
<circle cx="660.2" cy="453.4" r="3.4" fill="#8b6914"/>
<circle cx="664.0" cy="455.9" r="3.4" fill="#8b6914"/>
<circle cx="667.9" cy="453.1" r="3.4" fill="#8b6914"/>
<circle cx="671.8" cy="455.5" r="3.4" fill="#8b6914"/>
<circle cx="675.6" cy="454.8" r="3.4" fill="#8b6914"/>
<circle cx="679.5" cy="453.8" r="3.4" fill="#8b6914"/>
<circle cx="683.4" cy="452.4" r="3.4" fill="#8b6914"/>
<circle cx="687.3" cy="453.4" r="3.4" fill="#8b6914"/>
<circle cx="691.1" cy="453.7" r="3.4" fill="#8b6914"/>
<circle cx="695.0" cy="453.6" r="3.4" fill="#8b6914"/>
<circle cx="698.9" cy="453.3" r="3.4" fill="#8b6914"/>
<circle cx="702.7" cy="453.6" r="3.4" fill="#8b6914"/>
<circle cx="706.6" cy="453.5" r="3.4" fill="#8b6914"/>
<circle cx="710.5" cy="454.3" r="3.4" fill="#8b6914"/>
<circle cx="714.3" cy="455.0" r="3.4" fill="#8b6914"/>
<circle cx="718.2" cy="453.1" r="3.4" fill="#8b6914"/>
<circle cx="722.1" cy="454.0" r="3.4" fill="#8b6914"/>
<circle cx="726.0" cy="452.7" r="3.4" fill="#8b6914"/>
<circle cx="729.8" cy="453.4" r="3.4" fill="#8b6914"/>
<circle cx="733.7" cy="453.9" r="3.4" fill="#8b6914"/>
<circle cx="737.6" cy="454.8" r="3.4" fill="#8b6914"/>
<circle cx="741.4" cy="454.7" r="3.4" fill="#8b6914"/>
<circle cx="745.3" cy="454.8" r="3.4" fill="#8b6914"/>
<circle cx="749.2" cy="455.1" r="3.4" fill="#8b6914"/>
<circle cx="753.0" cy="461.4" r="3.4" fill="#8b6914"/>
<circle cx="756.9" cy="462.2" r="3.4" fill="#8b6914"/>
<circle cx="768.1" cy="311.0" r="3.4" fill="#8b6914"/>
<circle cx="772.4" cy="329.4" r="3.4" fill="#8b6914"/>
<circle cx="741.3" cy="464.0" r="3.4" fill="#8b6914"/>
<circle cx="752.9" cy="465.0" r="3.4" fill="#8b6914"/>
<circle cx="758.2" cy="464.0" r="3.4" fill="#8b6914"/>
<circle cx="762.5" cy="465.0" r="3.4" fill="#8b6914"/>
<circle cx="764.6" cy="479.9" r="3.4" fill="#8b6914"/>
<circle cx="740.3" cy="463.0" r="3.4" fill="#8b6914"/>
<rect x="575.4" y="448.7" width="7.1" height="7.1" fill="#ff6a13"/>
<rect x="579.2" y="449.7" width="7.1" height="7.1" fill="#ff6a13"/>
<rect x="583.1" y="449.7" width="7.1" height="7.1" fill="#ff6a13"/>
<rect x="587.0" y="448.4" width="7.1" height="7.1" fill="#ff6a13"/>
<rect x="590.8" y="453.2" width="7.1" height="7.1" fill="#ff6a13"/>
<rect x="594.7" y="450.4" width="7.1" height="7.1" fill="#ff6a13"/>
<rect x="598.6" y="448.8" width="7.1" height="7.1" fill="#ff6a13"/>
<rect x="602.4" y="450.0" width="7.1" height="7.1" fill="#ff6a13"/>
<rect x="606.3" y="449.4" width="7.1" height="7.1" fill="#ff6a13"/>
<rect x="610.2" y="450.1" width="7.1" height="7.1" fill="#ff6a13"/>
<rect x="614.1" y="448.8" width="7.1" height="7.1" fill="#ff6a13"/>
<rect x="617.9" y="449.5" width="7.1" height="7.1" fill="#ff6a13"/>
<rect x="621.8" y="447.9" width="7.1" height="7.1" fill="#ff6a13"/>
<rect x="625.7" y="449.7" width="7.1" height="7.1" fill="#ff6a13"/>
<rect x="629.5" y="449.3" width="7.1" height="7.1" fill="#ff6a13"/>
<rect x="633.4" y="450.0" width="7.1" height="7.1" fill="#ff6a13"/>
<rect x="637.3" y="449.4" width="7.1" height="7.1" fill="#ff6a13"/>
<rect x="641.1" y="451.0" width="7.1" height="7.1" fill="#ff6a13"/>
<rect x="645.0" y="447.0" width="7.1" height="7.1" fill="#ff6a13"/>
<rect x="648.9" y="450.6" width="7.1" height="7.1" fill="#ff6a13"/>
<rect x="652.8" y="448.6" width="7.1" height="7.1" fill="#ff6a13"/>
<rect x="656.6" y="446.5" width="7.1" height="7.1" fill="#ff6a13"/>
<rect x="660.5" y="449.9" width="7.1" height="7.1" fill="#ff6a13"/>
<rect x="664.4" y="450.9" width="7.1" height="7.1" fill="#ff6a13"/>
<rect x="668.2" y="449.0" width="7.1" height="7.1" fill="#ff6a13"/>
<rect x="672.1" y="451.2" width="7.1" height="7.1" fill="#ff6a13"/>
<rect x="676.0" y="451.3" width="7.1" height="7.1" fill="#ff6a13"/>
<rect x="679.8" y="447.1" width="7.1" height="7.1" fill="#ff6a13"/>
<rect x="683.7" y="450.3" width="7.1" height="7.1" fill="#ff6a13"/>
<rect x="687.6" y="448.5" width="7.1" height="7.1" fill="#ff6a13"/>
<rect x="691.5" y="449.5" width="7.1" height="7.1" fill="#ff6a13"/>
<rect x="695.3" y="449.4" width="7.1" height="7.1" fill="#ff6a13"/>
<rect x="699.2" y="448.5" width="7.1" height="7.1" fill="#ff6a13"/>
<rect x="703.1" y="447.8" width="7.1" height="7.1" fill="#ff6a13"/>
<rect x="706.9" y="450.5" width="7.1" height="7.1" fill="#ff6a13"/>
<rect x="710.8" y="451.3" width="7.1" height="7.1" fill="#ff6a13"/>
<rect x="714.7" y="448.3" width="7.1" height="7.1" fill="#ff6a13"/>
<rect x="718.5" y="451.7" width="7.1" height="7.1" fill="#ff6a13"/>
<rect x="722.4" y="449.1" width="7.1" height="7.1" fill="#ff6a13"/>
<rect x="726.3" y="448.1" width="7.1" height="7.1" fill="#ff6a13"/>
<rect x="730.2" y="449.9" width="7.1" height="7.1" fill="#ff6a13"/>
<rect x="734.0" y="451.9" width="7.1" height="7.1" fill="#ff6a13"/>
<rect x="737.9" y="449.7" width="7.1" height="7.1" fill="#ff6a13"/>
<rect x="741.8" y="445.6" width="7.1" height="7.1" fill="#ff6a13"/>
<rect x="745.6" y="451.1" width="7.1" height="7.1" fill="#ff6a13"/>
<rect x="749.5" y="450.5" width="7.1" height="7.1" fill="#ff6a13"/>
<rect x="753.4" y="447.1" width="7.1" height="7.1" fill="#ff6a13"/>
<rect x="765.2" y="399.1" width="7.1" height="7.1" fill="#ff6a13"/>
<rect x="761.1" y="423.4" width="7.1" height="7.1" fill="#ff6a13"/>
<rect x="756.8" y="437.1" width="7.1" height="7.1" fill="#ff6a13"/>
<rect x="768.9" y="455.1" width="7.1" height="7.1" fill="#ff6a13"/>
<rect x="736.5" y="446.4" width="7.1" height="7.1" fill="#ff6a13"/>
<path d="M578.9 450.0L582.7 453.8L578.9 457.6L575.1 453.8Z" fill="#12aef0"/>
<path d="M582.8 450.8L586.6 454.6L582.8 458.4L579.0 454.6Z" fill="#12aef0"/>
<path d="M586.6 450.3L590.4 454.1L586.6 457.9L582.8 454.1Z" fill="#12aef0"/>
<path d="M590.5 451.9L594.3 455.7L590.5 459.5L586.7 455.7Z" fill="#12aef0"/>
<path d="M594.4 447.8L598.2 451.6L594.4 455.4L590.6 451.6Z" fill="#12aef0"/>
<path d="M598.2 450.9L602.0 454.7L598.2 458.5L594.5 454.7Z" fill="#12aef0"/>
<path d="M602.1 450.4L605.9 454.2L602.1 458.0L598.3 454.2Z" fill="#12aef0"/>
<path d="M606.0 449.2L609.8 453.0L606.0 456.8L602.2 453.0Z" fill="#12aef0"/>
<path d="M609.9 450.4L613.7 454.2L609.9 458.0L606.1 454.2Z" fill="#12aef0"/>
<path d="M613.7 449.6L617.5 453.4L613.7 457.2L609.9 453.4Z" fill="#12aef0"/>
<path d="M617.6 449.9L621.4 453.7L617.6 457.5L613.8 453.7Z" fill="#12aef0"/>
<path d="M621.5 450.6L625.3 454.4L621.5 458.2L617.7 454.4Z" fill="#12aef0"/>
<path d="M625.3 450.4L629.1 454.2L625.3 458.0L621.5 454.2Z" fill="#12aef0"/>
<path d="M629.2 449.5L633.0 453.3L629.2 457.1L625.4 453.3Z" fill="#12aef0"/>
<path d="M633.1 451.1L636.9 454.9L633.1 458.7L629.3 454.9Z" fill="#12aef0"/>
<path d="M636.9 449.1L640.7 452.9L636.9 456.7L633.1 452.9Z" fill="#12aef0"/>
<path d="M640.8 450.9L644.6 454.7L640.8 458.5L637.0 454.7Z" fill="#12aef0"/>
<path d="M644.7 449.0L648.5 452.8L644.7 456.6L640.9 452.8Z" fill="#12aef0"/>
<path d="M648.6 450.8L652.4 454.6L648.6 458.4L644.8 454.6Z" fill="#12aef0"/>
<path d="M652.4 449.7L656.2 453.5L652.4 457.3L648.6 453.5Z" fill="#12aef0"/>
<path d="M656.3 451.7L660.1 455.5L656.3 459.3L652.5 455.5Z" fill="#12aef0"/>
<path d="M660.2 452.1L664.0 455.9L660.2 459.7L656.4 455.9Z" fill="#12aef0"/>
<path d="M664.0 450.0L667.8 453.8L664.0 457.6L660.2 453.8Z" fill="#12aef0"/>
<path d="M667.9 450.8L671.7 454.6L667.9 458.4L664.1 454.6Z" fill="#12aef0"/>
<path d="M671.8 451.6L675.6 455.4L671.8 459.2L668.0 455.4Z" fill="#12aef0"/>
<path d="M675.6 451.1L679.4 454.9L675.6 458.7L671.9 454.9Z" fill="#12aef0"/>
<path d="M679.5 448.6L683.3 452.4L679.5 456.2L675.7 452.4Z" fill="#12aef0"/>
<path d="M683.4 450.0L687.2 453.8L683.4 457.6L679.6 453.8Z" fill="#12aef0"/>
<path d="M687.3 450.0L691.1 453.8L687.3 457.6L683.5 453.8Z" fill="#12aef0"/>
<path d="M691.1 453.4L694.9 457.2L691.1 461.0L687.3 457.2Z" fill="#12aef0"/>
<path d="M695.0 451.8L698.8 455.6L695.0 459.4L691.2 455.6Z" fill="#12aef0"/>
<path d="M698.9 451.3L702.7 455.1L698.9 458.9L695.1 455.1Z" fill="#12aef0"/>
<path d="M702.7 449.3L706.5 453.1L702.7 456.9L698.9 453.1Z" fill="#12aef0"/>
<path d="M706.6 452.4L710.4 456.2L706.6 460.0L702.8 456.2Z" fill="#12aef0"/>
<path d="M710.5 451.0L714.3 454.8L710.5 458.6L706.7 454.8Z" fill="#12aef0"/>
<path d="M714.3 450.2L718.1 454.0L714.3 457.8L710.5 454.0Z" fill="#12aef0"/>
<path d="M718.2 449.9L722.0 453.7L718.2 457.5L714.4 453.7Z" fill="#12aef0"/>
<path d="M722.1 453.9L725.9 457.7L722.1 461.5L718.3 457.7Z" fill="#12aef0"/>
<path d="M726.0 450.1L729.8 453.9L726.0 457.7L722.2 453.9Z" fill="#12aef0"/>
<path d="M729.8 450.5L733.6 454.3L729.8 458.1L726.0 454.3Z" fill="#12aef0"/>
<path d="M733.7 450.8L737.5 454.6L733.7 458.4L729.9 454.6Z" fill="#12aef0"/>
<path d="M737.6 451.1L741.4 454.9L737.6 458.7L733.8 454.9Z" fill="#12aef0"/>
<path d="M741.4 451.0L745.2 454.8L741.4 458.6L737.6 454.8Z" fill="#12aef0"/>
<path d="M745.3 447.4L749.1 451.2L745.3 455.0L741.5 451.2Z" fill="#12aef0"/>
<path d="M749.2 449.8L753.0 453.6L749.2 457.4L745.4 453.6Z" fill="#12aef0"/>
<path d="M753.0 451.9L756.8 455.7L753.0 459.5L749.2 455.7Z" fill="#12aef0"/>
<path d="M756.9 456.1L760.7 459.9L756.9 463.7L753.1 459.9Z" fill="#12aef0"/>
<path d="M772.4 386.2L776.2 390.0L772.4 393.8L768.6 390.0Z" fill="#12aef0"/>
<path d="M772.0 387.2L775.8 391.0L772.0 394.8L768.2 391.0Z" fill="#12aef0"/>
<path d="M768.8 402.1L772.6 405.9L768.8 409.7L765.0 405.9Z" fill="#12aef0"/>
<path d="M764.6 453.9L768.4 457.7L764.6 461.5L760.8 457.7Z" fill="#12aef0"/>
<path d="M760.3 444.3L764.1 448.1L760.3 451.9L756.5 448.1Z" fill="#12aef0"/>
<path d="M748.0 448.2L751.8 452.0L748.0 455.8L744.2 452.0Z" fill="#12aef0"/>
<path d="M578.9 452.2L582.5 458.6H575.3Z" fill="#555555"/>
<path d="M582.8 452.0L586.4 458.5H579.2Z" fill="#555555"/>
<path d="M586.6 453.3L590.2 459.7H583.0Z" fill="#555555"/>
<path d="M590.5 451.5L594.1 458.0H586.9Z" fill="#555555"/>
<path d="M594.4 450.9L598.0 457.4H590.8Z" fill="#555555"/>
<path d="M598.2 452.4L601.9 458.9H594.6Z" fill="#555555"/>
<path d="M602.1 452.3L605.7 458.7H598.5Z" fill="#555555"/>
<path d="M606.0 453.3L609.6 459.8H602.4Z" fill="#555555"/>
<path d="M609.9 453.0L613.5 459.5H606.3Z" fill="#555555"/>
<path d="M613.7 451.4L617.3 457.8H610.1Z" fill="#555555"/>
<path d="M617.6 451.3L621.2 457.8H614.0Z" fill="#555555"/>
<path d="M621.5 451.3L625.1 457.8H617.9Z" fill="#555555"/>
<path d="M625.3 451.1L628.9 457.6H621.7Z" fill="#555555"/>
<path d="M629.2 450.8L632.8 457.3H625.6Z" fill="#555555"/>
<path d="M633.1 452.8L636.7 459.3H629.5Z" fill="#555555"/>
<path d="M636.9 452.4L640.5 458.9H633.3Z" fill="#555555"/>
<path d="M640.8 449.8L644.4 456.3H637.2Z" fill="#555555"/>
<path d="M644.7 451.5L648.3 458.0H641.1Z" fill="#555555"/>
<path d="M648.6 452.5L652.2 459.0H645.0Z" fill="#555555"/>
<path d="M652.4 452.1L656.0 458.6H648.8Z" fill="#555555"/>
<path d="M656.3 451.5L659.9 458.0H652.7Z" fill="#555555"/>
<path d="M660.2 452.1L663.8 458.6H656.6Z" fill="#555555"/>
<path d="M664.0 453.2L667.6 459.7H660.4Z" fill="#555555"/>
<path d="M667.9 449.7L671.5 456.2H664.3Z" fill="#555555"/>
<path d="M671.8 453.9L675.4 460.4H668.2Z" fill="#555555"/>
<path d="M675.6 451.2L679.2 457.7H672.0Z" fill="#555555"/>
<path d="M679.5 453.1L683.1 459.6H675.9Z" fill="#555555"/>
<path d="M683.4 451.1L687.0 457.6H679.8Z" fill="#555555"/>
<path d="M687.3 451.8L690.9 458.3H683.7Z" fill="#555555"/>
<path d="M691.1 453.7L694.7 460.2H687.5Z" fill="#555555"/>
<path d="M695.0 451.4L698.6 457.9H691.4Z" fill="#555555"/>
<path d="M698.9 451.8L702.5 458.3H695.3Z" fill="#555555"/>
<path d="M702.7 453.1L706.3 459.6H699.1Z" fill="#555555"/>
<path d="M706.6 451.0L710.2 457.5H703.0Z" fill="#555555"/>
<path d="M710.5 450.5L714.1 457.0H706.9Z" fill="#555555"/>
<path d="M714.3 450.9L717.9 457.4H710.7Z" fill="#555555"/>
<path d="M718.2 450.9L721.8 457.3H714.6Z" fill="#555555"/>
<path d="M722.1 450.3L725.7 456.8H718.5Z" fill="#555555"/>
<path d="M726.0 450.7L729.6 457.1H722.4Z" fill="#555555"/>
<path d="M729.8 451.3L733.4 457.8H726.2Z" fill="#555555"/>
<path d="M733.7 452.4L737.3 458.9H730.1Z" fill="#555555"/>
<path d="M737.6 451.0L741.2 457.5H734.0Z" fill="#555555"/>
<path d="M741.4 452.9L745.0 459.4H737.8Z" fill="#555555"/>
<path d="M745.3 449.1L748.9 455.6H741.7Z" fill="#555555"/>
<path d="M749.2 450.5L752.8 457.0H745.6Z" fill="#555555"/>
<path d="M753.0 448.2L756.6 454.6H749.4Z" fill="#555555"/>
<path d="M756.9 452.8L760.5 459.3H753.3Z" fill="#555555"/>
<path d="M772.0 422.4L775.6 428.9H768.4Z" fill="#555555"/>
<path d="M757.2 432.9L760.8 439.4H753.6Z" fill="#555555"/>
<path d="M768.8 428.7L772.4 435.2H765.2Z" fill="#555555"/>
<path d="M764.6 439.3L768.2 445.8H761.0Z" fill="#555555"/>
<path d="M745.0 444.4L748.6 450.9H741.4Z" fill="#555555"/>
<path d="M752.0 442.4L755.6 448.9H748.4Z" fill="#555555"/>
<rect x="59.6" y="34.4" width="193.4" height="193.8" fill="none" stroke="#5050e8" stroke-width="1.2"/>
<path d="M98.3 228.2v-2.5M98.3 34.4v2.5" stroke="#5050e8" stroke-width="1"/>
<path d="M137.0 228.2v-2.5M137.0 34.4v2.5" stroke="#5050e8" stroke-width="1"/>
<path d="M175.6 228.2v-2.5M175.6 34.4v2.5" stroke="#5050e8" stroke-width="1"/>
<path d="M214.3 228.2v-2.5M214.3 34.4v2.5" stroke="#5050e8" stroke-width="1"/>
<path d="M253.0 228.2v-2.5M253.0 34.4v2.5" stroke="#5050e8" stroke-width="1"/>
<path d="M59.6 195.9h2.5M253.0 195.9h-2.5" stroke="#5050e8" stroke-width="1"/>
<path d="M59.6 163.6h2.5M253.0 163.6h-2.5" stroke="#5050e8" stroke-width="1"/>
<path d="M59.6 131.3h2.5M253.0 131.3h-2.5" stroke="#5050e8" stroke-width="1"/>
<path d="M59.6 99.0h2.5M253.0 99.0h-2.5" stroke="#5050e8" stroke-width="1"/>
<path d="M59.6 66.7h2.5M253.0 66.7h-2.5" stroke="#5050e8" stroke-width="1"/>
<rect x="319.5" y="34.4" width="193.0" height="193.8" fill="none" stroke="#5050e8" stroke-width="1.2"/>
<path d="M358.1 228.2v-2.5M358.1 34.4v2.5" stroke="#5050e8" stroke-width="1"/>
<path d="M396.7 228.2v-2.5M396.7 34.4v2.5" stroke="#5050e8" stroke-width="1"/>
<path d="M435.3 228.2v-2.5M435.3 34.4v2.5" stroke="#5050e8" stroke-width="1"/>
<path d="M473.9 228.2v-2.5M473.9 34.4v2.5" stroke="#5050e8" stroke-width="1"/>
<path d="M512.5 228.2v-2.5M512.5 34.4v2.5" stroke="#5050e8" stroke-width="1"/>
<path d="M319.5 195.9h2.5M512.5 195.9h-2.5" stroke="#5050e8" stroke-width="1"/>
<path d="M319.5 163.6h2.5M512.5 163.6h-2.5" stroke="#5050e8" stroke-width="1"/>
<path d="M319.5 131.3h2.5M512.5 131.3h-2.5" stroke="#5050e8" stroke-width="1"/>
<path d="M319.5 99.0h2.5M512.5 99.0h-2.5" stroke="#5050e8" stroke-width="1"/>
<path d="M319.5 66.7h2.5M512.5 66.7h-2.5" stroke="#5050e8" stroke-width="1"/>
<rect x="579.5" y="34.4" width="193.5" height="193.8" fill="none" stroke="#5050e8" stroke-width="1.2"/>
<path d="M618.2 228.2v-2.5M618.2 34.4v2.5" stroke="#5050e8" stroke-width="1"/>
<path d="M656.9 228.2v-2.5M656.9 34.4v2.5" stroke="#5050e8" stroke-width="1"/>
<path d="M695.6 228.2v-2.5M695.6 34.4v2.5" stroke="#5050e8" stroke-width="1"/>
<path d="M734.3 228.2v-2.5M734.3 34.4v2.5" stroke="#5050e8" stroke-width="1"/>
<path d="M773.0 228.2v-2.5M773.0 34.4v2.5" stroke="#5050e8" stroke-width="1"/>
<path d="M579.5 195.9h2.5M773.0 195.9h-2.5" stroke="#5050e8" stroke-width="1"/>
<path d="M579.5 163.6h2.5M773.0 163.6h-2.5" stroke="#5050e8" stroke-width="1"/>
<path d="M579.5 131.3h2.5M773.0 131.3h-2.5" stroke="#5050e8" stroke-width="1"/>
<path d="M579.5 99.0h2.5M773.0 99.0h-2.5" stroke="#5050e8" stroke-width="1"/>
<path d="M579.5 66.7h2.5M773.0 66.7h-2.5" stroke="#5050e8" stroke-width="1"/>
<rect x="59.5" y="306.3" width="194.0" height="193.1" fill="none" stroke="#5050e8" stroke-width="1.2"/>
<path d="M98.3 499.4v-2.5M98.3 306.3v2.5" stroke="#5050e8" stroke-width="1"/>
<path d="M137.1 499.4v-2.5M137.1 306.3v2.5" stroke="#5050e8" stroke-width="1"/>
<path d="M175.9 499.4v-2.5M175.9 306.3v2.5" stroke="#5050e8" stroke-width="1"/>
<path d="M214.7 499.4v-2.5M214.7 306.3v2.5" stroke="#5050e8" stroke-width="1"/>
<path d="M253.5 499.4v-2.5M253.5 306.3v2.5" stroke="#5050e8" stroke-width="1"/>
<path d="M59.5 467.2h2.5M253.5 467.2h-2.5" stroke="#5050e8" stroke-width="1"/>
<path d="M59.5 435.0h2.5M253.5 435.0h-2.5" stroke="#5050e8" stroke-width="1"/>
<path d="M59.5 402.8h2.5M253.5 402.8h-2.5" stroke="#5050e8" stroke-width="1"/>
<path d="M59.5 370.7h2.5M253.5 370.7h-2.5" stroke="#5050e8" stroke-width="1"/>
<path d="M59.5 338.5h2.5M253.5 338.5h-2.5" stroke="#5050e8" stroke-width="1"/>
<rect x="318.9" y="306.3" width="193.3" height="193.1" fill="none" stroke="#5050e8" stroke-width="1.2"/>
<path d="M357.6 499.4v-2.5M357.6 306.3v2.5" stroke="#5050e8" stroke-width="1"/>
<path d="M396.2 499.4v-2.5M396.2 306.3v2.5" stroke="#5050e8" stroke-width="1"/>
<path d="M434.9 499.4v-2.5M434.9 306.3v2.5" stroke="#5050e8" stroke-width="1"/>
<path d="M473.5 499.4v-2.5M473.5 306.3v2.5" stroke="#5050e8" stroke-width="1"/>
<path d="M512.2 499.4v-2.5M512.2 306.3v2.5" stroke="#5050e8" stroke-width="1"/>
<path d="M318.9 467.2h2.5M512.2 467.2h-2.5" stroke="#5050e8" stroke-width="1"/>
<path d="M318.9 435.0h2.5M512.2 435.0h-2.5" stroke="#5050e8" stroke-width="1"/>
<path d="M318.9 402.8h2.5M512.2 402.8h-2.5" stroke="#5050e8" stroke-width="1"/>
<path d="M318.9 370.7h2.5M512.2 370.7h-2.5" stroke="#5050e8" stroke-width="1"/>
<path d="M318.9 338.5h2.5M512.2 338.5h-2.5" stroke="#5050e8" stroke-width="1"/>
<rect x="578.9" y="306.3" width="193.5" height="193.1" fill="none" stroke="#5050e8" stroke-width="1.2"/>
<path d="M617.6 499.4v-2.5M617.6 306.3v2.5" stroke="#5050e8" stroke-width="1"/>
<path d="M656.3 499.4v-2.5M656.3 306.3v2.5" stroke="#5050e8" stroke-width="1"/>
<path d="M695.0 499.4v-2.5M695.0 306.3v2.5" stroke="#5050e8" stroke-width="1"/>
<path d="M733.7 499.4v-2.5M733.7 306.3v2.5" stroke="#5050e8" stroke-width="1"/>
<path d="M772.4 499.4v-2.5M772.4 306.3v2.5" stroke="#5050e8" stroke-width="1"/>
<path d="M578.9 467.2h2.5M772.4 467.2h-2.5" stroke="#5050e8" stroke-width="1"/>
<path d="M578.9 435.0h2.5M772.4 435.0h-2.5" stroke="#5050e8" stroke-width="1"/>
<path d="M578.9 402.8h2.5M772.4 402.8h-2.5" stroke="#5050e8" stroke-width="1"/>
<path d="M578.9 370.7h2.5M772.4 370.7h-2.5" stroke="#5050e8" stroke-width="1"/>
<path d="M578.9 338.5h2.5M772.4 338.5h-2.5" stroke="#5050e8" stroke-width="1"/>
<circle cx="215.4" cy="108.3" r="2.8" fill="none" stroke="#3a3a3a" stroke-width="1"/>
<text x="226.6" y="112.2" class="lg" fill="#3a3a3a" font-weight="bold">s1</text>
<rect x="212.2" y="117.0" width="6.5" height="6.5" fill="none" stroke="#3333ff" stroke-width="1"/>
<text x="226.6" y="124.1" class="lg" fill="#3333ff" font-weight="bold">s2</text>
<path d="M215.4 128.7L218.8 132.2L215.4 135.6L212.0 132.2Z" fill="none" stroke="#2e8b57" stroke-width="1"/>
<text x="226.6" y="136.1" class="lg" fill="#2e8b57" font-weight="bold">s3</text>
<path d="M212.3 141.0L218.5 147.2M218.5 141.0L212.3 147.2" stroke="#ff3333" stroke-width="1"/>
<text x="226.6" y="148.0" class="lg" fill="#ff3333" font-weight="bold">s4</text>
<path d="M212.1 156.0H218.7M215.4 152.7V159.3" stroke="#cc33ff" stroke-width="1"/>
<text x="226.6" y="159.9" class="lg" fill="#cc33ff" font-weight="bold">s5</text>
<path d="M215.4 165.3L218.7 169.9H212.1Z" fill="none" stroke="#22eeff" stroke-width="1.1" stroke-linejoin="round"/>
<text x="226.6" y="171.8" class="lg" fill="#22eeff" font-weight="bold">s6</text>
<circle cx="215.4" cy="179.9" r="3.2" fill="#8b6914"/>
<text x="226.6" y="183.8" class="lg" fill="#8b6914" font-weight="normal">s7</text>
<rect x="212.0" y="188.4" width="6.7" height="6.7" fill="#ff6a13"/>
<text x="226.6" y="195.7" class="lg" fill="#ff6a13" font-weight="normal">s8</text>
<path d="M215.4 200.1L219.0 203.7L215.4 207.4L211.8 203.7Z" fill="#12aef0"/>
<text x="226.6" y="207.6" class="lg" fill="#12aef0" font-weight="bold">s9</text>
<path d="M215.4 212.3L218.8 218.4H212.0Z" fill="#555555"/>
<text x="226.6" y="219.6" class="lg" fill="#555555" font-weight="normal">s10</text>
<circle cx="470.8" cy="107.6" r="2.8" fill="none" stroke="#3a3a3a" stroke-width="1"/>
<text x="482.0" y="111.5" class="lg" fill="#3a3a3a" font-weight="normal" stroke="#3a3a3a" stroke-width="0.25">s11</text>
<rect x="467.6" y="116.3" width="6.5" height="6.5" fill="none" stroke="#3333ff" stroke-width="1"/>
<text x="482.0" y="123.5" class="lg" fill="#3333ff" font-weight="normal" stroke="#3333ff" stroke-width="0.25">s12</text>
<path d="M470.8 128.1L474.2 131.5L470.8 134.9L467.4 131.5Z" fill="none" stroke="#2e8b57" stroke-width="1"/>
<text x="482.0" y="135.4" class="lg" fill="#2e8b57" font-weight="normal" stroke="#2e8b57" stroke-width="0.25">s13</text>
<path d="M467.7 140.3L473.9 146.6M473.9 140.3L467.7 146.6" stroke="#ff3333" stroke-width="1"/>
<text x="482.0" y="147.3" class="lg" fill="#ff3333" font-weight="normal" stroke="#ff3333" stroke-width="0.25">s14</text>
<path d="M467.5 155.4H474.1M470.8 152.1V158.7" stroke="#cc33ff" stroke-width="1"/>
<text x="482.0" y="159.3" class="lg" fill="#cc33ff" font-weight="normal" stroke="#cc33ff" stroke-width="0.25">s15</text>
<path d="M470.8 164.7L474.1 169.3H467.5Z" fill="none" stroke="#22eeff" stroke-width="1.1" stroke-linejoin="round"/>
<text x="482.0" y="171.2" class="lg" fill="#22eeff" font-weight="normal" stroke="#22eeff" stroke-width="0.25">s16</text>
<circle cx="470.8" cy="179.3" r="3.2" fill="#8b6914"/>
<text x="482.0" y="183.2" class="lg" fill="#8b6914" font-weight="normal">s17</text>
<rect x="467.4" y="187.9" width="6.7" height="6.7" fill="#ff6a13"/>
<text x="482.0" y="195.2" class="lg" fill="#ff6a13" font-weight="normal">s18</text>
<path d="M470.8 199.6L474.4 203.2L470.8 206.8L467.2 203.2Z" fill="#12aef0"/>
<text x="482.0" y="207.1" class="lg" fill="#12aef0" font-weight="normal" stroke="#12aef0" stroke-width="0.25">s19</text>
<path d="M470.8 211.7L474.2 217.9H467.4Z" fill="#555555"/>
<text x="482.0" y="219.0" class="lg" fill="#555555" font-weight="normal">s20</text>
<circle cx="729.0" cy="108.7" r="2.8" fill="none" stroke="#3a3a3a" stroke-width="1"/>
<text x="740.5" y="112.6" class="lg" fill="#3a3a3a" font-weight="normal" stroke="#3a3a3a" stroke-width="0.25">s21</text>
<rect x="725.8" y="117.4" width="6.5" height="6.5" fill="none" stroke="#3333ff" stroke-width="1"/>
<text x="740.5" y="124.5" class="lg" fill="#3333ff" font-weight="normal" stroke="#3333ff" stroke-width="0.25">s22</text>
<path d="M729.0 129.1L732.4 132.6L729.0 136.0L725.6 132.6Z" fill="none" stroke="#2e8b57" stroke-width="1"/>
<text x="740.5" y="136.5" class="lg" fill="#2e8b57" font-weight="normal" stroke="#2e8b57" stroke-width="0.25">s23</text>
<path d="M725.9 141.4L732.1 147.6M732.1 141.4L725.9 147.6" stroke="#ff3333" stroke-width="1"/>
<text x="740.5" y="148.4" class="lg" fill="#ff3333" font-weight="normal" stroke="#ff3333" stroke-width="0.25">s24</text>
<path d="M725.7 156.4H732.3M729.0 153.1V159.7" stroke="#cc33ff" stroke-width="1"/>
<text x="740.5" y="160.3" class="lg" fill="#cc33ff" font-weight="normal">s25</text>
<path d="M729.0 165.7L732.3 170.3H725.7Z" fill="none" stroke="#22eeff" stroke-width="1.1" stroke-linejoin="round"/>
<text x="740.5" y="172.2" class="lg" fill="#22eeff" font-weight="normal" stroke="#22eeff" stroke-width="0.25">s26</text>
<circle cx="729.0" cy="180.3" r="3.2" fill="#8b6914"/>
<text x="740.5" y="184.2" class="lg" fill="#8b6914" font-weight="normal">s27</text>
<rect x="725.6" y="188.8" width="6.7" height="6.7" fill="#ff6a13"/>
<text x="740.5" y="196.1" class="lg" fill="#ff6a13" font-weight="normal">s28</text>
<path d="M729.0 200.5L732.6 204.1L729.0 207.8L725.4 204.1Z" fill="#12aef0"/>
<text x="740.5" y="208.0" class="lg" fill="#12aef0" font-weight="normal" stroke="#12aef0" stroke-width="0.25">s29</text>
<path d="M729.0 212.7L732.4 218.8H725.6Z" fill="#555555"/>
<text x="740.5" y="220.0" class="lg" fill="#555555" font-weight="normal">s30</text>
<circle cx="83.0" cy="321.4" r="2.8" fill="none" stroke="#3a3a3a" stroke-width="1"/>
<text x="93.7" y="325.3" class="lg" fill="#3a3a3a" font-weight="normal">s1</text>
<rect x="79.8" y="330.1" width="6.5" height="6.5" fill="none" stroke="#3333ff" stroke-width="1"/>
<text x="93.7" y="337.3" class="lg" fill="#3333ff" font-weight="normal">s2</text>
<path d="M83.0 341.9L86.4 345.4L83.0 348.8L79.6 345.4Z" fill="none" stroke="#2e8b57" stroke-width="1"/>
<text x="93.7" y="349.3" class="lg" fill="#2e8b57" font-weight="normal" stroke="#2e8b57" stroke-width="0.25">s3</text>
<path d="M79.9 354.2L86.1 360.5M86.1 354.2L79.9 360.5" stroke="#ff3333" stroke-width="1"/>
<text x="93.7" y="361.2" class="lg" fill="#ff3333" font-weight="normal" stroke="#ff3333" stroke-width="0.25">s4</text>
<path d="M79.7 369.3H86.3M83.0 366.0V372.6" stroke="#cc33ff" stroke-width="1"/>
<text x="93.7" y="373.2" class="lg" fill="#cc33ff" font-weight="normal">s5</text>
<path d="M83.0 378.6L86.3 383.3H79.7Z" fill="none" stroke="#22eeff" stroke-width="1.1" stroke-linejoin="round"/>
<text x="93.7" y="385.2" class="lg" fill="#22eeff" font-weight="normal" stroke="#22eeff" stroke-width="0.25">s6</text>
<circle cx="83.0" cy="393.3" r="3.2" fill="#8b6914"/>
<text x="93.7" y="397.2" class="lg" fill="#8b6914" font-weight="normal">s7</text>
<rect x="79.6" y="401.9" width="6.7" height="6.7" fill="#ff6a13"/>
<text x="93.7" y="409.2" class="lg" fill="#ff6a13" font-weight="normal">s8</text>
<path d="M83.0 413.6L86.6 417.2L83.0 420.9L79.4 417.2Z" fill="#12aef0"/>
<text x="93.7" y="421.1" class="lg" fill="#12aef0" font-weight="normal" stroke="#12aef0" stroke-width="0.25">s9</text>
<path d="M83.0 425.8L86.4 432.0H79.6Z" fill="#555555"/>
<text x="93.7" y="433.1" class="lg" fill="#555555" font-weight="normal">s10</text>
<circle cx="344.0" cy="321.6" r="2.8" fill="none" stroke="#3a3a3a" stroke-width="1"/>
<text x="355.9" y="325.5" class="lg" fill="#3a3a3a" font-weight="normal" stroke="#3a3a3a" stroke-width="0.25">s11</text>
<rect x="340.8" y="330.3" width="6.5" height="6.5" fill="none" stroke="#3333ff" stroke-width="1"/>
<text x="355.9" y="337.4" class="lg" fill="#3333ff" font-weight="normal" stroke="#3333ff" stroke-width="0.25">s12</text>
<path d="M344.0 342.0L347.4 345.4L344.0 348.8L340.6 345.4Z" fill="none" stroke="#2e8b57" stroke-width="1"/>
<text x="355.9" y="349.3" class="lg" fill="#2e8b57" font-weight="normal" stroke="#2e8b57" stroke-width="0.25">s13</text>
<path d="M340.9 354.2L347.1 360.4M347.1 354.2L340.9 360.4" stroke="#ff3333" stroke-width="1"/>
<text x="355.9" y="361.2" class="lg" fill="#ff3333" font-weight="normal" stroke="#ff3333" stroke-width="0.25">s14</text>
<path d="M340.7 369.2H347.3M344.0 365.9V372.5" stroke="#cc33ff" stroke-width="1"/>
<text x="355.9" y="373.1" class="lg" fill="#cc33ff" font-weight="normal" stroke="#cc33ff" stroke-width="0.25">s15</text>
<path d="M344.0 378.4L347.3 383.1H340.7Z" fill="none" stroke="#22eeff" stroke-width="1.1" stroke-linejoin="round"/>
<text x="355.9" y="385.0" class="lg" fill="#22eeff" font-weight="normal" stroke="#22eeff" stroke-width="0.25">s16</text>
<circle cx="344.0" cy="393.0" r="3.2" fill="#8b6914"/>
<text x="355.9" y="396.9" class="lg" fill="#8b6914" font-weight="normal">s17</text>
<rect x="340.6" y="401.5" width="6.7" height="6.7" fill="#ff6a13"/>
<text x="355.9" y="408.8" class="lg" fill="#ff6a13" font-weight="normal">s18</text>
<path d="M344.0 413.2L347.6 416.8L344.0 420.4L340.4 416.8Z" fill="#12aef0"/>
<text x="355.9" y="420.7" class="lg" fill="#12aef0" font-weight="normal" stroke="#12aef0" stroke-width="0.25">s19</text>
<path d="M344.0 425.3L347.4 431.4H340.6Z" fill="#555555"/>
<text x="355.9" y="432.6" class="lg" fill="#555555" font-weight="normal">s20</text>
<circle cx="603.6" cy="321.0" r="2.8" fill="none" stroke="#3a3a3a" stroke-width="1"/>
<text x="615.9" y="324.9" class="lg" fill="#3a3a3a" font-weight="normal" stroke="#3a3a3a" stroke-width="0.25">s21</text>
<rect x="600.4" y="329.6" width="6.5" height="6.5" fill="none" stroke="#3333ff" stroke-width="1"/>
<text x="615.9" y="336.7" class="lg" fill="#3333ff" font-weight="normal">s22</text>
<path d="M603.6 341.2L607.0 344.7L603.6 348.1L600.2 344.7Z" fill="none" stroke="#2e8b57" stroke-width="1"/>
<text x="615.9" y="348.6" class="lg" fill="#2e8b57" font-weight="normal" stroke="#2e8b57" stroke-width="0.25">s23</text>
<path d="M600.5 353.4L606.7 359.6M606.7 353.4L600.5 359.6" stroke="#ff3333" stroke-width="1"/>
<text x="615.9" y="360.4" class="lg" fill="#ff3333" font-weight="normal" stroke="#ff3333" stroke-width="0.25">s24</text>
<path d="M600.3 368.3H606.9M603.6 365.0V371.6" stroke="#cc33ff" stroke-width="1"/>
<text x="615.9" y="372.2" class="lg" fill="#cc33ff" font-weight="normal">s25</text>
<path d="M603.6 377.5L606.9 382.1H600.3Z" fill="none" stroke="#22eeff" stroke-width="1.1" stroke-linejoin="round"/>
<text x="615.9" y="384.0" class="lg" fill="#22eeff" font-weight="normal" stroke="#22eeff" stroke-width="0.25">s26</text>
<circle cx="603.6" cy="392.0" r="3.2" fill="#8b6914"/>
<text x="615.9" y="395.9" class="lg" fill="#8b6914" font-weight="normal">s27</text>
<rect x="600.2" y="400.4" width="6.7" height="6.7" fill="#ff6a13"/>
<text x="615.9" y="407.7" class="lg" fill="#ff6a13" font-weight="normal">s28</text>
<path d="M603.6 412.0L607.2 415.6L603.6 419.2L600.0 415.6Z" fill="#12aef0"/>
<text x="615.9" y="419.5" class="lg" fill="#12aef0" font-weight="normal" stroke="#12aef0" stroke-width="0.25">s29</text>
<path d="M603.6 424.1L607.0 430.2H600.2Z" fill="#555555"/>
<text x="615.9" y="431.4" class="lg" fill="#555555" font-weight="normal">s30</text>
<text transform="translate(71,22.6) scale(1.1,1.06)" class="pl">(a)</text>
<text transform="translate(72.8,295) scale(1.1,1.06)" class="pl">(b)</text>
</svg></body></html>
